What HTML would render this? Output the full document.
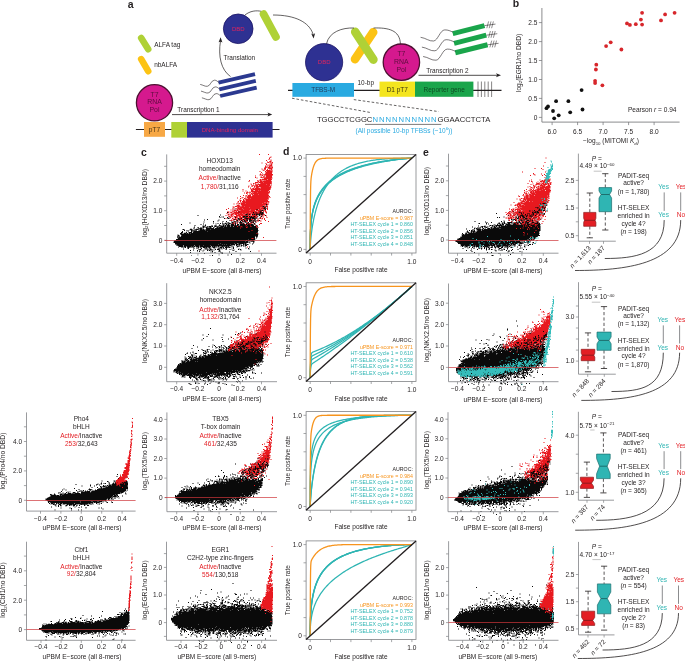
<!DOCTYPE html><html><head><meta charset="utf-8"><style>html,body{margin:0;padding:0;background:#fff;overflow:hidden}svg{display:block}</style></head><body>
<svg width="685" height="662" viewBox="0 0 685 662" font-family="'Liberation Sans', Arial, sans-serif" fill="#231f20">
<text x="127.8" y="7.7" font-size="10.5" font-weight="bold">a</text>
<line x1="141.2" y1="38" x2="148.2" y2="49.3" stroke="#afd136" stroke-width="6.6" stroke-linecap="round"/>
<line x1="141.2" y1="59.2" x2="148.2" y2="71.2" stroke="#fcc314" stroke-width="6.6" stroke-linecap="round"/>
<text x="154.2" y="47.3" font-size="6.45">ALFA tag</text>
<text x="154.2" y="67.0" font-size="6.45">nbALFA</text>
<line x1="135.9" y1="129.5" x2="279.5" y2="129.5" stroke="#231f20" stroke-width="1.1"/>
<rect x="144" y="122" width="21" height="14.8" fill="#f7a845"/>
<text x="154.5" y="132.2" font-size="6.6" text-anchor="middle" fill="#4a3515">pT7</text>
<rect x="171.3" y="122" width="16" height="15.6" fill="#afd136"/>
<rect x="187" y="122" width="85.6" height="15.6" fill="#2e3192"/>
<text x="229.8" y="132.3" font-size="6.1" text-anchor="middle" fill="#e0245e">DNA-binding domain</text>
<line x1="172" y1="114.6" x2="269" y2="114.6" stroke="#231f20" stroke-width="0.8"/>
<path d="M272.2 114.6 L267.5 112.6 L268.6 114.6 L267.5 116.6 Z" fill="#231f20"/>
<text x="177.3" y="112.2" font-size="6.45">Transcription 1</text>
<circle cx="154.5" cy="102.8" r="18.1" fill="#d5198e" stroke="#4d0f31" stroke-width="1.3"/>
<text x="154.5" y="96.9" font-size="6.9" text-anchor="middle" fill="#5e0e3e">T7</text>
<text x="154.5" y="104.4" font-size="6.9" text-anchor="middle" fill="#5e0e3e">RNA</text>
<text x="154.5" y="111.6" font-size="6.9" text-anchor="middle" fill="#5e0e3e">Pol</text>
<line x1="218.5" y1="82.6" x2="255" y2="74.2" stroke="#2b3990" stroke-width="3.8"/>
<path d="M200.2 84.4 C203.0 85.0 205.0 86.6 207.3 86.3 C210.5 86.0 211.0 80.3 214.4 80.2 C216.5 80.1 217.5 81.5 218.8 82.6" fill="none" stroke="#231f20" stroke-width="0.6"/>
<line x1="219.3" y1="89.3" x2="255.8" y2="80.9" stroke="#2b3990" stroke-width="3.8"/>
<path d="M201.0 91.1 C203.8 91.7 205.8 93.3 208.1 93.0 C211.3 92.7 211.8 87.0 215.2 86.9 C217.3 86.8 218.3 88.2 219.6 89.3" fill="none" stroke="#231f20" stroke-width="0.6"/>
<line x1="220.2" y1="96" x2="256.7" y2="87.6" stroke="#2b3990" stroke-width="3.8"/>
<path d="M201.9 97.8 C204.7 98.4 206.7 100.0 209.0 99.7 C212.2 99.4 212.7 93.7 216.1 93.6 C218.2 93.5 219.2 94.9 220.5 96.0" fill="none" stroke="#231f20" stroke-width="0.6"/>
<path d="M230.5 76.5 C221 70 218 56 220.5 41" fill="none" stroke="#231f20" stroke-width="0.7"/>
<path d="M220.6 37.2 L218.6 42.3 L220.6 41.4 L222.4 42.6 Z" fill="#231f20"/>
<text x="223.5" y="60.0" font-size="6.45">Translation</text>
<circle cx="238.2" cy="28.8" r="14.8" fill="#2e3192" stroke="#1b1464" stroke-width="0.8"/>
<text x="238.3" y="30.8" font-size="6.0" text-anchor="middle" fill="#e0245e">DBD</text>
<path d="M245 15 C250 11 256 10 262 11.5" fill="none" stroke="#231f20" stroke-width="0.7"/>
<line x1="263.6" y1="14.2" x2="275.9" y2="36.9" stroke="#afd136" stroke-width="7.8" stroke-linecap="round"/>
<path d="M273 15 C295 15 309 22 313 34" fill="none" stroke="#231f20" stroke-width="0.7"/>
<path d="M313.6 38.6 L311.2 33.6 L313.2 34.6 L315.1 33.2 Z" fill="#231f20"/>
<line x1="288" y1="90.4" x2="501.5" y2="90.4" stroke="#231f20" stroke-width="1.1"/>
<rect x="292.4" y="83" width="61.6" height="13.8" fill="#29aae1"/>
<text x="323.2" y="92.3" font-size="6.45" text-anchor="middle" fill="#1f3a5a">TFBS-M</text>
<text x="357.5" y="84.5" font-size="6.45">10-bp</text>
<rect x="379.5" y="81.6" width="35.6" height="15.2" fill="#f4e51e"/>
<text x="397.3" y="91.8" font-size="6.5" text-anchor="middle" fill="#3a3510">D1 pT7</text>
<rect x="415" y="81.6" width="58.4" height="15.2" fill="#1aa54b"/>
<text x="444.2" y="91.8" font-size="6.45" text-anchor="middle" fill="#0d4a22">Reporter gene</text>
<line x1="478.0" y1="81.5" x2="478.0" y2="97" stroke="#231f20" stroke-width="0.55"/>
<line x1="481.4" y1="81.5" x2="481.4" y2="97" stroke="#231f20" stroke-width="0.55"/>
<line x1="484.8" y1="81.5" x2="484.8" y2="97" stroke="#231f20" stroke-width="0.55"/>
<line x1="488.2" y1="81.5" x2="488.2" y2="97" stroke="#231f20" stroke-width="0.55"/>
<line x1="491.6" y1="81.5" x2="491.6" y2="97" stroke="#231f20" stroke-width="0.55"/>
<circle cx="324.1" cy="62.2" r="18.6" fill="#2e3192" stroke="#1b1464" stroke-width="0.8"/>
<text x="324.2" y="64.3" font-size="6.0" text-anchor="middle" fill="#e0245e">DBD</text>
<line x1="373.2" y1="32.2" x2="355" y2="59.2" stroke="#fcc314" stroke-width="8.6" stroke-linecap="round"/>
<line x1="355.2" y1="31.8" x2="373.4" y2="59.6" stroke="#afd136" stroke-width="8.6" stroke-linecap="round"/>
<path d="M326.5 43.8 C329 32 342 27.5 354 28" fill="none" stroke="#231f20" stroke-width="0.7"/>
<path d="M373.5 28 C388 27.5 400 30 400.4 44" fill="none" stroke="#231f20" stroke-width="0.7"/>
<circle cx="401.4" cy="62.2" r="18.2" fill="#d5198e" stroke="#4d0f31" stroke-width="1.3"/>
<text x="401.4" y="56.3" font-size="6.9" text-anchor="middle" fill="#5e0e3e">T7</text>
<text x="401.4" y="64.2" font-size="6.9" text-anchor="middle" fill="#5e0e3e">RNA</text>
<text x="401.4" y="71.9" font-size="6.9" text-anchor="middle" fill="#5e0e3e">Pol</text>
<line x1="418.5" y1="75.3" x2="497.5" y2="75.3" stroke="#231f20" stroke-width="0.8"/>
<path d="M501 75.3 L496 73.3 L497.2 75.3 L496 77.3 Z" fill="#231f20"/>
<text x="426.2" y="72.6" font-size="6.45">Transcription 2</text>
<line x1="452.8" y1="33.6" x2="484.5" y2="25.6" stroke="#1aa54b" stroke-width="5.0"/>
<path d="M420.6 37.3 C426.0 38.0 429.0 41.5 433.6 41.0 C438.0 40.5 440.0 30.0 444.8 29.9 C448.0 29.8 450.5 31.0 453.0 32.2" fill="none" stroke="#231f20" stroke-width="0.6"/>
<line x1="484.5" y1="25.6" x2="495.5" y2="24.1" stroke="#231f20" stroke-width="0.55"/>
<line x1="488.6" y1="21.4" x2="486.8" y2="28.2" stroke="#231f20" stroke-width="0.5"/>
<line x1="491.0" y1="21.4" x2="489.2" y2="28.2" stroke="#231f20" stroke-width="0.5"/>
<line x1="493.4" y1="21.4" x2="491.6" y2="28.2" stroke="#231f20" stroke-width="0.5"/>
<line x1="454.1" y1="43.4" x2="486.3" y2="35.2" stroke="#1aa54b" stroke-width="5.0"/>
<path d="M421.9 47.1 C427.3 47.8 430.3 51.3 434.9 50.8 C439.3 50.3 441.3 39.8 446.1 39.7 C449.3 39.6 451.8 40.8 454.3 42.0" fill="none" stroke="#231f20" stroke-width="0.6"/>
<line x1="486.3" y1="35.2" x2="497.3" y2="33.7" stroke="#231f20" stroke-width="0.55"/>
<line x1="490.4" y1="31.0" x2="488.6" y2="37.8" stroke="#231f20" stroke-width="0.5"/>
<line x1="492.8" y1="31.0" x2="491.0" y2="37.8" stroke="#231f20" stroke-width="0.5"/>
<line x1="495.2" y1="31.0" x2="493.4" y2="37.8" stroke="#231f20" stroke-width="0.5"/>
<line x1="455.3" y1="52.8" x2="487.6" y2="44.8" stroke="#1aa54b" stroke-width="5.0"/>
<path d="M423.1 56.5 C428.5 57.2 431.5 60.7 436.1 60.2 C440.5 59.7 442.5 49.2 447.3 49.1 C450.5 49.0 453.0 50.2 455.5 51.4" fill="none" stroke="#231f20" stroke-width="0.6"/>
<line x1="487.6" y1="44.8" x2="498.6" y2="43.3" stroke="#231f20" stroke-width="0.55"/>
<line x1="491.7" y1="40.6" x2="489.9" y2="47.4" stroke="#231f20" stroke-width="0.5"/>
<line x1="494.1" y1="40.6" x2="492.3" y2="47.4" stroke="#231f20" stroke-width="0.5"/>
<line x1="496.5" y1="40.6" x2="494.7" y2="47.4" stroke="#231f20" stroke-width="0.5"/>
<line x1="292" y1="98.2" x2="371.5" y2="112.7" stroke="#231f20" stroke-width="0.7" stroke-dasharray="2.6 1.9"/>
<line x1="353.8" y1="99.6" x2="438.7" y2="111.6" stroke="#231f20" stroke-width="0.7" stroke-dasharray="2.6 1.9"/>
<text x="316.9" y="121.6" font-size="7.7" fill="#231f20">TGGCCTCGGC<tspan fill="#29aae1" letter-spacing="0.95">NNNNNNNNNN</tspan>GGAACCTCTA</text>
<line x1="365" y1="124.4" x2="441.3" y2="124.4" stroke="#231f20" stroke-width="0.6"/>
<text x="355.6" y="132.8" font-size="6.5" fill="#29aae1">(All possible 10-bp TFBSs (~10<tspan font-size="4.4" dy="-2.4">6</tspan><tspan dy="2.4">))</tspan></text>
<text x="512.8" y="7.1" font-size="10.5" font-weight="bold">b</text>
<line x1="541.9" y1="8" x2="541.9" y2="122.1" stroke="#6d6e71" stroke-width="0.8"/>
<line x1="541.9" y1="122.1" x2="679.6" y2="122.1" stroke="#6d6e71" stroke-width="0.8"/>
<line x1="538.9" y1="117.4" x2="541.9" y2="117.4" stroke="#6d6e71" stroke-width="0.7"/>
<text x="537.4" y="119.7" font-size="6.55" text-anchor="end">0</text>
<line x1="538.9" y1="98.4" x2="541.9" y2="98.4" stroke="#6d6e71" stroke-width="0.7"/>
<text x="537.4" y="100.7" font-size="6.55" text-anchor="end">0.5</text>
<line x1="538.9" y1="79.5" x2="541.9" y2="79.5" stroke="#6d6e71" stroke-width="0.7"/>
<text x="537.4" y="81.8" font-size="6.55" text-anchor="end">1.0</text>
<line x1="538.9" y1="60.5" x2="541.9" y2="60.5" stroke="#6d6e71" stroke-width="0.7"/>
<text x="537.4" y="62.8" font-size="6.55" text-anchor="end">1.5</text>
<line x1="538.9" y1="41.6" x2="541.9" y2="41.6" stroke="#6d6e71" stroke-width="0.7"/>
<text x="537.4" y="43.9" font-size="6.55" text-anchor="end">2.0</text>
<line x1="538.9" y1="22.6" x2="541.9" y2="22.6" stroke="#6d6e71" stroke-width="0.7"/>
<text x="537.4" y="24.9" font-size="6.55" text-anchor="end">2.5</text>
<line x1="552.1" y1="122.1" x2="552.1" y2="125.1" stroke="#6d6e71" stroke-width="0.7"/>
<text x="552.1" y="133.7" font-size="6.55" text-anchor="middle">6.0</text>
<line x1="577.6" y1="122.1" x2="577.6" y2="125.1" stroke="#6d6e71" stroke-width="0.7"/>
<text x="577.6" y="133.7" font-size="6.55" text-anchor="middle">6.5</text>
<line x1="603.1" y1="122.1" x2="603.1" y2="125.1" stroke="#6d6e71" stroke-width="0.7"/>
<text x="603.1" y="133.7" font-size="6.55" text-anchor="middle">7.0</text>
<line x1="628.6" y1="122.1" x2="628.6" y2="125.1" stroke="#6d6e71" stroke-width="0.7"/>
<text x="628.6" y="133.7" font-size="6.55" text-anchor="middle">7.5</text>
<line x1="654.1" y1="122.1" x2="654.1" y2="125.1" stroke="#6d6e71" stroke-width="0.7"/>
<text x="654.1" y="133.7" font-size="6.55" text-anchor="middle">8.0</text>
<text x="611" y="143.4" font-size="6.55" fill="#231f20" text-anchor="middle">−log<tspan font-size="4.4" dy="1.8">10</tspan><tspan dy="-1.8"> (MITOMI </tspan><tspan font-style="italic">K</tspan><tspan font-size="4.4" dy="1.8" font-style="italic">d</tspan><tspan dy="-1.8">)</tspan></text>
<text transform="translate(520.5 63) rotate(-90)" font-size="6.55" fill="#231f20" text-anchor="middle">log<tspan font-size="4.4" dy="1.8">2</tspan><tspan dy="-1.8">(EGR1/no DBD)</tspan></text>
<text x="676.5" y="111.9" font-size="6.55" text-anchor="end">Pearson <tspan font-style="italic">r</tspan> = 0.94</text>
<circle cx="546.5" cy="108.2" r="1.9" fill="#111"/>
<circle cx="548" cy="106.4" r="1.9" fill="#111"/>
<circle cx="553" cy="111" r="1.9" fill="#111"/>
<circle cx="554.2" cy="118.3" r="1.9" fill="#111"/>
<circle cx="556.1" cy="101.2" r="1.9" fill="#111"/>
<circle cx="558.7" cy="115.3" r="1.9" fill="#111"/>
<circle cx="568.4" cy="101.2" r="1.9" fill="#111"/>
<circle cx="570.2" cy="112.3" r="1.9" fill="#111"/>
<circle cx="581.6" cy="90.1" r="1.9" fill="#111"/>
<circle cx="582.5" cy="109.5" r="1.9" fill="#111"/>
<circle cx="642.1" cy="12.8" r="1.9" fill="#d7262b"/>
<circle cx="665.1" cy="14.4" r="1.9" fill="#d7262b"/>
<circle cx="674.6" cy="12.8" r="1.9" fill="#d7262b"/>
<circle cx="640.9" cy="19.6" r="1.9" fill="#d7262b"/>
<circle cx="661" cy="20.4" r="1.9" fill="#d7262b"/>
<circle cx="627" cy="23.4" r="1.9" fill="#d7262b"/>
<circle cx="629.9" cy="24.9" r="1.9" fill="#d7262b"/>
<circle cx="635.8" cy="24.2" r="1.9" fill="#d7262b"/>
<circle cx="642.1" cy="24.6" r="1.9" fill="#d7262b"/>
<circle cx="610.7" cy="42.3" r="1.9" fill="#d7262b"/>
<circle cx="606.1" cy="46.1" r="1.9" fill="#d7262b"/>
<circle cx="621.4" cy="49.5" r="1.9" fill="#d7262b"/>
<circle cx="596.3" cy="64.7" r="1.9" fill="#d7262b"/>
<circle cx="595.9" cy="69.5" r="1.9" fill="#d7262b"/>
<circle cx="595.1" cy="80.8" r="1.9" fill="#d7262b"/>
<circle cx="595.1" cy="83.1" r="1.9" fill="#d7262b"/>
<circle cx="602.4" cy="85.3" r="1.9" fill="#d7262b"/>
<path transform="translate(166 150) scale(0.5)" fill="#0a0a0a" d="M153 111h2v1h-2zM153 112h2v1h-2zM137 117h2v1h-2zM137 118h2v1h-2zM159 123h2v1h-2zM122 124h2v1h-2zM159 124h2v1h-2zM122 125h2v1h-2zM163 128h2v1h-2zM108 129h2v1h-2zM163 129h2v1h-2zM63 130h2v1h-2zM108 130h2v1h-2zM63 131h2v1h-2zM158 131h2v1h-2zM106 132h2v1h-2zM158 132h2v1h-2zM106 133h2v1h-2zM111 133h2v1h-2zM114 133h2v1h-2zM125 133h2v1h-2zM107 134h2v1h-2zM111 134h2v1h-2zM114 134h2v1h-2zM122 134h2v1h-2zM125 134h2v1h-2zM140 134h2v1h-2zM107 135h2v1h-2zM122 135h2v1h-2zM140 135h2v1h-2zM174 135h2v1h-2zM116 136h2v1h-2zM123 136h4v1h-4zM160 136h3v1h-3zM174 136h2v1h-2zM116 137h2v1h-2zM123 137h4v1h-4zM158 137h5v1h-5zM82 138h2v1h-2zM136 138h2v1h-2zM158 138h2v1h-2zM76 139h2v1h-2zM82 139h2v1h-2zM105 139h2v1h-2zM136 139h2v1h-2zM146 139h2v1h-2zM151 139h3v1h-3zM158 139h2v1h-2zM76 140h2v1h-2zM105 140h2v1h-2zM127 140h2v1h-2zM146 140h2v1h-2zM151 140h3v1h-3zM158 140h3v1h-3zM103 141h2v1h-2zM127 141h2v1h-2zM135 141h2v1h-2zM153 141h2v1h-2zM157 141h4v1h-4zM94 142h2v1h-2zM103 142h2v1h-2zM113 142h2v1h-2zM120 142h2v1h-2zM135 142h4v1h-4zM148 142h2v1h-2zM153 142h6v1h-6zM166 142h2v1h-2zM75 143h2v1h-2zM94 143h2v1h-2zM113 143h2v1h-2zM120 143h2v1h-2zM130 143h2v1h-2zM133 143h2v1h-2zM136 143h4v1h-4zM143 143h2v1h-2zM148 143h2v1h-2zM151 143h2v1h-2zM155 143h2v1h-2zM158 143h2v1h-2zM166 143h2v1h-2zM75 144h2v1h-2zM123 144h2v1h-2zM130 144h5v1h-5zM138 144h2v1h-2zM143 144h2v1h-2zM147 144h6v1h-6zM158 144h2v1h-2zM164 144h2v1h-2zM169 144h5v1h-5zM47 145h2v1h-2zM94 145h2v1h-2zM112 145h2v1h-2zM119 145h2v1h-2zM123 145h4v1h-4zM132 145h5v1h-5zM146 145h7v1h-7zM155 145h2v1h-2zM160 145h3v1h-3zM164 145h2v1h-2zM169 145h6v1h-6zM47 146h2v1h-2zM94 146h2v1h-2zM103 146h2v1h-2zM108 146h2v1h-2zM112 146h2v1h-2zM118 146h5v1h-5zM124 146h5v1h-5zM132 146h5v1h-5zM138 146h2v1h-2zM146 146h7v1h-7zM154 146h3v1h-3zM160 146h5v1h-5zM169 146h2v1h-2zM173 146h2v1h-2zM74 147h2v1h-2zM99 147h2v1h-2zM103 147h2v1h-2zM108 147h2v1h-2zM113 147h7v1h-7zM121 147h2v1h-2zM125 147h12v1h-12zM138 147h2v1h-2zM142 147h2v1h-2zM148 147h8v1h-8zM161 147h10v1h-10zM177 147h2v1h-2zM30 148h2v1h-2zM69 148h2v1h-2zM74 148h2v1h-2zM99 148h2v1h-2zM113 148h6v1h-6zM120 148h3v1h-3zM124 148h4v1h-4zM129 148h7v1h-7zM138 148h2v1h-2zM142 148h4v1h-4zM148 148h14v1h-14zM163 148h6v1h-6zM170 148h4v1h-4zM177 148h2v1h-2zM30 149h2v1h-2zM69 149h2v1h-2zM78 149h2v1h-2zM106 149h2v1h-2zM113 149h2v1h-2zM120 149h3v1h-3zM124 149h2v1h-2zM130 149h6v1h-6zM138 149h2v1h-2zM142 149h4v1h-4zM147 149h29v1h-29zM57 150h2v1h-2zM78 150h2v1h-2zM91 150h2v1h-2zM99 150h2v1h-2zM106 150h3v1h-3zM114 150h2v1h-2zM117 150h11v1h-11zM130 150h10v1h-10zM141 150h5v1h-5zM147 150h29v1h-29zM179 150h3v1h-3zM57 151h2v1h-2zM73 151h4v1h-4zM78 151h2v1h-2zM91 151h2v1h-2zM96 151h5v1h-5zM105 151h11v1h-11zM117 151h3v1h-3zM122 151h23v1h-23zM147 151h14v1h-14zM162 151h14v1h-14zM179 151h5v1h-5zM73 152h4v1h-4zM78 152h2v1h-2zM83 152h2v1h-2zM86 152h5v1h-5zM92 152h2v1h-2zM96 152h7v1h-7zM105 152h2v1h-2zM109 152h8v1h-8zM118 152h2v1h-2zM121 152h13v1h-13zM136 152h48v1h-48zM56 153h2v1h-2zM73 153h5v1h-5zM81 153h4v1h-4zM86 153h8v1h-8zM97 153h3v1h-3zM101 153h6v1h-6zM108 153h12v1h-12zM121 153h7v1h-7zM130 153h53v1h-53zM56 154h2v1h-2zM63 154h2v1h-2zM73 154h5v1h-5zM79 154h4v1h-4zM85 154h2v1h-2zM88 154h4v1h-4zM95 154h2v1h-2zM101 154h82v1h-82zM55 155h2v1h-2zM63 155h3v1h-3zM68 155h5v1h-5zM74 155h2v1h-2zM79 155h5v1h-5zM85 155h5v1h-5zM94 155h3v1h-3zM101 155h3v1h-3zM105 155h10v1h-10zM116 155h67v1h-67zM55 156h2v1h-2zM64 156h2v1h-2zM67 156h6v1h-6zM74 156h2v1h-2zM80 156h16v1h-16zM98 156h86v1h-86zM49 157h2v1h-2zM55 157h2v1h-2zM61 157h2v1h-2zM65 157h8v1h-8zM80 157h17v1h-17zM98 157h86v1h-86zM33 158h4v1h-4zM48 158h4v1h-4zM55 158h2v1h-2zM59 158h14v1h-14zM74 158h2v1h-2zM79 158h10v1h-10zM90 158h94v1h-94zM33 159h4v1h-4zM47 159h7v1h-7zM57 159h8v1h-8zM68 159h10v1h-10zM79 159h105v1h-105zM36 160h2v1h-2zM41 160h2v1h-2zM47 160h2v1h-2zM50 160h4v1h-4zM55 160h6v1h-6zM67 160h11v1h-11zM79 160h106v1h-106zM36 161h2v1h-2zM41 161h2v1h-2zM44 161h2v1h-2zM50 161h2v1h-2zM53 161h4v1h-4zM59 161h3v1h-3zM64 161h121v1h-121zM32 162h2v1h-2zM41 162h2v1h-2zM44 162h2v1h-2zM50 162h2v1h-2zM53 162h29v1h-29zM83 162h101v1h-101zM32 163h2v1h-2zM50 163h3v1h-3zM55 163h129v1h-129zM30 164h4v1h-4zM40 164h2v1h-2zM46 164h7v1h-7zM54 164h129v1h-129zM30 165h4v1h-4zM37 165h2v1h-2zM40 165h2v1h-2zM44 165h8v1h-8zM54 165h130v1h-130zM28 166h4v1h-4zM35 166h6v1h-6zM42 166h6v1h-6zM49 166h135v1h-135zM28 167h6v1h-6zM35 167h9v1h-9zM46 167h139v1h-139zM29 168h156v1h-156zM23 169h2v1h-2zM29 169h155v1h-155zM23 170h4v1h-4zM31 170h153v1h-153zM23 171h4v1h-4zM30 171h154v1h-154zM23 172h4v1h-4zM30 172h154v1h-154zM22 173h2v1h-2zM25 173h3v1h-3zM29 173h149v1h-149zM180 173h3v1h-3zM22 174h2v1h-2zM25 174h153v1h-153zM181 174h2v1h-2zM23 175h155v1h-155zM180 175h2v1h-2zM23 176h155v1h-155zM180 176h2v1h-2zM24 177h155v1h-155zM20 178h145v1h-145zM166 178h13v1h-13zM20 179h158v1h-158zM19 180h142v1h-142zM162 180h13v1h-13zM16 181h145v1h-145zM162 181h7v1h-7zM171 181h6v1h-6zM16 182h142v1h-142zM159 182h5v1h-5zM169 182h8v1h-8zM15 183h153v1h-153zM169 183h2v1h-2zM173 183h4v1h-4zM15 184h153v1h-153zM175 184h2v1h-2zM15 185h149v1h-149zM167 185h2v1h-2zM174 185h2v1h-2zM18 186h91v1h-91zM110 186h33v1h-33zM145 186h15v1h-15zM167 186h2v1h-2zM174 186h2v1h-2zM18 187h118v1h-118zM137 187h6v1h-6zM144 187h13v1h-13zM158 187h4v1h-4zM172 187h2v1h-2zM19 188h98v1h-98zM118 188h11v1h-11zM130 188h9v1h-9zM140 188h9v1h-9zM154 188h3v1h-3zM158 188h7v1h-7zM172 188h2v1h-2zM19 189h2v1h-2zM22 189h82v1h-82zM105 189h8v1h-8zM114 189h6v1h-6zM121 189h17v1h-17zM140 189h4v1h-4zM145 189h4v1h-4zM150 189h2v1h-2zM154 189h3v1h-3zM158 189h3v1h-3zM162 189h3v1h-3zM21 190h14v1h-14zM36 190h99v1h-99zM136 190h2v1h-2zM140 190h2v1h-2zM145 190h2v1h-2zM150 190h2v1h-2zM153 190h2v1h-2zM158 190h4v1h-4zM21 191h2v1h-2zM24 191h11v1h-11zM36 191h20v1h-20zM58 191h8v1h-8zM67 191h8v1h-8zM76 191h12v1h-12zM89 191h42v1h-42zM140 191h4v1h-4zM145 191h4v1h-4zM150 191h2v1h-2zM153 191h4v1h-4zM158 191h4v1h-4zM26 192h9v1h-9zM36 192h18v1h-18zM55 192h3v1h-3zM59 192h7v1h-7zM67 192h23v1h-23zM91 192h10v1h-10zM103 192h4v1h-4zM111 192h12v1h-12zM124 192h5v1h-5zM131 192h2v1h-2zM142 192h7v1h-7zM150 192h2v1h-2zM154 192h3v1h-3zM158 192h2v1h-2zM24 193h11v1h-11zM36 193h4v1h-4zM42 193h8v1h-8zM51 193h7v1h-7zM59 193h8v1h-8zM68 193h22v1h-22zM92 193h3v1h-3zM96 193h2v1h-2zM99 193h4v1h-4zM104 193h3v1h-3zM108 193h6v1h-6zM115 193h2v1h-2zM119 193h7v1h-7zM131 193h2v1h-2zM134 193h2v1h-2zM141 193h4v1h-4zM166 193h2v1h-2zM24 194h2v1h-2zM30 194h2v1h-2zM33 194h2v1h-2zM36 194h4v1h-4zM43 194h5v1h-5zM49 194h2v1h-2zM52 194h4v1h-4zM60 194h7v1h-7zM68 194h3v1h-3zM73 194h9v1h-9zM83 194h6v1h-6zM93 194h5v1h-5zM99 194h4v1h-4zM104 194h2v1h-2zM107 194h6v1h-6zM114 194h2v1h-2zM118 194h11v1h-11zM131 194h2v1h-2zM134 194h2v1h-2zM141 194h2v1h-2zM166 194h2v1h-2zM33 195h2v1h-2zM38 195h2v1h-2zM42 195h5v1h-5zM49 195h2v1h-2zM55 195h2v1h-2zM64 195h2v1h-2zM69 195h2v1h-2zM74 195h5v1h-5zM80 195h2v1h-2zM83 195h2v1h-2zM86 195h2v1h-2zM89 195h2v1h-2zM93 195h6v1h-6zM107 195h6v1h-6zM114 195h2v1h-2zM118 195h5v1h-5zM125 195h4v1h-4zM134 195h2v1h-2zM159 195h2v1h-2zM42 196h4v1h-4zM55 196h2v1h-2zM61 196h2v1h-2zM64 196h2v1h-2zM69 196h3v1h-3zM76 196h3v1h-3zM81 196h2v1h-2zM86 196h2v1h-2zM89 196h2v1h-2zM95 196h4v1h-4zM105 196h7v1h-7zM114 196h3v1h-3zM120 196h2v1h-2zM134 196h2v1h-2zM159 196h2v1h-2zM164 196h2v1h-2zM34 197h2v1h-2zM44 197h2v1h-2zM55 197h2v1h-2zM61 197h2v1h-2zM70 197h2v1h-2zM78 197h5v1h-5zM85 197h2v1h-2zM88 197h2v1h-2zM103 197h4v1h-4zM111 197h2v1h-2zM115 197h2v1h-2zM119 197h3v1h-3zM131 197h2v1h-2zM134 197h2v1h-2zM145 197h2v1h-2zM164 197h3v1h-3zM34 198h2v1h-2zM65 198h2v1h-2zM68 198h2v1h-2zM78 198h5v1h-5zM85 198h2v1h-2zM88 198h2v1h-2zM91 198h2v1h-2zM98 198h2v1h-2zM102 198h5v1h-5zM111 198h2v1h-2zM119 198h3v1h-3zM127 198h2v1h-2zM131 198h2v1h-2zM144 198h3v1h-3zM148 198h2v1h-2zM165 198h2v1h-2zM54 199h2v1h-2zM65 199h6v1h-6zM75 199h2v1h-2zM82 199h2v1h-2zM85 199h2v1h-2zM88 199h5v1h-5zM95 199h2v1h-2zM98 199h2v1h-2zM102 199h7v1h-7zM119 199h2v1h-2zM127 199h2v1h-2zM135 199h2v1h-2zM144 199h2v1h-2zM148 199h3v1h-3zM48 200h2v1h-2zM54 200h2v1h-2zM62 200h2v1h-2zM66 200h2v1h-2zM69 200h2v1h-2zM75 200h2v1h-2zM82 200h2v1h-2zM85 200h7v1h-7zM95 200h2v1h-2zM105 200h4v1h-4zM133 200h4v1h-4zM149 200h2v1h-2zM48 201h2v1h-2zM62 201h2v1h-2zM73 201h2v1h-2zM82 201h2v1h-2zM86 201h2v1h-2zM92 201h2v1h-2zM106 201h2v1h-2zM133 201h2v1h-2zM62 202h2v1h-2zM66 202h2v1h-2zM73 202h2v1h-2zM92 202h2v1h-2zM105 202h3v1h-3zM139 202h2v1h-2zM168 202h2v1h-2zM66 203h2v1h-2zM89 203h2v1h-2zM92 203h2v1h-2zM105 203h2v1h-2zM108 203h2v1h-2zM126 203h2v1h-2zM139 203h2v1h-2zM168 203h2v1h-2zM48 204h2v1h-2zM89 204h2v1h-2zM92 204h2v1h-2zM97 204h2v1h-2zM108 204h2v1h-2zM111 204h2v1h-2zM126 204h2v1h-2zM48 205h2v1h-2zM97 205h2v1h-2zM111 205h2v1h-2zM76 206h2v1h-2zM111 206h3v1h-3zM76 207h2v1h-2zM111 207h3v1h-3zM130 208h2v1h-2zM123 209h2v1h-2zM130 209h2v1h-2zM92 210h2v1h-2zM123 210h2v1h-2zM50 211h2v1h-2zM87 211h2v1h-2zM92 211h2v1h-2z"/>
<path transform="translate(166 150) scale(0.5)" fill="#e8191f" d="M186 8h2v1h-2zM204 8h2v1h-2zM186 9h2v1h-2zM204 9h2v1h-2zM209 13h2v1h-2zM207 14h4v1h-4zM207 15h2v1h-2zM206 16h2v1h-2zM206 17h2v1h-2zM205 18h2v1h-2zM205 19h2v1h-2zM209 19h2v1h-2zM200 20h2v1h-2zM209 20h2v1h-2zM200 21h2v1h-2zM209 21h2v1h-2zM207 22h4v1h-4zM202 23h2v1h-2zM206 23h5v1h-5zM202 24h8v1h-8zM212 24h2v1h-2zM191 25h2v1h-2zM203 25h3v1h-3zM209 25h5v1h-5zM191 26h2v1h-2zM199 26h2v1h-2zM209 26h4v1h-4zM199 27h2v1h-2zM207 27h2v1h-2zM211 27h2v1h-2zM200 28h2v1h-2zM207 28h2v1h-2zM210 28h3v1h-3zM200 29h2v1h-2zM203 29h2v1h-2zM207 29h2v1h-2zM210 29h2v1h-2zM203 30h2v1h-2zM207 30h5v1h-5zM198 31h2v1h-2zM201 31h2v1h-2zM205 31h8v1h-8zM198 32h2v1h-2zM201 32h2v1h-2zM205 32h3v1h-3zM209 32h4v1h-4zM198 33h2v1h-2zM201 33h2v1h-2zM206 33h4v1h-4zM211 33h2v1h-2zM198 34h5v1h-5zM204 34h6v1h-6zM211 34h3v1h-3zM196 35h5v1h-5zM203 35h5v1h-5zM209 35h5v1h-5zM196 36h4v1h-4zM203 36h10v1h-10zM191 37h2v1h-2zM196 37h4v1h-4zM205 37h8v1h-8zM191 38h2v1h-2zM196 38h4v1h-4zM202 38h2v1h-2zM207 38h2v1h-2zM210 38h2v1h-2zM193 39h2v1h-2zM197 39h2v1h-2zM202 39h2v1h-2zM207 39h2v1h-2zM210 39h3v1h-3zM193 40h4v1h-4zM200 40h9v1h-9zM211 40h2v1h-2zM195 41h2v1h-2zM200 41h13v1h-13zM187 42h2v1h-2zM198 42h2v1h-2zM202 42h11v1h-11zM187 43h2v1h-2zM198 43h15v1h-15zM190 44h2v1h-2zM199 44h14v1h-14zM190 45h2v1h-2zM199 45h13v1h-13zM199 46h13v1h-13zM188 47h2v1h-2zM192 47h2v1h-2zM198 47h14v1h-14zM188 48h3v1h-3zM192 48h2v1h-2zM195 48h2v1h-2zM198 48h16v1h-16zM187 49h4v1h-4zM195 49h19v1h-19zM187 50h2v1h-2zM192 50h2v1h-2zM197 50h2v1h-2zM200 50h13v1h-13zM178 51h2v1h-2zM189 51h5v1h-5zM195 51h4v1h-4zM200 51h13v1h-13zM178 52h2v1h-2zM189 52h3v1h-3zM195 52h4v1h-4zM200 52h12v1h-12zM194 53h3v1h-3zM200 53h12v1h-12zM178 54h2v1h-2zM189 54h4v1h-4zM194 54h3v1h-3zM199 54h13v1h-13zM178 55h2v1h-2zM181 55h2v1h-2zM189 55h6v1h-6zM196 55h17v1h-17zM181 56h2v1h-2zM193 56h2v1h-2zM196 56h17v1h-17zM196 57h15v1h-15zM188 58h3v1h-3zM192 58h10v1h-10zM204 58h8v1h-8zM187 59h4v1h-4zM192 59h20v1h-20zM166 60h2v1h-2zM183 60h2v1h-2zM187 60h4v1h-4zM192 60h2v1h-2zM196 60h3v1h-3zM200 60h11v1h-11zM166 61h2v1h-2zM182 61h3v1h-3zM187 61h5v1h-5zM194 61h2v1h-2zM197 61h13v1h-13zM165 62h2v1h-2zM182 62h4v1h-4zM187 62h5v1h-5zM193 62h18v1h-18zM165 63h2v1h-2zM184 63h2v1h-2zM188 63h24v1h-24zM178 64h6v1h-6zM186 64h8v1h-8zM195 64h17v1h-17zM178 65h33v1h-33zM174 66h2v1h-2zM177 66h2v1h-2zM183 66h3v1h-3zM188 66h23v1h-23zM169 67h2v1h-2zM174 67h2v1h-2zM177 67h4v1h-4zM189 67h23v1h-23zM169 68h2v1h-2zM179 68h2v1h-2zM183 68h18v1h-18zM202 68h6v1h-6zM209 68h3v1h-3zM170 69h2v1h-2zM174 69h2v1h-2zM178 69h30v1h-30zM170 70h2v1h-2zM173 70h3v1h-3zM178 70h6v1h-6zM186 70h22v1h-22zM209 70h2v1h-2zM165 71h2v1h-2zM172 71h3v1h-3zM176 71h2v1h-2zM179 71h5v1h-5zM185 71h23v1h-23zM209 71h2v1h-2zM165 72h2v1h-2zM171 72h3v1h-3zM176 72h2v1h-2zM179 72h28v1h-28zM208 72h2v1h-2zM164 73h2v1h-2zM171 73h2v1h-2zM176 73h3v1h-3zM180 73h31v1h-31zM164 74h2v1h-2zM176 74h3v1h-3zM180 74h7v1h-7zM189 74h22v1h-22zM168 75h2v1h-2zM175 75h2v1h-2zM180 75h5v1h-5zM189 75h21v1h-21zM168 76h2v1h-2zM173 76h4v1h-4zM178 76h11v1h-11zM190 76h20v1h-20zM169 77h2v1h-2zM172 77h5v1h-5zM178 77h31v1h-31zM153 78h2v1h-2zM169 78h40v1h-40zM153 79h2v1h-2zM170 79h2v1h-2zM173 79h36v1h-36zM170 80h4v1h-4zM178 80h10v1h-10zM189 80h17v1h-17zM153 81h2v1h-2zM159 81h2v1h-2zM170 81h7v1h-7zM178 81h7v1h-7zM186 81h21v1h-21zM153 82h2v1h-2zM159 82h2v1h-2zM170 82h34v1h-34zM205 82h3v1h-3zM162 83h2v1h-2zM167 83h2v1h-2zM170 83h35v1h-35zM206 83h2v1h-2zM161 84h4v1h-4zM167 84h2v1h-2zM173 84h10v1h-10zM184 84h24v1h-24zM156 85h2v1h-2zM160 85h5v1h-5zM166 85h5v1h-5zM172 85h3v1h-3zM176 85h31v1h-31zM156 86h2v1h-2zM160 86h2v1h-2zM166 86h2v1h-2zM169 86h38v1h-38zM160 87h4v1h-4zM170 87h2v1h-2zM173 87h32v1h-32zM162 88h2v1h-2zM167 88h2v1h-2zM170 88h5v1h-5zM176 88h9v1h-9zM186 88h18v1h-18zM167 89h3v1h-3zM172 89h3v1h-3zM176 89h30v1h-30zM154 90h2v1h-2zM159 90h2v1h-2zM164 90h6v1h-6zM172 90h34v1h-34zM154 91h2v1h-2zM159 91h4v1h-4zM164 91h6v1h-6zM173 91h33v1h-33zM148 92h2v1h-2zM161 92h2v1h-2zM164 92h6v1h-6zM171 92h34v1h-34zM206 92h2v1h-2zM148 93h2v1h-2zM158 93h2v1h-2zM161 93h47v1h-47zM153 94h2v1h-2zM158 94h2v1h-2zM161 94h45v1h-45zM207 94h2v1h-2zM142 95h2v1h-2zM151 95h4v1h-4zM162 95h43v1h-43zM207 95h2v1h-2zM142 96h2v1h-2zM148 96h2v1h-2zM151 96h2v1h-2zM156 96h3v1h-3zM164 96h41v1h-41zM148 97h2v1h-2zM156 97h13v1h-13zM170 97h36v1h-36zM154 98h2v1h-2zM157 98h49v1h-49zM147 99h2v1h-2zM154 99h2v1h-2zM159 99h44v1h-44zM147 100h4v1h-4zM154 100h2v1h-2zM157 100h2v1h-2zM160 100h44v1h-44zM147 101h4v1h-4zM154 101h5v1h-5zM160 101h44v1h-44zM144 102h2v1h-2zM148 102h2v1h-2zM152 102h6v1h-6zM159 102h47v1h-47zM143 103h3v1h-3zM148 103h2v1h-2zM152 103h55v1h-55zM143 104h2v1h-2zM148 104h2v1h-2zM151 104h2v1h-2zM154 104h43v1h-43zM199 104h3v1h-3zM205 104h2v1h-2zM143 105h2v1h-2zM151 105h55v1h-55zM141 106h2v1h-2zM145 106h4v1h-4zM150 106h43v1h-43zM194 106h12v1h-12zM135 107h2v1h-2zM141 107h2v1h-2zM145 107h4v1h-4zM150 107h8v1h-8zM159 107h43v1h-43zM135 108h2v1h-2zM141 108h2v1h-2zM147 108h2v1h-2zM150 108h55v1h-55zM144 109h2v1h-2zM150 109h55v1h-55zM142 110h5v1h-5zM151 110h53v1h-53zM141 111h8v1h-8zM151 111h43v1h-43zM195 111h2v1h-2zM138 112h5v1h-5zM144 112h5v1h-5zM151 112h42v1h-42zM194 112h3v1h-3zM198 112h3v1h-3zM202 112h2v1h-2zM133 113h4v1h-4zM138 113h18v1h-18zM157 113h40v1h-40zM198 113h6v1h-6zM133 114h4v1h-4zM142 114h58v1h-58zM201 114h2v1h-2zM135 115h2v1h-2zM143 115h3v1h-3zM147 115h20v1h-20zM168 115h21v1h-21zM191 115h9v1h-9zM202 115h2v1h-2zM124 116h2v1h-2zM133 116h2v1h-2zM139 116h2v1h-2zM143 116h46v1h-46zM190 116h9v1h-9zM202 116h2v1h-2zM124 117h2v1h-2zM133 117h2v1h-2zM139 117h14v1h-14zM154 117h44v1h-44zM202 117h2v1h-2zM120 118h2v1h-2zM133 118h2v1h-2zM140 118h45v1h-45zM186 118h5v1h-5zM193 118h4v1h-4zM198 118h2v1h-2zM202 118h2v1h-2zM120 119h2v1h-2zM129 119h2v1h-2zM133 119h2v1h-2zM137 119h2v1h-2zM142 119h2v1h-2zM145 119h10v1h-10zM156 119h13v1h-13zM170 119h15v1h-15zM186 119h9v1h-9zM196 119h4v1h-4zM202 119h2v1h-2zM129 120h2v1h-2zM133 120h2v1h-2zM136 120h5v1h-5zM142 120h3v1h-3zM148 120h21v1h-21zM170 120h8v1h-8zM180 120h8v1h-8zM189 120h4v1h-4zM195 120h5v1h-5zM133 121h2v1h-2zM136 121h12v1h-12zM149 121h17v1h-17zM167 121h11v1h-11zM179 121h13v1h-13zM195 121h2v1h-2zM198 121h2v1h-2zM123 122h2v1h-2zM133 122h2v1h-2zM137 122h2v1h-2zM140 122h3v1h-3zM144 122h39v1h-39zM184 122h3v1h-3zM188 122h4v1h-4zM194 122h3v1h-3zM198 122h2v1h-2zM123 123h2v1h-2zM127 123h2v1h-2zM131 123h8v1h-8zM140 123h2v1h-2zM144 123h36v1h-36zM181 123h2v1h-2zM184 123h9v1h-9zM194 123h2v1h-2zM198 123h4v1h-4zM124 124h2v1h-2zM127 124h6v1h-6zM135 124h43v1h-43zM179 124h16v1h-16zM198 124h4v1h-4zM124 125h2v1h-2zM129 125h4v1h-4zM135 125h32v1h-32zM169 125h26v1h-26zM200 125h2v1h-2zM121 126h2v1h-2zM133 126h13v1h-13zM147 126h11v1h-11zM159 126h3v1h-3zM163 126h8v1h-8zM172 126h3v1h-3zM176 126h19v1h-19zM200 126h2v1h-2zM121 127h2v1h-2zM125 127h2v1h-2zM129 127h8v1h-8zM138 127h14v1h-14zM153 127h43v1h-43zM124 128h3v1h-3zM129 128h5v1h-5zM137 128h6v1h-6zM144 128h10v1h-10zM155 128h36v1h-36zM192 128h5v1h-5zM123 129h4v1h-4zM129 129h7v1h-7zM137 129h6v1h-6zM144 129h13v1h-13zM159 129h11v1h-11zM172 129h2v1h-2zM175 129h2v1h-2zM178 129h6v1h-6zM188 129h3v1h-3zM193 129h5v1h-5zM119 130h2v1h-2zM123 130h3v1h-3zM130 130h2v1h-2zM134 130h2v1h-2zM140 130h26v1h-26zM167 130h3v1h-3zM172 130h10v1h-10zM189 130h2v1h-2zM193 130h2v1h-2zM196 130h2v1h-2zM119 131h2v1h-2zM127 131h7v1h-7zM140 131h9v1h-9zM150 131h12v1h-12zM164 131h5v1h-5zM170 131h13v1h-13zM191 131h4v1h-4zM200 131h2v1h-2zM125 132h9v1h-9zM136 132h14v1h-14zM152 132h12v1h-12zM165 132h11v1h-11zM177 132h7v1h-7zM191 132h2v1h-2zM200 132h2v1h-2zM125 133h3v1h-3zM131 133h2v1h-2zM135 133h8v1h-8zM146 133h4v1h-4zM151 133h8v1h-8zM160 133h21v1h-21zM182 133h2v1h-2zM188 133h2v1h-2zM191 133h2v1h-2zM194 133h2v1h-2zM128 134h2v1h-2zM131 134h2v1h-2zM135 134h2v1h-2zM139 134h4v1h-4zM146 134h10v1h-10zM157 134h16v1h-16zM175 134h6v1h-6zM188 134h2v1h-2zM191 134h2v1h-2zM194 134h2v1h-2zM201 134h2v1h-2zM127 135h3v1h-3zM137 135h8v1h-8zM147 135h8v1h-8zM159 135h14v1h-14zM176 135h7v1h-7zM188 135h2v1h-2zM201 135h2v1h-2zM119 136h2v1h-2zM127 136h2v1h-2zM132 136h3v1h-3zM137 136h8v1h-8zM146 136h9v1h-9zM156 136h2v1h-2zM159 136h10v1h-10zM171 136h2v1h-2zM176 136h2v1h-2zM179 136h4v1h-4zM185 136h2v1h-2zM188 136h2v1h-2zM191 136h3v1h-3zM196 136h2v1h-2zM119 137h2v1h-2zM132 137h3v1h-3zM138 137h2v1h-2zM146 137h6v1h-6zM156 137h6v1h-6zM164 137h3v1h-3zM168 137h2v1h-2zM172 137h2v1h-2zM176 137h2v1h-2zM185 137h2v1h-2zM188 137h2v1h-2zM191 137h3v1h-3zM196 137h2v1h-2zM133 138h3v1h-3zM137 138h6v1h-6zM146 138h8v1h-8zM155 138h5v1h-5zM163 138h3v1h-3zM167 138h7v1h-7zM176 138h2v1h-2zM183 138h2v1h-2zM191 138h2v1h-2zM196 138h2v1h-2zM130 139h2v1h-2zM134 139h2v1h-2zM137 139h2v1h-2zM140 139h3v1h-3zM148 139h6v1h-6zM155 139h10v1h-10zM166 139h9v1h-9zM183 139h2v1h-2zM196 139h2v1h-2zM129 140h3v1h-3zM133 140h2v1h-2zM140 140h4v1h-4zM145 140h2v1h-2zM148 140h2v1h-2zM152 140h2v1h-2zM156 140h8v1h-8zM166 140h5v1h-5zM173 140h2v1h-2zM183 140h4v1h-4zM198 140h2v1h-2zM129 141h3v1h-3zM133 141h2v1h-2zM140 141h4v1h-4zM145 141h2v1h-2zM152 141h2v1h-2zM156 141h3v1h-3zM160 141h4v1h-4zM166 141h6v1h-6zM173 141h2v1h-2zM176 141h4v1h-4zM183 141h4v1h-4zM188 141h3v1h-3zM198 141h2v1h-2zM145 142h2v1h-2zM152 142h3v1h-3zM160 142h3v1h-3zM166 142h6v1h-6zM173 142h2v1h-2zM176 142h4v1h-4zM183 142h2v1h-2zM188 142h3v1h-3zM204 142h2v1h-2zM136 143h2v1h-2zM141 143h2v1h-2zM152 143h3v1h-3zM160 143h4v1h-4zM173 143h2v1h-2zM180 143h2v1h-2zM183 143h2v1h-2zM204 143h2v1h-2zM136 144h2v1h-2zM141 144h2v1h-2zM162 144h2v1h-2zM172 144h3v1h-3zM180 144h2v1h-2zM135 145h2v1h-2zM142 145h2v1h-2zM155 145h2v1h-2zM170 145h4v1h-4zM133 146h4v1h-4zM141 146h3v1h-3zM149 146h2v1h-2zM155 146h2v1h-2zM165 146h7v1h-7zM175 146h2v1h-2zM188 146h4v1h-4zM133 147h2v1h-2zM141 147h2v1h-2zM149 147h2v1h-2zM162 147h2v1h-2zM165 147h5v1h-5zM175 147h2v1h-2zM188 147h4v1h-4zM158 148h2v1h-2zM162 148h2v1h-2zM167 148h2v1h-2zM177 148h2v1h-2zM186 148h2v1h-2zM136 149h2v1h-2zM158 149h2v1h-2zM167 149h2v1h-2zM177 149h2v1h-2zM186 149h2v1h-2zM136 150h2v1h-2zM159 151h2v1h-2zM168 151h2v1h-2zM180 151h2v1h-2zM142 152h2v1h-2zM149 152h2v1h-2zM159 152h2v1h-2zM168 152h3v1h-3zM180 152h2v1h-2zM142 153h2v1h-2zM149 153h4v1h-4zM162 153h2v1h-2zM169 153h2v1h-2zM180 153h2v1h-2zM151 154h2v1h-2zM160 154h4v1h-4zM180 154h2v1h-2zM183 154h2v1h-2zM148 155h2v1h-2zM160 155h2v1h-2zM183 155h2v1h-2zM148 156h2v1h-2zM171 160h2v1h-2zM171 161h2v1h-2zM165 162h2v1h-2zM165 163h2v1h-2zM181 166h2v1h-2zM181 167h2v1h-2zM194 174h2v1h-2zM194 175h2v1h-2zM171 176h4v1h-4zM171 177h4v1h-4zM162 193h2v1h-2zM162 194h2v1h-2zM185 201h2v1h-2zM185 202h2v1h-2z"/>
<path transform="translate(166 150) scale(0.5)" fill="#0a0a0a" d="M200 108h2v1h-2zM200 109h2v1h-2zM200 111h2v1h-2zM193 112h4v1h-4zM200 112h2v1h-2zM193 113h4v1h-4zM197 114h2v1h-2zM196 115h3v1h-3zM195 116h3v1h-3zM199 116h2v1h-2zM195 117h6v1h-6zM181 118h2v1h-2zM197 118h3v1h-3zM181 119h2v1h-2zM198 119h2v1h-2zM189 120h2v1h-2zM192 120h3v1h-3zM189 121h2v1h-2zM192 121h3v1h-3zM187 122h2v1h-2zM145 123h2v1h-2zM187 123h4v1h-4zM145 124h2v1h-2zM174 124h2v1h-2zM179 124h2v1h-2zM188 124h3v1h-3zM192 124h3v1h-3zM174 125h2v1h-2zM179 125h2v1h-2zM187 125h8v1h-8zM187 126h8v1h-8zM162 127h2v1h-2zM174 127h2v1h-2zM177 127h2v1h-2zM180 127h5v1h-5zM186 127h2v1h-2zM189 127h2v1h-2zM192 127h3v1h-3zM159 128h5v1h-5zM166 128h2v1h-2zM172 128h7v1h-7zM180 128h8v1h-8zM190 128h4v1h-4zM159 129h3v1h-3zM166 129h2v1h-2zM172 129h2v1h-2zM176 129h2v1h-2zM180 129h3v1h-3zM185 129h4v1h-4zM190 129h3v1h-3zM180 130h2v1h-2zM186 130h3v1h-3zM191 130h2v1h-2zM198 130h2v1h-2zM159 131h2v1h-2zM162 131h2v1h-2zM183 131h2v1h-2zM186 131h2v1h-2zM198 131h2v1h-2zM154 132h4v1h-4zM159 132h5v1h-5zM166 132h2v1h-2zM170 132h2v1h-2zM176 132h2v1h-2zM183 132h2v1h-2zM190 132h2v1h-2zM154 133h4v1h-4zM159 133h5v1h-5zM166 133h3v1h-3zM170 133h2v1h-2zM174 133h5v1h-5zM190 133h2v1h-2zM138 134h2v1h-2zM154 134h3v1h-3zM159 134h2v1h-2zM167 134h9v1h-9zM177 134h2v1h-2zM138 135h2v1h-2zM155 135h6v1h-6zM168 135h9v1h-9zM180 135h3v1h-3zM187 135h2v1h-2zM144 136h2v1h-2zM150 136h2v1h-2zM157 136h7v1h-7zM165 136h2v1h-2zM168 136h3v1h-3zM172 136h7v1h-7zM180 136h3v1h-3zM187 136h2v1h-2zM143 137h3v1h-3zM147 137h2v1h-2zM150 137h2v1h-2zM159 137h5v1h-5zM165 137h6v1h-6zM172 137h8v1h-8zM137 138h2v1h-2zM143 138h6v1h-6zM154 138h2v1h-2zM161 138h2v1h-2zM166 138h4v1h-4zM177 138h3v1h-3zM137 139h2v1h-2zM145 139h2v1h-2zM154 139h3v1h-3zM160 139h4v1h-4zM166 139h4v1h-4zM175 139h4v1h-4zM142 140h2v1h-2zM150 140h2v1h-2zM155 140h3v1h-3zM160 140h4v1h-4zM166 140h7v1h-7zM175 140h4v1h-4zM181 140h2v1h-2zM186 140h2v1h-2zM141 141h3v1h-3zM150 141h4v1h-4zM156 141h2v1h-2zM162 141h2v1h-2zM166 141h7v1h-7zM174 141h2v1h-2zM177 141h2v1h-2zM181 141h2v1h-2zM186 141h2v1h-2zM141 142h2v1h-2zM152 142h2v1h-2zM157 142h2v1h-2zM166 142h4v1h-4zM171 142h2v1h-2zM174 142h2v1h-2zM177 142h2v1h-2zM141 143h2v1h-2zM157 143h3v1h-3zM169 143h2v1h-2zM173 143h2v1h-2zM178 143h2v1h-2zM141 144h2v1h-2zM158 144h2v1h-2zM164 144h2v1h-2zM169 144h2v1h-2zM173 144h3v1h-3zM178 144h2v1h-2zM138 145h2v1h-2zM161 145h2v1h-2zM164 145h2v1h-2zM173 145h3v1h-3zM138 146h2v1h-2zM161 146h2v1h-2zM176 146h2v1h-2zM149 147h2v1h-2zM165 147h2v1h-2zM176 147h2v1h-2zM149 148h2v1h-2zM165 148h2v1h-2zM169 148h2v1h-2zM176 148h2v1h-2zM169 149h2v1h-2z"/>
<path transform="translate(166 280) scale(0.5)" fill="#0a0a0a" d="M88 96h2v1h-2zM88 97h2v1h-2zM148 105h2v1h-2zM144 106h2v1h-2zM148 106h2v1h-2zM144 107h2v1h-2zM170 107h2v1h-2zM84 108h2v1h-2zM138 108h2v1h-2zM170 108h2v1h-2zM179 108h2v1h-2zM73 109h2v1h-2zM84 109h2v1h-2zM113 109h2v1h-2zM138 109h2v1h-2zM179 109h2v1h-2zM73 110h2v1h-2zM113 110h2v1h-2zM81 112h2v1h-2zM160 112h2v1h-2zM81 113h2v1h-2zM160 113h4v1h-4zM167 113h2v1h-2zM111 114h2v1h-2zM130 114h2v1h-2zM162 114h2v1h-2zM167 114h2v1h-2zM111 115h2v1h-2zM130 115h2v1h-2zM74 116h2v1h-2zM74 117h2v1h-2zM124 117h2v1h-2zM166 117h2v1h-2zM112 118h2v1h-2zM124 118h2v1h-2zM162 118h2v1h-2zM166 118h2v1h-2zM183 118h2v1h-2zM71 119h2v1h-2zM93 119h2v1h-2zM112 119h2v1h-2zM162 119h2v1h-2zM183 119h2v1h-2zM71 120h2v1h-2zM93 120h2v1h-2zM140 121h2v1h-2zM164 121h2v1h-2zM172 121h2v1h-2zM113 122h2v1h-2zM140 122h2v1h-2zM164 122h2v1h-2zM170 122h4v1h-4zM113 123h2v1h-2zM155 123h2v1h-2zM170 123h6v1h-6zM140 124h2v1h-2zM152 124h2v1h-2zM155 124h2v1h-2zM162 124h2v1h-2zM170 124h2v1h-2zM174 124h2v1h-2zM140 125h4v1h-4zM152 125h2v1h-2zM162 125h2v1h-2zM170 125h2v1h-2zM174 125h2v1h-2zM134 126h2v1h-2zM142 126h2v1h-2zM148 126h2v1h-2zM160 126h2v1h-2zM170 126h2v1h-2zM174 126h2v1h-2zM134 127h2v1h-2zM138 127h2v1h-2zM148 127h2v1h-2zM160 127h2v1h-2zM167 127h2v1h-2zM170 127h4v1h-4zM138 128h2v1h-2zM151 128h2v1h-2zM166 128h3v1h-3zM170 128h5v1h-5zM183 128h2v1h-2zM189 128h2v1h-2zM93 129h2v1h-2zM128 129h2v1h-2zM140 129h4v1h-4zM148 129h2v1h-2zM151 129h4v1h-4zM158 129h2v1h-2zM161 129h2v1h-2zM166 129h3v1h-3zM173 129h2v1h-2zM181 129h4v1h-4zM189 129h2v1h-2zM54 130h2v1h-2zM93 130h2v1h-2zM96 130h2v1h-2zM110 130h2v1h-2zM115 130h2v1h-2zM128 130h2v1h-2zM131 130h3v1h-3zM138 130h6v1h-6zM148 130h2v1h-2zM153 130h2v1h-2zM158 130h2v1h-2zM161 130h8v1h-8zM178 130h2v1h-2zM181 130h2v1h-2zM188 130h2v1h-2zM54 131h2v1h-2zM96 131h2v1h-2zM110 131h2v1h-2zM115 131h2v1h-2zM126 131h2v1h-2zM131 131h3v1h-3zM138 131h4v1h-4zM146 131h2v1h-2zM154 131h2v1h-2zM160 131h7v1h-7zM168 131h4v1h-4zM175 131h2v1h-2zM178 131h5v1h-5zM185 131h5v1h-5zM85 132h2v1h-2zM98 132h2v1h-2zM105 132h2v1h-2zM117 132h2v1h-2zM124 132h4v1h-4zM132 132h2v1h-2zM136 132h2v1h-2zM140 132h2v1h-2zM144 132h4v1h-4zM153 132h3v1h-3zM160 132h2v1h-2zM163 132h9v1h-9zM173 132h4v1h-4zM178 132h5v1h-5zM185 132h5v1h-5zM62 133h2v1h-2zM85 133h2v1h-2zM92 133h2v1h-2zM98 133h2v1h-2zM105 133h4v1h-4zM110 133h2v1h-2zM117 133h3v1h-3zM124 133h6v1h-6zM132 133h6v1h-6zM140 133h2v1h-2zM144 133h4v1h-4zM153 133h6v1h-6zM161 133h15v1h-15zM177 133h3v1h-3zM181 133h2v1h-2zM184 133h3v1h-3zM188 133h2v1h-2zM193 133h2v1h-2zM62 134h2v1h-2zM92 134h2v1h-2zM101 134h2v1h-2zM106 134h3v1h-3zM110 134h2v1h-2zM113 134h2v1h-2zM118 134h4v1h-4zM125 134h5v1h-5zM132 134h5v1h-5zM138 134h4v1h-4zM144 134h4v1h-4zM150 134h2v1h-2zM154 134h5v1h-5zM161 134h2v1h-2zM166 134h4v1h-4zM172 134h8v1h-8zM181 134h2v1h-2zM184 134h2v1h-2zM188 134h2v1h-2zM193 134h2v1h-2zM99 135h4v1h-4zM106 135h2v1h-2zM113 135h3v1h-3zM120 135h2v1h-2zM123 135h2v1h-2zM126 135h4v1h-4zM132 135h5v1h-5zM138 135h5v1h-5zM150 135h4v1h-4zM156 135h2v1h-2zM161 135h4v1h-4zM166 135h4v1h-4zM172 135h2v1h-2zM175 135h9v1h-9zM188 135h2v1h-2zM51 136h2v1h-2zM99 136h2v1h-2zM114 136h3v1h-3zM120 136h2v1h-2zM123 136h3v1h-3zM128 136h7v1h-7zM141 136h2v1h-2zM144 136h4v1h-4zM149 136h11v1h-11zM161 136h4v1h-4zM166 136h21v1h-21zM190 136h2v1h-2zM51 137h2v1h-2zM105 137h2v1h-2zM110 137h2v1h-2zM115 137h2v1h-2zM120 137h2v1h-2zM123 137h5v1h-5zM129 137h6v1h-6zM136 137h2v1h-2zM140 137h3v1h-3zM144 137h44v1h-44zM190 137h2v1h-2zM71 138h2v1h-2zM82 138h2v1h-2zM85 138h2v1h-2zM105 138h3v1h-3zM109 138h3v1h-3zM119 138h3v1h-3zM123 138h8v1h-8zM136 138h7v1h-7zM144 138h10v1h-10zM155 138h33v1h-33zM189 138h4v1h-4zM71 139h2v1h-2zM81 139h3v1h-3zM85 139h2v1h-2zM93 139h2v1h-2zM106 139h5v1h-5zM112 139h4v1h-4zM119 139h2v1h-2zM125 139h4v1h-4zM133 139h3v1h-3zM137 139h7v1h-7zM146 139h16v1h-16zM163 139h24v1h-24zM188 139h5v1h-5zM64 140h2v1h-2zM73 140h4v1h-4zM81 140h2v1h-2zM93 140h2v1h-2zM99 140h6v1h-6zM106 140h10v1h-10zM119 140h4v1h-4zM124 140h2v1h-2zM129 140h2v1h-2zM132 140h13v1h-13zM146 140h17v1h-17zM164 140h20v1h-20zM185 140h10v1h-10zM64 141h2v1h-2zM73 141h4v1h-4zM78 141h2v1h-2zM82 141h2v1h-2zM89 141h2v1h-2zM97 141h8v1h-8zM106 141h6v1h-6zM115 141h3v1h-3zM119 141h4v1h-4zM124 141h71v1h-71zM78 142h2v1h-2zM82 142h2v1h-2zM89 142h2v1h-2zM96 142h6v1h-6zM103 142h2v1h-2zM106 142h7v1h-7zM114 142h4v1h-4zM119 142h13v1h-13zM134 142h47v1h-47zM182 142h12v1h-12zM53 143h2v1h-2zM77 143h3v1h-3zM81 143h2v1h-2zM84 143h2v1h-2zM96 143h2v1h-2zM100 143h2v1h-2zM103 143h2v1h-2zM106 143h2v1h-2zM111 143h2v1h-2zM114 143h18v1h-18zM133 143h61v1h-61zM53 144h2v1h-2zM74 144h2v1h-2zM77 144h3v1h-3zM81 144h2v1h-2zM84 144h2v1h-2zM88 144h2v1h-2zM91 144h2v1h-2zM96 144h4v1h-4zM113 144h2v1h-2zM116 144h72v1h-72zM189 144h6v1h-6zM42 145h2v1h-2zM48 145h2v1h-2zM53 145h2v1h-2zM74 145h2v1h-2zM80 145h2v1h-2zM88 145h2v1h-2zM91 145h3v1h-3zM96 145h7v1h-7zM106 145h89v1h-89zM41 146h3v1h-3zM48 146h2v1h-2zM58 146h4v1h-4zM75 146h7v1h-7zM91 146h12v1h-12zM104 146h86v1h-86zM191 146h4v1h-4zM41 147h2v1h-2zM55 147h2v1h-2zM58 147h4v1h-4zM75 147h5v1h-5zM90 147h105v1h-105zM38 148h2v1h-2zM51 148h2v1h-2zM55 148h2v1h-2zM78 148h2v1h-2zM84 148h2v1h-2zM88 148h107v1h-107zM38 149h2v1h-2zM50 149h3v1h-3zM69 149h2v1h-2zM74 149h2v1h-2zM83 149h112v1h-112zM50 150h4v1h-4zM69 150h2v1h-2zM74 150h7v1h-7zM83 150h17v1h-17zM101 150h94v1h-94zM51 151h3v1h-3zM55 151h2v1h-2zM59 151h2v1h-2zM67 151h3v1h-3zM75 151h6v1h-6zM83 151h5v1h-5zM89 151h106v1h-106zM44 152h2v1h-2zM47 152h2v1h-2zM52 152h2v1h-2zM55 152h2v1h-2zM59 152h3v1h-3zM66 152h4v1h-4zM71 152h3v1h-3zM75 152h120v1h-120zM37 153h2v1h-2zM44 153h2v1h-2zM47 153h4v1h-4zM52 153h2v1h-2zM60 153h2v1h-2zM66 153h3v1h-3zM71 153h6v1h-6zM78 153h116v1h-116zM37 154h2v1h-2zM46 154h5v1h-5zM53 154h2v1h-2zM56 154h5v1h-5zM66 154h4v1h-4zM71 154h6v1h-6zM78 154h116v1h-116zM39 155h2v1h-2zM46 155h9v1h-9zM56 155h7v1h-7zM64 155h130v1h-130zM39 156h2v1h-2zM44 156h11v1h-11zM56 156h139v1h-139zM37 157h5v1h-5zM44 157h3v1h-3zM50 157h2v1h-2zM54 157h2v1h-2zM59 157h136v1h-136zM37 158h7v1h-7zM48 158h5v1h-5zM54 158h8v1h-8zM63 158h131v1h-131zM38 159h2v1h-2zM41 159h3v1h-3zM47 159h145v1h-145zM31 160h2v1h-2zM38 160h8v1h-8zM47 160h146v1h-146zM31 161h2v1h-2zM35 161h4v1h-4zM40 161h2v1h-2zM43 161h3v1h-3zM49 161h144v1h-144zM31 162h3v1h-3zM35 162h4v1h-4zM41 162h5v1h-5zM47 162h15v1h-15zM63 162h119v1h-119zM183 162h9v1h-9zM193 162h2v1h-2zM31 163h9v1h-9zM41 163h18v1h-18zM60 163h126v1h-126zM187 163h4v1h-4zM192 163h3v1h-3zM31 164h153v1h-153zM185 164h6v1h-6zM192 164h2v1h-2zM31 165h7v1h-7zM39 165h145v1h-145zM185 165h2v1h-2zM28 166h3v1h-3zM32 166h151v1h-151zM185 166h2v1h-2zM26 167h154v1h-154zM24 168h150v1h-150zM177 168h5v1h-5zM184 168h2v1h-2zM189 168h2v1h-2zM24 169h3v1h-3zM28 169h155v1h-155zM184 169h2v1h-2zM189 169h2v1h-2zM23 170h155v1h-155zM181 170h2v1h-2zM185 170h2v1h-2zM23 171h152v1h-152zM176 171h2v1h-2zM181 171h6v1h-6zM22 172h152v1h-152zM181 172h6v1h-6zM22 173h143v1h-143zM167 173h7v1h-7zM22 174h139v1h-139zM162 174h4v1h-4zM169 174h5v1h-5zM20 175h139v1h-139zM160 175h6v1h-6zM168 175h3v1h-3zM19 176h143v1h-143zM163 176h2v1h-2zM167 176h3v1h-3zM174 176h2v1h-2zM19 177h2v1h-2zM22 177h140v1h-140zM163 177h2v1h-2zM167 177h3v1h-3zM172 177h4v1h-4zM16 178h139v1h-139zM156 178h5v1h-5zM168 178h2v1h-2zM171 178h3v1h-3zM16 179h86v1h-86zM103 179h53v1h-53zM159 179h5v1h-5zM171 179h2v1h-2zM175 179h2v1h-2zM15 180h142v1h-142zM159 180h10v1h-10zM171 180h2v1h-2zM175 180h2v1h-2zM15 181h117v1h-117zM133 181h6v1h-6zM140 181h2v1h-2zM143 181h8v1h-8zM154 181h9v1h-9zM164 181h5v1h-5zM15 182h135v1h-135zM151 182h12v1h-12zM165 182h2v1h-2zM15 183h2v1h-2zM20 183h4v1h-4zM25 183h120v1h-120zM147 183h11v1h-11zM161 183h2v1h-2zM172 183h2v1h-2zM15 184h2v1h-2zM19 184h4v1h-4zM25 184h3v1h-3zM29 184h88v1h-88zM120 184h9v1h-9zM130 184h8v1h-8zM141 184h3v1h-3zM146 184h6v1h-6zM153 184h7v1h-7zM172 184h2v1h-2zM19 185h62v1h-62zM82 185h25v1h-25zM108 185h9v1h-9zM120 185h5v1h-5zM126 185h12v1h-12zM139 185h9v1h-9zM150 185h2v1h-2zM153 185h2v1h-2zM157 185h3v1h-3zM172 185h2v1h-2zM175 185h2v1h-2zM190 185h2v1h-2zM21 186h97v1h-97zM119 186h14v1h-14zM139 186h2v1h-2zM142 186h4v1h-4zM150 186h4v1h-4zM157 186h2v1h-2zM172 186h2v1h-2zM175 186h2v1h-2zM178 186h2v1h-2zM190 186h2v1h-2zM22 187h2v1h-2zM26 187h7v1h-7zM34 187h11v1h-11zM46 187h14v1h-14zM61 187h31v1h-31zM93 187h4v1h-4zM98 187h3v1h-3zM102 187h27v1h-27zM130 187h2v1h-2zM142 187h2v1h-2zM150 187h4v1h-4zM178 187h2v1h-2zM26 188h2v1h-2zM29 188h4v1h-4zM34 188h33v1h-33zM68 188h24v1h-24zM93 188h8v1h-8zM102 188h19v1h-19zM122 188h7v1h-7zM132 188h2v1h-2zM135 188h4v1h-4zM142 188h6v1h-6zM26 189h2v1h-2zM29 189h14v1h-14zM44 189h8v1h-8zM53 189h17v1h-17zM71 189h17v1h-17zM91 189h3v1h-3zM95 189h29v1h-29zM125 189h6v1h-6zM132 189h8v1h-8zM144 189h5v1h-5zM162 189h2v1h-2zM29 190h2v1h-2zM32 190h7v1h-7zM40 190h14v1h-14zM55 190h29v1h-29zM86 190h8v1h-8zM99 190h14v1h-14zM114 190h3v1h-3zM118 190h6v1h-6zM127 190h4v1h-4zM133 190h2v1h-2zM138 190h2v1h-2zM147 190h2v1h-2zM152 190h2v1h-2zM162 190h2v1h-2zM32 191h7v1h-7zM42 191h13v1h-13zM56 191h2v1h-2zM59 191h5v1h-5zM65 191h2v1h-2zM68 191h15v1h-15zM87 191h4v1h-4zM92 191h2v1h-2zM96 191h12v1h-12zM110 191h3v1h-3zM115 191h3v1h-3zM119 191h5v1h-5zM126 191h4v1h-4zM152 191h2v1h-2zM32 192h3v1h-3zM46 192h12v1h-12zM59 192h2v1h-2zM66 192h10v1h-10zM77 192h5v1h-5zM84 192h2v1h-2zM87 192h7v1h-7zM96 192h11v1h-11zM111 192h2v1h-2zM116 192h3v1h-3zM121 192h4v1h-4zM126 192h4v1h-4zM134 192h5v1h-5zM166 192h2v1h-2zM31 193h8v1h-8zM46 193h2v1h-2zM49 193h2v1h-2zM52 193h6v1h-6zM59 193h3v1h-3zM63 193h2v1h-2zM66 193h3v1h-3zM70 193h16v1h-16zM88 193h5v1h-5zM94 193h2v1h-2zM97 193h6v1h-6zM106 193h2v1h-2zM117 193h2v1h-2zM121 193h4v1h-4zM126 193h2v1h-2zM134 193h5v1h-5zM140 193h2v1h-2zM147 193h2v1h-2zM158 193h4v1h-4zM166 193h2v1h-2zM31 194h2v1h-2zM35 194h4v1h-4zM46 194h5v1h-5zM54 194h5v1h-5zM60 194h2v1h-2zM63 194h5v1h-5zM69 194h2v1h-2zM72 194h2v1h-2zM75 194h12v1h-12zM94 194h7v1h-7zM102 194h2v1h-2zM106 194h3v1h-3zM114 194h2v1h-2zM118 194h2v1h-2zM124 194h3v1h-3zM140 194h2v1h-2zM147 194h3v1h-3zM154 194h2v1h-2zM158 194h4v1h-4zM166 194h2v1h-2zM46 195h5v1h-5zM55 195h5v1h-5zM64 195h4v1h-4zM69 195h2v1h-2zM76 195h4v1h-4zM81 195h6v1h-6zM96 195h2v1h-2zM102 195h4v1h-4zM107 195h4v1h-4zM114 195h2v1h-2zM118 195h2v1h-2zM124 195h3v1h-3zM135 195h2v1h-2zM148 195h2v1h-2zM154 195h2v1h-2zM166 195h2v1h-2zM174 195h2v1h-2zM48 196h2v1h-2zM58 196h4v1h-4zM67 196h2v1h-2zM74 196h2v1h-2zM77 196h2v1h-2zM81 196h2v1h-2zM84 196h2v1h-2zM94 196h2v1h-2zM104 196h2v1h-2zM109 196h2v1h-2zM112 196h2v1h-2zM118 196h2v1h-2zM133 196h5v1h-5zM143 196h2v1h-2zM169 196h2v1h-2zM174 196h2v1h-2zM48 197h2v1h-2zM59 197h5v1h-5zM67 197h2v1h-2zM74 197h2v1h-2zM77 197h2v1h-2zM81 197h5v1h-5zM91 197h2v1h-2zM94 197h2v1h-2zM105 197h3v1h-3zM109 197h2v1h-2zM112 197h4v1h-4zM117 197h3v1h-3zM121 197h2v1h-2zM133 197h5v1h-5zM142 197h3v1h-3zM159 197h2v1h-2zM169 197h2v1h-2zM60 198h4v1h-4zM68 198h2v1h-2zM83 198h2v1h-2zM86 198h3v1h-3zM91 198h2v1h-2zM95 198h2v1h-2zM105 198h3v1h-3zM109 198h2v1h-2zM114 198h2v1h-2zM117 198h3v1h-3zM121 198h2v1h-2zM142 198h2v1h-2zM159 198h2v1h-2zM52 199h2v1h-2zM60 199h2v1h-2zM63 199h2v1h-2zM68 199h2v1h-2zM71 199h2v1h-2zM83 199h8v1h-8zM95 199h2v1h-2zM113 199h2v1h-2zM120 199h2v1h-2zM52 200h2v1h-2zM63 200h2v1h-2zM71 200h2v1h-2zM74 200h2v1h-2zM77 200h2v1h-2zM83 200h8v1h-8zM95 200h2v1h-2zM113 200h2v1h-2zM120 200h2v1h-2zM56 201h2v1h-2zM61 201h2v1h-2zM74 201h2v1h-2zM77 201h2v1h-2zM85 201h2v1h-2zM91 201h2v1h-2zM144 201h2v1h-2zM152 201h2v1h-2zM56 202h2v1h-2zM61 202h2v1h-2zM77 202h2v1h-2zM84 202h2v1h-2zM91 202h2v1h-2zM94 202h2v1h-2zM117 202h2v1h-2zM140 202h2v1h-2zM144 202h4v1h-4zM152 202h2v1h-2zM58 203h2v1h-2zM77 203h2v1h-2zM84 203h2v1h-2zM89 203h2v1h-2zM94 203h2v1h-2zM99 203h2v1h-2zM117 203h2v1h-2zM140 203h4v1h-4zM146 203h2v1h-2zM58 204h2v1h-2zM89 204h2v1h-2zM99 204h2v1h-2zM105 204h3v1h-3zM142 204h2v1h-2zM59 205h2v1h-2zM78 205h2v1h-2zM103 205h5v1h-5zM45 206h2v1h-2zM58 206h3v1h-3zM65 206h2v1h-2zM78 206h2v1h-2zM87 206h2v1h-2zM103 206h4v1h-4zM113 206h2v1h-2zM45 207h4v1h-4zM58 207h2v1h-2zM65 207h2v1h-2zM76 207h2v1h-2zM87 207h2v1h-2zM105 207h2v1h-2zM113 207h2v1h-2zM117 207h2v1h-2zM47 208h4v1h-4zM76 208h2v1h-2zM82 208h2v1h-2zM117 208h2v1h-2zM120 208h2v1h-2zM49 209h2v1h-2zM82 209h2v1h-2zM120 209h2v1h-2zM131 209h2v1h-2zM131 210h2v1h-2zM135 210h2v1h-2zM135 211h2v1h-2z"/>
<path transform="translate(166 280) scale(0.5)" fill="#e8191f" d="M206 13h2v1h-2zM206 14h2v1h-2zM211 35h2v1h-2zM211 36h2v1h-2zM210 39h2v1h-2zM207 40h2v1h-2zM210 40h2v1h-2zM207 41h2v1h-2zM210 41h2v1h-2zM210 42h2v1h-2zM211 43h2v1h-2zM205 44h2v1h-2zM211 44h2v1h-2zM201 45h2v1h-2zM205 45h2v1h-2zM210 45h3v1h-3zM201 46h2v1h-2zM210 46h4v1h-4zM210 47h4v1h-4zM210 48h3v1h-3zM207 49h2v1h-2zM210 49h3v1h-3zM207 50h2v1h-2zM211 50h2v1h-2zM200 51h2v1h-2zM211 51h2v1h-2zM200 52h2v1h-2zM210 52h3v1h-3zM209 53h4v1h-4zM209 54h4v1h-4zM203 55h2v1h-2zM210 55h3v1h-3zM203 56h2v1h-2zM210 56h3v1h-3zM208 57h4v1h-4zM205 58h7v1h-7zM205 59h8v1h-8zM206 60h3v1h-3zM210 60h4v1h-4zM206 61h8v1h-8zM201 62h2v1h-2zM207 62h5v1h-5zM201 63h2v1h-2zM205 63h7v1h-7zM205 64h8v1h-8zM195 65h2v1h-2zM207 65h6v1h-6zM195 66h2v1h-2zM204 66h2v1h-2zM208 66h4v1h-4zM197 67h2v1h-2zM204 67h3v1h-3zM208 67h4v1h-4zM197 68h2v1h-2zM200 68h2v1h-2zM205 68h7v1h-7zM195 69h2v1h-2zM200 69h2v1h-2zM207 69h5v1h-5zM194 70h3v1h-3zM207 70h5v1h-5zM194 71h2v1h-2zM203 71h3v1h-3zM207 71h5v1h-5zM202 72h11v1h-11zM188 73h2v1h-2zM202 73h3v1h-3zM206 73h7v1h-7zM188 74h2v1h-2zM203 74h9v1h-9zM199 75h2v1h-2zM203 75h10v1h-10zM165 76h2v1h-2zM199 76h2v1h-2zM202 76h11v1h-11zM165 77h2v1h-2zM186 77h2v1h-2zM199 77h2v1h-2zM202 77h10v1h-10zM186 78h2v1h-2zM197 78h4v1h-4zM204 78h8v1h-8zM188 79h2v1h-2zM192 79h2v1h-2zM197 79h2v1h-2zM201 79h10v1h-10zM188 80h2v1h-2zM192 80h2v1h-2zM195 80h4v1h-4zM201 80h10v1h-10zM195 81h4v1h-4zM200 81h12v1h-12zM197 82h2v1h-2zM200 82h12v1h-12zM189 83h2v1h-2zM192 83h4v1h-4zM198 83h13v1h-13zM189 84h7v1h-7zM197 84h15v1h-15zM191 85h3v1h-3zM197 85h15v1h-15zM179 86h2v1h-2zM190 86h2v1h-2zM196 86h16v1h-16zM179 87h2v1h-2zM183 87h2v1h-2zM190 87h21v1h-21zM178 88h2v1h-2zM183 88h2v1h-2zM186 88h4v1h-4zM191 88h19v1h-19zM178 89h2v1h-2zM186 89h4v1h-4zM192 89h3v1h-3zM197 89h13v1h-13zM175 90h2v1h-2zM191 90h3v1h-3zM195 90h3v1h-3zM200 90h10v1h-10zM168 91h2v1h-2zM175 91h2v1h-2zM181 91h2v1h-2zM188 91h2v1h-2zM191 91h19v1h-19zM166 92h4v1h-4zM179 92h4v1h-4zM188 92h2v1h-2zM191 92h20v1h-20zM166 93h2v1h-2zM174 93h2v1h-2zM179 93h2v1h-2zM182 93h2v1h-2zM187 93h24v1h-24zM174 94h3v1h-3zM182 94h2v1h-2zM185 94h6v1h-6zM192 94h18v1h-18zM175 95h2v1h-2zM185 95h2v1h-2zM189 95h21v1h-21zM161 96h2v1h-2zM185 96h2v1h-2zM189 96h21v1h-21zM161 97h2v1h-2zM175 97h2v1h-2zM180 97h2v1h-2zM185 97h2v1h-2zM189 97h21v1h-21zM160 98h2v1h-2zM163 98h2v1h-2zM175 98h2v1h-2zM180 98h2v1h-2zM184 98h2v1h-2zM187 98h22v1h-22zM160 99h2v1h-2zM163 99h2v1h-2zM169 99h2v1h-2zM184 99h2v1h-2zM187 99h2v1h-2zM190 99h19v1h-19zM164 100h2v1h-2zM169 100h2v1h-2zM177 100h2v1h-2zM180 100h29v1h-29zM164 101h2v1h-2zM177 101h2v1h-2zM180 101h8v1h-8zM189 101h21v1h-21zM152 102h2v1h-2zM171 102h2v1h-2zM179 102h2v1h-2zM185 102h2v1h-2zM188 102h22v1h-22zM139 103h2v1h-2zM152 103h2v1h-2zM162 103h2v1h-2zM169 103h4v1h-4zM176 103h2v1h-2zM179 103h2v1h-2zM182 103h5v1h-5zM188 103h23v1h-23zM139 104h2v1h-2zM151 104h2v1h-2zM156 104h2v1h-2zM162 104h2v1h-2zM165 104h2v1h-2zM169 104h2v1h-2zM176 104h2v1h-2zM179 104h2v1h-2zM182 104h25v1h-25zM209 104h2v1h-2zM151 105h2v1h-2zM156 105h2v1h-2zM165 105h2v1h-2zM168 105h2v1h-2zM172 105h2v1h-2zM182 105h27v1h-27zM167 106h3v1h-3zM172 106h2v1h-2zM180 106h29v1h-29zM146 107h2v1h-2zM167 107h2v1h-2zM176 107h33v1h-33zM142 108h2v1h-2zM146 108h2v1h-2zM151 108h2v1h-2zM167 108h6v1h-6zM174 108h35v1h-35zM142 109h4v1h-4zM151 109h2v1h-2zM166 109h43v1h-43zM143 110h3v1h-3zM149 110h2v1h-2zM166 110h5v1h-5zM172 110h37v1h-37zM143 111h2v1h-2zM149 111h2v1h-2zM155 111h2v1h-2zM162 111h2v1h-2zM167 111h3v1h-3zM171 111h36v1h-36zM147 112h4v1h-4zM155 112h2v1h-2zM162 112h3v1h-3zM167 112h3v1h-3zM171 112h37v1h-37zM129 113h2v1h-2zM147 113h4v1h-4zM158 113h2v1h-2zM161 113h19v1h-19zM181 113h24v1h-24zM206 113h2v1h-2zM129 114h2v1h-2zM143 114h2v1h-2zM147 114h4v1h-4zM156 114h4v1h-4zM161 114h41v1h-41zM206 114h2v1h-2zM141 115h4v1h-4zM149 115h3v1h-3zM156 115h4v1h-4zM162 115h42v1h-42zM206 115h2v1h-2zM134 116h2v1h-2zM141 116h2v1h-2zM148 116h4v1h-4zM158 116h2v1h-2zM162 116h44v1h-44zM134 117h2v1h-2zM148 117h4v1h-4zM153 117h2v1h-2zM158 117h2v1h-2zM161 117h45v1h-45zM147 118h10v1h-10zM158 118h49v1h-49zM137 119h2v1h-2zM146 119h3v1h-3zM150 119h57v1h-57zM130 120h2v1h-2zM137 120h2v1h-2zM143 120h5v1h-5zM150 120h56v1h-56zM130 121h3v1h-3zM142 121h4v1h-4zM150 121h49v1h-49zM201 121h2v1h-2zM131 122h2v1h-2zM136 122h2v1h-2zM139 122h2v1h-2zM142 122h2v1h-2zM147 122h2v1h-2zM150 122h54v1h-54zM136 123h2v1h-2zM139 123h18v1h-18zM158 123h39v1h-39zM198 123h6v1h-6zM130 124h2v1h-2zM136 124h7v1h-7zM144 124h3v1h-3zM148 124h43v1h-43zM192 124h5v1h-5zM199 124h2v1h-2zM202 124h2v1h-2zM130 125h2v1h-2zM136 125h65v1h-65zM141 126h55v1h-55zM197 126h4v1h-4zM209 126h2v1h-2zM133 127h11v1h-11zM146 127h45v1h-45zM194 127h2v1h-2zM209 127h2v1h-2zM129 128h66v1h-66zM199 128h2v1h-2zM204 128h2v1h-2zM129 129h7v1h-7zM139 129h58v1h-58zM199 129h2v1h-2zM204 129h2v1h-2zM128 130h7v1h-7zM138 130h52v1h-52zM191 130h3v1h-3zM195 130h2v1h-2zM202 130h2v1h-2zM128 131h6v1h-6zM135 131h10v1h-10zM146 131h44v1h-44zM191 131h2v1h-2zM195 131h2v1h-2zM202 131h2v1h-2zM127 132h2v1h-2zM130 132h9v1h-9zM140 132h6v1h-6zM147 132h33v1h-33zM181 132h10v1h-10zM192 132h2v1h-2zM196 132h2v1h-2zM200 132h2v1h-2zM127 133h53v1h-53zM181 133h10v1h-10zM192 133h2v1h-2zM196 133h3v1h-3zM200 133h2v1h-2zM203 133h2v1h-2zM128 134h9v1h-9zM139 134h21v1h-21zM162 134h21v1h-21zM196 134h3v1h-3zM203 134h2v1h-2zM128 135h4v1h-4zM133 135h4v1h-4zM138 135h6v1h-6zM147 135h4v1h-4zM153 135h3v1h-3zM162 135h12v1h-12zM175 135h6v1h-6zM183 135h3v1h-3zM196 135h3v1h-3zM127 136h4v1h-4zM133 136h7v1h-7zM142 136h2v1h-2zM152 136h3v1h-3zM158 136h2v1h-2zM162 136h8v1h-8zM171 136h2v1h-2zM175 136h2v1h-2zM179 136h2v1h-2zM182 136h4v1h-4zM192 136h2v1h-2zM126 137h6v1h-6zM133 137h6v1h-6zM143 137h2v1h-2zM152 137h3v1h-3zM158 137h2v1h-2zM165 137h5v1h-5zM179 137h2v1h-2zM182 137h2v1h-2zM192 137h2v1h-2zM124 138h4v1h-4zM129 138h3v1h-3zM133 138h2v1h-2zM136 138h5v1h-5zM143 138h2v1h-2zM152 138h2v1h-2zM156 138h3v1h-3zM179 138h2v1h-2zM194 138h2v1h-2zM124 139h4v1h-4zM129 139h3v1h-3zM136 139h5v1h-5zM146 139h3v1h-3zM152 139h2v1h-2zM156 139h3v1h-3zM167 139h2v1h-2zM176 139h2v1h-2zM194 139h2v1h-2zM198 139h2v1h-2zM126 140h2v1h-2zM138 140h3v1h-3zM146 140h3v1h-3zM167 140h2v1h-2zM176 140h2v1h-2zM194 140h2v1h-2zM198 140h2v1h-2zM124 141h4v1h-4zM138 141h2v1h-2zM146 141h2v1h-2zM159 141h4v1h-4zM169 141h2v1h-2zM194 141h2v1h-2zM124 142h2v1h-2zM138 142h2v1h-2zM146 142h2v1h-2zM159 142h4v1h-4zM169 142h2v1h-2zM174 142h2v1h-2zM186 142h2v1h-2zM146 143h2v1h-2zM158 143h2v1h-2zM174 143h2v1h-2zM186 143h2v1h-2zM190 143h2v1h-2zM158 144h2v1h-2zM190 144h2v1h-2zM150 145h2v1h-2zM179 145h2v1h-2zM195 145h2v1h-2zM150 146h2v1h-2zM179 146h2v1h-2zM195 146h2v1h-2zM197 147h2v1h-2zM197 148h2v1h-2zM202 149h2v1h-2zM131 150h2v1h-2zM202 150h2v1h-2zM131 151h2v1h-2zM179 158h2v1h-2zM179 159h2v1h-2zM177 167h2v1h-2zM177 168h2v1h-2z"/>
<path transform="translate(166 280) scale(0.5)" fill="#0a0a0a" d="M197 103h2v1h-2zM197 104h2v1h-2zM179 107h2v1h-2zM179 108h2v1h-2zM198 109h2v1h-2zM198 110h2v1h-2zM200 111h2v1h-2zM194 112h2v1h-2zM199 112h3v1h-3zM194 113h2v1h-2zM199 113h2v1h-2zM175 114h2v1h-2zM181 114h2v1h-2zM184 114h2v1h-2zM202 114h2v1h-2zM175 115h2v1h-2zM181 115h5v1h-5zM189 115h2v1h-2zM195 115h9v1h-9zM176 116h2v1h-2zM179 116h2v1h-2zM182 116h2v1h-2zM189 116h2v1h-2zM193 116h9v1h-9zM175 117h3v1h-3zM179 117h2v1h-2zM191 117h4v1h-4zM175 118h2v1h-2zM182 118h2v1h-2zM186 118h2v1h-2zM191 118h2v1h-2zM198 118h2v1h-2zM201 118h2v1h-2zM172 119h2v1h-2zM177 119h2v1h-2zM182 119h2v1h-2zM186 119h2v1h-2zM189 119h3v1h-3zM193 119h2v1h-2zM198 119h2v1h-2zM201 119h2v1h-2zM172 120h2v1h-2zM177 120h2v1h-2zM189 120h6v1h-6zM196 120h3v1h-3zM201 120h2v1h-2zM153 121h2v1h-2zM174 121h3v1h-3zM181 121h2v1h-2zM190 121h9v1h-9zM153 122h4v1h-4zM164 122h2v1h-2zM171 122h2v1h-2zM174 122h3v1h-3zM180 122h9v1h-9zM190 122h6v1h-6zM155 123h2v1h-2zM164 123h3v1h-3zM168 123h2v1h-2zM171 123h2v1h-2zM175 123h2v1h-2zM180 123h2v1h-2zM183 123h11v1h-11zM151 124h3v1h-3zM164 124h3v1h-3zM168 124h5v1h-5zM175 124h2v1h-2zM183 124h2v1h-2zM189 124h4v1h-4zM144 125h2v1h-2zM151 125h3v1h-3zM162 125h2v1h-2zM165 125h2v1h-2zM169 125h4v1h-4zM183 125h2v1h-2zM186 125h3v1h-3zM190 125h2v1h-2zM144 126h2v1h-2zM152 126h2v1h-2zM160 126h4v1h-4zM165 126h2v1h-2zM175 126h4v1h-4zM184 126h7v1h-7zM139 127h2v1h-2zM144 127h2v1h-2zM149 127h2v1h-2zM152 127h2v1h-2zM158 127h5v1h-5zM164 127h3v1h-3zM168 127h2v1h-2zM174 127h5v1h-5zM184 127h3v1h-3zM189 127h2v1h-2zM192 127h2v1h-2zM139 128h2v1h-2zM144 128h3v1h-3zM149 128h3v1h-3zM158 128h9v1h-9zM168 128h2v1h-2zM174 128h2v1h-2zM177 128h4v1h-4zM185 128h2v1h-2zM192 128h2v1h-2zM199 128h2v1h-2zM142 129h2v1h-2zM145 129h2v1h-2zM148 129h4v1h-4zM153 129h2v1h-2zM160 129h4v1h-4zM171 129h2v1h-2zM177 129h4v1h-4zM192 129h2v1h-2zM199 129h2v1h-2zM142 130h2v1h-2zM148 130h2v1h-2zM153 130h4v1h-4zM158 130h2v1h-2zM169 130h4v1h-4zM177 130h4v1h-4zM192 130h2v1h-2zM147 131h2v1h-2zM153 131h4v1h-4zM158 131h2v1h-2zM169 131h2v1h-2zM179 131h2v1h-2zM136 132h2v1h-2zM141 132h2v1h-2zM144 132h5v1h-5zM151 132h7v1h-7zM169 132h5v1h-5zM179 132h2v1h-2zM187 132h2v1h-2zM136 133h2v1h-2zM141 133h2v1h-2zM144 133h4v1h-4zM149 133h11v1h-11zM170 133h4v1h-4zM175 133h2v1h-2zM187 133h2v1h-2zM127 134h2v1h-2zM132 134h2v1h-2zM136 134h2v1h-2zM148 134h3v1h-3zM153 134h4v1h-4zM158 134h4v1h-4zM163 134h2v1h-2zM169 134h2v1h-2zM174 134h3v1h-3zM127 135h2v1h-2zM132 135h4v1h-4zM145 135h2v1h-2zM148 135h2v1h-2zM153 135h4v1h-4zM160 135h2v1h-2zM163 135h2v1h-2zM169 135h2v1h-2zM174 135h2v1h-2zM185 135h2v1h-2zM133 136h3v1h-3zM145 136h2v1h-2zM148 136h2v1h-2zM185 136h2v1h-2zM133 137h2v1h-2zM137 137h2v1h-2zM148 137h2v1h-2zM129 138h2v1h-2zM137 138h3v1h-3zM151 138h2v1h-2zM168 138h2v1h-2zM129 139h2v1h-2zM136 139h4v1h-4zM149 139h4v1h-4zM168 139h2v1h-2zM181 139h2v1h-2zM136 140h2v1h-2zM149 140h4v1h-4zM179 140h4v1h-4zM151 141h2v1h-2zM179 141h2v1h-2zM133 143h2v1h-2zM131 144h4v1h-4zM131 145h2v1h-2z"/>
<path transform="translate(26 410) scale(0.5)" fill="#0a0a0a" d="M182 128h2v1h-2zM182 129h2v1h-2zM188 131h2v1h-2zM181 132h2v1h-2zM188 132h2v1h-2zM181 133h2v1h-2zM201 134h2v1h-2zM196 135h3v1h-3zM201 135h2v1h-2zM184 136h2v1h-2zM196 136h3v1h-3zM184 137h4v1h-4zM193 137h2v1h-2zM185 138h3v1h-3zM193 138h2v1h-2zM188 139h3v1h-3zM181 140h2v1h-2zM188 140h3v1h-3zM193 140h3v1h-3zM151 141h2v1h-2zM175 141h4v1h-4zM181 141h2v1h-2zM192 141h4v1h-4zM197 141h5v1h-5zM151 142h2v1h-2zM162 142h2v1h-2zM175 142h4v1h-4zM190 142h13v1h-13zM162 143h4v1h-4zM177 143h2v1h-2zM183 143h5v1h-5zM189 143h5v1h-5zM195 143h8v1h-8zM164 144h2v1h-2zM177 144h26v1h-26zM150 145h2v1h-2zM166 145h2v1h-2zM174 145h2v1h-2zM178 145h12v1h-12zM191 145h13v1h-13zM150 146h2v1h-2zM155 146h2v1h-2zM158 146h2v1h-2zM166 146h2v1h-2zM174 146h2v1h-2zM178 146h26v1h-26zM143 147h2v1h-2zM149 147h3v1h-3zM155 147h2v1h-2zM158 147h2v1h-2zM165 147h2v1h-2zM172 147h32v1h-32zM99 148h2v1h-2zM141 148h4v1h-4zM149 148h3v1h-3zM165 148h4v1h-4zM171 148h33v1h-33zM99 149h2v1h-2zM128 149h2v1h-2zM140 149h3v1h-3zM146 149h2v1h-2zM167 149h2v1h-2zM171 149h33v1h-33zM128 150h2v1h-2zM140 150h2v1h-2zM146 150h2v1h-2zM154 150h2v1h-2zM162 150h2v1h-2zM166 150h5v1h-5zM172 150h31v1h-31zM111 151h2v1h-2zM128 151h2v1h-2zM136 151h2v1h-2zM154 151h2v1h-2zM157 151h4v1h-4zM162 151h42v1h-42zM111 152h2v1h-2zM128 152h2v1h-2zM136 152h2v1h-2zM148 152h2v1h-2zM151 152h2v1h-2zM154 152h7v1h-7zM164 152h40v1h-40zM148 153h2v1h-2zM151 153h2v1h-2zM154 153h4v1h-4zM159 153h44v1h-44zM131 154h2v1h-2zM142 154h2v1h-2zM149 154h3v1h-3zM159 154h45v1h-45zM131 155h2v1h-2zM142 155h2v1h-2zM149 155h4v1h-4zM154 155h50v1h-50zM96 156h2v1h-2zM145 156h2v1h-2zM149 156h4v1h-4zM154 156h50v1h-50zM75 157h2v1h-2zM96 157h2v1h-2zM126 157h2v1h-2zM145 157h59v1h-59zM75 158h2v1h-2zM105 158h2v1h-2zM125 158h6v1h-6zM142 158h59v1h-59zM72 159h2v1h-2zM79 159h2v1h-2zM105 159h2v1h-2zM125 159h8v1h-8zM138 159h2v1h-2zM142 159h58v1h-58zM202 159h2v1h-2zM72 160h2v1h-2zM79 160h2v1h-2zM100 160h2v1h-2zM114 160h2v1h-2zM127 160h3v1h-3zM131 160h2v1h-2zM138 160h62v1h-62zM202 160h2v1h-2zM100 161h2v1h-2zM107 161h6v1h-6zM114 161h2v1h-2zM118 161h2v1h-2zM122 161h2v1h-2zM127 161h2v1h-2zM133 161h68v1h-68zM70 162h2v1h-2zM105 162h8v1h-8zM117 162h4v1h-4zM122 162h6v1h-6zM131 162h67v1h-67zM199 162h2v1h-2zM70 163h2v1h-2zM83 163h2v1h-2zM87 163h2v1h-2zM102 163h2v1h-2zM105 163h2v1h-2zM111 163h5v1h-5zM117 163h11v1h-11zM129 163h68v1h-68zM67 164h2v1h-2zM80 164h2v1h-2zM83 164h2v1h-2zM87 164h2v1h-2zM94 164h4v1h-4zM102 164h2v1h-2zM110 164h18v1h-18zM129 164h66v1h-66zM64 165h2v1h-2zM67 165h2v1h-2zM73 165h2v1h-2zM80 165h2v1h-2zM84 165h2v1h-2zM93 165h7v1h-7zM103 165h3v1h-3zM110 165h79v1h-79zM190 165h5v1h-5zM198 165h2v1h-2zM64 166h2v1h-2zM73 166h2v1h-2zM78 166h2v1h-2zM84 166h6v1h-6zM93 166h3v1h-3zM97 166h11v1h-11zM110 166h79v1h-79zM190 166h2v1h-2zM198 166h2v1h-2zM56 167h2v1h-2zM67 167h5v1h-5zM73 167h2v1h-2zM76 167h4v1h-4zM81 167h14v1h-14zM96 167h93v1h-93zM199 167h2v1h-2zM48 168h3v1h-3zM56 168h2v1h-2zM67 168h6v1h-6zM75 168h103v1h-103zM179 168h5v1h-5zM199 168h2v1h-2zM48 169h5v1h-5zM55 169h5v1h-5zM68 169h115v1h-115zM49 170h12v1h-12zM62 170h4v1h-4zM68 170h2v1h-2zM71 170h104v1h-104zM176 170h4v1h-4zM181 170h3v1h-3zM49 171h126v1h-126zM176 171h8v1h-8zM192 171h2v1h-2zM49 172h133v1h-133zM184 172h2v1h-2zM192 172h2v1h-2zM47 173h126v1h-126zM174 173h6v1h-6zM181 173h5v1h-5zM45 174h128v1h-128zM176 174h4v1h-4zM181 174h3v1h-3zM43 175h127v1h-127zM171 175h4v1h-4zM185 175h2v1h-2zM42 176h126v1h-126zM170 176h5v1h-5zM177 176h2v1h-2zM185 176h2v1h-2zM39 177h123v1h-123zM163 177h6v1h-6zM170 177h2v1h-2zM177 177h2v1h-2zM39 178h123v1h-123zM163 178h3v1h-3zM167 178h2v1h-2zM170 178h2v1h-2zM173 178h2v1h-2zM39 179h122v1h-122zM164 179h3v1h-3zM173 179h2v1h-2zM39 180h116v1h-116zM156 180h5v1h-5zM165 180h2v1h-2zM42 181h107v1h-107zM150 181h7v1h-7zM158 181h2v1h-2zM43 182h100v1h-100zM145 182h8v1h-8zM155 182h2v1h-2zM158 182h2v1h-2zM44 183h65v1h-65zM110 183h21v1h-21zM133 183h19v1h-19zM153 183h2v1h-2zM160 183h2v1h-2zM170 183h2v1h-2zM44 184h2v1h-2zM47 184h62v1h-62zM110 184h38v1h-38zM153 184h2v1h-2zM160 184h4v1h-4zM170 184h4v1h-4zM44 185h2v1h-2zM49 185h85v1h-85zM136 185h2v1h-2zM139 185h8v1h-8zM149 185h2v1h-2zM162 185h2v1h-2zM172 185h2v1h-2zM46 186h2v1h-2zM50 186h7v1h-7zM60 186h13v1h-13zM74 186h60v1h-60zM140 186h2v1h-2zM149 186h3v1h-3zM46 187h2v1h-2zM49 187h6v1h-6zM56 187h2v1h-2zM60 187h2v1h-2zM64 187h2v1h-2zM68 187h4v1h-4zM73 187h23v1h-23zM98 187h26v1h-26zM125 187h4v1h-4zM133 187h2v1h-2zM140 187h2v1h-2zM143 187h2v1h-2zM146 187h2v1h-2zM150 187h2v1h-2zM49 188h2v1h-2zM53 188h5v1h-5zM59 188h2v1h-2zM66 188h4v1h-4zM73 188h6v1h-6zM80 188h20v1h-20zM101 188h2v1h-2zM105 188h18v1h-18zM125 188h2v1h-2zM129 188h2v1h-2zM133 188h2v1h-2zM143 188h2v1h-2zM146 188h2v1h-2zM54 189h2v1h-2zM57 189h4v1h-4zM64 189h7v1h-7zM82 189h3v1h-3zM86 189h6v1h-6zM93 189h7v1h-7zM101 189h2v1h-2zM109 189h4v1h-4zM115 189h4v1h-4zM121 189h2v1h-2zM129 189h2v1h-2zM57 190h3v1h-3zM64 190h2v1h-2zM68 190h3v1h-3zM79 190h4v1h-4zM86 190h6v1h-6zM93 190h5v1h-5zM101 190h2v1h-2zM106 190h2v1h-2zM116 190h3v1h-3zM122 190h4v1h-4zM59 191h2v1h-2zM64 191h2v1h-2zM68 191h3v1h-3zM79 191h4v1h-4zM86 191h2v1h-2zM94 191h4v1h-4zM100 191h3v1h-3zM106 191h2v1h-2zM116 191h2v1h-2zM122 191h4v1h-4zM59 192h2v1h-2zM64 192h2v1h-2zM69 192h2v1h-2zM79 192h2v1h-2zM94 192h2v1h-2zM100 192h2v1h-2zM50 193h2v1h-2zM64 193h2v1h-2zM97 193h2v1h-2zM110 193h2v1h-2zM50 194h2v1h-2zM97 194h2v1h-2zM105 194h2v1h-2zM110 194h2v1h-2zM119 194h2v1h-2zM69 195h2v1h-2zM87 195h2v1h-2zM105 195h2v1h-2zM119 195h2v1h-2zM145 195h2v1h-2zM150 195h2v1h-2zM69 196h2v1h-2zM87 196h2v1h-2zM90 196h2v1h-2zM119 196h2v1h-2zM145 196h2v1h-2zM150 196h2v1h-2zM90 197h2v1h-2zM153 197h2v1h-2zM153 198h2v1h-2zM57 199h2v1h-2zM90 199h2v1h-2zM104 199h2v1h-2zM110 199h2v1h-2zM57 200h2v1h-2zM90 200h2v1h-2zM104 200h2v1h-2zM110 200h2v1h-2z"/>
<path transform="translate(26 410) scale(0.5)" fill="#e8191f" d="M212 16h2v1h-2zM212 17h2v1h-2zM211 23h2v1h-2zM211 24h3v1h-3zM212 25h2v1h-2zM212 26h2v1h-2zM212 29h2v1h-2zM212 30h2v1h-2zM212 31h2v1h-2zM212 32h2v1h-2zM212 33h2v1h-2zM211 34h3v1h-3zM211 35h2v1h-2zM210 40h2v1h-2zM210 41h3v1h-3zM211 42h2v1h-2zM210 43h2v1h-2zM210 44h2v1h-2zM210 46h2v1h-2zM210 47h2v1h-2zM211 48h2v1h-2zM211 49h2v1h-2zM211 51h2v1h-2zM210 52h3v1h-3zM210 53h2v1h-2zM211 57h2v1h-2zM209 58h4v1h-4zM209 59h4v1h-4zM210 60h2v1h-2zM209 61h2v1h-2zM209 62h2v1h-2zM209 63h2v1h-2zM209 64h2v1h-2zM209 65h3v1h-3zM210 66h2v1h-2zM209 67h3v1h-3zM209 68h2v1h-2zM208 69h4v1h-4zM208 70h4v1h-4zM209 71h2v1h-2zM208 72h2v1h-2zM208 73h3v1h-3zM208 74h3v1h-3zM208 75h3v1h-3zM209 76h2v1h-2zM208 78h2v1h-2zM208 79h3v1h-3zM207 80h4v1h-4zM207 81h2v1h-2zM207 82h3v1h-3zM206 83h4v1h-4zM206 84h2v1h-2zM206 85h4v1h-4zM207 86h3v1h-3zM206 87h4v1h-4zM206 88h3v1h-3zM206 89h2v1h-2zM206 90h4v1h-4zM205 91h5v1h-5zM205 92h4v1h-4zM205 93h4v1h-4zM205 94h3v1h-3zM203 95h5v1h-5zM203 96h6v1h-6zM204 97h5v1h-5zM205 98h4v1h-4zM206 99h3v1h-3zM203 100h6v1h-6zM203 101h5v1h-5zM203 102h5v1h-5zM203 103h5v1h-5zM203 104h4v1h-4zM203 105h5v1h-5zM199 106h2v1h-2zM203 106h5v1h-5zM199 107h9v1h-9zM199 108h9v1h-9zM199 109h8v1h-8zM200 110h8v1h-8zM201 111h7v1h-7zM200 112h7v1h-7zM200 113h7v1h-7zM197 114h10v1h-10zM197 115h10v1h-10zM197 116h10v1h-10zM197 117h9v1h-9zM200 118h7v1h-7zM199 119h8v1h-8zM196 120h11v1h-11zM195 121h12v1h-12zM195 122h11v1h-11zM195 123h11v1h-11zM194 124h11v1h-11zM194 125h11v1h-11zM195 126h10v1h-10zM194 127h12v1h-12zM192 128h14v1h-14zM188 129h2v1h-2zM192 129h13v1h-13zM188 130h2v1h-2zM192 130h11v1h-11zM192 131h11v1h-11zM188 132h2v1h-2zM192 132h11v1h-11zM188 133h4v1h-4zM193 133h11v1h-11zM186 134h18v1h-18zM186 135h15v1h-15zM186 136h12v1h-12zM199 136h2v1h-2zM204 136h2v1h-2zM185 137h13v1h-13zM204 137h2v1h-2zM183 138h14v1h-14zM182 139h17v1h-17zM180 140h19v1h-19zM200 140h2v1h-2zM180 141h17v1h-17zM198 141h4v1h-4zM180 142h20v1h-20zM180 143h16v1h-16zM197 143h2v1h-2zM179 144h3v1h-3zM183 144h10v1h-10zM194 144h2v1h-2zM179 145h11v1h-11zM180 146h9v1h-9zM191 146h2v1h-2zM181 147h8v1h-8zM191 147h2v1h-2zM196 147h2v1h-2zM182 148h5v1h-5zM196 148h2v1h-2zM180 149h4v1h-4zM185 149h3v1h-3zM180 150h4v1h-4zM186 150h2v1h-2zM187 151h2v1h-2zM187 152h2v1h-2zM192 154h2v1h-2zM192 155h2v1h-2z"/>
<path transform="translate(166 410) scale(0.5)" fill="#0a0a0a" d="M138 107h2v1h-2zM168 107h2v1h-2zM138 108h2v1h-2zM168 108h2v1h-2zM170 111h2v1h-2zM170 112h2v1h-2zM110 120h2v1h-2zM110 121h2v1h-2zM159 123h2v1h-2zM114 124h2v1h-2zM153 124h2v1h-2zM159 124h5v1h-5zM114 125h2v1h-2zM143 125h2v1h-2zM153 125h2v1h-2zM160 125h4v1h-4zM143 126h2v1h-2zM132 127h2v1h-2zM152 127h2v1h-2zM159 127h2v1h-2zM164 127h2v1h-2zM178 127h2v1h-2zM132 128h2v1h-2zM135 128h2v1h-2zM152 128h2v1h-2zM159 128h2v1h-2zM164 128h2v1h-2zM178 128h2v1h-2zM128 129h2v1h-2zM135 129h2v1h-2zM138 129h2v1h-2zM116 130h2v1h-2zM128 130h2v1h-2zM138 130h2v1h-2zM149 130h2v1h-2zM104 131h2v1h-2zM116 131h2v1h-2zM142 131h2v1h-2zM149 131h2v1h-2zM161 131h2v1h-2zM167 131h4v1h-4zM98 132h2v1h-2zM104 132h3v1h-3zM116 132h2v1h-2zM120 132h2v1h-2zM133 132h2v1h-2zM142 132h2v1h-2zM148 132h2v1h-2zM151 132h2v1h-2zM161 132h2v1h-2zM167 132h4v1h-4zM98 133h2v1h-2zM104 133h3v1h-3zM115 133h3v1h-3zM120 133h3v1h-3zM133 133h2v1h-2zM148 133h2v1h-2zM151 133h6v1h-6zM186 133h2v1h-2zM114 134h3v1h-3zM121 134h2v1h-2zM133 134h2v1h-2zM137 134h2v1h-2zM141 134h2v1h-2zM147 134h2v1h-2zM152 134h5v1h-5zM158 134h2v1h-2zM162 134h2v1h-2zM170 134h2v1h-2zM186 134h3v1h-3zM114 135h2v1h-2zM129 135h2v1h-2zM133 135h2v1h-2zM137 135h2v1h-2zM141 135h2v1h-2zM144 135h2v1h-2zM147 135h2v1h-2zM153 135h2v1h-2zM158 135h6v1h-6zM170 135h2v1h-2zM183 135h2v1h-2zM187 135h2v1h-2zM114 136h2v1h-2zM129 136h2v1h-2zM135 136h3v1h-3zM141 136h2v1h-2zM144 136h6v1h-6zM152 136h3v1h-3zM158 136h4v1h-4zM169 136h3v1h-3zM176 136h4v1h-4zM183 136h3v1h-3zM192 136h2v1h-2zM83 137h2v1h-2zM106 137h2v1h-2zM109 137h2v1h-2zM114 137h2v1h-2zM119 137h4v1h-4zM125 137h3v1h-3zM130 137h3v1h-3zM135 137h4v1h-4zM141 137h10v1h-10zM152 137h3v1h-3zM157 137h5v1h-5zM164 137h2v1h-2zM169 137h2v1h-2zM172 137h3v1h-3zM176 137h6v1h-6zM184 137h2v1h-2zM190 137h4v1h-4zM83 138h2v1h-2zM106 138h2v1h-2zM109 138h2v1h-2zM113 138h2v1h-2zM117 138h6v1h-6zM125 138h3v1h-3zM130 138h3v1h-3zM135 138h12v1h-12zM148 138h7v1h-7zM157 138h2v1h-2zM160 138h8v1h-8zM172 138h4v1h-4zM177 138h5v1h-5zM183 138h3v1h-3zM190 138h4v1h-4zM80 139h2v1h-2zM88 139h2v1h-2zM101 139h2v1h-2zM106 139h3v1h-3zM110 139h5v1h-5zM116 139h7v1h-7zM125 139h6v1h-6zM132 139h2v1h-2zM135 139h30v1h-30zM166 139h2v1h-2zM171 139h6v1h-6zM178 139h4v1h-4zM183 139h3v1h-3zM188 139h6v1h-6zM80 140h2v1h-2zM88 140h2v1h-2zM91 140h2v1h-2zM101 140h2v1h-2zM106 140h3v1h-3zM110 140h3v1h-3zM116 140h2v1h-2zM119 140h4v1h-4zM125 140h15v1h-15zM141 140h23v1h-23zM165 140h16v1h-16zM184 140h10v1h-10zM91 141h3v1h-3zM97 141h2v1h-2zM105 141h2v1h-2zM112 141h2v1h-2zM120 141h4v1h-4zM125 141h31v1h-31zM157 141h37v1h-37zM83 142h4v1h-4zM91 142h3v1h-3zM97 142h6v1h-6zM105 142h2v1h-2zM109 142h2v1h-2zM112 142h2v1h-2zM121 142h3v1h-3zM125 142h28v1h-28zM154 142h24v1h-24zM179 142h12v1h-12zM83 143h4v1h-4zM96 143h9v1h-9zM106 143h2v1h-2zM109 143h10v1h-10zM120 143h73v1h-73zM96 144h2v1h-2zM100 144h5v1h-5zM106 144h2v1h-2zM109 144h84v1h-84zM63 145h2v1h-2zM76 145h2v1h-2zM86 145h2v1h-2zM95 145h2v1h-2zM101 145h6v1h-6zM108 145h37v1h-37zM146 145h39v1h-39zM186 145h7v1h-7zM53 146h2v1h-2zM63 146h2v1h-2zM76 146h2v1h-2zM86 146h2v1h-2zM95 146h2v1h-2zM101 146h6v1h-6zM108 146h10v1h-10zM119 146h74v1h-74zM53 147h2v1h-2zM86 147h2v1h-2zM94 147h3v1h-3zM99 147h16v1h-16zM116 147h77v1h-77zM66 148h2v1h-2zM80 148h2v1h-2zM86 148h2v1h-2zM92 148h101v1h-101zM66 149h2v1h-2zM74 149h2v1h-2zM77 149h2v1h-2zM80 149h2v1h-2zM84 149h2v1h-2zM87 149h104v1h-104zM74 150h5v1h-5zM80 150h3v1h-3zM84 150h109v1h-109zM41 151h2v1h-2zM73 151h5v1h-5zM79 151h4v1h-4zM84 151h109v1h-109zM37 152h2v1h-2zM41 152h2v1h-2zM48 152h2v1h-2zM71 152h7v1h-7zM79 152h108v1h-108zM188 152h2v1h-2zM37 153h2v1h-2zM43 153h2v1h-2zM48 153h2v1h-2zM58 153h2v1h-2zM71 153h2v1h-2zM76 153h111v1h-111zM188 153h4v1h-4zM31 154h2v1h-2zM43 154h2v1h-2zM50 154h2v1h-2zM58 154h3v1h-3zM67 154h2v1h-2zM70 154h122v1h-122zM31 155h2v1h-2zM39 155h2v1h-2zM46 155h3v1h-3zM50 155h2v1h-2zM55 155h8v1h-8zM64 155h2v1h-2zM67 155h2v1h-2zM70 155h120v1h-120zM39 156h2v1h-2zM46 156h3v1h-3zM50 156h2v1h-2zM55 156h8v1h-8zM64 156h122v1h-122zM34 157h4v1h-4zM41 157h2v1h-2zM50 157h2v1h-2zM54 157h7v1h-7zM63 157h122v1h-122zM186 157h2v1h-2zM34 158h4v1h-4zM41 158h3v1h-3zM45 158h3v1h-3zM50 158h10v1h-10zM61 158h127v1h-127zM33 159h2v1h-2zM36 159h2v1h-2zM40 159h4v1h-4zM45 159h142v1h-142zM30 160h2v1h-2zM33 160h2v1h-2zM40 160h2v1h-2zM43 160h4v1h-4zM48 160h132v1h-132zM181 160h2v1h-2zM185 160h2v1h-2zM29 161h3v1h-3zM33 161h4v1h-4zM40 161h11v1h-11zM52 161h130v1h-130zM185 161h2v1h-2zM27 162h155v1h-155zM27 163h2v1h-2zM30 163h153v1h-153zM30 164h153v1h-153zM185 164h2v1h-2zM26 165h2v1h-2zM29 165h141v1h-141zM172 165h7v1h-7zM185 165h2v1h-2zM26 166h145v1h-145zM172 166h5v1h-5zM179 166h4v1h-4zM25 167h128v1h-128zM154 167h21v1h-21zM176 167h2v1h-2zM179 167h4v1h-4zM25 168h149v1h-149zM176 168h2v1h-2zM181 168h2v1h-2zM23 169h148v1h-148zM174 169h2v1h-2zM18 170h2v1h-2zM22 170h135v1h-135zM158 170h9v1h-9zM168 170h4v1h-4zM174 170h2v1h-2zM18 171h2v1h-2zM21 171h135v1h-135zM157 171h9v1h-9zM168 171h4v1h-4zM18 172h132v1h-132zM151 172h15v1h-15zM167 172h3v1h-3zM174 172h2v1h-2zM18 173h131v1h-131zM150 173h8v1h-8zM159 173h2v1h-2zM162 173h2v1h-2zM166 173h3v1h-3zM174 173h2v1h-2zM18 174h136v1h-136zM159 174h2v1h-2zM164 174h4v1h-4zM18 175h120v1h-120zM139 175h16v1h-16zM157 175h3v1h-3zM164 175h2v1h-2zM19 176h119v1h-119zM139 176h21v1h-21zM19 177h113v1h-113zM133 177h2v1h-2zM136 177h12v1h-12zM150 177h2v1h-2zM154 177h4v1h-4zM161 177h2v1h-2zM23 178h100v1h-100zM124 178h7v1h-7zM132 178h3v1h-3zM137 178h9v1h-9zM151 178h2v1h-2zM159 178h4v1h-4zM21 179h65v1h-65zM87 179h38v1h-38zM126 179h5v1h-5zM132 179h5v1h-5zM138 179h2v1h-2zM141 179h5v1h-5zM150 179h3v1h-3zM154 179h2v1h-2zM159 179h2v1h-2zM21 180h2v1h-2zM24 180h72v1h-72zM97 180h6v1h-6zM104 180h13v1h-13zM118 180h2v1h-2zM121 180h10v1h-10zM133 180h4v1h-4zM141 180h5v1h-5zM150 180h2v1h-2zM154 180h2v1h-2zM158 180h2v1h-2zM26 181h69v1h-69zM99 181h4v1h-4zM107 181h5v1h-5zM113 181h4v1h-4zM118 181h2v1h-2zM122 181h4v1h-4zM128 181h8v1h-8zM137 181h2v1h-2zM141 181h2v1h-2zM144 181h4v1h-4zM158 181h4v1h-4zM26 182h2v1h-2zM30 182h20v1h-20zM51 182h7v1h-7zM59 182h29v1h-29zM89 182h6v1h-6zM98 182h3v1h-3zM102 182h18v1h-18zM125 182h2v1h-2zM129 182h7v1h-7zM137 182h2v1h-2zM146 182h2v1h-2zM158 182h4v1h-4zM26 183h2v1h-2zM30 183h12v1h-12zM43 183h6v1h-6zM52 183h34v1h-34zM87 183h8v1h-8zM98 183h2v1h-2zM102 183h11v1h-11zM114 183h9v1h-9zM125 183h2v1h-2zM129 183h2v1h-2zM139 183h2v1h-2zM29 184h2v1h-2zM35 184h3v1h-3zM39 184h2v1h-2zM43 184h6v1h-6zM50 184h18v1h-18zM69 184h3v1h-3zM73 184h11v1h-11zM86 184h7v1h-7zM96 184h4v1h-4zM101 184h3v1h-3zM105 184h12v1h-12zM119 184h4v1h-4zM129 184h2v1h-2zM133 184h2v1h-2zM139 184h2v1h-2zM29 185h4v1h-4zM35 185h4v1h-4zM42 185h2v1h-2zM50 185h3v1h-3zM56 185h12v1h-12zM70 185h2v1h-2zM73 185h5v1h-5zM79 185h19v1h-19zM101 185h7v1h-7zM109 185h10v1h-10zM121 185h6v1h-6zM129 185h2v1h-2zM133 185h2v1h-2zM137 185h3v1h-3zM154 185h2v1h-2zM31 186h2v1h-2zM35 186h6v1h-6zM42 186h2v1h-2zM51 186h2v1h-2zM56 186h4v1h-4zM62 186h10v1h-10zM73 186h6v1h-6zM80 186h2v1h-2zM84 186h2v1h-2zM90 186h6v1h-6zM99 186h8v1h-8zM112 186h2v1h-2zM115 186h4v1h-4zM121 186h6v1h-6zM137 186h3v1h-3zM154 186h2v1h-2zM159 186h2v1h-2zM26 187h2v1h-2zM39 187h3v1h-3zM48 187h2v1h-2zM56 187h3v1h-3zM63 187h13v1h-13zM77 187h5v1h-5zM97 187h4v1h-4zM109 187h7v1h-7zM123 187h3v1h-3zM149 187h3v1h-3zM159 187h2v1h-2zM26 188h2v1h-2zM40 188h2v1h-2zM44 188h2v1h-2zM48 188h2v1h-2zM53 188h2v1h-2zM63 188h2v1h-2zM70 188h3v1h-3zM78 188h2v1h-2zM85 188h2v1h-2zM97 188h3v1h-3zM109 188h4v1h-4zM114 188h2v1h-2zM124 188h2v1h-2zM149 188h3v1h-3zM44 189h2v1h-2zM53 189h2v1h-2zM59 189h2v1h-2zM71 189h2v1h-2zM83 189h4v1h-4zM98 189h3v1h-3zM109 189h2v1h-2zM113 189h2v1h-2zM118 189h2v1h-2zM130 189h2v1h-2zM151 189h2v1h-2zM50 190h2v1h-2zM53 190h2v1h-2zM59 190h2v1h-2zM63 190h4v1h-4zM71 190h2v1h-2zM74 190h2v1h-2zM83 190h2v1h-2zM93 190h2v1h-2zM99 190h2v1h-2zM109 190h2v1h-2zM113 190h2v1h-2zM118 190h2v1h-2zM130 190h2v1h-2zM151 190h2v1h-2zM31 191h2v1h-2zM44 191h3v1h-3zM50 191h2v1h-2zM53 191h2v1h-2zM61 191h6v1h-6zM74 191h2v1h-2zM92 191h4v1h-4zM117 191h2v1h-2zM128 191h2v1h-2zM31 192h2v1h-2zM44 192h3v1h-3zM59 192h4v1h-4zM73 192h2v1h-2zM92 192h4v1h-4zM100 192h2v1h-2zM114 192h5v1h-5zM120 192h2v1h-2zM128 192h2v1h-2zM59 193h2v1h-2zM70 193h2v1h-2zM73 193h2v1h-2zM83 193h2v1h-2zM100 193h2v1h-2zM114 193h3v1h-3zM120 193h2v1h-2zM54 194h2v1h-2zM69 194h3v1h-3zM83 194h2v1h-2zM101 194h2v1h-2zM40 195h2v1h-2zM54 195h2v1h-2zM69 195h2v1h-2zM85 195h2v1h-2zM101 195h2v1h-2zM134 195h2v1h-2zM40 196h2v1h-2zM85 196h2v1h-2zM134 196h2v1h-2zM75 197h2v1h-2zM107 197h2v1h-2zM75 198h2v1h-2zM92 198h2v1h-2zM100 198h2v1h-2zM107 198h2v1h-2zM121 198h2v1h-2zM147 198h2v1h-2zM85 199h2v1h-2zM92 199h2v1h-2zM100 199h2v1h-2zM119 199h4v1h-4zM147 199h2v1h-2zM174 199h2v1h-2zM55 200h2v1h-2zM85 200h2v1h-2zM119 200h2v1h-2zM174 200h2v1h-2zM55 201h2v1h-2zM88 201h2v1h-2zM88 202h2v1h-2zM91 202h2v1h-2zM91 203h2v1h-2zM63 208h2v1h-2zM129 208h2v1h-2zM63 209h2v1h-2zM129 209h2v1h-2z"/>
<path transform="translate(166 410) scale(0.5)" fill="#e8191f" d="M212 13h2v1h-2zM212 14h2v1h-2zM212 15h2v1h-2zM212 16h2v1h-2zM212 17h2v1h-2zM212 18h2v1h-2zM212 20h2v1h-2zM212 21h2v1h-2zM212 22h2v1h-2zM212 23h2v1h-2zM212 24h2v1h-2zM212 25h2v1h-2zM212 26h2v1h-2zM210 28h2v1h-2zM210 29h2v1h-2zM212 30h2v1h-2zM212 31h2v1h-2zM212 35h2v1h-2zM212 36h2v1h-2zM210 37h4v1h-4zM210 38h4v1h-4zM210 43h2v1h-2zM210 44h2v1h-2zM212 45h2v1h-2zM212 46h2v1h-2zM210 47h2v1h-2zM209 48h3v1h-3zM209 49h3v1h-3zM210 51h2v1h-2zM210 52h2v1h-2zM207 53h4v1h-4zM207 54h5v1h-5zM210 55h2v1h-2zM206 56h4v1h-4zM206 57h4v1h-4zM208 58h2v1h-2zM203 59h2v1h-2zM208 59h4v1h-4zM203 60h2v1h-2zM210 60h2v1h-2zM206 61h2v1h-2zM210 61h2v1h-2zM206 62h2v1h-2zM201 63h2v1h-2zM206 63h2v1h-2zM209 63h2v1h-2zM201 64h7v1h-7zM209 64h2v1h-2zM203 65h9v1h-9zM206 66h6v1h-6zM196 67h2v1h-2zM206 67h3v1h-3zM192 68h2v1h-2zM196 68h2v1h-2zM207 68h3v1h-3zM192 69h2v1h-2zM204 69h6v1h-6zM204 70h5v1h-5zM206 71h5v1h-5zM197 72h6v1h-6zM207 72h4v1h-4zM197 73h9v1h-9zM207 73h4v1h-4zM200 74h2v1h-2zM203 74h3v1h-3zM207 74h3v1h-3zM200 75h3v1h-3zM207 75h3v1h-3zM201 76h3v1h-3zM205 76h4v1h-4zM201 77h3v1h-3zM205 77h5v1h-5zM194 78h2v1h-2zM201 78h3v1h-3zM207 78h3v1h-3zM194 79h4v1h-4zM200 79h4v1h-4zM205 79h5v1h-5zM196 80h13v1h-13zM196 81h13v1h-13zM195 82h2v1h-2zM199 82h8v1h-8zM191 83h2v1h-2zM195 83h15v1h-15zM191 84h2v1h-2zM196 84h14v1h-14zM194 85h2v1h-2zM198 85h11v1h-11zM183 86h2v1h-2zM194 86h14v1h-14zM183 87h2v1h-2zM191 87h16v1h-16zM188 88h2v1h-2zM191 88h6v1h-6zM199 88h8v1h-8zM188 89h2v1h-2zM194 89h13v1h-13zM185 90h3v1h-3zM191 90h18v1h-18zM185 91h3v1h-3zM189 91h20v1h-20zM189 92h4v1h-4zM194 92h13v1h-13zM188 93h2v1h-2zM194 93h12v1h-12zM207 93h2v1h-2zM185 94h5v1h-5zM191 94h18v1h-18zM183 95h6v1h-6zM190 95h18v1h-18zM183 96h4v1h-4zM189 96h19v1h-19zM186 97h21v1h-21zM186 98h13v1h-13zM200 98h7v1h-7zM209 98h2v1h-2zM183 99h2v1h-2zM188 99h19v1h-19zM209 99h2v1h-2zM183 100h5v1h-5zM190 100h16v1h-16zM181 101h2v1h-2zM184 101h22v1h-22zM181 102h2v1h-2zM184 102h21v1h-21zM183 103h24v1h-24zM182 104h10v1h-10zM193 104h14v1h-14zM178 105h2v1h-2zM181 105h16v1h-16zM199 105h2v1h-2zM202 105h3v1h-3zM173 106h2v1h-2zM176 106h4v1h-4zM181 106h5v1h-5zM187 106h10v1h-10zM199 106h2v1h-2zM203 106h2v1h-2zM169 107h2v1h-2zM172 107h3v1h-3zM176 107h4v1h-4zM181 107h6v1h-6zM188 107h6v1h-6zM195 107h6v1h-6zM202 107h3v1h-3zM157 108h2v1h-2zM169 108h36v1h-36zM157 109h2v1h-2zM169 109h24v1h-24zM194 109h10v1h-10zM157 110h4v1h-4zM171 110h3v1h-3zM179 110h25v1h-25zM157 111h4v1h-4zM170 111h3v1h-3zM174 111h10v1h-10zM185 111h17v1h-17zM165 112h2v1h-2zM170 112h32v1h-32zM165 113h4v1h-4zM171 113h29v1h-29zM166 114h33v1h-33zM156 115h2v1h-2zM165 115h8v1h-8zM176 115h23v1h-23zM156 116h2v1h-2zM161 116h2v1h-2zM165 116h14v1h-14zM180 116h17v1h-17zM151 117h2v1h-2zM157 117h2v1h-2zM160 117h36v1h-36zM199 117h4v1h-4zM151 118h4v1h-4zM157 118h2v1h-2zM160 118h2v1h-2zM163 118h4v1h-4zM168 118h27v1h-27zM199 118h4v1h-4zM151 119h8v1h-8zM164 119h3v1h-3zM168 119h19v1h-19zM192 119h3v1h-3zM149 120h10v1h-10zM161 120h2v1h-2zM164 120h17v1h-17zM182 120h5v1h-5zM192 120h2v1h-2zM197 120h2v1h-2zM148 121h3v1h-3zM156 121h3v1h-3zM160 121h27v1h-27zM192 121h4v1h-4zM197 121h2v1h-2zM146 122h5v1h-5zM152 122h3v1h-3zM156 122h9v1h-9zM167 122h4v1h-4zM173 122h14v1h-14zM190 122h6v1h-6zM146 123h2v1h-2zM152 123h3v1h-3zM157 123h14v1h-14zM172 123h4v1h-4zM179 123h7v1h-7zM190 123h2v1h-2zM194 123h2v1h-2zM150 124h28v1h-28zM179 124h8v1h-8zM192 124h4v1h-4zM145 125h2v1h-2zM150 125h2v1h-2zM155 125h9v1h-9zM165 125h23v1h-23zM189 125h2v1h-2zM192 125h3v1h-3zM198 125h2v1h-2zM145 126h2v1h-2zM150 126h3v1h-3zM155 126h2v1h-2zM159 126h11v1h-11zM172 126h11v1h-11zM184 126h7v1h-7zM198 126h2v1h-2zM145 127h2v1h-2zM151 127h2v1h-2zM155 127h2v1h-2zM161 127h7v1h-7zM172 127h11v1h-11zM184 127h5v1h-5zM151 128h2v1h-2zM159 128h24v1h-24zM184 128h5v1h-5zM191 128h2v1h-2zM159 129h16v1h-16zM177 129h2v1h-2zM181 129h2v1h-2zM184 129h2v1h-2zM191 129h2v1h-2zM165 130h6v1h-6zM172 130h7v1h-7zM180 130h4v1h-4zM191 130h2v1h-2zM194 130h2v1h-2zM156 131h3v1h-3zM165 131h2v1h-2zM169 131h3v1h-3zM175 131h2v1h-2zM178 131h6v1h-6zM188 131h2v1h-2zM191 131h2v1h-2zM194 131h2v1h-2zM153 132h2v1h-2zM156 132h3v1h-3zM163 132h5v1h-5zM169 132h3v1h-3zM173 132h2v1h-2zM178 132h2v1h-2zM188 132h2v1h-2zM153 133h2v1h-2zM162 133h3v1h-3zM166 133h2v1h-2zM171 133h5v1h-5zM190 133h2v1h-2zM162 134h3v1h-3zM171 134h5v1h-5zM182 134h2v1h-2zM190 134h2v1h-2zM163 135h2v1h-2zM176 135h2v1h-2zM182 135h2v1h-2zM162 136h2v1h-2zM174 136h8v1h-8zM162 137h2v1h-2zM168 137h2v1h-2zM174 137h2v1h-2zM178 137h4v1h-4zM168 138h2v1h-2zM205 138h2v1h-2zM205 139h2v1h-2zM150 141h2v1h-2zM150 142h2v1h-2zM176 150h2v1h-2zM176 151h2v1h-2z"/>
<path transform="translate(166 410) scale(0.5)" fill="#0a0a0a" d="M203 91h2v1h-2zM203 92h2v1h-2zM183 96h2v1h-2zM183 97h2v1h-2zM198 97h2v1h-2zM202 97h3v1h-3zM198 98h2v1h-2zM202 98h3v1h-3zM196 102h2v1h-2zM181 103h2v1h-2zM188 103h2v1h-2zM196 103h2v1h-2zM181 104h2v1h-2zM188 104h2v1h-2zM194 104h2v1h-2zM200 104h2v1h-2zM179 105h2v1h-2zM194 105h2v1h-2zM200 105h3v1h-3zM179 106h2v1h-2zM184 106h2v1h-2zM192 106h2v1h-2zM201 106h3v1h-3zM184 107h2v1h-2zM192 107h5v1h-5zM202 107h2v1h-2zM184 108h2v1h-2zM191 108h6v1h-6zM199 108h4v1h-4zM175 109h2v1h-2zM184 109h5v1h-5zM191 109h2v1h-2zM198 109h5v1h-5zM204 109h2v1h-2zM175 110h2v1h-2zM185 110h4v1h-4zM198 110h3v1h-3zM202 110h4v1h-4zM186 111h3v1h-3zM192 111h4v1h-4zM199 111h2v1h-2zM202 111h3v1h-3zM159 112h2v1h-2zM178 112h2v1h-2zM186 112h10v1h-10zM197 112h2v1h-2zM202 112h2v1h-2zM159 113h2v1h-2zM170 113h2v1h-2zM178 113h2v1h-2zM186 113h6v1h-6zM197 113h2v1h-2zM202 113h2v1h-2zM170 114h2v1h-2zM178 114h2v1h-2zM187 114h4v1h-4zM198 114h2v1h-2zM202 114h2v1h-2zM169 115h2v1h-2zM174 115h2v1h-2zM178 115h2v1h-2zM181 115h2v1h-2zM187 115h4v1h-4zM194 115h2v1h-2zM198 115h2v1h-2zM166 116h2v1h-2zM169 116h2v1h-2zM174 116h2v1h-2zM178 116h9v1h-9zM188 116h3v1h-3zM194 116h2v1h-2zM197 116h2v1h-2zM163 117h2v1h-2zM166 117h2v1h-2zM176 117h5v1h-5zM182 117h5v1h-5zM188 117h4v1h-4zM194 117h2v1h-2zM197 117h2v1h-2zM159 118h2v1h-2zM163 118h2v1h-2zM167 118h3v1h-3zM175 118h5v1h-5zM182 118h2v1h-2zM190 118h3v1h-3zM194 118h2v1h-2zM158 119h3v1h-3zM165 119h6v1h-6zM173 119h4v1h-4zM178 119h2v1h-2zM182 119h3v1h-3zM191 119h6v1h-6zM156 120h4v1h-4zM164 120h3v1h-3zM169 120h2v1h-2zM173 120h2v1h-2zM182 120h3v1h-3zM192 120h5v1h-5zM153 121h5v1h-5zM164 121h2v1h-2zM173 121h2v1h-2zM184 121h4v1h-4zM191 121h3v1h-3zM195 121h4v1h-4zM153 122h3v1h-3zM166 122h2v1h-2zM173 122h5v1h-5zM184 122h4v1h-4zM191 122h2v1h-2zM194 122h5v1h-5zM152 123h2v1h-2zM166 123h2v1h-2zM170 123h2v1h-2zM174 123h4v1h-4zM182 123h2v1h-2zM188 123h2v1h-2zM192 123h4v1h-4zM152 124h3v1h-3zM158 124h2v1h-2zM167 124h2v1h-2zM170 124h2v1h-2zM176 124h2v1h-2zM182 124h4v1h-4zM188 124h6v1h-6zM150 125h2v1h-2zM153 125h4v1h-4zM158 125h2v1h-2zM166 125h3v1h-3zM176 125h2v1h-2zM179 125h7v1h-7zM190 125h2v1h-2zM150 126h2v1h-2zM155 126h2v1h-2zM161 126h3v1h-3zM166 126h2v1h-2zM169 126h2v1h-2zM179 126h4v1h-4zM154 127h2v1h-2zM161 127h3v1h-3zM166 127h2v1h-2zM169 127h5v1h-5zM191 127h2v1h-2zM153 128h3v1h-3zM169 128h5v1h-5zM179 128h5v1h-5zM191 128h2v1h-2zM152 129h3v1h-3zM169 129h2v1h-2zM172 129h3v1h-3zM179 129h5v1h-5zM191 129h2v1h-2zM152 130h3v1h-3zM161 130h2v1h-2zM166 130h5v1h-5zM172 130h3v1h-3zM187 130h2v1h-2zM190 130h3v1h-3zM161 131h2v1h-2zM166 131h5v1h-5zM173 131h4v1h-4zM187 131h2v1h-2zM190 131h2v1h-2zM200 131h2v1h-2zM150 132h2v1h-2zM155 132h4v1h-4zM164 132h2v1h-2zM171 132h11v1h-11zM189 132h2v1h-2zM193 132h2v1h-2zM200 132h2v1h-2zM150 133h2v1h-2zM155 133h4v1h-4zM164 133h2v1h-2zM169 133h4v1h-4zM177 133h5v1h-5zM189 133h2v1h-2zM193 133h2v1h-2zM158 134h3v1h-3zM168 134h3v1h-3zM173 134h2v1h-2zM196 134h2v1h-2zM148 135h2v1h-2zM158 135h3v1h-3zM168 135h2v1h-2zM173 135h2v1h-2zM196 135h2v1h-2zM148 136h2v1h-2zM155 136h2v1h-2zM155 137h2v1h-2zM165 137h2v1h-2zM189 137h2v1h-2zM165 138h2v1h-2zM189 138h2v1h-2z"/>
<path transform="translate(26 540) scale(0.5)" fill="#0a0a0a" d="M204 135h2v1h-2zM204 136h2v1h-2zM198 137h2v1h-2zM198 138h2v1h-2zM205 139h2v1h-2zM196 140h2v1h-2zM200 140h2v1h-2zM205 140h2v1h-2zM196 141h2v1h-2zM200 141h2v1h-2zM204 141h2v1h-2zM152 142h2v1h-2zM200 142h2v1h-2zM204 142h2v1h-2zM152 143h2v1h-2zM197 143h2v1h-2zM200 143h2v1h-2zM203 143h2v1h-2zM187 144h2v1h-2zM197 144h2v1h-2zM200 144h7v1h-7zM187 145h2v1h-2zM191 145h2v1h-2zM195 145h2v1h-2zM198 145h9v1h-9zM190 146h3v1h-3zM195 146h6v1h-6zM202 146h5v1h-5zM190 147h4v1h-4zM196 147h11v1h-11zM182 148h4v1h-4zM187 148h2v1h-2zM190 148h4v1h-4zM195 148h12v1h-12zM182 149h4v1h-4zM187 149h2v1h-2zM190 149h16v1h-16zM113 150h2v1h-2zM189 150h3v1h-3zM193 150h14v1h-14zM113 151h2v1h-2zM130 151h2v1h-2zM150 151h2v1h-2zM188 151h4v1h-4zM194 151h13v1h-13zM130 152h2v1h-2zM150 152h2v1h-2zM177 152h2v1h-2zM181 152h2v1h-2zM184 152h23v1h-23zM177 153h2v1h-2zM181 153h2v1h-2zM184 153h23v1h-23zM98 154h2v1h-2zM146 154h2v1h-2zM166 154h4v1h-4zM179 154h2v1h-2zM183 154h24v1h-24zM98 155h2v1h-2zM109 155h2v1h-2zM146 155h2v1h-2zM166 155h6v1h-6zM174 155h2v1h-2zM179 155h28v1h-28zM89 156h2v1h-2zM108 156h3v1h-3zM134 156h2v1h-2zM157 156h2v1h-2zM164 156h2v1h-2zM167 156h2v1h-2zM170 156h37v1h-37zM89 157h4v1h-4zM108 157h2v1h-2zM121 157h2v1h-2zM130 157h2v1h-2zM134 157h2v1h-2zM157 157h3v1h-3zM164 157h2v1h-2zM167 157h40v1h-40zM78 158h2v1h-2zM90 158h3v1h-3zM121 158h2v1h-2zM128 158h4v1h-4zM151 158h2v1h-2zM157 158h3v1h-3zM166 158h41v1h-41zM66 159h2v1h-2zM78 159h2v1h-2zM90 159h2v1h-2zM117 159h2v1h-2zM128 159h3v1h-3zM148 159h2v1h-2zM151 159h2v1h-2zM157 159h50v1h-50zM66 160h2v1h-2zM76 160h2v1h-2zM86 160h2v1h-2zM99 160h3v1h-3zM112 160h2v1h-2zM116 160h3v1h-3zM132 160h2v1h-2zM144 160h2v1h-2zM148 160h2v1h-2zM151 160h2v1h-2zM155 160h2v1h-2zM159 160h48v1h-48zM76 161h2v1h-2zM86 161h2v1h-2zM99 161h3v1h-3zM103 161h2v1h-2zM112 161h2v1h-2zM116 161h2v1h-2zM120 161h2v1h-2zM129 161h2v1h-2zM132 161h2v1h-2zM142 161h4v1h-4zM147 161h2v1h-2zM151 161h56v1h-56zM49 162h3v1h-3zM65 162h2v1h-2zM75 162h2v1h-2zM87 162h6v1h-6zM99 162h3v1h-3zM103 162h3v1h-3zM107 162h2v1h-2zM120 162h8v1h-8zM129 162h2v1h-2zM138 162h3v1h-3zM142 162h8v1h-8zM153 162h53v1h-53zM49 163h3v1h-3zM64 163h3v1h-3zM75 163h2v1h-2zM79 163h2v1h-2zM87 163h6v1h-6zM97 163h9v1h-9zM107 163h2v1h-2zM119 163h2v1h-2zM122 163h6v1h-6zM129 163h5v1h-5zM137 163h15v1h-15zM153 163h53v1h-53zM61 164h2v1h-2zM64 164h2v1h-2zM71 164h5v1h-5zM78 164h3v1h-3zM84 164h2v1h-2zM89 164h10v1h-10zM101 164h5v1h-5zM107 164h8v1h-8zM117 164h4v1h-4zM126 164h8v1h-8zM137 164h70v1h-70zM60 165h9v1h-9zM71 165h11v1h-11zM83 165h3v1h-3zM87 165h44v1h-44zM132 165h3v1h-3zM136 165h71v1h-71zM50 166h2v1h-2zM58 166h14v1h-14zM73 166h9v1h-9zM83 166h34v1h-34zM118 166h13v1h-13zM132 166h74v1h-74zM35 167h2v1h-2zM39 167h2v1h-2zM45 167h2v1h-2zM50 167h2v1h-2zM56 167h5v1h-5zM62 167h10v1h-10zM73 167h132v1h-132zM35 168h2v1h-2zM39 168h2v1h-2zM43 168h11v1h-11zM55 168h149v1h-149zM32 169h2v1h-2zM40 169h164v1h-164zM32 170h4v1h-4zM37 170h165v1h-165zM33 171h168v1h-168zM205 171h2v1h-2zM32 172h171v1h-171zM205 172h2v1h-2zM32 173h171v1h-171zM31 174h168v1h-168zM31 175h169v1h-169zM201 175h3v1h-3zM26 176h170v1h-170zM198 176h2v1h-2zM201 176h3v1h-3zM26 177h165v1h-165zM192 177h4v1h-4zM199 177h2v1h-2zM26 178h160v1h-160zM187 178h4v1h-4zM192 178h2v1h-2zM195 178h3v1h-3zM199 178h2v1h-2zM26 179h160v1h-160zM187 179h2v1h-2zM192 179h2v1h-2zM195 179h3v1h-3zM31 180h142v1h-142zM174 180h11v1h-11zM187 180h2v1h-2zM193 180h2v1h-2zM31 181h147v1h-147zM179 181h4v1h-4zM193 181h4v1h-4zM33 182h118v1h-118zM152 182h2v1h-2zM157 182h14v1h-14zM172 182h4v1h-4zM195 182h2v1h-2zM33 183h2v1h-2zM36 183h16v1h-16zM53 183h80v1h-80zM134 183h23v1h-23zM158 183h2v1h-2zM162 183h2v1h-2zM168 183h5v1h-5zM177 183h2v1h-2zM191 183h2v1h-2zM35 184h2v1h-2zM38 184h6v1h-6zM45 184h2v1h-2zM50 184h58v1h-58zM109 184h9v1h-9zM123 184h11v1h-11zM135 184h7v1h-7zM145 184h4v1h-4zM150 184h7v1h-7zM158 184h4v1h-4zM170 184h3v1h-3zM176 184h3v1h-3zM191 184h2v1h-2zM35 185h2v1h-2zM38 185h8v1h-8zM47 185h2v1h-2zM50 185h4v1h-4zM55 185h7v1h-7zM63 185h20v1h-20zM84 185h2v1h-2zM88 185h14v1h-14zM103 185h5v1h-5zM109 185h22v1h-22zM132 185h2v1h-2zM137 185h4v1h-4zM145 185h2v1h-2zM150 185h4v1h-4zM156 185h2v1h-2zM160 185h2v1h-2zM170 185h3v1h-3zM176 185h2v1h-2zM179 185h4v1h-4zM44 186h2v1h-2zM47 186h2v1h-2zM51 186h7v1h-7zM60 186h2v1h-2zM63 186h3v1h-3zM68 186h4v1h-4zM73 186h3v1h-3zM77 186h6v1h-6zM84 186h2v1h-2zM88 186h2v1h-2zM92 186h10v1h-10zM103 186h4v1h-4zM109 186h6v1h-6zM118 186h12v1h-12zM132 186h2v1h-2zM137 186h4v1h-4zM145 186h2v1h-2zM152 186h2v1h-2zM156 186h2v1h-2zM162 186h2v1h-2zM179 186h4v1h-4zM41 187h2v1h-2zM52 187h6v1h-6zM63 187h2v1h-2zM67 187h2v1h-2zM74 187h3v1h-3zM81 187h2v1h-2zM84 187h3v1h-3zM88 187h2v1h-2zM95 187h2v1h-2zM98 187h4v1h-4zM104 187h3v1h-3zM109 187h5v1h-5zM119 187h2v1h-2zM124 187h2v1h-2zM134 187h2v1h-2zM137 187h2v1h-2zM145 187h2v1h-2zM162 187h2v1h-2zM166 187h2v1h-2zM174 187h2v1h-2zM180 187h2v1h-2zM184 187h2v1h-2zM195 187h2v1h-2zM198 187h2v1h-2zM41 188h2v1h-2zM49 188h2v1h-2zM63 188h2v1h-2zM67 188h2v1h-2zM75 188h2v1h-2zM80 188h4v1h-4zM85 188h2v1h-2zM93 188h2v1h-2zM104 188h2v1h-2zM110 188h2v1h-2zM115 188h2v1h-2zM119 188h2v1h-2zM131 188h2v1h-2zM134 188h2v1h-2zM145 188h2v1h-2zM154 188h2v1h-2zM166 188h2v1h-2zM174 188h2v1h-2zM180 188h2v1h-2zM184 188h2v1h-2zM195 188h2v1h-2zM198 188h2v1h-2zM49 189h4v1h-4zM63 189h2v1h-2zM73 189h3v1h-3zM80 189h4v1h-4zM93 189h2v1h-2zM100 189h2v1h-2zM115 189h2v1h-2zM131 189h2v1h-2zM154 189h2v1h-2zM159 189h2v1h-2zM169 189h2v1h-2zM44 190h2v1h-2zM51 190h2v1h-2zM73 190h3v1h-3zM97 190h2v1h-2zM100 190h2v1h-2zM159 190h2v1h-2zM169 190h2v1h-2zM173 190h2v1h-2zM179 190h2v1h-2zM44 191h2v1h-2zM95 191h4v1h-4zM142 191h2v1h-2zM146 191h2v1h-2zM157 191h2v1h-2zM173 191h2v1h-2zM179 191h2v1h-2zM39 192h2v1h-2zM66 192h2v1h-2zM89 192h2v1h-2zM93 192h4v1h-4zM99 192h2v1h-2zM142 192h2v1h-2zM146 192h2v1h-2zM157 192h2v1h-2zM39 193h3v1h-3zM57 193h2v1h-2zM66 193h2v1h-2zM69 193h2v1h-2zM89 193h2v1h-2zM93 193h2v1h-2zM99 193h2v1h-2zM153 193h2v1h-2zM40 194h2v1h-2zM57 194h2v1h-2zM69 194h2v1h-2zM73 194h2v1h-2zM100 194h2v1h-2zM132 194h2v1h-2zM153 194h2v1h-2zM73 195h2v1h-2zM100 195h2v1h-2zM132 195h2v1h-2zM71 197h2v1h-2zM175 197h2v1h-2zM71 198h2v1h-2zM173 198h4v1h-4zM39 199h2v1h-2zM173 199h2v1h-2zM191 199h2v1h-2zM39 200h2v1h-2zM191 200h2v1h-2z"/>
<path transform="translate(26 540) scale(0.5)" fill="#e8191f" d="M211 27h2v1h-2zM211 28h2v1h-2zM211 33h2v1h-2zM211 34h2v1h-2zM211 35h2v1h-2zM211 36h2v1h-2zM211 37h2v1h-2zM211 38h2v1h-2zM211 39h2v1h-2zM211 43h2v1h-2zM210 44h3v1h-3zM210 45h2v1h-2zM210 46h2v1h-2zM210 53h2v1h-2zM210 54h3v1h-3zM211 55h2v1h-2zM209 56h2v1h-2zM209 57h2v1h-2zM211 60h2v1h-2zM211 61h2v1h-2zM209 71h2v1h-2zM209 72h2v1h-2zM209 73h2v1h-2zM209 74h2v1h-2zM209 75h2v1h-2zM209 76h2v1h-2zM209 77h2v1h-2zM209 78h2v1h-2zM209 79h2v1h-2zM209 80h2v1h-2zM209 82h2v1h-2zM209 83h2v1h-2zM209 84h2v1h-2zM209 85h2v1h-2zM208 86h2v1h-2zM208 87h3v1h-3zM208 88h3v1h-3zM208 89h3v1h-3zM208 91h2v1h-2zM208 92h2v1h-2zM208 93h2v1h-2zM208 94h3v1h-3zM207 95h4v1h-4zM207 96h3v1h-3zM208 97h2v1h-2zM207 100h2v1h-2zM207 101h2v1h-2zM207 102h3v1h-3zM207 103h3v1h-3zM207 104h3v1h-3zM207 105h3v1h-3zM207 106h3v1h-3zM206 107h4v1h-4zM206 108h3v1h-3zM206 109h3v1h-3zM206 110h4v1h-4zM206 111h4v1h-4zM206 112h3v1h-3zM206 113h3v1h-3zM206 114h3v1h-3zM206 115h3v1h-3zM205 116h3v1h-3zM205 117h3v1h-3zM206 118h2v1h-2zM206 119h3v1h-3zM206 120h3v1h-3zM205 121h4v1h-4zM205 122h3v1h-3zM205 123h3v1h-3zM205 124h3v1h-3zM206 125h2v1h-2zM205 126h3v1h-3zM205 127h3v1h-3zM205 128h3v1h-3zM205 129h3v1h-3zM205 130h3v1h-3zM205 131h3v1h-3zM205 132h3v1h-3zM205 133h3v1h-3zM205 134h3v1h-3zM206 135h2v1h-2zM205 136h2v1h-2zM205 137h2v1h-2zM205 138h2v1h-2zM205 139h2v1h-2zM204 140h3v1h-3zM204 141h2v1h-2z"/>
<path transform="translate(166 540) scale(0.5)" fill="#0a0a0a" d="M133 86h2v1h-2zM133 87h2v1h-2zM90 98h2v1h-2zM90 99h2v1h-2zM69 100h2v1h-2zM169 100h2v1h-2zM69 101h2v1h-2zM169 101h2v1h-2zM109 103h2v1h-2zM109 104h2v1h-2zM68 105h2v1h-2zM102 105h2v1h-2zM68 106h2v1h-2zM102 106h2v1h-2zM137 106h2v1h-2zM137 107h2v1h-2zM156 107h2v1h-2zM161 107h2v1h-2zM79 108h2v1h-2zM138 108h4v1h-4zM156 108h2v1h-2zM161 108h2v1h-2zM79 109h2v1h-2zM138 109h4v1h-4zM148 109h2v1h-2zM148 110h2v1h-2zM58 111h2v1h-2zM124 111h2v1h-2zM58 112h2v1h-2zM103 112h2v1h-2zM124 112h2v1h-2zM62 113h2v1h-2zM103 113h2v1h-2zM121 113h2v1h-2zM144 113h2v1h-2zM62 114h2v1h-2zM105 114h2v1h-2zM112 114h2v1h-2zM121 114h2v1h-2zM143 114h3v1h-3zM48 115h2v1h-2zM105 115h2v1h-2zM112 115h2v1h-2zM119 115h2v1h-2zM143 115h2v1h-2zM154 115h2v1h-2zM168 115h2v1h-2zM174 115h2v1h-2zM48 116h2v1h-2zM119 116h2v1h-2zM154 116h2v1h-2zM168 116h2v1h-2zM174 116h2v1h-2zM100 117h2v1h-2zM111 117h2v1h-2zM141 117h2v1h-2zM185 117h2v1h-2zM100 118h2v1h-2zM106 118h2v1h-2zM111 118h2v1h-2zM125 118h2v1h-2zM141 118h4v1h-4zM151 118h2v1h-2zM171 118h2v1h-2zM185 118h2v1h-2zM106 119h2v1h-2zM114 119h2v1h-2zM125 119h2v1h-2zM143 119h2v1h-2zM149 119h4v1h-4zM171 119h2v1h-2zM177 119h2v1h-2zM65 120h2v1h-2zM96 120h2v1h-2zM112 120h4v1h-4zM136 120h2v1h-2zM149 120h2v1h-2zM154 120h2v1h-2zM165 120h2v1h-2zM171 120h2v1h-2zM177 120h2v1h-2zM183 120h2v1h-2zM194 120h2v1h-2zM24 121h2v1h-2zM65 121h2v1h-2zM89 121h2v1h-2zM95 121h3v1h-3zM111 121h3v1h-3zM136 121h5v1h-5zM148 121h2v1h-2zM151 121h2v1h-2zM154 121h2v1h-2zM165 121h2v1h-2zM181 121h4v1h-4zM186 121h2v1h-2zM194 121h2v1h-2zM24 122h2v1h-2zM53 122h2v1h-2zM81 122h2v1h-2zM89 122h2v1h-2zM95 122h2v1h-2zM99 122h2v1h-2zM111 122h2v1h-2zM118 122h2v1h-2zM134 122h2v1h-2zM137 122h4v1h-4zM146 122h4v1h-4zM151 122h2v1h-2zM181 122h2v1h-2zM186 122h4v1h-4zM53 123h2v1h-2zM81 123h2v1h-2zM99 123h2v1h-2zM112 123h2v1h-2zM118 123h2v1h-2zM123 123h2v1h-2zM134 123h2v1h-2zM138 123h2v1h-2zM141 123h3v1h-3zM146 123h2v1h-2zM155 123h2v1h-2zM188 123h2v1h-2zM44 124h2v1h-2zM62 124h2v1h-2zM75 124h2v1h-2zM79 124h6v1h-6zM109 124h2v1h-2zM112 124h2v1h-2zM117 124h2v1h-2zM123 124h4v1h-4zM141 124h4v1h-4zM146 124h2v1h-2zM155 124h3v1h-3zM162 124h2v1h-2zM178 124h2v1h-2zM44 125h2v1h-2zM62 125h2v1h-2zM75 125h6v1h-6zM83 125h2v1h-2zM92 125h2v1h-2zM109 125h5v1h-5zM117 125h2v1h-2zM123 125h4v1h-4zM143 125h2v1h-2zM146 125h2v1h-2zM156 125h2v1h-2zM162 125h2v1h-2zM166 125h2v1h-2zM178 125h2v1h-2zM198 125h2v1h-2zM77 126h2v1h-2zM87 126h2v1h-2zM92 126h4v1h-4zM97 126h2v1h-2zM110 126h4v1h-4zM123 126h2v1h-2zM129 126h2v1h-2zM132 126h2v1h-2zM146 126h2v1h-2zM159 126h2v1h-2zM166 126h2v1h-2zM171 126h2v1h-2zM192 126h2v1h-2zM198 126h2v1h-2zM50 127h2v1h-2zM74 127h2v1h-2zM82 127h2v1h-2zM87 127h4v1h-4zM94 127h5v1h-5zM108 127h6v1h-6zM129 127h2v1h-2zM132 127h2v1h-2zM142 127h2v1h-2zM146 127h2v1h-2zM159 127h2v1h-2zM166 127h2v1h-2zM171 127h2v1h-2zM174 127h2v1h-2zM184 127h2v1h-2zM192 127h2v1h-2zM206 127h2v1h-2zM50 128h2v1h-2zM65 128h2v1h-2zM68 128h2v1h-2zM71 128h2v1h-2zM74 128h2v1h-2zM81 128h3v1h-3zM89 128h3v1h-3zM96 128h2v1h-2zM108 128h4v1h-4zM132 128h2v1h-2zM136 128h8v1h-8zM151 128h2v1h-2zM166 128h2v1h-2zM170 128h2v1h-2zM174 128h2v1h-2zM178 128h2v1h-2zM184 128h2v1h-2zM196 128h2v1h-2zM206 128h2v1h-2zM210 128h2v1h-2zM20 129h2v1h-2zM55 129h2v1h-2zM58 129h2v1h-2zM63 129h4v1h-4zM68 129h2v1h-2zM71 129h2v1h-2zM74 129h2v1h-2zM80 129h3v1h-3zM89 129h3v1h-3zM95 129h2v1h-2zM112 129h6v1h-6zM130 129h2v1h-2zM133 129h2v1h-2zM136 129h8v1h-8zM146 129h4v1h-4zM151 129h2v1h-2zM159 129h2v1h-2zM163 129h2v1h-2zM167 129h2v1h-2zM170 129h3v1h-3zM176 129h4v1h-4zM196 129h2v1h-2zM201 129h2v1h-2zM210 129h2v1h-2zM20 130h2v1h-2zM54 130h3v1h-3zM58 130h2v1h-2zM63 130h2v1h-2zM80 130h3v1h-3zM87 130h5v1h-5zM95 130h6v1h-6zM106 130h2v1h-2zM112 130h9v1h-9zM130 130h2v1h-2zM133 130h2v1h-2zM136 130h2v1h-2zM140 130h16v1h-16zM158 130h3v1h-3zM163 130h6v1h-6zM171 130h2v1h-2zM174 130h4v1h-4zM189 130h2v1h-2zM201 130h2v1h-2zM54 131h2v1h-2zM59 131h2v1h-2zM62 131h2v1h-2zM74 131h4v1h-4zM80 131h3v1h-3zM87 131h3v1h-3zM95 131h6v1h-6zM106 131h5v1h-5zM113 131h8v1h-8zM135 131h4v1h-4zM140 131h2v1h-2zM143 131h8v1h-8zM152 131h9v1h-9zM162 131h2v1h-2zM165 131h2v1h-2zM168 131h5v1h-5zM174 131h3v1h-3zM178 131h2v1h-2zM181 131h2v1h-2zM189 131h2v1h-2zM195 131h2v1h-2zM199 131h2v1h-2zM33 132h2v1h-2zM43 132h2v1h-2zM53 132h4v1h-4zM58 132h3v1h-3zM62 132h2v1h-2zM71 132h7v1h-7zM82 132h2v1h-2zM88 132h3v1h-3zM95 132h12v1h-12zM108 132h13v1h-13zM123 132h6v1h-6zM130 132h4v1h-4zM135 132h4v1h-4zM142 132h19v1h-19zM162 132h9v1h-9zM178 132h5v1h-5zM187 132h2v1h-2zM195 132h3v1h-3zM199 132h2v1h-2zM33 133h2v1h-2zM43 133h2v1h-2zM47 133h3v1h-3zM53 133h8v1h-8zM71 133h6v1h-6zM79 133h5v1h-5zM88 133h7v1h-7zM99 133h9v1h-9zM111 133h4v1h-4zM117 133h4v1h-4zM122 133h16v1h-16zM142 133h6v1h-6zM150 133h7v1h-7zM158 133h4v1h-4zM163 133h2v1h-2zM167 133h2v1h-2zM171 133h2v1h-2zM174 133h2v1h-2zM178 133h6v1h-6zM187 133h3v1h-3zM195 133h3v1h-3zM21 134h2v1h-2zM25 134h2v1h-2zM45 134h5v1h-5zM56 134h5v1h-5zM63 134h2v1h-2zM67 134h2v1h-2zM75 134h9v1h-9zM89 134h8v1h-8zM99 134h2v1h-2zM102 134h3v1h-3zM106 134h2v1h-2zM110 134h10v1h-10zM122 134h5v1h-5zM128 134h10v1h-10zM139 134h5v1h-5zM145 134h2v1h-2zM149 134h5v1h-5zM155 134h2v1h-2zM158 134h4v1h-4zM163 134h2v1h-2zM167 134h6v1h-6zM174 134h2v1h-2zM179 134h6v1h-6zM187 134h6v1h-6zM203 134h2v1h-2zM21 135h2v1h-2zM25 135h2v1h-2zM32 135h2v1h-2zM45 135h2v1h-2zM50 135h2v1h-2zM56 135h3v1h-3zM63 135h7v1h-7zM75 135h9v1h-9zM86 135h11v1h-11zM98 135h7v1h-7zM106 135h3v1h-3zM110 135h2v1h-2zM114 135h5v1h-5zM120 135h3v1h-3zM124 135h30v1h-30zM157 135h4v1h-4zM163 135h2v1h-2zM167 135h4v1h-4zM173 135h5v1h-5zM179 135h17v1h-17zM200 135h7v1h-7zM32 136h2v1h-2zM43 136h2v1h-2zM50 136h5v1h-5zM56 136h3v1h-3zM60 136h4v1h-4zM65 136h2v1h-2zM68 136h4v1h-4zM73 136h2v1h-2zM79 136h6v1h-6zM86 136h30v1h-30zM117 136h2v1h-2zM120 136h41v1h-41zM163 136h4v1h-4zM168 136h10v1h-10zM179 136h11v1h-11zM191 136h5v1h-5zM197 136h2v1h-2zM200 136h9v1h-9zM33 137h2v1h-2zM39 137h2v1h-2zM43 137h13v1h-13zM57 137h7v1h-7zM65 137h17v1h-17zM83 137h31v1h-31zM118 137h40v1h-40zM159 137h17v1h-17zM177 137h16v1h-16zM194 137h5v1h-5zM205 137h4v1h-4zM210 137h2v1h-2zM22 138h2v1h-2zM29 138h2v1h-2zM33 138h4v1h-4zM39 138h4v1h-4zM45 138h12v1h-12zM58 138h45v1h-45zM106 138h27v1h-27zM134 138h8v1h-8zM143 138h13v1h-13zM158 138h21v1h-21zM180 138h7v1h-7zM188 138h12v1h-12zM205 138h7v1h-7zM22 139h2v1h-2zM29 139h3v1h-3zM33 139h12v1h-12zM49 139h8v1h-8zM61 139h22v1h-22zM88 139h15v1h-15zM105 139h43v1h-43zM149 139h7v1h-7zM157 139h47v1h-47zM206 139h5v1h-5zM28 140h5v1h-5zM34 140h5v1h-5zM40 140h2v1h-2zM43 140h2v1h-2zM46 140h2v1h-2zM49 140h7v1h-7zM58 140h2v1h-2zM61 140h20v1h-20zM83 140h2v1h-2zM86 140h6v1h-6zM93 140h51v1h-51zM145 140h23v1h-23zM169 140h27v1h-27zM200 140h7v1h-7zM208 140h3v1h-3zM28 141h5v1h-5zM34 141h3v1h-3zM40 141h2v1h-2zM43 141h2v1h-2zM46 141h64v1h-64zM111 141h18v1h-18zM130 141h14v1h-14zM145 141h43v1h-43zM189 141h9v1h-9zM202 141h5v1h-5zM208 141h3v1h-3zM26 142h6v1h-6zM35 142h6v1h-6zM45 142h56v1h-56zM102 142h110v1h-110zM14 143h2v1h-2zM21 143h4v1h-4zM26 143h5v1h-5zM32 143h180v1h-180zM14 144h2v1h-2zM21 144h4v1h-4zM26 144h186v1h-186zM20 145h2v1h-2zM24 145h32v1h-32zM57 145h156v1h-156zM20 146h3v1h-3zM24 146h6v1h-6zM31 146h25v1h-25zM57 146h156v1h-156zM19 147h5v1h-5zM26 147h187v1h-187zM17 148h7v1h-7zM26 148h187v1h-187zM17 149h2v1h-2zM20 149h191v1h-191zM21 150h191v1h-191zM12 151h2v1h-2zM17 151h2v1h-2zM20 151h192v1h-192zM12 152h2v1h-2zM16 152h197v1h-197zM14 153h199v1h-199zM14 154h198v1h-198zM11 155h2v1h-2zM14 155h198v1h-198zM10 156h202v1h-202zM10 157h203v1h-203zM10 158h203v1h-203zM10 159h203v1h-203zM10 160h203v1h-203zM12 161h201v1h-201zM12 162h201v1h-201zM12 163h201v1h-201zM12 164h201v1h-201zM15 165h198v1h-198zM15 166h198v1h-198zM16 167h197v1h-197zM18 168h195v1h-195zM17 169h2v1h-2zM20 169h45v1h-45zM66 169h145v1h-145zM17 170h195v1h-195zM19 171h3v1h-3zM23 171h189v1h-189zM23 172h78v1h-78zM102 172h101v1h-101zM204 172h3v1h-3zM209 172h2v1h-2zM23 173h170v1h-170zM194 173h8v1h-8zM205 173h3v1h-3zM24 174h26v1h-26zM52 174h46v1h-46zM99 174h60v1h-60zM160 174h20v1h-20zM181 174h5v1h-5zM187 174h14v1h-14zM205 174h3v1h-3zM23 175h7v1h-7zM31 175h3v1h-3zM35 175h8v1h-8zM44 175h84v1h-84zM130 175h29v1h-29zM160 175h5v1h-5zM166 175h7v1h-7zM174 175h8v1h-8zM183 175h17v1h-17zM206 175h4v1h-4zM23 176h2v1h-2zM26 176h2v1h-2zM30 176h4v1h-4zM39 176h17v1h-17zM57 176h35v1h-35zM93 176h14v1h-14zM108 176h48v1h-48zM157 176h3v1h-3zM162 176h3v1h-3zM166 176h34v1h-34zM201 176h2v1h-2zM206 176h4v1h-4zM26 177h2v1h-2zM30 177h8v1h-8zM39 177h36v1h-36zM77 177h10v1h-10zM88 177h4v1h-4zM93 177h60v1h-60zM154 177h10v1h-10zM166 177h14v1h-14zM181 177h9v1h-9zM191 177h7v1h-7zM200 177h3v1h-3zM206 177h4v1h-4zM30 178h8v1h-8zM39 178h2v1h-2zM42 178h12v1h-12zM56 178h2v1h-2zM59 178h21v1h-21zM81 178h33v1h-33zM115 178h48v1h-48zM164 178h6v1h-6zM171 178h5v1h-5zM177 178h4v1h-4zM182 178h16v1h-16zM200 178h4v1h-4zM208 178h2v1h-2zM31 179h7v1h-7zM42 179h6v1h-6zM49 179h7v1h-7zM57 179h9v1h-9zM69 179h8v1h-8zM78 179h2v1h-2zM82 179h15v1h-15zM98 179h7v1h-7zM106 179h2v1h-2zM110 179h33v1h-33zM144 179h7v1h-7zM152 179h5v1h-5zM159 179h14v1h-14zM174 179h7v1h-7zM182 179h2v1h-2zM187 179h9v1h-9zM202 179h2v1h-2zM31 180h2v1h-2zM35 180h5v1h-5zM47 180h25v1h-25zM73 180h4v1h-4zM78 180h2v1h-2zM81 180h20v1h-20zM102 180h2v1h-2zM105 180h16v1h-16zM125 180h15v1h-15zM141 180h13v1h-13zM155 180h14v1h-14zM170 180h2v1h-2zM174 180h10v1h-10zM189 180h2v1h-2zM28 181h3v1h-3zM36 181h4v1h-4zM47 181h2v1h-2zM51 181h3v1h-3zM56 181h2v1h-2zM63 181h8v1h-8zM73 181h23v1h-23zM97 181h4v1h-4zM105 181h17v1h-17zM124 181h9v1h-9zM136 181h4v1h-4zM141 181h12v1h-12zM154 181h9v1h-9zM164 181h8v1h-8zM173 181h9v1h-9zM183 181h5v1h-5zM191 181h2v1h-2zM203 181h2v1h-2zM207 181h2v1h-2zM28 182h3v1h-3zM36 182h2v1h-2zM40 182h2v1h-2zM51 182h2v1h-2zM57 182h11v1h-11zM69 182h3v1h-3zM73 182h8v1h-8zM82 182h7v1h-7zM90 182h9v1h-9zM105 182h12v1h-12zM120 182h2v1h-2zM124 182h9v1h-9zM134 182h2v1h-2zM137 182h4v1h-4zM142 182h4v1h-4zM147 182h5v1h-5zM154 182h6v1h-6zM161 182h2v1h-2zM164 182h17v1h-17zM183 182h5v1h-5zM190 182h5v1h-5zM203 182h2v1h-2zM207 182h2v1h-2zM30 183h2v1h-2zM36 183h2v1h-2zM40 183h2v1h-2zM57 183h10v1h-10zM68 183h4v1h-4zM73 183h2v1h-2zM78 183h3v1h-3zM84 183h5v1h-5zM94 183h3v1h-3zM104 183h2v1h-2zM111 183h2v1h-2zM114 183h5v1h-5zM120 183h2v1h-2zM125 183h5v1h-5zM131 183h2v1h-2zM134 183h2v1h-2zM139 183h2v1h-2zM142 183h2v1h-2zM145 183h4v1h-4zM152 183h2v1h-2zM155 183h8v1h-8zM164 183h4v1h-4zM171 183h2v1h-2zM177 183h4v1h-4zM183 183h2v1h-2zM186 183h6v1h-6zM193 183h2v1h-2zM30 184h2v1h-2zM36 184h2v1h-2zM48 184h2v1h-2zM53 184h2v1h-2zM57 184h3v1h-3zM62 184h5v1h-5zM68 184h2v1h-2zM73 184h2v1h-2zM77 184h3v1h-3zM86 184h3v1h-3zM93 184h3v1h-3zM101 184h2v1h-2zM104 184h6v1h-6zM116 184h3v1h-3zM120 184h2v1h-2zM126 184h3v1h-3zM131 184h4v1h-4zM137 184h4v1h-4zM145 184h4v1h-4zM151 184h3v1h-3zM155 184h2v1h-2zM159 184h2v1h-2zM165 184h2v1h-2zM170 184h2v1h-2zM183 184h2v1h-2zM188 184h4v1h-4zM48 185h2v1h-2zM53 185h2v1h-2zM58 185h6v1h-6zM72 185h2v1h-2zM77 185h2v1h-2zM81 185h2v1h-2zM84 185h6v1h-6zM93 185h4v1h-4zM101 185h2v1h-2zM105 185h5v1h-5zM122 185h2v1h-2zM127 185h2v1h-2zM131 185h22v1h-22zM155 185h5v1h-5zM164 185h5v1h-5zM170 185h3v1h-3zM189 185h3v1h-3zM28 186h2v1h-2zM52 186h2v1h-2zM60 186h2v1h-2zM63 186h2v1h-2zM66 186h2v1h-2zM72 186h2v1h-2zM81 186h2v1h-2zM84 186h6v1h-6zM93 186h4v1h-4zM103 186h6v1h-6zM113 186h3v1h-3zM118 186h2v1h-2zM121 186h3v1h-3zM128 186h3v1h-3zM134 186h6v1h-6zM141 186h5v1h-5zM148 186h3v1h-3zM154 186h6v1h-6zM161 186h2v1h-2zM164 186h2v1h-2zM167 186h6v1h-6zM183 186h2v1h-2zM193 186h3v1h-3zM28 187h2v1h-2zM52 187h3v1h-3zM63 187h2v1h-2zM66 187h2v1h-2zM77 187h2v1h-2zM84 187h4v1h-4zM93 187h3v1h-3zM99 187h11v1h-11zM113 187h3v1h-3zM117 187h6v1h-6zM128 187h5v1h-5zM135 187h5v1h-5zM144 187h2v1h-2zM149 187h2v1h-2zM154 187h2v1h-2zM161 187h4v1h-4zM168 187h4v1h-4zM183 187h2v1h-2zM189 187h2v1h-2zM192 187h4v1h-4zM44 188h2v1h-2zM50 188h2v1h-2zM53 188h2v1h-2zM70 188h2v1h-2zM77 188h3v1h-3zM84 188h3v1h-3zM99 188h4v1h-4zM108 188h2v1h-2zM113 188h2v1h-2zM117 188h5v1h-5zM131 188h3v1h-3zM135 188h2v1h-2zM142 188h2v1h-2zM147 188h4v1h-4zM163 188h2v1h-2zM172 188h2v1h-2zM180 188h2v1h-2zM184 188h4v1h-4zM189 188h2v1h-2zM192 188h2v1h-2zM29 189h4v1h-4zM44 189h2v1h-2zM50 189h2v1h-2zM57 189h2v1h-2zM68 189h4v1h-4zM78 189h2v1h-2zM81 189h2v1h-2zM85 189h4v1h-4zM100 189h2v1h-2zM103 189h2v1h-2zM108 189h2v1h-2zM117 189h2v1h-2zM127 189h2v1h-2zM132 189h2v1h-2zM140 189h4v1h-4zM147 189h4v1h-4zM167 189h2v1h-2zM172 189h2v1h-2zM180 189h2v1h-2zM184 189h4v1h-4zM29 190h4v1h-4zM57 190h2v1h-2zM68 190h2v1h-2zM81 190h2v1h-2zM85 190h4v1h-4zM103 190h2v1h-2zM108 190h2v1h-2zM127 190h2v1h-2zM140 190h2v1h-2zM147 190h2v1h-2zM167 190h2v1h-2zM176 190h2v1h-2zM180 190h2v1h-2zM184 190h2v1h-2zM192 190h2v1h-2zM49 191h2v1h-2zM60 191h2v1h-2zM81 191h2v1h-2zM102 191h2v1h-2zM110 191h2v1h-2zM118 191h2v1h-2zM129 191h2v1h-2zM132 191h4v1h-4zM140 191h2v1h-2zM147 191h2v1h-2zM154 191h2v1h-2zM169 191h2v1h-2zM176 191h6v1h-6zM184 191h2v1h-2zM192 191h2v1h-2zM208 191h2v1h-2zM49 192h2v1h-2zM60 192h2v1h-2zM69 192h2v1h-2zM81 192h3v1h-3zM102 192h2v1h-2zM110 192h2v1h-2zM118 192h2v1h-2zM129 192h2v1h-2zM132 192h6v1h-6zM154 192h2v1h-2zM160 192h2v1h-2zM169 192h2v1h-2zM178 192h2v1h-2zM208 192h2v1h-2zM61 193h2v1h-2zM69 193h2v1h-2zM82 193h2v1h-2zM107 193h2v1h-2zM122 193h2v1h-2zM129 193h2v1h-2zM135 193h3v1h-3zM160 193h2v1h-2zM39 194h2v1h-2zM61 194h2v1h-2zM78 194h2v1h-2zM102 194h2v1h-2zM107 194h2v1h-2zM122 194h2v1h-2zM129 194h2v1h-2zM39 195h2v1h-2zM78 195h2v1h-2zM89 195h2v1h-2zM102 195h2v1h-2zM138 195h2v1h-2zM146 195h2v1h-2zM89 196h2v1h-2zM138 196h2v1h-2zM146 196h2v1h-2zM105 197h2v1h-2zM128 197h2v1h-2zM153 197h2v1h-2zM198 197h2v1h-2zM105 198h2v1h-2zM128 198h2v1h-2zM153 198h2v1h-2zM198 198h2v1h-2zM75 199h2v1h-2zM65 200h2v1h-2zM75 200h2v1h-2zM125 200h2v1h-2zM157 200h2v1h-2zM65 201h3v1h-3zM101 201h2v1h-2zM116 201h2v1h-2zM119 201h2v1h-2zM125 201h2v1h-2zM128 201h2v1h-2zM157 201h2v1h-2zM162 201h2v1h-2zM66 202h2v1h-2zM73 202h2v1h-2zM101 202h2v1h-2zM116 202h2v1h-2zM119 202h2v1h-2zM128 202h2v1h-2zM162 202h2v1h-2zM73 203h2v1h-2zM162 203h2v1h-2zM130 204h2v1h-2zM162 204h2v1h-2zM108 205h2v1h-2zM130 205h2v1h-2zM66 206h2v1h-2zM108 206h2v1h-2zM66 207h2v1h-2zM170 210h2v1h-2zM170 211h2v1h-2z"/>
<path transform="translate(166 540) scale(0.5)" fill="#e8191f" d="M211 12h2v1h-2zM211 13h2v1h-2zM212 30h2v1h-2zM212 31h2v1h-2zM212 35h2v1h-2zM212 36h2v1h-2zM211 37h3v1h-3zM211 38h3v1h-3zM212 39h2v1h-2zM210 42h2v1h-2zM210 43h2v1h-2zM209 44h2v1h-2zM209 45h2v1h-2zM210 46h3v1h-3zM209 47h4v1h-4zM209 48h4v1h-4zM210 49h3v1h-3zM210 50h3v1h-3zM209 51h3v1h-3zM209 52h2v1h-2zM208 53h3v1h-3zM208 54h4v1h-4zM209 55h3v1h-3zM209 56h2v1h-2zM206 58h4v1h-4zM206 59h4v1h-4zM211 60h2v1h-2zM211 61h2v1h-2zM208 62h4v1h-4zM206 63h7v1h-7zM206 64h7v1h-7zM208 65h5v1h-5zM208 66h2v1h-2zM211 66h2v1h-2zM208 67h5v1h-5zM208 68h4v1h-4zM208 69h2v1h-2zM206 70h4v1h-4zM206 71h3v1h-3zM210 71h2v1h-2zM206 72h6v1h-6zM206 73h4v1h-4zM205 74h5v1h-5zM204 75h3v1h-3zM208 75h2v1h-2zM204 76h3v1h-3zM204 77h8v1h-8zM206 78h6v1h-6zM206 79h2v1h-2zM209 79h2v1h-2zM206 80h2v1h-2zM209 80h4v1h-4zM205 81h8v1h-8zM203 82h9v1h-9zM203 83h5v1h-5zM210 83h2v1h-2zM204 84h2v1h-2zM203 85h2v1h-2zM203 86h4v1h-4zM208 86h2v1h-2zM204 87h7v1h-7zM212 87h2v1h-2zM204 88h7v1h-7zM212 88h2v1h-2zM200 89h4v1h-4zM207 89h6v1h-6zM200 90h13v1h-13zM202 91h11v1h-11zM201 92h4v1h-4zM206 92h7v1h-7zM201 93h9v1h-9zM201 94h7v1h-7zM209 94h5v1h-5zM201 95h7v1h-7zM209 95h5v1h-5zM201 96h13v1h-13zM201 97h13v1h-13zM202 98h2v1h-2zM205 98h9v1h-9zM200 99h2v1h-2zM203 99h11v1h-11zM200 100h2v1h-2zM203 100h2v1h-2zM207 100h7v1h-7zM201 101h13v1h-13zM201 102h3v1h-3zM205 102h9v1h-9zM202 103h11v1h-11zM200 104h14v1h-14zM199 105h15v1h-15zM199 106h15v1h-15zM201 107h13v1h-13zM199 108h15v1h-15zM199 109h15v1h-15zM199 110h15v1h-15zM200 111h14v1h-14zM198 112h16v1h-16zM198 113h16v1h-16zM196 114h18v1h-18zM194 115h20v1h-20zM194 116h20v1h-20zM195 117h18v1h-18zM193 118h20v1h-20zM193 119h3v1h-3zM197 119h17v1h-17zM193 120h2v1h-2zM196 120h18v1h-18zM193 121h21v1h-21zM192 122h21v1h-21zM192 123h21v1h-21zM192 124h21v1h-21zM191 125h22v1h-22zM191 126h22v1h-22zM192 127h21v1h-21zM189 128h25v1h-25zM189 129h25v1h-25zM190 130h22v1h-22zM189 131h24v1h-24zM189 132h24v1h-24zM190 133h2v1h-2zM193 133h20v1h-20zM190 134h2v1h-2zM193 134h20v1h-20zM190 135h23v1h-23zM190 136h23v1h-23zM192 137h4v1h-4zM198 137h11v1h-11zM210 137h4v1h-4zM190 138h2v1h-2zM201 138h13v1h-13zM190 139h2v1h-2zM197 139h2v1h-2zM201 139h4v1h-4zM206 139h6v1h-6zM196 140h3v1h-3zM206 140h6v1h-6zM196 141h2v1h-2zM201 141h2v1h-2zM206 141h2v1h-2zM209 141h3v1h-3zM201 142h2v1h-2zM204 142h2v1h-2zM208 142h6v1h-6zM204 143h2v1h-2zM208 143h6v1h-6zM207 144h2v1h-2zM207 145h2v1h-2zM211 145h2v1h-2zM198 146h2v1h-2zM211 146h2v1h-2zM198 147h2v1h-2zM211 155h2v1h-2zM211 156h2v1h-2zM209 162h2v1h-2zM209 163h2v1h-2z"/>
<path transform="translate(448 150) scale(0.5)" fill="#0a0a0a" d="M170 118h2v1h-2zM170 119h2v1h-2zM153 120h2v1h-2zM153 121h2v1h-2zM123 122h2v1h-2zM130 122h2v1h-2zM123 123h2v1h-2zM130 123h2v1h-2zM143 123h2v1h-2zM150 123h2v1h-2zM141 124h4v1h-4zM150 124h2v1h-2zM160 124h2v1h-2zM141 125h2v1h-2zM160 125h2v1h-2zM96 126h2v1h-2zM96 127h2v1h-2zM130 127h3v1h-3zM158 127h2v1h-2zM171 127h2v1h-2zM130 128h3v1h-3zM158 128h2v1h-2zM167 128h3v1h-3zM171 128h2v1h-2zM139 129h2v1h-2zM144 129h2v1h-2zM158 129h4v1h-4zM167 129h3v1h-3zM120 130h2v1h-2zM139 130h2v1h-2zM144 130h2v1h-2zM158 130h4v1h-4zM120 131h2v1h-2zM146 131h2v1h-2zM161 131h2v1h-2zM135 132h2v1h-2zM142 132h2v1h-2zM146 132h2v1h-2zM161 132h2v1h-2zM172 132h2v1h-2zM111 133h2v1h-2zM135 133h2v1h-2zM142 133h2v1h-2zM172 133h2v1h-2zM98 134h2v1h-2zM102 134h2v1h-2zM111 134h2v1h-2zM125 134h2v1h-2zM136 134h2v1h-2zM98 135h2v1h-2zM102 135h2v1h-2zM125 135h2v1h-2zM136 135h2v1h-2zM158 135h2v1h-2zM172 135h2v1h-2zM138 136h2v1h-2zM158 136h3v1h-3zM172 136h2v1h-2zM121 137h2v1h-2zM137 137h5v1h-5zM145 137h2v1h-2zM159 137h2v1h-2zM175 137h2v1h-2zM121 138h2v1h-2zM126 138h2v1h-2zM131 138h5v1h-5zM137 138h2v1h-2zM140 138h2v1h-2zM145 138h2v1h-2zM153 138h2v1h-2zM166 138h4v1h-4zM172 138h2v1h-2zM175 138h2v1h-2zM126 139h12v1h-12zM142 139h2v1h-2zM145 139h2v1h-2zM153 139h4v1h-4zM160 139h2v1h-2zM166 139h4v1h-4zM172 139h2v1h-2zM181 139h2v1h-2zM121 140h3v1h-3zM127 140h5v1h-5zM136 140h2v1h-2zM140 140h4v1h-4zM145 140h2v1h-2zM155 140h7v1h-7zM166 140h2v1h-2zM171 140h2v1h-2zM181 140h2v1h-2zM111 141h2v1h-2zM121 141h3v1h-3zM136 141h2v1h-2zM140 141h2v1h-2zM148 141h3v1h-3zM157 141h7v1h-7zM165 141h3v1h-3zM171 141h2v1h-2zM174 141h5v1h-5zM53 142h2v1h-2zM106 142h2v1h-2zM111 142h2v1h-2zM127 142h2v1h-2zM136 142h2v1h-2zM142 142h2v1h-2zM146 142h6v1h-6zM153 142h2v1h-2zM157 142h2v1h-2zM160 142h7v1h-7zM168 142h2v1h-2zM171 142h2v1h-2zM174 142h7v1h-7zM53 143h2v1h-2zM74 143h2v1h-2zM106 143h2v1h-2zM112 143h2v1h-2zM126 143h3v1h-3zM140 143h4v1h-4zM146 143h2v1h-2zM149 143h6v1h-6zM157 143h14v1h-14zM176 143h5v1h-5zM74 144h2v1h-2zM77 144h2v1h-2zM86 144h2v1h-2zM112 144h2v1h-2zM119 144h9v1h-9zM135 144h4v1h-4zM140 144h5v1h-5zM148 144h15v1h-15zM165 144h8v1h-8zM176 144h5v1h-5zM77 145h2v1h-2zM86 145h2v1h-2zM101 145h3v1h-3zM107 145h7v1h-7zM118 145h22v1h-22zM141 145h6v1h-6zM148 145h15v1h-15zM167 145h10v1h-10zM178 145h5v1h-5zM61 146h3v1h-3zM76 146h2v1h-2zM101 146h3v1h-3zM107 146h7v1h-7zM115 146h2v1h-2zM118 146h6v1h-6zM126 146h11v1h-11zM138 146h2v1h-2zM141 146h2v1h-2zM144 146h9v1h-9zM154 146h2v1h-2zM157 146h5v1h-5zM165 146h19v1h-19zM61 147h3v1h-3zM76 147h2v1h-2zM80 147h2v1h-2zM99 147h6v1h-6zM108 147h2v1h-2zM112 147h2v1h-2zM115 147h2v1h-2zM120 147h5v1h-5zM131 147h11v1h-11zM144 147h5v1h-5zM150 147h34v1h-34zM76 148h2v1h-2zM80 148h2v1h-2zM98 148h3v1h-3zM103 148h3v1h-3zM107 148h5v1h-5zM116 148h9v1h-9zM129 148h13v1h-13zM146 148h39v1h-39zM91 149h4v1h-4zM98 149h2v1h-2zM103 149h3v1h-3zM107 149h5v1h-5zM114 149h14v1h-14zM129 149h56v1h-56zM84 150h3v1h-3zM88 150h2v1h-2zM91 150h17v1h-17zM109 150h2v1h-2zM114 150h2v1h-2zM117 150h67v1h-67zM60 151h2v1h-2zM73 151h2v1h-2zM82 151h5v1h-5zM88 151h3v1h-3zM95 151h18v1h-18zM114 151h71v1h-71zM60 152h2v1h-2zM67 152h3v1h-3zM71 152h4v1h-4zM82 152h2v1h-2zM89 152h2v1h-2zM92 152h2v1h-2zM96 152h2v1h-2zM102 152h83v1h-83zM48 153h2v1h-2zM65 153h5v1h-5zM71 153h5v1h-5zM77 153h4v1h-4zM87 153h4v1h-4zM92 153h6v1h-6zM99 153h5v1h-5zM106 153h79v1h-79zM48 154h2v1h-2zM59 154h2v1h-2zM63 154h4v1h-4zM68 154h2v1h-2zM72 154h9v1h-9zM85 154h4v1h-4zM91 154h5v1h-5zM99 154h86v1h-86zM53 155h2v1h-2zM59 155h2v1h-2zM63 155h2v1h-2zM68 155h2v1h-2zM75 155h3v1h-3zM85 155h4v1h-4zM91 155h10v1h-10zM102 155h83v1h-83zM52 156h3v1h-3zM56 156h2v1h-2zM59 156h4v1h-4zM70 156h2v1h-2zM79 156h5v1h-5zM85 156h4v1h-4zM90 156h13v1h-13zM105 156h80v1h-80zM36 157h2v1h-2zM52 157h2v1h-2zM56 157h4v1h-4zM61 157h5v1h-5zM68 157h5v1h-5zM74 157h2v1h-2zM78 157h6v1h-6zM85 157h100v1h-100zM36 158h2v1h-2zM49 158h2v1h-2zM57 158h9v1h-9zM67 158h118v1h-118zM49 159h2v1h-2zM52 159h2v1h-2zM57 159h9v1h-9zM67 159h3v1h-3zM72 159h113v1h-113zM42 160h2v1h-2zM46 160h2v1h-2zM49 160h2v1h-2zM52 160h2v1h-2zM57 160h9v1h-9zM67 160h118v1h-118zM38 161h2v1h-2zM42 161h2v1h-2zM46 161h5v1h-5zM52 161h2v1h-2zM59 161h7v1h-7zM67 161h118v1h-118zM38 162h2v1h-2zM46 162h9v1h-9zM58 162h125v1h-125zM37 163h4v1h-4zM45 163h3v1h-3zM49 163h6v1h-6zM56 163h127v1h-127zM37 164h6v1h-6zM45 164h3v1h-3zM50 164h2v1h-2zM53 164h2v1h-2zM56 164h127v1h-127zM35 165h2v1h-2zM39 165h4v1h-4zM45 165h137v1h-137zM28 166h2v1h-2zM35 166h3v1h-3zM39 166h144v1h-144zM28 167h2v1h-2zM34 167h4v1h-4zM41 167h142v1h-142zM28 168h4v1h-4zM34 168h148v1h-148zM27 169h2v1h-2zM30 169h152v1h-152zM27 170h157v1h-157zM28 171h156v1h-156zM28 172h152v1h-152zM25 173h154v1h-154zM25 174h152v1h-152zM24 175h144v1h-144zM170 175h5v1h-5zM22 176h146v1h-146zM169 176h2v1h-2zM172 176h4v1h-4zM19 177h143v1h-143zM164 177h4v1h-4zM169 177h7v1h-7zM19 178h145v1h-145zM166 178h3v1h-3zM170 178h4v1h-4zM18 179h141v1h-141zM161 179h8v1h-8zM170 179h2v1h-2zM15 180h140v1h-140zM156 180h4v1h-4zM162 180h7v1h-7zM170 180h2v1h-2zM177 180h2v1h-2zM15 181h135v1h-135zM151 181h3v1h-3zM156 181h9v1h-9zM177 181h2v1h-2zM15 182h130v1h-130zM147 182h2v1h-2zM151 182h3v1h-3zM157 182h8v1h-8zM15 183h130v1h-130zM147 183h2v1h-2zM151 183h2v1h-2zM159 183h6v1h-6zM18 184h131v1h-131zM152 184h4v1h-4zM157 184h8v1h-8zM169 184h3v1h-3zM19 185h128v1h-128zM148 185h8v1h-8zM157 185h2v1h-2zM160 185h2v1h-2zM169 185h3v1h-3zM20 186h113v1h-113zM134 186h7v1h-7zM143 186h9v1h-9zM159 186h2v1h-2zM169 186h2v1h-2zM173 186h2v1h-2zM20 187h72v1h-72zM94 187h30v1h-30zM125 187h14v1h-14zM142 187h7v1h-7zM159 187h2v1h-2zM173 187h2v1h-2zM24 188h40v1h-40zM65 188h33v1h-33zM99 188h6v1h-6zM107 188h17v1h-17zM126 188h10v1h-10zM142 188h2v1h-2zM145 188h2v1h-2zM162 188h4v1h-4zM168 188h2v1h-2zM26 189h56v1h-56zM83 189h6v1h-6zM90 189h5v1h-5zM96 189h20v1h-20zM117 189h11v1h-11zM130 189h5v1h-5zM141 189h2v1h-2zM152 189h3v1h-3zM157 189h2v1h-2zM162 189h4v1h-4zM168 189h2v1h-2zM26 190h7v1h-7zM34 190h17v1h-17zM52 190h18v1h-18zM72 190h23v1h-23zM96 190h26v1h-26zM123 190h4v1h-4zM129 190h2v1h-2zM133 190h2v1h-2zM141 190h3v1h-3zM145 190h2v1h-2zM152 190h3v1h-3zM157 190h2v1h-2zM160 190h2v1h-2zM25 191h29v1h-29zM55 191h10v1h-10zM67 191h3v1h-3zM72 191h12v1h-12zM85 191h9v1h-9zM97 191h24v1h-24zM123 191h4v1h-4zM129 191h2v1h-2zM132 191h3v1h-3zM141 191h3v1h-3zM145 191h2v1h-2zM160 191h2v1h-2zM25 192h2v1h-2zM28 192h3v1h-3zM33 192h2v1h-2zM36 192h5v1h-5zM42 192h4v1h-4zM48 192h6v1h-6zM55 192h7v1h-7zM63 192h2v1h-2zM66 192h3v1h-3zM70 192h10v1h-10zM81 192h3v1h-3zM87 192h2v1h-2zM92 192h2v1h-2zM97 192h15v1h-15zM115 192h2v1h-2zM118 192h3v1h-3zM122 192h2v1h-2zM125 192h2v1h-2zM132 192h3v1h-3zM152 192h2v1h-2zM28 193h2v1h-2zM33 193h6v1h-6zM51 193h3v1h-3zM55 193h7v1h-7zM63 193h2v1h-2zM66 193h2v1h-2zM70 193h2v1h-2zM73 193h9v1h-9zM87 193h3v1h-3zM92 193h13v1h-13zM108 193h2v1h-2zM112 193h9v1h-9zM122 193h2v1h-2zM138 193h2v1h-2zM144 193h2v1h-2zM152 193h3v1h-3zM33 194h3v1h-3zM37 194h2v1h-2zM42 194h2v1h-2zM48 194h2v1h-2zM51 194h3v1h-3zM56 194h2v1h-2zM60 194h2v1h-2zM72 194h2v1h-2zM75 194h2v1h-2zM79 194h3v1h-3zM85 194h5v1h-5zM92 194h5v1h-5zM99 194h4v1h-4zM106 194h4v1h-4zM112 194h6v1h-6zM119 194h2v1h-2zM125 194h4v1h-4zM138 194h2v1h-2zM144 194h2v1h-2zM153 194h2v1h-2zM39 195h2v1h-2zM42 195h2v1h-2zM48 195h2v1h-2zM61 195h3v1h-3zM65 195h4v1h-4zM72 195h2v1h-2zM76 195h2v1h-2zM79 195h5v1h-5zM85 195h4v1h-4zM94 195h2v1h-2zM99 195h3v1h-3zM106 195h4v1h-4zM118 195h3v1h-3zM125 195h4v1h-4zM147 195h2v1h-2zM29 196h2v1h-2zM39 196h2v1h-2zM51 196h2v1h-2zM61 196h3v1h-3zM65 196h4v1h-4zM72 196h2v1h-2zM76 196h2v1h-2zM81 196h3v1h-3zM94 196h2v1h-2zM102 196h4v1h-4zM118 196h2v1h-2zM143 196h2v1h-2zM147 196h2v1h-2zM29 197h2v1h-2zM46 197h2v1h-2zM51 197h2v1h-2zM61 197h2v1h-2zM66 197h2v1h-2zM72 197h2v1h-2zM76 197h2v1h-2zM82 197h2v1h-2zM101 197h7v1h-7zM111 197h2v1h-2zM118 197h2v1h-2zM143 197h2v1h-2zM46 198h2v1h-2zM58 198h2v1h-2zM66 198h2v1h-2zM76 198h2v1h-2zM81 198h3v1h-3zM86 198h3v1h-3zM101 198h2v1h-2zM106 198h2v1h-2zM111 198h3v1h-3zM118 198h2v1h-2zM128 198h2v1h-2zM139 198h2v1h-2zM150 198h2v1h-2zM156 198h2v1h-2zM58 199h2v1h-2zM76 199h2v1h-2zM81 199h2v1h-2zM86 199h3v1h-3zM93 199h2v1h-2zM101 199h2v1h-2zM108 199h2v1h-2zM111 199h3v1h-3zM128 199h2v1h-2zM139 199h2v1h-2zM150 199h2v1h-2zM156 199h2v1h-2zM36 200h2v1h-2zM45 200h2v1h-2zM76 200h2v1h-2zM93 200h4v1h-4zM101 200h2v1h-2zM105 200h2v1h-2zM108 200h2v1h-2zM116 200h2v1h-2zM126 200h2v1h-2zM36 201h2v1h-2zM45 201h2v1h-2zM95 201h2v1h-2zM105 201h2v1h-2zM116 201h2v1h-2zM120 201h4v1h-4zM126 201h2v1h-2zM47 202h2v1h-2zM95 202h2v1h-2zM120 202h4v1h-4zM143 202h2v1h-2zM47 203h2v1h-2zM119 203h2v1h-2zM143 203h2v1h-2zM147 203h2v1h-2zM52 204h2v1h-2zM78 204h2v1h-2zM86 204h2v1h-2zM119 204h2v1h-2zM129 204h2v1h-2zM147 204h2v1h-2zM52 205h2v1h-2zM78 205h2v1h-2zM86 205h2v1h-2zM129 205h2v1h-2zM101 206h2v1h-2zM101 207h2v1h-2zM124 208h2v1h-2zM124 209h2v1h-2zM87 210h4v1h-4zM87 211h4v1h-4zM120 211h2v1h-2z"/>
<path transform="translate(448 150) scale(0.5)" fill="#e8191f" d="M195 15h2v1h-2zM195 16h2v1h-2zM193 24h2v1h-2zM193 25h2v1h-2zM190 31h2v1h-2zM190 32h2v1h-2zM173 36h2v1h-2zM186 36h2v1h-2zM173 37h2v1h-2zM186 37h2v1h-2zM189 38h2v1h-2zM189 39h2v1h-2zM148 43h2v1h-2zM194 43h2v1h-2zM148 44h2v1h-2zM194 44h2v1h-2zM170 46h2v1h-2zM170 47h2v1h-2zM186 47h2v1h-2zM171 48h2v1h-2zM186 48h2v1h-2zM192 48h2v1h-2zM171 49h4v1h-4zM192 49h2v1h-2zM164 50h2v1h-2zM173 50h2v1h-2zM188 50h2v1h-2zM194 50h2v1h-2zM197 50h2v1h-2zM164 51h2v1h-2zM188 51h2v1h-2zM194 51h2v1h-2zM197 51h2v1h-2zM196 52h2v1h-2zM200 52h2v1h-2zM196 53h2v1h-2zM200 53h2v1h-2zM193 54h2v1h-2zM193 55h2v1h-2zM197 56h2v1h-2zM197 57h4v1h-4zM203 57h2v1h-2zM194 58h2v1h-2zM197 58h5v1h-5zM203 58h2v1h-2zM166 59h2v1h-2zM183 59h2v1h-2zM192 59h6v1h-6zM199 59h6v1h-6zM166 60h2v1h-2zM183 60h2v1h-2zM188 60h2v1h-2zM192 60h13v1h-13zM162 61h2v1h-2zM186 61h18v1h-18zM162 62h2v1h-2zM166 62h2v1h-2zM184 62h10v1h-10zM196 62h8v1h-8zM166 63h4v1h-4zM179 63h2v1h-2zM184 63h4v1h-4zM189 63h5v1h-5zM196 63h7v1h-7zM168 64h2v1h-2zM179 64h2v1h-2zM186 64h2v1h-2zM189 64h5v1h-5zM195 64h5v1h-5zM205 64h2v1h-2zM176 65h2v1h-2zM182 65h3v1h-3zM190 65h3v1h-3zM194 65h6v1h-6zM202 65h5v1h-5zM159 66h2v1h-2zM176 66h9v1h-9zM188 66h4v1h-4zM194 66h3v1h-3zM198 66h8v1h-8zM159 67h2v1h-2zM169 67h2v1h-2zM177 67h5v1h-5zM183 67h2v1h-2zM186 67h16v1h-16zM204 67h3v1h-3zM165 68h2v1h-2zM169 68h2v1h-2zM175 68h6v1h-6zM183 68h2v1h-2zM186 68h3v1h-3zM190 68h9v1h-9zM200 68h3v1h-3zM204 68h3v1h-3zM165 69h2v1h-2zM175 69h3v1h-3zM179 69h6v1h-6zM186 69h3v1h-3zM190 69h8v1h-8zM199 69h4v1h-4zM204 69h2v1h-2zM170 70h2v1h-2zM181 70h2v1h-2zM184 70h12v1h-12zM199 70h5v1h-5zM170 71h7v1h-7zM184 71h6v1h-6zM191 71h3v1h-3zM199 71h5v1h-5zM163 72h2v1h-2zM172 72h5v1h-5zM179 72h3v1h-3zM183 72h2v1h-2zM186 72h8v1h-8zM196 72h9v1h-9zM159 73h2v1h-2zM163 73h2v1h-2zM170 73h4v1h-4zM179 73h3v1h-3zM183 73h3v1h-3zM187 73h18v1h-18zM159 74h2v1h-2zM165 74h4v1h-4zM170 74h4v1h-4zM176 74h2v1h-2zM179 74h2v1h-2zM184 74h21v1h-21zM165 75h4v1h-4zM172 75h2v1h-2zM176 75h2v1h-2zM179 75h26v1h-26zM165 76h2v1h-2zM169 76h2v1h-2zM172 76h2v1h-2zM179 76h13v1h-13zM194 76h9v1h-9zM163 77h2v1h-2zM169 77h2v1h-2zM177 77h5v1h-5zM183 77h22v1h-22zM156 78h2v1h-2zM163 78h2v1h-2zM166 78h2v1h-2zM170 78h2v1h-2zM175 78h13v1h-13zM189 78h16v1h-16zM156 79h2v1h-2zM164 79h4v1h-4zM170 79h2v1h-2zM175 79h2v1h-2zM178 79h26v1h-26zM152 80h2v1h-2zM161 80h2v1h-2zM164 80h2v1h-2zM167 80h3v1h-3zM171 80h6v1h-6zM178 80h16v1h-16zM195 80h11v1h-11zM152 81h2v1h-2zM161 81h4v1h-4zM167 81h15v1h-15zM183 81h2v1h-2zM186 81h8v1h-8zM196 81h10v1h-10zM157 82h2v1h-2zM163 82h2v1h-2zM166 82h2v1h-2zM169 82h36v1h-36zM153 83h2v1h-2zM157 83h2v1h-2zM164 83h8v1h-8zM174 83h31v1h-31zM152 84h3v1h-3zM164 84h9v1h-9zM174 84h31v1h-31zM152 85h2v1h-2zM156 85h2v1h-2zM160 85h2v1h-2zM164 85h4v1h-4zM169 85h34v1h-34zM153 86h2v1h-2zM156 86h2v1h-2zM160 86h2v1h-2zM166 86h9v1h-9zM176 86h27v1h-27zM153 87h6v1h-6zM163 87h40v1h-40zM150 88h2v1h-2zM154 88h5v1h-5zM162 88h41v1h-41zM150 89h2v1h-2zM157 89h3v1h-3zM161 89h6v1h-6zM168 89h35v1h-35zM149 90h2v1h-2zM155 90h5v1h-5zM161 90h2v1h-2zM164 90h8v1h-8zM174 90h28v1h-28zM140 91h2v1h-2zM149 91h4v1h-4zM155 91h43v1h-43zM199 91h4v1h-4zM140 92h4v1h-4zM151 92h2v1h-2zM155 92h44v1h-44zM200 92h3v1h-3zM142 93h2v1h-2zM152 93h9v1h-9zM163 93h40v1h-40zM152 94h9v1h-9zM163 94h40v1h-40zM152 95h2v1h-2zM155 95h46v1h-46zM146 96h2v1h-2zM149 96h2v1h-2zM152 96h2v1h-2zM155 96h43v1h-43zM201 96h2v1h-2zM137 97h2v1h-2zM143 97h2v1h-2zM146 97h2v1h-2zM149 97h54v1h-54zM137 98h2v1h-2zM143 98h2v1h-2zM151 98h50v1h-50zM143 99h3v1h-3zM150 99h7v1h-7zM158 99h41v1h-41zM143 100h4v1h-4zM150 100h6v1h-6zM158 100h40v1h-40zM200 100h3v1h-3zM145 101h2v1h-2zM148 101h4v1h-4zM154 101h49v1h-49zM147 102h7v1h-7zM156 102h6v1h-6zM163 102h37v1h-37zM145 103h17v1h-17zM163 103h5v1h-5zM169 103h33v1h-33zM131 104h2v1h-2zM145 104h3v1h-3zM149 104h48v1h-48zM198 104h4v1h-4zM131 105h2v1h-2zM140 105h10v1h-10zM153 105h43v1h-43zM197 105h3v1h-3zM139 106h60v1h-60zM139 107h5v1h-5zM145 107h53v1h-53zM137 108h11v1h-11zM149 108h2v1h-2zM152 108h44v1h-44zM125 109h2v1h-2zM134 109h2v1h-2zM137 109h9v1h-9zM149 109h45v1h-45zM196 109h2v1h-2zM125 110h2v1h-2zM133 110h4v1h-4zM138 110h2v1h-2zM142 110h4v1h-4zM147 110h5v1h-5zM153 110h45v1h-45zM133 111h4v1h-4zM138 111h60v1h-60zM138 112h5v1h-5zM144 112h52v1h-52zM139 113h53v1h-53zM194 113h2v1h-2zM135 114h2v1h-2zM140 114h5v1h-5zM147 114h49v1h-49zM135 115h2v1h-2zM139 115h3v1h-3zM143 115h53v1h-53zM139 116h3v1h-3zM143 116h50v1h-50zM194 116h2v1h-2zM122 117h2v1h-2zM129 117h4v1h-4zM135 117h2v1h-2zM138 117h3v1h-3zM142 117h52v1h-52zM122 118h2v1h-2zM126 118h2v1h-2zM129 118h4v1h-4zM134 118h57v1h-57zM192 118h3v1h-3zM126 119h2v1h-2zM129 119h3v1h-3zM134 119h10v1h-10zM145 119h46v1h-46zM193 119h2v1h-2zM127 120h4v1h-4zM133 120h3v1h-3zM138 120h2v1h-2zM141 120h11v1h-11zM153 120h25v1h-25zM179 120h12v1h-12zM193 120h2v1h-2zM127 121h4v1h-4zM133 121h2v1h-2zM138 121h8v1h-8zM149 121h21v1h-21zM171 121h21v1h-21zM193 121h2v1h-2zM197 121h3v1h-3zM123 122h2v1h-2zM128 122h3v1h-3zM137 122h10v1h-10zM148 122h40v1h-40zM190 122h2v1h-2zM194 122h2v1h-2zM197 122h3v1h-3zM122 123h3v1h-3zM126 123h4v1h-4zM131 123h2v1h-2zM134 123h2v1h-2zM137 123h4v1h-4zM142 123h49v1h-49zM194 123h2v1h-2zM115 124h2v1h-2zM120 124h4v1h-4zM125 124h3v1h-3zM131 124h10v1h-10zM142 124h49v1h-49zM194 124h2v1h-2zM115 125h2v1h-2zM120 125h3v1h-3zM125 125h2v1h-2zM128 125h4v1h-4zM133 125h56v1h-56zM118 126h2v1h-2zM121 126h4v1h-4zM128 126h4v1h-4zM133 126h46v1h-46zM180 126h6v1h-6zM187 126h3v1h-3zM118 127h9v1h-9zM132 127h2v1h-2zM135 127h46v1h-46zM182 127h8v1h-8zM116 128h2v1h-2zM119 128h8v1h-8zM131 128h24v1h-24zM156 128h25v1h-25zM182 128h8v1h-8zM192 128h2v1h-2zM116 129h2v1h-2zM124 129h3v1h-3zM131 129h2v1h-2zM134 129h2v1h-2zM139 129h47v1h-47zM187 129h2v1h-2zM190 129h4v1h-4zM123 130h4v1h-4zM129 130h6v1h-6zM141 130h45v1h-45zM187 130h5v1h-5zM119 131h2v1h-2zM123 131h5v1h-5zM129 131h6v1h-6zM136 131h2v1h-2zM140 131h38v1h-38zM180 131h5v1h-5zM187 131h5v1h-5zM119 132h2v1h-2zM123 132h8v1h-8zM136 132h2v1h-2zM140 132h11v1h-11zM153 132h4v1h-4zM158 132h27v1h-27zM189 132h3v1h-3zM194 132h2v1h-2zM123 133h2v1h-2zM128 133h2v1h-2zM131 133h2v1h-2zM140 133h11v1h-11zM152 133h18v1h-18zM171 133h11v1h-11zM185 133h2v1h-2zM189 133h2v1h-2zM194 133h2v1h-2zM121 134h2v1h-2zM124 134h2v1h-2zM127 134h2v1h-2zM130 134h3v1h-3zM135 134h2v1h-2zM140 134h2v1h-2zM143 134h2v1h-2zM147 134h2v1h-2zM150 134h18v1h-18zM170 134h14v1h-14zM185 134h2v1h-2zM115 135h4v1h-4zM120 135h3v1h-3zM124 135h5v1h-5zM130 135h3v1h-3zM134 135h3v1h-3zM142 135h15v1h-15zM159 135h8v1h-8zM168 135h10v1h-10zM180 135h4v1h-4zM187 135h2v1h-2zM115 136h4v1h-4zM120 136h9v1h-9zM130 136h3v1h-3zM134 136h2v1h-2zM142 136h12v1h-12zM159 136h8v1h-8zM168 136h5v1h-5zM174 136h2v1h-2zM179 136h5v1h-5zM187 136h2v1h-2zM120 137h4v1h-4zM125 137h4v1h-4zM134 137h3v1h-3zM142 137h8v1h-8zM153 137h3v1h-3zM157 137h2v1h-2zM160 137h13v1h-13zM178 137h7v1h-7zM121 138h2v1h-2zM135 138h3v1h-3zM142 138h3v1h-3zM146 138h4v1h-4zM152 138h8v1h-8zM163 138h7v1h-7zM171 138h3v1h-3zM177 138h9v1h-9zM193 138h2v1h-2zM134 139h4v1h-4zM142 139h2v1h-2zM146 139h4v1h-4zM152 139h3v1h-3zM156 139h13v1h-13zM171 139h5v1h-5zM177 139h6v1h-6zM184 139h2v1h-2zM193 139h2v1h-2zM122 140h2v1h-2zM134 140h4v1h-4zM140 140h4v1h-4zM146 140h3v1h-3zM153 140h2v1h-2zM160 140h7v1h-7zM171 140h5v1h-5zM178 140h2v1h-2zM181 140h2v1h-2zM122 141h2v1h-2zM136 141h2v1h-2zM140 141h9v1h-9zM150 141h4v1h-4zM155 141h2v1h-2zM163 141h5v1h-5zM171 141h5v1h-5zM181 141h2v1h-2zM126 142h2v1h-2zM136 142h2v1h-2zM144 142h4v1h-4zM150 142h12v1h-12zM163 142h6v1h-6zM171 142h2v1h-2zM174 142h2v1h-2zM177 142h2v1h-2zM189 142h2v1h-2zM126 143h2v1h-2zM146 143h2v1h-2zM151 143h11v1h-11zM165 143h4v1h-4zM171 143h2v1h-2zM175 143h4v1h-4zM189 143h2v1h-2zM132 144h2v1h-2zM146 144h2v1h-2zM151 144h6v1h-6zM165 144h2v1h-2zM173 144h5v1h-5zM132 145h2v1h-2zM135 145h2v1h-2zM152 145h2v1h-2zM165 145h2v1h-2zM173 145h2v1h-2zM180 145h2v1h-2zM135 146h2v1h-2zM149 146h4v1h-4zM161 146h2v1h-2zM165 146h2v1h-2zM169 146h4v1h-4zM180 146h2v1h-2zM187 146h2v1h-2zM136 147h2v1h-2zM140 147h2v1h-2zM147 147h8v1h-8zM161 147h2v1h-2zM165 147h2v1h-2zM168 147h5v1h-5zM187 147h2v1h-2zM136 148h2v1h-2zM139 148h3v1h-3zM147 148h4v1h-4zM153 148h2v1h-2zM156 148h2v1h-2zM165 148h2v1h-2zM168 148h3v1h-3zM174 148h2v1h-2zM177 148h2v1h-2zM139 149h2v1h-2zM149 149h2v1h-2zM156 149h2v1h-2zM165 149h2v1h-2zM169 149h2v1h-2zM173 149h6v1h-6zM162 150h2v1h-2zM173 150h2v1h-2zM176 150h2v1h-2zM150 151h2v1h-2zM154 151h2v1h-2zM157 151h2v1h-2zM162 151h4v1h-4zM174 151h2v1h-2zM150 152h2v1h-2zM154 152h2v1h-2zM157 152h2v1h-2zM164 152h4v1h-4zM174 152h2v1h-2zM166 153h2v1h-2zM178 153h2v1h-2zM160 154h2v1h-2zM178 154h2v1h-2zM149 155h2v1h-2zM160 155h2v1h-2zM171 155h2v1h-2zM136 156h2v1h-2zM144 156h2v1h-2zM149 156h2v1h-2zM171 156h2v1h-2zM180 156h2v1h-2zM136 157h2v1h-2zM144 157h2v1h-2zM158 157h2v1h-2zM162 157h2v1h-2zM180 157h2v1h-2zM158 158h2v1h-2zM162 158h2v1h-2zM158 159h2v1h-2zM175 160h2v1h-2zM175 161h2v1h-2zM150 164h2v1h-2zM172 164h2v1h-2zM150 165h4v1h-4zM172 165h2v1h-2zM152 166h2v1h-2zM158 167h2v1h-2zM158 168h2v1h-2zM151 169h2v1h-2zM151 170h2v1h-2zM165 172h2v1h-2zM165 173h2v1h-2zM169 178h2v1h-2zM169 179h2v1h-2zM151 180h2v1h-2zM151 181h2v1h-2z"/>
<path transform="translate(448 150) scale(0.5)" fill="#0a0a0a" d="M189 106h6v1h-6zM184 107h2v1h-2zM189 107h6v1h-6zM184 108h2v1h-2zM184 109h2v1h-2zM195 109h4v1h-4zM195 110h4v1h-4zM183 111h2v1h-2zM188 111h2v1h-2zM183 112h2v1h-2zM188 112h3v1h-3zM189 113h2v1h-2zM193 113h2v1h-2zM175 114h2v1h-2zM179 114h2v1h-2zM189 114h2v1h-2zM193 114h2v1h-2zM175 115h2v1h-2zM178 115h3v1h-3zM188 115h3v1h-3zM193 115h2v1h-2zM178 116h2v1h-2zM188 116h2v1h-2zM192 116h2v1h-2zM181 117h3v1h-3zM192 117h2v1h-2zM181 118h3v1h-3zM186 118h2v1h-2zM192 118h2v1h-2zM182 119h2v1h-2zM185 119h5v1h-5zM172 120h2v1h-2zM181 120h3v1h-3zM185 120h2v1h-2zM188 120h6v1h-6zM162 121h3v1h-3zM169 121h2v1h-2zM172 121h2v1h-2zM179 121h4v1h-4zM185 121h2v1h-2zM188 121h6v1h-6zM162 122h3v1h-3zM169 122h2v1h-2zM175 122h2v1h-2zM178 122h3v1h-3zM141 123h2v1h-2zM173 123h4v1h-4zM178 123h2v1h-2zM141 124h4v1h-4zM168 124h2v1h-2zM171 124h5v1h-5zM177 124h5v1h-5zM143 125h2v1h-2zM146 125h2v1h-2zM150 125h2v1h-2zM168 125h2v1h-2zM171 125h2v1h-2zM174 125h2v1h-2zM177 125h5v1h-5zM187 125h2v1h-2zM146 126h2v1h-2zM150 126h2v1h-2zM159 126h2v1h-2zM169 126h3v1h-3zM179 126h2v1h-2zM187 126h2v1h-2zM192 126h2v1h-2zM146 127h2v1h-2zM159 127h2v1h-2zM162 127h2v1h-2zM169 127h3v1h-3zM176 127h2v1h-2zM179 127h2v1h-2zM190 127h4v1h-4zM146 128h2v1h-2zM154 128h2v1h-2zM162 128h2v1h-2zM169 128h3v1h-3zM176 128h2v1h-2zM190 128h4v1h-4zM138 129h2v1h-2zM148 129h2v1h-2zM154 129h2v1h-2zM158 129h2v1h-2zM166 129h2v1h-2zM169 129h3v1h-3zM182 129h2v1h-2zM138 130h2v1h-2zM145 130h5v1h-5zM154 130h2v1h-2zM158 130h2v1h-2zM163 130h2v1h-2zM166 130h2v1h-2zM169 130h2v1h-2zM174 130h2v1h-2zM182 130h2v1h-2zM144 131h9v1h-9zM156 131h3v1h-3zM163 131h3v1h-3zM169 131h2v1h-2zM174 131h2v1h-2zM143 132h3v1h-3zM148 132h5v1h-5zM156 132h3v1h-3zM163 132h3v1h-3zM167 132h2v1h-2zM139 133h3v1h-3zM143 133h2v1h-2zM148 133h5v1h-5zM156 133h2v1h-2zM163 133h2v1h-2zM166 133h3v1h-3zM139 134h3v1h-3zM144 134h2v1h-2zM149 134h5v1h-5zM166 134h2v1h-2zM135 135h2v1h-2zM140 135h2v1h-2zM144 135h2v1h-2zM149 135h5v1h-5zM156 135h2v1h-2zM171 135h2v1h-2zM175 135h2v1h-2zM135 136h2v1h-2zM139 136h3v1h-3zM149 136h2v1h-2zM154 136h4v1h-4zM163 136h2v1h-2zM171 136h2v1h-2zM175 136h2v1h-2zM139 137h2v1h-2zM150 137h3v1h-3zM154 137h5v1h-5zM163 137h2v1h-2zM185 137h2v1h-2zM150 138h3v1h-3zM155 138h4v1h-4zM185 138h2v1h-2zM144 139h4v1h-4zM151 139h2v1h-2zM161 139h2v1h-2zM164 139h2v1h-2zM134 140h2v1h-2zM144 140h5v1h-5zM151 140h2v1h-2zM160 140h3v1h-3zM164 140h2v1h-2zM168 140h2v1h-2zM134 141h2v1h-2zM139 141h2v1h-2zM146 141h3v1h-3zM151 141h2v1h-2zM160 141h2v1h-2zM168 141h2v1h-2zM139 142h2v1h-2zM156 142h2v1h-2zM154 143h4v1h-4zM154 144h2v1h-2zM134 150h2v1h-2zM134 151h2v1h-2z"/>
<path transform="translate(448 150) scale(0.5)" fill="#35bdbb" d="M205 21h2v1h-2zM205 22h2v1h-2zM206 23h2v1h-2zM206 24h2v1h-2zM208 27h2v1h-2zM208 28h2v1h-2zM204 29h2v1h-2zM207 29h2v1h-2zM204 30h2v1h-2zM207 30h3v1h-3zM207 31h3v1h-3zM206 32h4v1h-4zM205 33h5v1h-5zM199 34h2v1h-2zM205 34h5v1h-5zM199 35h2v1h-2zM206 35h2v1h-2zM206 36h4v1h-4zM204 37h6v1h-6zM201 38h9v1h-9zM201 39h6v1h-6zM208 39h2v1h-2zM200 40h8v1h-8zM197 41h2v1h-2zM200 41h8v1h-8zM197 42h2v1h-2zM200 42h7v1h-7zM200 43h6v1h-6zM200 44h6v1h-6zM198 45h7v1h-7zM196 46h10v1h-10zM196 47h10v1h-10zM197 48h7v1h-7zM197 49h7v1h-7zM195 50h8v1h-8zM195 51h7v1h-7zM196 52h9v1h-9zM197 53h8v1h-8zM196 54h8v1h-8zM196 55h7v1h-7zM195 56h8v1h-8zM194 57h8v1h-8zM194 58h3v1h-3zM199 58h2v1h-2zM195 59h2v1h-2zM198 59h3v1h-3zM195 60h6v1h-6zM195 61h3v1h-3zM195 62h4v1h-4zM194 63h2v1h-2zM197 63h2v1h-2zM194 64h3v1h-3zM194 65h5v1h-5zM196 66h3v1h-3zM187 96h2v1h-2zM192 96h2v1h-2zM187 97h2v1h-2zM192 97h2v1h-2zM192 98h2v1h-2zM192 99h2v1h-2zM188 100h2v1h-2zM188 101h2v1h-2zM197 101h2v1h-2zM193 102h2v1h-2zM197 102h2v1h-2zM193 103h2v1h-2zM196 104h2v1h-2zM196 105h2v1h-2zM183 108h2v1h-2zM193 108h4v1h-4zM183 109h2v1h-2zM188 109h2v1h-2zM193 109h4v1h-4zM185 110h5v1h-5zM193 110h2v1h-2zM184 111h5v1h-5zM193 111h2v1h-2zM184 112h2v1h-2zM193 112h2v1h-2zM186 116h2v1h-2zM186 117h2v1h-2zM189 117h2v1h-2zM198 117h2v1h-2zM187 118h4v1h-4zM198 118h2v1h-2zM187 119h2v1h-2zM188 120h2v1h-2zM197 120h2v1h-2zM188 121h2v1h-2zM196 121h3v1h-3zM196 122h2v1h-2zM184 126h2v1h-2zM184 127h2v1h-2zM188 127h2v1h-2zM188 128h2v1h-2zM124 171h2v1h-2zM78 172h2v1h-2zM124 172h2v1h-2zM78 173h2v1h-2zM168 173h2v1h-2zM164 174h2v1h-2zM168 174h2v1h-2zM164 175h2v1h-2zM170 175h2v1h-2zM179 175h2v1h-2zM49 176h2v1h-2zM165 176h2v1h-2zM170 176h2v1h-2zM174 176h3v1h-3zM179 176h2v1h-2zM49 177h2v1h-2zM165 177h2v1h-2zM174 177h3v1h-3zM56 178h2v1h-2zM105 178h2v1h-2zM140 178h2v1h-2zM56 179h2v1h-2zM105 179h2v1h-2zM132 179h2v1h-2zM140 179h2v1h-2zM71 180h2v1h-2zM107 180h2v1h-2zM132 180h2v1h-2zM139 180h2v1h-2zM154 180h2v1h-2zM168 180h2v1h-2zM71 181h2v1h-2zM78 181h2v1h-2zM86 181h2v1h-2zM107 181h2v1h-2zM110 181h2v1h-2zM122 181h2v1h-2zM134 181h2v1h-2zM139 181h2v1h-2zM154 181h2v1h-2zM162 181h2v1h-2zM168 181h2v1h-2zM67 182h2v1h-2zM78 182h2v1h-2zM82 182h2v1h-2zM86 182h2v1h-2zM110 182h2v1h-2zM118 182h2v1h-2zM122 182h2v1h-2zM134 182h2v1h-2zM156 182h2v1h-2zM162 182h2v1h-2zM61 183h2v1h-2zM67 183h2v1h-2zM82 183h2v1h-2zM103 183h2v1h-2zM112 183h2v1h-2zM118 183h2v1h-2zM156 183h2v1h-2zM162 183h2v1h-2zM175 183h2v1h-2zM61 184h2v1h-2zM89 184h4v1h-4zM102 184h3v1h-3zM112 184h2v1h-2zM126 184h2v1h-2zM153 184h2v1h-2zM161 184h3v1h-3zM175 184h2v1h-2zM61 185h2v1h-2zM71 185h2v1h-2zM81 185h2v1h-2zM89 185h4v1h-4zM102 185h2v1h-2zM126 185h2v1h-2zM153 185h2v1h-2zM161 185h2v1h-2zM47 186h3v1h-3zM61 186h2v1h-2zM71 186h2v1h-2zM81 186h2v1h-2zM122 186h2v1h-2zM172 186h2v1h-2zM47 187h3v1h-3zM100 187h2v1h-2zM122 187h2v1h-2zM138 187h2v1h-2zM172 187h2v1h-2zM63 188h2v1h-2zM100 188h2v1h-2zM138 188h2v1h-2zM43 189h3v1h-3zM63 189h2v1h-2zM106 189h3v1h-3zM43 190h3v1h-3zM63 190h2v1h-2zM69 190h2v1h-2zM106 190h3v1h-3zM44 191h2v1h-2zM63 191h2v1h-2zM69 191h2v1h-2zM44 192h2v1h-2zM63 192h2v1h-2zM63 193h2v1h-2zM129 193h2v1h-2zM62 194h2v1h-2zM129 194h2v1h-2zM62 195h2v1h-2z"/>
<path transform="translate(448 280) scale(0.5)" fill="#0a0a0a" d="M136 81h2v1h-2zM136 82h2v1h-2zM138 91h2v1h-2zM138 92h2v1h-2zM182 94h2v1h-2zM182 95h2v1h-2zM118 97h2v1h-2zM118 98h2v1h-2zM118 99h2v1h-2zM166 99h2v1h-2zM118 100h2v1h-2zM166 100h2v1h-2zM166 103h2v1h-2zM166 104h2v1h-2zM152 106h2v1h-2zM164 106h2v1h-2zM91 107h2v1h-2zM123 107h2v1h-2zM152 107h2v1h-2zM156 107h2v1h-2zM164 107h2v1h-2zM91 108h2v1h-2zM123 108h2v1h-2zM156 108h2v1h-2zM183 108h2v1h-2zM181 109h4v1h-4zM89 110h2v1h-2zM181 110h2v1h-2zM89 111h2v1h-2zM117 111h2v1h-2zM103 112h2v1h-2zM117 112h2v1h-2zM127 112h2v1h-2zM138 112h2v1h-2zM150 112h2v1h-2zM187 112h4v1h-4zM103 113h2v1h-2zM127 113h2v1h-2zM138 113h2v1h-2zM150 113h2v1h-2zM154 113h2v1h-2zM187 113h4v1h-4zM104 114h2v1h-2zM131 114h2v1h-2zM154 114h2v1h-2zM157 114h2v1h-2zM104 115h2v1h-2zM131 115h2v1h-2zM157 115h2v1h-2zM163 115h2v1h-2zM112 116h2v1h-2zM134 116h2v1h-2zM151 116h2v1h-2zM160 116h2v1h-2zM163 116h2v1h-2zM168 116h2v1h-2zM112 117h2v1h-2zM134 117h2v1h-2zM149 117h4v1h-4zM158 117h4v1h-4zM164 117h2v1h-2zM168 117h2v1h-2zM186 117h2v1h-2zM77 118h2v1h-2zM121 118h2v1h-2zM139 118h2v1h-2zM149 118h2v1h-2zM152 118h2v1h-2zM158 118h2v1h-2zM163 118h5v1h-5zM186 118h2v1h-2zM55 119h2v1h-2zM77 119h2v1h-2zM81 119h2v1h-2zM121 119h2v1h-2zM130 119h2v1h-2zM139 119h2v1h-2zM152 119h2v1h-2zM156 119h4v1h-4zM163 119h2v1h-2zM166 119h2v1h-2zM190 119h2v1h-2zM55 120h2v1h-2zM66 120h2v1h-2zM81 120h2v1h-2zM109 120h2v1h-2zM128 120h4v1h-4zM136 120h2v1h-2zM156 120h5v1h-5zM166 120h2v1h-2zM172 120h2v1h-2zM190 120h2v1h-2zM66 121h2v1h-2zM109 121h2v1h-2zM128 121h2v1h-2zM135 121h3v1h-3zM157 121h4v1h-4zM166 121h2v1h-2zM172 121h2v1h-2zM134 122h3v1h-3zM150 122h3v1h-3zM157 122h3v1h-3zM172 122h2v1h-2zM177 122h2v1h-2zM185 122h2v1h-2zM97 123h2v1h-2zM125 123h2v1h-2zM128 123h2v1h-2zM134 123h2v1h-2zM150 123h3v1h-3zM159 123h2v1h-2zM164 123h2v1h-2zM168 123h2v1h-2zM172 123h3v1h-3zM177 123h2v1h-2zM184 123h3v1h-3zM191 123h2v1h-2zM97 124h2v1h-2zM125 124h2v1h-2zM128 124h5v1h-5zM134 124h2v1h-2zM144 124h2v1h-2zM151 124h2v1h-2zM154 124h4v1h-4zM159 124h2v1h-2zM164 124h8v1h-8zM173 124h2v1h-2zM177 124h2v1h-2zM184 124h2v1h-2zM187 124h2v1h-2zM191 124h2v1h-2zM124 125h2v1h-2zM129 125h4v1h-4zM144 125h4v1h-4zM154 125h6v1h-6zM162 125h2v1h-2zM166 125h6v1h-6zM187 125h2v1h-2zM63 126h2v1h-2zM75 126h3v1h-3zM124 126h2v1h-2zM130 126h2v1h-2zM134 126h2v1h-2zM144 126h6v1h-6zM158 126h2v1h-2zM162 126h4v1h-4zM170 126h4v1h-4zM179 126h4v1h-4zM184 126h2v1h-2zM187 126h4v1h-4zM63 127h2v1h-2zM71 127h2v1h-2zM75 127h3v1h-3zM109 127h2v1h-2zM116 127h2v1h-2zM124 127h2v1h-2zM133 127h3v1h-3zM137 127h2v1h-2zM144 127h2v1h-2zM147 127h5v1h-5zM157 127h3v1h-3zM164 127h4v1h-4zM169 127h5v1h-5zM176 127h2v1h-2zM179 127h7v1h-7zM189 127h2v1h-2zM71 128h2v1h-2zM104 128h2v1h-2zM107 128h4v1h-4zM115 128h3v1h-3zM133 128h3v1h-3zM137 128h4v1h-4zM142 128h2v1h-2zM147 128h2v1h-2zM150 128h4v1h-4zM157 128h3v1h-3zM161 128h3v1h-3zM165 128h8v1h-8zM176 128h18v1h-18zM79 129h2v1h-2zM103 129h3v1h-3zM107 129h2v1h-2zM115 129h2v1h-2zM118 129h2v1h-2zM122 129h2v1h-2zM132 129h6v1h-6zM139 129h5v1h-5zM152 129h2v1h-2zM156 129h4v1h-4zM161 129h3v1h-3zM165 129h5v1h-5zM177 129h5v1h-5zM184 129h10v1h-10zM79 130h2v1h-2zM98 130h2v1h-2zM103 130h2v1h-2zM118 130h2v1h-2zM122 130h2v1h-2zM125 130h2v1h-2zM130 130h8v1h-8zM139 130h6v1h-6zM149 130h5v1h-5zM155 130h4v1h-4zM161 130h2v1h-2zM166 130h6v1h-6zM174 130h2v1h-2zM177 130h5v1h-5zM184 130h7v1h-7zM79 131h2v1h-2zM95 131h2v1h-2zM98 131h2v1h-2zM102 131h3v1h-3zM107 131h2v1h-2zM111 131h2v1h-2zM115 131h2v1h-2zM120 131h4v1h-4zM125 131h2v1h-2zM130 131h7v1h-7zM139 131h3v1h-3zM143 131h2v1h-2zM148 131h6v1h-6zM155 131h5v1h-5zM162 131h2v1h-2zM166 131h6v1h-6zM174 131h5v1h-5zM180 131h2v1h-2zM183 131h4v1h-4zM188 131h3v1h-3zM92 132h2v1h-2zM95 132h3v1h-3zM102 132h2v1h-2zM107 132h2v1h-2zM111 132h2v1h-2zM115 132h2v1h-2zM120 132h2v1h-2zM125 132h2v1h-2zM128 132h6v1h-6zM138 132h3v1h-3zM144 132h20v1h-20zM165 132h5v1h-5zM174 132h5v1h-5zM180 132h2v1h-2zM183 132h3v1h-3zM187 132h7v1h-7zM92 133h2v1h-2zM96 133h2v1h-2zM101 133h2v1h-2zM106 133h2v1h-2zM111 133h6v1h-6zM125 133h2v1h-2zM128 133h12v1h-12zM141 133h11v1h-11zM153 133h10v1h-10zM164 133h30v1h-30zM73 134h2v1h-2zM80 134h2v1h-2zM95 134h2v1h-2zM100 134h3v1h-3zM104 134h14v1h-14zM125 134h3v1h-3zM133 134h5v1h-5zM141 134h12v1h-12zM155 134h20v1h-20zM177 134h4v1h-4zM182 134h3v1h-3zM186 134h7v1h-7zM46 135h2v1h-2zM73 135h2v1h-2zM80 135h4v1h-4zM89 135h2v1h-2zM95 135h2v1h-2zM100 135h2v1h-2zM104 135h2v1h-2zM107 135h5v1h-5zM115 135h3v1h-3zM119 135h2v1h-2zM125 135h19v1h-19zM145 135h8v1h-8zM155 135h10v1h-10zM166 135h21v1h-21zM188 135h4v1h-4zM46 136h2v1h-2zM54 136h2v1h-2zM63 136h2v1h-2zM71 136h3v1h-3zM82 136h3v1h-3zM87 136h5v1h-5zM99 136h3v1h-3zM103 136h2v1h-2zM109 136h3v1h-3zM114 136h3v1h-3zM118 136h5v1h-5zM124 136h19v1h-19zM145 136h7v1h-7zM153 136h9v1h-9zM163 136h7v1h-7zM171 136h16v1h-16zM188 136h6v1h-6zM54 137h2v1h-2zM63 137h2v1h-2zM69 137h5v1h-5zM83 137h2v1h-2zM87 137h2v1h-2zM90 137h2v1h-2zM99 137h2v1h-2zM103 137h2v1h-2zM107 137h5v1h-5zM113 137h4v1h-4zM118 137h5v1h-5zM124 137h7v1h-7zM133 137h10v1h-10zM145 137h49v1h-49zM47 138h2v1h-2zM69 138h2v1h-2zM84 138h2v1h-2zM88 138h7v1h-7zM98 138h3v1h-3zM103 138h3v1h-3zM107 138h4v1h-4zM113 138h3v1h-3zM120 138h74v1h-74zM47 139h2v1h-2zM79 139h2v1h-2zM82 139h4v1h-4zM88 139h7v1h-7zM98 139h2v1h-2zM103 139h4v1h-4zM108 139h3v1h-3zM112 139h22v1h-22zM135 139h4v1h-4zM140 139h54v1h-54zM44 140h2v1h-2zM74 140h3v1h-3zM79 140h2v1h-2zM82 140h2v1h-2zM85 140h2v1h-2zM89 140h4v1h-4zM96 140h8v1h-8zM105 140h34v1h-34zM140 140h54v1h-54zM44 141h2v1h-2zM54 141h2v1h-2zM64 141h4v1h-4zM73 141h6v1h-6zM85 141h4v1h-4zM90 141h25v1h-25zM116 141h3v1h-3zM120 141h6v1h-6zM127 141h35v1h-35zM163 141h31v1h-31zM49 142h2v1h-2zM54 142h2v1h-2zM59 142h2v1h-2zM63 142h5v1h-5zM70 142h2v1h-2zM73 142h6v1h-6zM83 142h6v1h-6zM91 142h6v1h-6zM98 142h26v1h-26zM126 142h68v1h-68zM47 143h4v1h-4zM59 143h3v1h-3zM63 143h9v1h-9zM74 143h15v1h-15zM90 143h35v1h-35zM126 143h13v1h-13zM140 143h51v1h-51zM192 143h2v1h-2zM32 144h2v1h-2zM47 144h2v1h-2zM57 144h5v1h-5zM66 144h7v1h-7zM74 144h15v1h-15zM90 144h16v1h-16zM108 144h83v1h-83zM192 144h2v1h-2zM32 145h2v1h-2zM49 145h2v1h-2zM57 145h2v1h-2zM63 145h2v1h-2zM68 145h8v1h-8zM79 145h2v1h-2zM83 145h23v1h-23zM107 145h87v1h-87zM48 146h3v1h-3zM58 146h2v1h-2zM63 146h11v1h-11zM75 146h2v1h-2zM82 146h104v1h-104zM187 146h6v1h-6zM39 147h3v1h-3zM48 147h4v1h-4zM54 147h6v1h-6zM61 147h11v1h-11zM74 147h22v1h-22zM99 147h93v1h-93zM39 148h4v1h-4zM50 148h2v1h-2zM54 148h5v1h-5zM61 148h2v1h-2zM64 148h33v1h-33zM98 148h96v1h-96zM41 149h2v1h-2zM48 149h2v1h-2zM52 149h2v1h-2zM55 149h5v1h-5zM61 149h133v1h-133zM37 150h2v1h-2zM40 150h2v1h-2zM48 150h2v1h-2zM52 150h2v1h-2zM55 150h5v1h-5zM61 150h11v1h-11zM75 150h118v1h-118zM37 151h5v1h-5zM45 151h2v1h-2zM52 151h20v1h-20zM73 151h121v1h-121zM32 152h2v1h-2zM38 152h4v1h-4zM45 152h3v1h-3zM52 152h3v1h-3zM58 152h14v1h-14zM73 152h116v1h-116zM190 152h4v1h-4zM24 153h2v1h-2zM32 153h2v1h-2zM45 153h4v1h-4zM50 153h2v1h-2zM53 153h19v1h-19zM73 153h116v1h-116zM190 153h2v1h-2zM24 154h2v1h-2zM30 154h2v1h-2zM43 154h6v1h-6zM50 154h141v1h-141zM30 155h2v1h-2zM40 155h2v1h-2zM43 155h6v1h-6zM50 155h142v1h-142zM35 156h2v1h-2zM40 156h6v1h-6zM47 156h142v1h-142zM190 156h2v1h-2zM35 157h152v1h-152zM189 157h3v1h-3zM22 158h2v1h-2zM33 158h19v1h-19zM53 158h9v1h-9zM63 158h124v1h-124zM189 158h2v1h-2zM22 159h2v1h-2zM29 159h53v1h-53zM83 159h106v1h-106zM25 160h2v1h-2zM29 160h157v1h-157zM187 160h2v1h-2zM25 161h2v1h-2zM28 161h158v1h-158zM187 161h2v1h-2zM25 162h161v1h-161zM189 162h2v1h-2zM26 163h157v1h-157zM185 163h6v1h-6zM29 164h160v1h-160zM27 165h160v1h-160zM189 165h2v1h-2zM26 166h6v1h-6zM33 166h136v1h-136zM170 166h17v1h-17zM188 166h3v1h-3zM25 167h144v1h-144zM170 167h20v1h-20zM23 168h141v1h-141zM165 168h12v1h-12zM178 168h3v1h-3zM186 168h2v1h-2zM21 169h5v1h-5zM27 169h147v1h-147zM177 169h6v1h-6zM186 169h2v1h-2zM21 170h159v1h-159zM181 170h2v1h-2zM186 170h2v1h-2zM21 171h138v1h-138zM160 171h17v1h-17zM178 171h5v1h-5zM21 172h143v1h-143zM165 172h5v1h-5zM171 172h4v1h-4zM176 172h2v1h-2zM180 172h3v1h-3zM188 172h2v1h-2zM19 173h159v1h-159zM188 173h2v1h-2zM19 174h143v1h-143zM163 174h14v1h-14zM179 174h2v1h-2zM20 175h128v1h-128zM149 175h16v1h-16zM166 175h7v1h-7zM175 175h3v1h-3zM179 175h2v1h-2zM16 176h153v1h-153zM171 176h2v1h-2zM176 176h2v1h-2zM179 176h2v1h-2zM16 177h150v1h-150zM174 177h2v1h-2zM179 177h2v1h-2zM16 178h145v1h-145zM162 178h2v1h-2zM166 178h2v1h-2zM174 178h2v1h-2zM16 179h111v1h-111zM128 179h18v1h-18zM147 179h16v1h-16zM166 179h2v1h-2zM16 180h111v1h-111zM128 180h4v1h-4zM133 180h10v1h-10zM144 180h19v1h-19zM164 180h2v1h-2zM16 181h112v1h-112zM129 181h15v1h-15zM145 181h3v1h-3zM150 181h2v1h-2zM153 181h6v1h-6zM160 181h2v1h-2zM164 181h3v1h-3zM169 181h2v1h-2zM178 181h2v1h-2zM17 182h2v1h-2zM20 182h108v1h-108zM130 182h4v1h-4zM137 182h2v1h-2zM140 182h7v1h-7zM149 182h3v1h-3zM156 182h2v1h-2zM165 182h2v1h-2zM169 182h2v1h-2zM178 182h2v1h-2zM17 183h75v1h-75zM93 183h30v1h-30zM124 183h10v1h-10zM137 183h10v1h-10zM149 183h4v1h-4zM156 183h4v1h-4zM168 183h2v1h-2zM17 184h115v1h-115zM133 184h3v1h-3zM137 184h6v1h-6zM145 184h2v1h-2zM149 184h11v1h-11zM163 184h2v1h-2zM166 184h4v1h-4zM178 184h2v1h-2zM17 185h5v1h-5zM24 185h98v1h-98zM123 185h13v1h-13zM137 185h6v1h-6zM147 185h9v1h-9zM157 185h4v1h-4zM163 185h2v1h-2zM166 185h2v1h-2zM178 185h2v1h-2zM19 186h3v1h-3zM23 186h92v1h-92zM117 186h5v1h-5zM123 186h11v1h-11zM137 186h7v1h-7zM147 186h6v1h-6zM154 186h2v1h-2zM157 186h4v1h-4zM20 187h41v1h-41zM63 187h3v1h-3zM67 187h20v1h-20zM88 187h26v1h-26zM117 187h12v1h-12zM130 187h11v1h-11zM142 187h2v1h-2zM145 187h7v1h-7zM157 187h3v1h-3zM21 188h13v1h-13zM35 188h26v1h-26zM63 188h3v1h-3zM68 188h3v1h-3zM72 188h11v1h-11zM85 188h16v1h-16zM102 188h11v1h-11zM117 188h13v1h-13zM131 188h7v1h-7zM139 188h2v1h-2zM143 188h8v1h-8zM158 188h2v1h-2zM162 188h2v1h-2zM188 188h2v1h-2zM24 189h13v1h-13zM38 189h6v1h-6zM46 189h12v1h-12zM59 189h2v1h-2zM63 189h12v1h-12zM77 189h17v1h-17zM95 189h18v1h-18zM114 189h2v1h-2zM117 189h2v1h-2zM121 189h6v1h-6zM128 189h2v1h-2zM131 189h2v1h-2zM136 189h2v1h-2zM139 189h6v1h-6zM150 189h3v1h-3zM154 189h2v1h-2zM158 189h2v1h-2zM162 189h3v1h-3zM188 189h2v1h-2zM24 190h21v1h-21zM46 190h5v1h-5zM52 190h2v1h-2zM55 190h6v1h-6zM64 190h5v1h-5zM70 190h5v1h-5zM77 190h11v1h-11zM89 190h2v1h-2zM92 190h12v1h-12zM105 190h11v1h-11zM117 190h2v1h-2zM120 190h3v1h-3zM124 190h3v1h-3zM137 190h2v1h-2zM141 190h2v1h-2zM148 190h8v1h-8zM163 190h2v1h-2zM24 191h2v1h-2zM28 191h7v1h-7zM36 191h12v1h-12zM49 191h8v1h-8zM58 191h4v1h-4zM63 191h4v1h-4zM68 191h38v1h-38zM107 191h2v1h-2zM110 191h5v1h-5zM116 191h2v1h-2zM120 191h2v1h-2zM124 191h3v1h-3zM132 191h2v1h-2zM136 191h4v1h-4zM148 191h3v1h-3zM153 191h2v1h-2zM165 191h2v1h-2zM25 192h2v1h-2zM28 192h12v1h-12zM41 192h7v1h-7zM49 192h13v1h-13zM63 192h4v1h-4zM68 192h5v1h-5zM74 192h9v1h-9zM88 192h4v1h-4zM93 192h19v1h-19zM113 192h5v1h-5zM124 192h2v1h-2zM132 192h8v1h-8zM149 192h3v1h-3zM156 192h2v1h-2zM165 192h2v1h-2zM25 193h2v1h-2zM32 193h8v1h-8zM41 193h9v1h-9zM52 193h2v1h-2zM55 193h4v1h-4zM65 193h2v1h-2zM71 193h2v1h-2zM77 193h3v1h-3zM85 193h3v1h-3zM89 193h3v1h-3zM94 193h4v1h-4zM105 193h7v1h-7zM113 193h3v1h-3zM119 193h2v1h-2zM125 193h2v1h-2zM130 193h2v1h-2zM134 193h2v1h-2zM138 193h4v1h-4zM150 193h3v1h-3zM156 193h2v1h-2zM28 194h6v1h-6zM35 194h2v1h-2zM47 194h3v1h-3zM52 194h7v1h-7zM63 194h4v1h-4zM71 194h4v1h-4zM77 194h4v1h-4zM85 194h13v1h-13zM103 194h7v1h-7zM112 194h2v1h-2zM118 194h3v1h-3zM125 194h2v1h-2zM130 194h6v1h-6zM138 194h5v1h-5zM146 194h2v1h-2zM149 194h5v1h-5zM171 194h2v1h-2zM25 195h2v1h-2zM28 195h4v1h-4zM36 195h2v1h-2zM46 195h3v1h-3zM52 195h8v1h-8zM63 195h2v1h-2zM71 195h4v1h-4zM76 195h2v1h-2zM79 195h4v1h-4zM87 195h4v1h-4zM92 195h2v1h-2zM95 195h2v1h-2zM100 195h7v1h-7zM108 195h3v1h-3zM112 195h5v1h-5zM118 195h2v1h-2zM121 195h2v1h-2zM132 195h4v1h-4zM141 195h2v1h-2zM145 195h3v1h-3zM149 195h5v1h-5zM171 195h2v1h-2zM25 196h2v1h-2zM30 196h2v1h-2zM33 196h7v1h-7zM46 196h3v1h-3zM50 196h4v1h-4zM55 196h2v1h-2zM58 196h4v1h-4zM74 196h4v1h-4zM81 196h2v1h-2zM90 196h2v1h-2zM98 196h5v1h-5zM104 196h2v1h-2zM107 196h4v1h-4zM114 196h3v1h-3zM119 196h4v1h-4zM145 196h2v1h-2zM152 196h2v1h-2zM30 197h2v1h-2zM33 197h4v1h-4zM38 197h2v1h-2zM43 197h2v1h-2zM49 197h5v1h-5zM57 197h5v1h-5zM63 197h2v1h-2zM67 197h2v1h-2zM72 197h6v1h-6zM90 197h3v1h-3zM95 197h2v1h-2zM98 197h2v1h-2zM104 197h2v1h-2zM107 197h2v1h-2zM119 197h2v1h-2zM122 197h2v1h-2zM126 197h2v1h-2zM152 197h2v1h-2zM31 198h2v1h-2zM35 198h2v1h-2zM43 198h3v1h-3zM47 198h4v1h-4zM52 198h4v1h-4zM57 198h4v1h-4zM63 198h2v1h-2zM67 198h4v1h-4zM72 198h2v1h-2zM75 198h2v1h-2zM80 198h2v1h-2zM85 198h2v1h-2zM91 198h2v1h-2zM95 198h2v1h-2zM116 198h2v1h-2zM120 198h4v1h-4zM126 198h2v1h-2zM31 199h2v1h-2zM44 199h2v1h-2zM47 199h2v1h-2zM54 199h2v1h-2zM58 199h3v1h-3zM69 199h2v1h-2zM75 199h2v1h-2zM80 199h2v1h-2zM85 199h2v1h-2zM110 199h2v1h-2zM115 199h3v1h-3zM120 199h2v1h-2zM139 199h2v1h-2zM24 200h2v1h-2zM29 200h2v1h-2zM37 200h2v1h-2zM45 200h2v1h-2zM50 200h3v1h-3zM59 200h6v1h-6zM73 200h2v1h-2zM87 200h2v1h-2zM92 200h4v1h-4zM105 200h3v1h-3zM110 200h2v1h-2zM113 200h4v1h-4zM131 200h2v1h-2zM136 200h2v1h-2zM139 200h2v1h-2zM24 201h2v1h-2zM29 201h2v1h-2zM37 201h2v1h-2zM45 201h2v1h-2zM50 201h3v1h-3zM57 201h3v1h-3zM61 201h4v1h-4zM73 201h2v1h-2zM87 201h2v1h-2zM92 201h4v1h-4zM105 201h3v1h-3zM113 201h2v1h-2zM131 201h2v1h-2zM136 201h2v1h-2zM41 202h2v1h-2zM57 202h3v1h-3zM62 202h2v1h-2zM97 202h2v1h-2zM111 202h2v1h-2zM189 202h2v1h-2zM38 203h2v1h-2zM41 203h2v1h-2zM52 203h2v1h-2zM56 203h2v1h-2zM62 203h2v1h-2zM69 203h2v1h-2zM84 203h2v1h-2zM97 203h2v1h-2zM110 203h3v1h-3zM189 203h2v1h-2zM33 204h3v1h-3zM38 204h2v1h-2zM52 204h2v1h-2zM56 204h2v1h-2zM60 204h4v1h-4zM69 204h2v1h-2zM84 204h2v1h-2zM105 204h2v1h-2zM110 204h3v1h-3zM118 204h2v1h-2zM27 205h2v1h-2zM33 205h3v1h-3zM60 205h2v1h-2zM105 205h2v1h-2zM118 205h2v1h-2zM136 205h2v1h-2zM145 205h2v1h-2zM27 206h2v1h-2zM47 206h2v1h-2zM104 206h4v1h-4zM113 206h2v1h-2zM133 206h2v1h-2zM136 206h2v1h-2zM145 206h2v1h-2zM156 206h2v1h-2zM162 206h2v1h-2zM47 207h2v1h-2zM60 207h2v1h-2zM104 207h5v1h-5zM113 207h3v1h-3zM133 207h2v1h-2zM138 207h2v1h-2zM156 207h2v1h-2zM162 207h2v1h-2zM40 208h2v1h-2zM51 208h2v1h-2zM60 208h2v1h-2zM107 208h2v1h-2zM114 208h2v1h-2zM118 208h2v1h-2zM126 208h2v1h-2zM133 208h2v1h-2zM138 208h2v1h-2zM146 208h2v1h-2zM40 209h2v1h-2zM51 209h2v1h-2zM70 209h2v1h-2zM81 209h2v1h-2zM118 209h2v1h-2zM126 209h2v1h-2zM133 209h2v1h-2zM146 209h2v1h-2zM70 210h2v1h-2zM81 210h2v1h-2zM139 210h2v1h-2zM127 211h2v1h-2zM139 211h3v1h-3z"/>
<path transform="translate(448 280) scale(0.5)" fill="#e8191f" d="M184 58h2v1h-2zM184 59h2v1h-2zM190 62h2v1h-2zM187 63h2v1h-2zM190 63h2v1h-2zM187 64h2v1h-2zM191 64h2v1h-2zM191 65h2v1h-2zM202 65h2v1h-2zM200 66h4v1h-4zM198 67h4v1h-4zM191 68h2v1h-2zM198 68h2v1h-2zM181 69h2v1h-2zM191 69h2v1h-2zM201 69h3v1h-3zM181 70h2v1h-2zM201 70h3v1h-3zM198 71h2v1h-2zM201 71h2v1h-2zM195 72h2v1h-2zM198 72h7v1h-7zM191 73h2v1h-2zM195 73h2v1h-2zM198 73h7v1h-7zM191 74h2v1h-2zM196 74h9v1h-9zM187 75h2v1h-2zM196 75h9v1h-9zM187 76h4v1h-4zM196 76h9v1h-9zM189 77h2v1h-2zM197 77h2v1h-2zM202 77h3v1h-3zM190 78h2v1h-2zM193 78h2v1h-2zM197 78h4v1h-4zM202 78h3v1h-3zM187 79h2v1h-2zM190 79h2v1h-2zM193 79h12v1h-12zM187 80h2v1h-2zM190 80h2v1h-2zM193 80h12v1h-12zM187 81h2v1h-2zM192 81h2v1h-2zM195 81h10v1h-10zM180 82h2v1h-2zM186 82h5v1h-5zM192 82h2v1h-2zM195 82h10v1h-10zM168 83h2v1h-2zM180 83h2v1h-2zM186 83h2v1h-2zM189 83h2v1h-2zM192 83h13v1h-13zM168 84h3v1h-3zM189 84h2v1h-2zM192 84h13v1h-13zM169 85h2v1h-2zM189 85h16v1h-16zM182 86h2v1h-2zM191 86h14v1h-14zM182 87h2v1h-2zM190 87h14v1h-14zM172 88h2v1h-2zM178 88h4v1h-4zM188 88h16v1h-16zM172 89h4v1h-4zM178 89h4v1h-4zM184 89h17v1h-17zM202 89h2v1h-2zM174 90h3v1h-3zM184 90h21v1h-21zM159 91h2v1h-2zM175 91h4v1h-4zM182 91h2v1h-2zM186 91h19v1h-19zM159 92h2v1h-2zM172 92h2v1h-2zM175 92h4v1h-4zM182 92h2v1h-2zM186 92h18v1h-18zM172 93h5v1h-5zM182 93h2v1h-2zM185 93h18v1h-18zM159 94h2v1h-2zM174 94h5v1h-5zM181 94h22v1h-22zM159 95h2v1h-2zM169 95h2v1h-2zM173 95h6v1h-6zM180 95h20v1h-20zM201 95h2v1h-2zM165 96h2v1h-2zM169 96h2v1h-2zM173 96h29v1h-29zM157 97h2v1h-2zM165 97h2v1h-2zM170 97h2v1h-2zM174 97h28v1h-28zM154 98h2v1h-2zM157 98h2v1h-2zM170 98h9v1h-9zM180 98h21v1h-21zM154 99h2v1h-2zM170 99h31v1h-31zM170 100h2v1h-2zM173 100h28v1h-28zM163 101h4v1h-4zM169 101h2v1h-2zM173 101h27v1h-27zM161 102h6v1h-6zM168 102h3v1h-3zM173 102h27v1h-27zM138 103h2v1h-2zM151 103h2v1h-2zM154 103h2v1h-2zM158 103h2v1h-2zM161 103h2v1h-2zM168 103h3v1h-3zM172 103h28v1h-28zM138 104h2v1h-2zM150 104h3v1h-3zM154 104h2v1h-2zM158 104h2v1h-2zM169 104h29v1h-29zM199 104h2v1h-2zM150 105h3v1h-3zM161 105h2v1h-2zM166 105h35v1h-35zM155 106h4v1h-4zM160 106h4v1h-4zM166 106h34v1h-34zM155 107h4v1h-4zM160 107h39v1h-39zM120 108h2v1h-2zM126 108h2v1h-2zM152 108h2v1h-2zM155 108h2v1h-2zM158 108h2v1h-2zM161 108h38v1h-38zM120 109h2v1h-2zM126 109h2v1h-2zM145 109h2v1h-2zM149 109h2v1h-2zM152 109h2v1h-2zM156 109h43v1h-43zM136 110h2v1h-2zM145 110h2v1h-2zM149 110h2v1h-2zM156 110h42v1h-42zM132 111h2v1h-2zM136 111h2v1h-2zM145 111h2v1h-2zM148 111h4v1h-4zM155 111h43v1h-43zM120 112h2v1h-2zM123 112h2v1h-2zM129 112h2v1h-2zM132 112h2v1h-2zM137 112h2v1h-2zM148 112h4v1h-4zM155 112h44v1h-44zM120 113h2v1h-2zM123 113h2v1h-2zM129 113h2v1h-2zM132 113h4v1h-4zM137 113h2v1h-2zM147 113h3v1h-3zM151 113h2v1h-2zM154 113h46v1h-46zM134 114h2v1h-2zM147 114h50v1h-50zM198 114h4v1h-4zM119 115h2v1h-2zM134 115h2v1h-2zM137 115h2v1h-2zM141 115h2v1h-2zM149 115h48v1h-48zM200 115h2v1h-2zM119 116h2v1h-2zM129 116h2v1h-2zM137 116h2v1h-2zM141 116h2v1h-2zM144 116h2v1h-2zM151 116h5v1h-5zM158 116h39v1h-39zM121 117h2v1h-2zM129 117h4v1h-4zM137 117h2v1h-2zM140 117h3v1h-3zM144 117h6v1h-6zM151 117h5v1h-5zM157 117h34v1h-34zM192 117h2v1h-2zM121 118h3v1h-3zM131 118h2v1h-2zM140 118h4v1h-4zM146 118h48v1h-48zM196 118h2v1h-2zM119 119h2v1h-2zM122 119h2v1h-2zM139 119h55v1h-55zM195 119h3v1h-3zM119 120h2v1h-2zM129 120h2v1h-2zM138 120h48v1h-48zM188 120h6v1h-6zM195 120h2v1h-2zM122 121h2v1h-2zM129 121h2v1h-2zM135 121h56v1h-56zM117 122h2v1h-2zM122 122h2v1h-2zM126 122h3v1h-3zM132 122h15v1h-15zM149 122h42v1h-42zM117 123h2v1h-2zM126 123h3v1h-3zM131 123h57v1h-57zM189 123h2v1h-2zM120 124h2v1h-2zM127 124h2v1h-2zM131 124h9v1h-9zM141 124h47v1h-47zM191 124h2v1h-2zM116 125h2v1h-2zM120 125h5v1h-5zM126 125h3v1h-3zM130 125h5v1h-5zM136 125h45v1h-45zM182 125h4v1h-4zM191 125h2v1h-2zM194 125h2v1h-2zM116 126h2v1h-2zM120 126h5v1h-5zM126 126h3v1h-3zM130 126h41v1h-41zM172 126h14v1h-14zM194 126h2v1h-2zM120 127h2v1h-2zM123 127h6v1h-6zM131 127h40v1h-40zM173 127h2v1h-2zM176 127h8v1h-8zM185 127h3v1h-3zM189 127h2v1h-2zM110 128h2v1h-2zM118 128h2v1h-2zM122 128h20v1h-20zM144 128h14v1h-14zM159 128h14v1h-14zM176 128h6v1h-6zM184 128h4v1h-4zM189 128h2v1h-2zM110 129h2v1h-2zM113 129h2v1h-2zM118 129h2v1h-2zM122 129h2v1h-2zM125 129h33v1h-33zM159 129h6v1h-6zM169 129h4v1h-4zM174 129h3v1h-3zM178 129h5v1h-5zM184 129h2v1h-2zM113 130h4v1h-4zM121 130h2v1h-2zM124 130h6v1h-6zM131 130h27v1h-27zM159 130h14v1h-14zM174 130h9v1h-9zM110 131h2v1h-2zM115 131h3v1h-3zM121 131h7v1h-7zM131 131h4v1h-4zM137 131h2v1h-2zM140 131h18v1h-18zM159 131h2v1h-2zM162 131h8v1h-8zM174 131h5v1h-5zM181 131h2v1h-2zM110 132h2v1h-2zM116 132h5v1h-5zM122 132h2v1h-2zM125 132h3v1h-3zM129 132h3v1h-3zM133 132h4v1h-4zM139 132h3v1h-3zM143 132h11v1h-11zM155 132h3v1h-3zM159 132h13v1h-13zM174 132h4v1h-4zM182 132h2v1h-2zM196 132h2v1h-2zM109 133h2v1h-2zM112 133h2v1h-2zM116 133h5v1h-5zM125 133h3v1h-3zM129 133h3v1h-3zM134 133h9v1h-9zM145 133h3v1h-3zM149 133h7v1h-7zM159 133h7v1h-7zM170 133h5v1h-5zM176 133h2v1h-2zM182 133h2v1h-2zM196 133h2v1h-2zM109 134h2v1h-2zM112 134h2v1h-2zM115 134h7v1h-7zM126 134h2v1h-2zM136 134h7v1h-7zM145 134h2v1h-2zM150 134h2v1h-2zM153 134h3v1h-3zM161 134h5v1h-5zM171 134h4v1h-4zM176 134h2v1h-2zM180 134h2v1h-2zM112 135h2v1h-2zM115 135h7v1h-7zM126 135h4v1h-4zM138 135h2v1h-2zM143 135h7v1h-7zM151 135h2v1h-2zM160 135h5v1h-5zM168 135h2v1h-2zM180 135h2v1h-2zM112 136h2v1h-2zM117 136h2v1h-2zM128 136h2v1h-2zM138 136h2v1h-2zM143 136h2v1h-2zM146 136h4v1h-4zM151 136h2v1h-2zM156 136h2v1h-2zM160 136h2v1h-2zM163 136h2v1h-2zM167 136h3v1h-3zM180 136h2v1h-2zM116 137h3v1h-3zM138 137h2v1h-2zM143 137h2v1h-2zM151 137h2v1h-2zM156 137h4v1h-4zM167 137h2v1h-2zM179 137h2v1h-2zM182 137h5v1h-5zM116 138h2v1h-2zM152 138h2v1h-2zM158 138h2v1h-2zM162 138h2v1h-2zM179 138h2v1h-2zM182 138h5v1h-5zM152 139h2v1h-2zM162 139h2v1h-2zM184 140h2v1h-2zM178 141h2v1h-2zM184 141h2v1h-2zM123 142h2v1h-2zM178 142h2v1h-2zM123 143h2v1h-2zM137 143h2v1h-2zM137 144h2v1h-2zM153 151h2v1h-2zM153 152h2v1h-2zM175 171h2v1h-2zM175 172h2v1h-2z"/>
<path transform="translate(448 280) scale(0.5)" fill="#0a0a0a" d="M190 102h2v1h-2zM190 103h2v1h-2zM163 105h2v1h-2zM196 105h2v1h-2zM163 106h2v1h-2zM196 106h2v1h-2zM194 108h4v1h-4zM194 109h4v1h-4zM180 110h2v1h-2zM191 110h6v1h-6zM180 111h2v1h-2zM191 111h7v1h-7zM174 112h2v1h-2zM192 112h2v1h-2zM195 112h3v1h-3zM174 113h2v1h-2zM180 113h2v1h-2zM190 113h4v1h-4zM195 113h2v1h-2zM174 114h2v1h-2zM180 114h3v1h-3zM190 114h4v1h-4zM170 115h2v1h-2zM174 115h2v1h-2zM181 115h2v1h-2zM186 115h2v1h-2zM189 115h2v1h-2zM192 115h2v1h-2zM170 116h4v1h-4zM175 116h2v1h-2zM181 116h2v1h-2zM186 116h2v1h-2zM189 116h3v1h-3zM153 117h2v1h-2zM172 117h6v1h-6zM187 117h2v1h-2zM190 117h2v1h-2zM194 117h2v1h-2zM153 118h2v1h-2zM159 118h2v1h-2zM163 118h2v1h-2zM173 118h5v1h-5zM180 118h2v1h-2zM187 118h2v1h-2zM192 118h4v1h-4zM159 119h2v1h-2zM163 119h2v1h-2zM171 119h2v1h-2zM180 119h2v1h-2zM184 119h2v1h-2zM187 119h2v1h-2zM190 119h4v1h-4zM152 120h2v1h-2zM159 120h2v1h-2zM163 120h2v1h-2zM170 120h3v1h-3zM177 120h5v1h-5zM184 120h2v1h-2zM190 120h2v1h-2zM152 121h2v1h-2zM159 121h2v1h-2zM163 121h2v1h-2zM170 121h2v1h-2zM177 121h3v1h-3zM184 121h2v1h-2zM159 122h2v1h-2zM184 122h2v1h-2zM159 123h2v1h-2zM166 123h2v1h-2zM175 123h2v1h-2zM184 123h4v1h-4zM189 123h4v1h-4zM137 124h2v1h-2zM140 124h2v1h-2zM153 124h2v1h-2zM156 124h3v1h-3zM165 124h3v1h-3zM172 124h6v1h-6zM184 124h4v1h-4zM189 124h4v1h-4zM137 125h5v1h-5zM146 125h2v1h-2zM151 125h4v1h-4zM156 125h3v1h-3zM162 125h2v1h-2zM165 125h3v1h-3zM172 125h6v1h-6zM138 126h3v1h-3zM146 126h2v1h-2zM151 126h8v1h-8zM162 126h2v1h-2zM166 126h2v1h-2zM173 126h3v1h-3zM139 127h2v1h-2zM146 127h2v1h-2zM154 127h2v1h-2zM157 127h4v1h-4zM180 127h2v1h-2zM134 128h2v1h-2zM146 128h2v1h-2zM158 128h5v1h-5zM165 128h2v1h-2zM177 128h5v1h-5zM134 129h2v1h-2zM158 129h5v1h-5zM165 129h2v1h-2zM170 129h2v1h-2zM177 129h4v1h-4zM144 130h2v1h-2zM151 130h4v1h-4zM157 130h2v1h-2zM170 130h3v1h-3zM135 131h4v1h-4zM143 131h3v1h-3zM150 131h5v1h-5zM157 131h2v1h-2zM163 131h2v1h-2zM171 131h4v1h-4zM176 131h2v1h-2zM135 132h7v1h-7zM143 132h2v1h-2zM150 132h2v1h-2zM163 132h3v1h-3zM172 132h6v1h-6zM139 133h4v1h-4zM164 133h2v1h-2zM174 133h2v1h-2zM178 133h3v1h-3zM134 134h5v1h-5zM141 134h2v1h-2zM152 134h2v1h-2zM178 134h3v1h-3zM134 135h5v1h-5zM152 135h3v1h-3zM141 136h2v1h-2zM152 136h5v1h-5zM141 137h2v1h-2zM155 137h2v1h-2zM143 140h2v1h-2zM139 141h2v1h-2zM143 141h2v1h-2zM139 142h2v1h-2z"/>
<path transform="translate(448 280) scale(0.5)" fill="#35bdbb" d="M210 33h2v1h-2zM210 34h2v1h-2zM209 38h3v1h-3zM209 39h3v1h-3zM210 40h2v1h-2zM210 41h2v1h-2zM209 42h3v1h-3zM209 43h3v1h-3zM210 44h2v1h-2zM210 45h2v1h-2zM209 46h3v1h-3zM209 47h3v1h-3zM209 48h2v1h-2zM209 49h2v1h-2zM208 50h3v1h-3zM208 51h2v1h-2zM209 52h2v1h-2zM209 53h2v1h-2zM207 54h2v1h-2zM207 55h2v1h-2zM205 56h2v1h-2zM208 56h2v1h-2zM205 57h2v1h-2zM208 57h2v1h-2zM208 59h2v1h-2zM208 60h3v1h-3zM206 61h5v1h-5zM206 62h4v1h-4zM207 63h3v1h-3zM206 64h4v1h-4zM206 65h4v1h-4zM206 66h4v1h-4zM206 67h2v1h-2zM204 68h2v1h-2zM204 69h3v1h-3zM208 69h2v1h-2zM205 70h5v1h-5zM205 71h4v1h-4zM206 72h4v1h-4zM205 73h5v1h-5zM205 74h4v1h-4zM204 75h5v1h-5zM204 76h4v1h-4zM205 77h5v1h-5zM205 78h5v1h-5zM205 79h4v1h-4zM207 80h2v1h-2zM204 81h2v1h-2zM204 82h2v1h-2zM204 83h4v1h-4zM206 84h2v1h-2zM204 87h2v1h-2zM204 88h2v1h-2zM204 89h2v1h-2zM203 90h3v1h-3zM203 91h4v1h-4zM202 92h6v1h-6zM202 93h6v1h-6zM203 94h5v1h-5zM203 95h4v1h-4zM203 96h4v1h-4zM200 97h2v1h-2zM204 97h3v1h-3zM200 98h7v1h-7zM202 99h4v1h-4zM203 100h3v1h-3zM203 101h3v1h-3zM201 102h5v1h-5zM201 103h5v1h-5zM201 104h5v1h-5zM199 105h7v1h-7zM199 106h7v1h-7zM199 107h2v1h-2zM202 107h4v1h-4zM199 108h7v1h-7zM201 109h2v1h-2zM201 110h2v1h-2zM199 111h4v1h-4zM204 111h2v1h-2zM199 112h7v1h-7zM200 113h5v1h-5zM200 114h2v1h-2zM200 115h5v1h-5zM194 116h2v1h-2zM197 116h8v1h-8zM194 117h2v1h-2zM197 117h7v1h-7zM199 118h3v1h-3zM204 118h2v1h-2zM199 119h7v1h-7zM198 120h6v1h-6zM197 121h7v1h-7zM197 122h7v1h-7zM195 123h2v1h-2zM199 123h4v1h-4zM195 124h2v1h-2zM199 124h4v1h-4zM194 125h2v1h-2zM198 125h5v1h-5zM194 126h2v1h-2zM198 126h5v1h-5zM196 127h8v1h-8zM196 128h8v1h-8zM194 129h2v1h-2zM198 129h4v1h-4zM194 130h2v1h-2zM197 130h5v1h-5zM197 131h5v1h-5zM197 132h6v1h-6zM195 133h8v1h-8zM195 134h5v1h-5zM201 134h2v1h-2zM195 135h5v1h-5zM201 135h2v1h-2zM194 136h6v1h-6zM194 137h6v1h-6zM195 138h5v1h-5zM202 138h2v1h-2zM194 139h5v1h-5zM202 139h2v1h-2zM182 140h2v1h-2zM194 140h5v1h-5zM182 141h2v1h-2zM192 141h7v1h-7zM192 142h7v1h-7zM192 143h7v1h-7zM171 144h4v1h-4zM194 144h6v1h-6zM171 145h4v1h-4zM179 145h2v1h-2zM194 145h6v1h-6zM130 146h2v1h-2zM171 146h2v1h-2zM179 146h2v1h-2zM193 146h6v1h-6zM130 147h2v1h-2zM174 147h2v1h-2zM183 147h2v1h-2zM190 147h2v1h-2zM193 147h2v1h-2zM196 147h3v1h-3zM140 148h2v1h-2zM145 148h2v1h-2zM169 148h2v1h-2zM174 148h2v1h-2zM177 148h2v1h-2zM183 148h2v1h-2zM190 148h11v1h-11zM140 149h2v1h-2zM145 149h2v1h-2zM169 149h2v1h-2zM177 149h2v1h-2zM192 149h6v1h-6zM199 149h2v1h-2zM170 150h2v1h-2zM175 150h2v1h-2zM181 150h2v1h-2zM193 150h3v1h-3zM154 151h2v1h-2zM170 151h2v1h-2zM173 151h7v1h-7zM181 151h2v1h-2zM191 151h6v1h-6zM154 152h2v1h-2zM157 152h2v1h-2zM173 152h2v1h-2zM177 152h5v1h-5zM191 152h6v1h-6zM121 153h2v1h-2zM157 153h2v1h-2zM163 153h2v1h-2zM177 153h2v1h-2zM180 153h2v1h-2zM192 153h4v1h-4zM121 154h2v1h-2zM163 154h3v1h-3zM168 154h2v1h-2zM174 154h2v1h-2zM180 154h2v1h-2zM191 154h5v1h-5zM117 155h2v1h-2zM147 155h4v1h-4zM152 155h2v1h-2zM158 155h2v1h-2zM164 155h2v1h-2zM168 155h8v1h-8zM178 155h4v1h-4zM190 155h7v1h-7zM117 156h2v1h-2zM147 156h7v1h-7zM158 156h2v1h-2zM169 156h6v1h-6zM178 156h2v1h-2zM190 156h4v1h-4zM195 156h2v1h-2zM137 157h3v1h-3zM150 157h2v1h-2zM159 157h2v1h-2zM169 157h2v1h-2zM178 157h2v1h-2zM191 157h3v1h-3zM195 157h2v1h-2zM129 158h4v1h-4zM137 158h3v1h-3zM159 158h2v1h-2zM169 158h2v1h-2zM177 158h2v1h-2zM180 158h2v1h-2zM190 158h7v1h-7zM129 159h4v1h-4zM137 159h2v1h-2zM165 159h4v1h-4zM176 159h3v1h-3zM180 159h2v1h-2zM190 159h8v1h-8zM107 160h2v1h-2zM134 160h2v1h-2zM137 160h2v1h-2zM145 160h3v1h-3zM154 160h2v1h-2zM162 160h2v1h-2zM165 160h4v1h-4zM174 160h5v1h-5zM183 160h2v1h-2zM190 160h5v1h-5zM196 160h2v1h-2zM107 161h2v1h-2zM115 161h2v1h-2zM134 161h2v1h-2zM145 161h3v1h-3zM150 161h2v1h-2zM154 161h4v1h-4zM162 161h2v1h-2zM165 161h2v1h-2zM171 161h2v1h-2zM174 161h5v1h-5zM180 161h2v1h-2zM183 161h2v1h-2zM190 161h5v1h-5zM115 162h2v1h-2zM121 162h2v1h-2zM129 162h2v1h-2zM136 162h2v1h-2zM150 162h8v1h-8zM161 162h6v1h-6zM168 162h2v1h-2zM171 162h2v1h-2zM174 162h3v1h-3zM180 162h3v1h-3zM191 162h6v1h-6zM103 163h2v1h-2zM121 163h2v1h-2zM129 163h2v1h-2zM136 163h2v1h-2zM140 163h4v1h-4zM152 163h5v1h-5zM161 163h9v1h-9zM171 163h4v1h-4zM181 163h2v1h-2zM191 163h6v1h-6zM103 164h2v1h-2zM134 164h2v1h-2zM140 164h6v1h-6zM148 164h2v1h-2zM152 164h4v1h-4zM161 164h3v1h-3zM165 164h4v1h-4zM171 164h4v1h-4zM179 164h2v1h-2zM191 164h3v1h-3zM195 164h2v1h-2zM124 165h2v1h-2zM134 165h2v1h-2zM137 165h2v1h-2zM140 165h10v1h-10zM152 165h5v1h-5zM159 165h10v1h-10zM171 165h2v1h-2zM179 165h2v1h-2zM191 165h3v1h-3zM124 166h2v1h-2zM129 166h3v1h-3zM136 166h3v1h-3zM140 166h8v1h-8zM153 166h4v1h-4zM159 166h3v1h-3zM163 166h3v1h-3zM167 166h9v1h-9zM191 166h3v1h-3zM119 167h3v1h-3zM123 167h2v1h-2zM129 167h3v1h-3zM135 167h4v1h-4zM140 167h7v1h-7zM153 167h4v1h-4zM158 167h4v1h-4zM163 167h3v1h-3zM167 167h12v1h-12zM114 168h2v1h-2zM118 168h4v1h-4zM123 168h3v1h-3zM129 168h5v1h-5zM135 168h2v1h-2zM140 168h10v1h-10zM153 168h8v1h-8zM162 168h3v1h-3zM167 168h5v1h-5zM175 168h4v1h-4zM183 168h2v1h-2zM110 169h3v1h-3zM114 169h2v1h-2zM118 169h4v1h-4zM124 169h2v1h-2zM129 169h5v1h-5zM135 169h2v1h-2zM139 169h6v1h-6zM147 169h5v1h-5zM156 169h8v1h-8zM168 169h4v1h-4zM173 169h3v1h-3zM183 169h2v1h-2zM190 169h6v1h-6zM104 170h3v1h-3zM110 170h3v1h-3zM116 170h2v1h-2zM120 170h3v1h-3zM125 170h2v1h-2zM129 170h3v1h-3zM135 170h2v1h-2zM138 170h5v1h-5zM150 170h2v1h-2zM154 170h2v1h-2zM157 170h5v1h-5zM173 170h3v1h-3zM190 170h6v1h-6zM56 171h2v1h-2zM72 171h2v1h-2zM104 171h3v1h-3zM110 171h2v1h-2zM116 171h7v1h-7zM125 171h8v1h-8zM138 171h8v1h-8zM147 171h2v1h-2zM150 171h2v1h-2zM154 171h2v1h-2zM157 171h4v1h-4zM164 171h2v1h-2zM171 171h2v1h-2zM191 171h2v1h-2zM32 172h2v1h-2zM56 172h2v1h-2zM61 172h2v1h-2zM67 172h2v1h-2zM72 172h3v1h-3zM84 172h4v1h-4zM92 172h2v1h-2zM99 172h4v1h-4zM105 172h3v1h-3zM109 172h3v1h-3zM113 172h12v1h-12zM127 172h6v1h-6zM134 172h2v1h-2zM138 172h4v1h-4zM143 172h3v1h-3zM147 172h2v1h-2zM157 172h4v1h-4zM164 172h2v1h-2zM171 172h4v1h-4zM191 172h2v1h-2zM32 173h2v1h-2zM49 173h2v1h-2zM61 173h2v1h-2zM66 173h3v1h-3zM71 173h4v1h-4zM84 173h4v1h-4zM92 173h2v1h-2zM95 173h2v1h-2zM99 173h4v1h-4zM104 173h4v1h-4zM109 173h3v1h-3zM113 173h12v1h-12zM127 173h3v1h-3zM132 173h4v1h-4zM139 173h7v1h-7zM147 173h2v1h-2zM151 173h2v1h-2zM156 173h2v1h-2zM160 173h2v1h-2zM167 173h3v1h-3zM171 173h4v1h-4zM48 174h3v1h-3zM54 174h2v1h-2zM66 174h3v1h-3zM71 174h4v1h-4zM80 174h2v1h-2zM86 174h2v1h-2zM91 174h2v1h-2zM95 174h2v1h-2zM98 174h2v1h-2zM101 174h12v1h-12zM114 174h10v1h-10zM126 174h5v1h-5zM132 174h3v1h-3zM139 174h10v1h-10zM151 174h2v1h-2zM156 174h2v1h-2zM160 174h3v1h-3zM164 174h2v1h-2zM167 174h3v1h-3zM190 174h2v1h-2zM36 175h2v1h-2zM48 175h2v1h-2zM54 175h2v1h-2zM62 175h2v1h-2zM67 175h2v1h-2zM70 175h6v1h-6zM80 175h8v1h-8zM91 175h10v1h-10zM102 175h8v1h-8zM111 175h2v1h-2zM114 175h20v1h-20zM137 175h2v1h-2zM140 175h4v1h-4zM145 175h4v1h-4zM151 175h2v1h-2zM156 175h2v1h-2zM160 175h3v1h-3zM164 175h2v1h-2zM190 175h2v1h-2zM26 176h3v1h-3zM35 176h3v1h-3zM42 176h3v1h-3zM46 176h4v1h-4zM53 176h2v1h-2zM61 176h3v1h-3zM66 176h3v1h-3zM70 176h26v1h-26zM97 176h4v1h-4zM102 176h33v1h-33zM137 176h4v1h-4zM145 176h2v1h-2zM150 176h2v1h-2zM156 176h2v1h-2zM26 177h3v1h-3zM30 177h2v1h-2zM35 177h5v1h-5zM41 177h10v1h-10zM53 177h2v1h-2zM57 177h2v1h-2zM61 177h3v1h-3zM66 177h2v1h-2zM70 177h27v1h-27zM98 177h19v1h-19zM118 177h17v1h-17zM136 177h2v1h-2zM139 177h2v1h-2zM146 177h2v1h-2zM150 177h2v1h-2zM26 178h3v1h-3zM30 178h4v1h-4zM37 178h3v1h-3zM41 178h3v1h-3zM45 178h6v1h-6zM57 178h2v1h-2zM60 178h4v1h-4zM66 178h8v1h-8zM75 178h51v1h-51zM129 178h6v1h-6zM136 178h4v1h-4zM146 178h2v1h-2zM19 179h2v1h-2zM27 179h4v1h-4zM32 179h4v1h-4zM38 179h2v1h-2zM42 179h7v1h-7zM50 179h5v1h-5zM56 179h2v1h-2zM60 179h13v1h-13zM75 179h2v1h-2zM78 179h44v1h-44zM124 179h2v1h-2zM127 179h8v1h-8zM136 179h4v1h-4zM142 179h2v1h-2zM145 179h3v1h-3zM19 180h2v1h-2zM26 180h10v1h-10zM38 180h4v1h-4zM43 180h2v1h-2zM48 180h7v1h-7zM56 180h19v1h-19zM76 180h42v1h-42zM119 180h4v1h-4zM124 180h2v1h-2zM127 180h10v1h-10zM142 180h2v1h-2zM145 180h2v1h-2zM19 181h5v1h-5zM25 181h8v1h-8zM34 181h17v1h-17zM52 181h5v1h-5zM58 181h56v1h-56zM116 181h7v1h-7zM125 181h15v1h-15zM19 182h94v1h-94zM116 182h3v1h-3zM120 182h4v1h-4zM125 182h7v1h-7zM136 182h4v1h-4zM19 183h2v1h-2zM23 183h3v1h-3zM27 183h68v1h-68zM96 183h17v1h-17zM120 183h4v1h-4zM126 183h2v1h-2zM130 183h2v1h-2zM136 183h2v1h-2zM19 184h15v1h-15zM35 184h36v1h-36zM72 184h9v1h-9zM82 184h22v1h-22zM105 184h8v1h-8zM120 184h2v1h-2zM129 184h2v1h-2zM20 185h61v1h-61zM82 185h22v1h-22zM105 185h7v1h-7zM116 185h2v1h-2zM129 185h2v1h-2zM19 186h7v1h-7zM27 186h19v1h-19zM48 186h54v1h-54zM103 186h5v1h-5zM116 186h2v1h-2zM19 187h27v1h-27zM48 187h25v1h-25zM75 187h3v1h-3zM79 187h6v1h-6zM86 187h2v1h-2zM89 187h10v1h-10zM100 187h2v1h-2zM103 187h7v1h-7zM112 187h2v1h-2zM20 188h34v1h-34zM55 188h17v1h-17zM73 188h2v1h-2zM76 188h3v1h-3zM80 188h5v1h-5zM86 188h11v1h-11zM98 188h2v1h-2zM108 188h2v1h-2zM112 188h2v1h-2zM24 189h3v1h-3zM28 189h44v1h-44zM73 189h6v1h-6zM80 189h4v1h-4zM85 189h5v1h-5zM91 189h2v1h-2zM94 189h2v1h-2zM98 189h2v1h-2zM24 190h14v1h-14zM39 190h5v1h-5zM46 190h6v1h-6zM53 190h21v1h-21zM75 190h3v1h-3zM82 190h8v1h-8zM94 190h2v1h-2zM24 191h9v1h-9zM34 191h4v1h-4zM40 191h5v1h-5zM46 191h5v1h-5zM52 191h9v1h-9zM63 191h3v1h-3zM68 191h2v1h-2zM72 191h2v1h-2zM83 191h2v1h-2zM86 191h4v1h-4zM25 192h2v1h-2zM29 192h2v1h-2zM32 192h2v1h-2zM35 192h3v1h-3zM39 192h2v1h-2zM42 192h3v1h-3zM46 192h2v1h-2zM49 192h2v1h-2zM52 192h2v1h-2zM55 192h4v1h-4zM63 192h2v1h-2zM66 192h4v1h-4zM71 192h2v1h-2zM75 192h2v1h-2zM25 193h2v1h-2zM29 193h2v1h-2zM32 193h2v1h-2zM35 193h3v1h-3zM39 193h2v1h-2zM62 193h6v1h-6zM71 193h2v1h-2zM75 193h2v1h-2zM36 194h3v1h-3zM43 194h2v1h-2zM62 194h4v1h-4zM77 194h2v1h-2zM36 195h3v1h-3zM43 195h2v1h-2zM46 195h2v1h-2zM77 195h2v1h-2zM46 196h2v1h-2zM42 200h2v1h-2zM42 201h2v1h-2zM147 208h2v1h-2zM147 209h2v1h-2z"/>
<path transform="translate(448 410) scale(0.5)" fill="#0a0a0a" d="M127 112h2v1h-2zM127 113h2v1h-2zM194 114h2v1h-2zM194 115h2v1h-2zM106 119h2v1h-2zM186 119h2v1h-2zM106 120h2v1h-2zM186 120h2v1h-2zM174 122h2v1h-2zM174 123h2v1h-2zM158 124h2v1h-2zM162 124h2v1h-2zM185 124h2v1h-2zM133 125h2v1h-2zM156 125h4v1h-4zM162 125h2v1h-2zM185 125h2v1h-2zM133 126h2v1h-2zM142 126h2v1h-2zM149 126h2v1h-2zM156 126h2v1h-2zM178 126h2v1h-2zM113 127h2v1h-2zM142 127h2v1h-2zM145 127h2v1h-2zM149 127h2v1h-2zM153 127h2v1h-2zM157 127h2v1h-2zM178 127h2v1h-2zM113 128h2v1h-2zM145 128h2v1h-2zM153 128h2v1h-2zM157 128h2v1h-2zM178 128h2v1h-2zM133 129h3v1h-3zM178 129h2v1h-2zM196 129h2v1h-2zM133 130h3v1h-3zM172 130h2v1h-2zM194 130h4v1h-4zM103 131h2v1h-2zM132 131h2v1h-2zM140 131h2v1h-2zM159 131h2v1h-2zM172 131h2v1h-2zM188 131h2v1h-2zM194 131h4v1h-4zM103 132h2v1h-2zM106 132h2v1h-2zM123 132h3v1h-3zM132 132h2v1h-2zM140 132h2v1h-2zM157 132h5v1h-5zM188 132h2v1h-2zM196 132h2v1h-2zM79 133h2v1h-2zM102 133h2v1h-2zM106 133h2v1h-2zM123 133h3v1h-3zM128 133h2v1h-2zM142 133h2v1h-2zM149 133h2v1h-2zM157 133h2v1h-2zM160 133h2v1h-2zM167 133h2v1h-2zM174 133h2v1h-2zM183 133h2v1h-2zM190 133h2v1h-2zM193 133h2v1h-2zM197 133h2v1h-2zM79 134h2v1h-2zM102 134h2v1h-2zM128 134h2v1h-2zM138 134h9v1h-9zM149 134h2v1h-2zM153 134h3v1h-3zM157 134h3v1h-3zM163 134h2v1h-2zM166 134h3v1h-3zM174 134h3v1h-3zM183 134h2v1h-2zM189 134h6v1h-6zM196 134h4v1h-4zM99 135h2v1h-2zM128 135h2v1h-2zM138 135h4v1h-4zM143 135h4v1h-4zM148 135h2v1h-2zM153 135h7v1h-7zM163 135h7v1h-7zM175 135h2v1h-2zM182 135h3v1h-3zM188 135h12v1h-12zM99 136h2v1h-2zM107 136h2v1h-2zM111 136h4v1h-4zM116 136h2v1h-2zM128 136h2v1h-2zM147 136h3v1h-3zM154 136h5v1h-5zM160 136h3v1h-3zM165 136h2v1h-2zM168 136h6v1h-6zM182 136h2v1h-2zM188 136h2v1h-2zM191 136h5v1h-5zM197 136h3v1h-3zM81 137h2v1h-2zM98 137h2v1h-2zM107 137h2v1h-2zM111 137h4v1h-4zM116 137h2v1h-2zM124 137h2v1h-2zM127 137h2v1h-2zM135 137h2v1h-2zM142 137h3v1h-3zM147 137h2v1h-2zM151 137h3v1h-3zM157 137h6v1h-6zM165 137h2v1h-2zM168 137h6v1h-6zM176 137h2v1h-2zM184 137h16v1h-16zM81 138h2v1h-2zM98 138h2v1h-2zM106 138h2v1h-2zM123 138h3v1h-3zM127 138h5v1h-5zM134 138h5v1h-5zM141 138h15v1h-15zM158 138h5v1h-5zM167 138h8v1h-8zM176 138h2v1h-2zM180 138h2v1h-2zM184 138h16v1h-16zM104 139h4v1h-4zM110 139h4v1h-4zM115 139h2v1h-2zM119 139h2v1h-2zM123 139h4v1h-4zM129 139h4v1h-4zM134 139h5v1h-5zM141 139h24v1h-24zM167 139h5v1h-5zM173 139h2v1h-2zM180 139h5v1h-5zM186 139h14v1h-14zM64 140h2v1h-2zM104 140h2v1h-2zM110 140h4v1h-4zM115 140h2v1h-2zM119 140h4v1h-4zM124 140h3v1h-3zM131 140h2v1h-2zM135 140h2v1h-2zM141 140h26v1h-26zM168 140h3v1h-3zM173 140h4v1h-4zM180 140h5v1h-5zM186 140h13v1h-13zM64 141h2v1h-2zM86 141h2v1h-2zM109 141h4v1h-4zM114 141h12v1h-12zM127 141h5v1h-5zM134 141h3v1h-3zM141 141h17v1h-17zM159 141h9v1h-9zM169 141h8v1h-8zM180 141h14v1h-14zM195 141h4v1h-4zM75 142h2v1h-2zM86 142h2v1h-2zM97 142h2v1h-2zM104 142h4v1h-4zM109 142h4v1h-4zM114 142h23v1h-23zM138 142h2v1h-2zM142 142h37v1h-37zM180 142h19v1h-19zM75 143h2v1h-2zM87 143h2v1h-2zM91 143h2v1h-2zM97 143h2v1h-2zM104 143h4v1h-4zM110 143h5v1h-5zM116 143h63v1h-63zM182 143h16v1h-16zM86 144h3v1h-3zM91 144h3v1h-3zM98 144h3v1h-3zM102 144h6v1h-6zM109 144h6v1h-6zM117 144h15v1h-15zM133 144h65v1h-65zM86 145h2v1h-2zM92 145h9v1h-9zM102 145h6v1h-6zM109 145h87v1h-87zM198 145h2v1h-2zM92 146h15v1h-15zM109 146h2v1h-2zM113 146h83v1h-83zM198 146h2v1h-2zM74 147h2v1h-2zM78 147h2v1h-2zM83 147h4v1h-4zM92 147h5v1h-5zM98 147h8v1h-8zM107 147h90v1h-90zM74 148h2v1h-2zM78 148h2v1h-2zM83 148h4v1h-4zM91 148h35v1h-35zM127 148h70v1h-70zM198 148h2v1h-2zM47 149h2v1h-2zM77 149h5v1h-5zM88 149h5v1h-5zM94 149h6v1h-6zM102 149h93v1h-93zM198 149h2v1h-2zM47 150h2v1h-2zM60 150h2v1h-2zM69 150h3v1h-3zM76 150h11v1h-11zM88 150h4v1h-4zM93 150h2v1h-2zM97 150h96v1h-96zM55 151h2v1h-2zM60 151h2v1h-2zM63 151h2v1h-2zM67 151h5v1h-5zM73 151h7v1h-7zM81 151h11v1h-11zM93 151h3v1h-3zM97 151h96v1h-96zM55 152h2v1h-2zM59 152h3v1h-3zM63 152h3v1h-3zM67 152h3v1h-3zM73 152h12v1h-12zM87 152h106v1h-106zM59 153h2v1h-2zM64 153h2v1h-2zM67 153h2v1h-2zM70 153h115v1h-115zM188 153h3v1h-3zM50 154h2v1h-2zM53 154h3v1h-3zM57 154h2v1h-2zM60 154h2v1h-2zM63 154h3v1h-3zM67 154h2v1h-2zM70 154h121v1h-121zM43 155h2v1h-2zM50 155h6v1h-6zM57 155h2v1h-2zM60 155h2v1h-2zM63 155h4v1h-4zM68 155h2v1h-2zM72 155h119v1h-119zM43 156h2v1h-2zM51 156h3v1h-3zM58 156h5v1h-5zM64 156h3v1h-3zM68 156h2v1h-2zM71 156h114v1h-114zM186 156h3v1h-3zM40 157h2v1h-2zM50 157h7v1h-7zM58 157h126v1h-126zM186 157h2v1h-2zM40 158h5v1h-5zM46 158h2v1h-2zM50 158h9v1h-9zM60 158h124v1h-124zM186 158h2v1h-2zM39 159h6v1h-6zM46 159h7v1h-7zM55 159h129v1h-129zM186 159h2v1h-2zM33 160h3v1h-3zM37 160h4v1h-4zM43 160h2v1h-2zM47 160h137v1h-137zM186 160h2v1h-2zM31 161h5v1h-5zM37 161h4v1h-4zM43 161h143v1h-143zM27 162h2v1h-2zM30 162h11v1h-11zM42 162h141v1h-141zM184 162h2v1h-2zM27 163h2v1h-2zM30 163h3v1h-3zM34 163h140v1h-140zM175 163h8v1h-8zM28 164h150v1h-150zM179 164h5v1h-5zM21 165h2v1h-2zM26 165h152v1h-152zM179 165h5v1h-5zM21 166h160v1h-160zM23 167h150v1h-150zM174 167h5v1h-5zM22 168h146v1h-146zM169 168h4v1h-4zM176 168h2v1h-2zM21 169h137v1h-137zM159 169h9v1h-9zM176 169h2v1h-2zM21 170h137v1h-137zM159 170h10v1h-10zM177 170h2v1h-2zM182 170h2v1h-2zM21 171h151v1h-151zM177 171h2v1h-2zM182 171h2v1h-2zM20 172h142v1h-142zM165 172h2v1h-2zM169 172h3v1h-3zM19 173h138v1h-138zM158 173h8v1h-8zM18 174h150v1h-150zM17 175h136v1h-136zM154 175h4v1h-4zM159 175h3v1h-3zM166 175h2v1h-2zM15 176h131v1h-131zM147 176h8v1h-8zM158 176h4v1h-4zM166 176h2v1h-2zM171 176h2v1h-2zM14 177h119v1h-119zM134 177h12v1h-12zM147 177h3v1h-3zM151 177h6v1h-6zM158 177h4v1h-4zM171 177h2v1h-2zM13 178h106v1h-106zM120 178h11v1h-11zM133 178h3v1h-3zM137 178h3v1h-3zM141 178h4v1h-4zM147 178h2v1h-2zM153 178h9v1h-9zM163 178h2v1h-2zM13 179h84v1h-84zM98 179h38v1h-38zM137 179h6v1h-6zM155 179h7v1h-7zM163 179h2v1h-2zM180 179h2v1h-2zM13 180h122v1h-122zM137 180h6v1h-6zM180 180h2v1h-2zM13 181h2v1h-2zM16 181h93v1h-93zM110 181h12v1h-12zM123 181h5v1h-5zM129 181h6v1h-6zM136 181h3v1h-3zM140 181h9v1h-9zM150 181h2v1h-2zM155 181h2v1h-2zM18 182h44v1h-44zM63 182h25v1h-25zM89 182h10v1h-10zM100 182h9v1h-9zM110 182h7v1h-7zM120 182h8v1h-8zM129 182h2v1h-2zM132 182h3v1h-3zM136 182h6v1h-6zM143 182h6v1h-6zM150 182h3v1h-3zM155 182h2v1h-2zM20 183h8v1h-8zM29 183h27v1h-27zM57 183h17v1h-17zM75 183h13v1h-13zM90 183h9v1h-9zM101 183h14v1h-14zM116 183h3v1h-3zM121 183h7v1h-7zM136 183h4v1h-4zM151 183h2v1h-2zM20 184h7v1h-7zM31 184h9v1h-9zM42 184h14v1h-14zM57 184h2v1h-2zM60 184h7v1h-7zM68 184h7v1h-7zM76 184h7v1h-7zM84 184h4v1h-4zM90 184h17v1h-17zM108 184h6v1h-6zM115 184h4v1h-4zM123 184h4v1h-4zM129 184h2v1h-2zM136 184h2v1h-2zM22 185h6v1h-6zM30 185h6v1h-6zM38 185h2v1h-2zM42 185h3v1h-3zM47 185h3v1h-3zM51 185h7v1h-7zM61 185h14v1h-14zM76 185h7v1h-7zM84 185h4v1h-4zM90 185h14v1h-14zM106 185h2v1h-2zM110 185h4v1h-4zM115 185h2v1h-2zM123 185h2v1h-2zM129 185h2v1h-2zM26 186h6v1h-6zM36 186h2v1h-2zM39 186h2v1h-2zM42 186h2v1h-2zM47 186h2v1h-2zM51 186h7v1h-7zM60 186h16v1h-16zM77 186h11v1h-11zM89 186h3v1h-3zM95 186h3v1h-3zM102 186h3v1h-3zM106 186h5v1h-5zM112 186h2v1h-2zM116 186h4v1h-4zM124 186h2v1h-2zM140 186h2v1h-2zM28 187h4v1h-4zM34 187h4v1h-4zM39 187h17v1h-17zM59 187h5v1h-5zM66 187h6v1h-6zM74 187h2v1h-2zM77 187h10v1h-10zM88 187h4v1h-4zM95 187h5v1h-5zM102 187h12v1h-12zM116 187h4v1h-4zM124 187h2v1h-2zM130 187h2v1h-2zM140 187h2v1h-2zM143 187h2v1h-2zM151 187h2v1h-2zM30 188h2v1h-2zM34 188h5v1h-5zM41 188h14v1h-14zM58 188h4v1h-4zM66 188h2v1h-2zM69 188h2v1h-2zM82 188h2v1h-2zM85 188h2v1h-2zM88 188h4v1h-4zM93 188h2v1h-2zM97 188h3v1h-3zM102 188h6v1h-6zM110 188h4v1h-4zM116 188h2v1h-2zM124 188h2v1h-2zM130 188h3v1h-3zM137 188h2v1h-2zM143 188h2v1h-2zM151 188h2v1h-2zM29 189h2v1h-2zM35 189h4v1h-4zM42 189h2v1h-2zM46 189h2v1h-2zM50 189h5v1h-5zM58 189h2v1h-2zM63 189h2v1h-2zM66 189h2v1h-2zM69 189h2v1h-2zM81 189h4v1h-4zM90 189h2v1h-2zM93 189h2v1h-2zM97 189h2v1h-2zM101 189h3v1h-3zM105 189h3v1h-3zM112 189h6v1h-6zM123 189h3v1h-3zM131 189h2v1h-2zM137 189h2v1h-2zM29 190h2v1h-2zM40 190h2v1h-2zM52 190h2v1h-2zM60 190h2v1h-2zM63 190h2v1h-2zM75 190h2v1h-2zM78 190h2v1h-2zM81 190h4v1h-4zM88 190h2v1h-2zM101 190h2v1h-2zM112 190h4v1h-4zM123 190h2v1h-2zM149 190h2v1h-2zM163 190h2v1h-2zM38 191h4v1h-4zM60 191h2v1h-2zM68 191h2v1h-2zM75 191h2v1h-2zM78 191h2v1h-2zM88 191h2v1h-2zM115 191h2v1h-2zM149 191h2v1h-2zM163 191h2v1h-2zM38 192h2v1h-2zM43 192h2v1h-2zM68 192h3v1h-3zM73 192h3v1h-3zM83 192h2v1h-2zM115 192h2v1h-2zM150 192h2v1h-2zM43 193h2v1h-2zM69 193h2v1h-2zM73 193h3v1h-3zM83 193h2v1h-2zM96 193h2v1h-2zM107 193h2v1h-2zM115 193h2v1h-2zM127 193h2v1h-2zM150 193h2v1h-2zM90 194h2v1h-2zM96 194h2v1h-2zM105 194h4v1h-4zM116 194h2v1h-2zM127 194h2v1h-2zM67 195h2v1h-2zM90 195h2v1h-2zM105 195h2v1h-2zM110 195h4v1h-4zM116 195h2v1h-2zM67 196h2v1h-2zM79 196h2v1h-2zM110 196h4v1h-4zM122 196h2v1h-2zM79 197h2v1h-2zM105 197h2v1h-2zM111 197h2v1h-2zM122 197h2v1h-2zM81 198h2v1h-2zM105 198h2v1h-2zM81 199h2v1h-2zM86 199h2v1h-2zM93 199h2v1h-2zM133 199h2v1h-2zM86 200h2v1h-2zM93 200h2v1h-2zM113 200h2v1h-2zM122 200h2v1h-2zM133 200h2v1h-2zM25 201h2v1h-2zM45 201h2v1h-2zM113 201h2v1h-2zM116 201h2v1h-2zM122 201h2v1h-2zM25 202h2v1h-2zM45 202h2v1h-2zM65 202h2v1h-2zM84 202h2v1h-2zM116 202h2v1h-2zM152 202h2v1h-2zM65 203h2v1h-2zM84 203h2v1h-2zM152 203h2v1h-2zM90 205h2v1h-2zM103 205h2v1h-2zM90 206h2v1h-2zM103 206h2v1h-2zM96 208h2v1h-2zM96 209h2v1h-2zM64 210h2v1h-2zM64 211h2v1h-2z"/>
<path transform="translate(448 410) scale(0.5)" fill="#e8191f" d="M193 56h2v1h-2zM193 57h2v1h-2zM204 59h2v1h-2zM204 60h2v1h-2zM191 64h2v1h-2zM191 65h2v1h-2zM204 69h2v1h-2zM198 70h2v1h-2zM202 70h4v1h-4zM198 71h2v1h-2zM202 71h2v1h-2zM200 72h3v1h-3zM204 72h3v1h-3zM200 73h7v1h-7zM193 74h2v1h-2zM200 74h6v1h-6zM193 75h2v1h-2zM200 75h4v1h-4zM193 76h2v1h-2zM202 76h3v1h-3zM193 77h2v1h-2zM196 77h2v1h-2zM200 77h6v1h-6zM188 78h2v1h-2zM196 78h10v1h-10zM182 79h2v1h-2zM188 79h2v1h-2zM198 79h8v1h-8zM182 80h2v1h-2zM187 80h2v1h-2zM192 80h2v1h-2zM199 80h7v1h-7zM187 81h2v1h-2zM192 81h2v1h-2zM197 81h2v1h-2zM200 81h6v1h-6zM196 82h9v1h-9zM188 83h5v1h-5zM196 83h2v1h-2zM199 83h7v1h-7zM185 84h2v1h-2zM188 84h8v1h-8zM197 84h9v1h-9zM185 85h2v1h-2zM188 85h8v1h-8zM197 85h8v1h-8zM184 86h2v1h-2zM188 86h2v1h-2zM191 86h13v1h-13zM205 86h2v1h-2zM184 87h2v1h-2zM191 87h16v1h-16zM194 88h3v1h-3zM198 88h8v1h-8zM171 89h2v1h-2zM189 89h2v1h-2zM194 89h2v1h-2zM198 89h8v1h-8zM171 90h2v1h-2zM188 90h3v1h-3zM194 90h2v1h-2zM198 90h8v1h-8zM177 91h2v1h-2zM188 91h3v1h-3zM192 91h11v1h-11zM204 91h2v1h-2zM170 92h2v1h-2zM177 92h2v1h-2zM185 92h2v1h-2zM189 92h2v1h-2zM192 92h15v1h-15zM170 93h2v1h-2zM185 93h6v1h-6zM194 93h10v1h-10zM205 93h2v1h-2zM170 94h2v1h-2zM177 94h2v1h-2zM184 94h2v1h-2zM187 94h7v1h-7zM195 94h4v1h-4zM200 94h4v1h-4zM170 95h2v1h-2zM177 95h2v1h-2zM184 95h2v1h-2zM188 95h14v1h-14zM203 95h2v1h-2zM189 96h16v1h-16zM190 97h15v1h-15zM183 98h2v1h-2zM190 98h17v1h-17zM165 99h2v1h-2zM183 99h12v1h-12zM196 99h7v1h-7zM204 99h3v1h-3zM165 100h2v1h-2zM180 100h26v1h-26zM177 101h2v1h-2zM180 101h3v1h-3zM184 101h3v1h-3zM188 101h16v1h-16zM169 102h2v1h-2zM177 102h2v1h-2zM180 102h2v1h-2zM185 102h19v1h-19zM169 103h2v1h-2zM177 103h2v1h-2zM180 103h2v1h-2zM184 103h20v1h-20zM180 104h8v1h-8zM189 104h15v1h-15zM154 105h2v1h-2zM180 105h5v1h-5zM186 105h15v1h-15zM154 106h2v1h-2zM157 106h2v1h-2zM181 106h21v1h-21zM143 107h2v1h-2zM148 107h2v1h-2zM157 107h2v1h-2zM161 107h2v1h-2zM176 107h4v1h-4zM181 107h21v1h-21zM143 108h2v1h-2zM148 108h2v1h-2zM161 108h2v1h-2zM172 108h13v1h-13zM186 108h16v1h-16zM172 109h12v1h-12zM185 109h17v1h-17zM143 110h2v1h-2zM159 110h2v1h-2zM173 110h28v1h-28zM143 111h2v1h-2zM159 111h4v1h-4zM171 111h2v1h-2zM175 111h27v1h-27zM145 112h4v1h-4zM161 112h2v1h-2zM171 112h2v1h-2zM174 112h28v1h-28zM145 113h4v1h-4zM168 113h2v1h-2zM173 113h6v1h-6zM180 113h20v1h-20zM168 114h2v1h-2zM173 114h27v1h-27zM173 115h27v1h-27zM157 116h2v1h-2zM168 116h2v1h-2zM173 116h3v1h-3zM177 116h23v1h-23zM143 117h2v1h-2zM157 117h2v1h-2zM162 117h2v1h-2zM165 117h35v1h-35zM201 117h2v1h-2zM143 118h2v1h-2zM162 118h2v1h-2zM165 118h38v1h-38zM157 119h2v1h-2zM166 119h36v1h-36zM157 120h2v1h-2zM161 120h2v1h-2zM164 120h38v1h-38zM160 121h3v1h-3zM164 121h29v1h-29zM195 121h5v1h-5zM153 122h2v1h-2zM158 122h4v1h-4zM164 122h31v1h-31zM196 122h4v1h-4zM153 123h2v1h-2zM158 123h40v1h-40zM154 124h2v1h-2zM159 124h33v1h-33zM193 124h3v1h-3zM154 125h2v1h-2zM159 125h15v1h-15zM176 125h9v1h-9zM186 125h8v1h-8zM196 125h2v1h-2zM154 126h2v1h-2zM159 126h2v1h-2zM164 126h6v1h-6zM173 126h2v1h-2zM176 126h22v1h-22zM154 127h2v1h-2zM164 127h3v1h-3zM170 127h12v1h-12zM183 127h8v1h-8zM194 127h6v1h-6zM153 128h2v1h-2zM156 128h2v1h-2zM161 128h2v1h-2zM164 128h27v1h-27zM193 128h2v1h-2zM196 128h4v1h-4zM152 129h3v1h-3zM156 129h3v1h-3zM160 129h3v1h-3zM164 129h10v1h-10zM175 129h16v1h-16zM192 129h3v1h-3zM196 129h3v1h-3zM152 130h2v1h-2zM157 130h14v1h-14zM174 130h12v1h-12zM187 130h3v1h-3zM191 130h4v1h-4zM196 130h3v1h-3zM155 131h2v1h-2zM158 131h13v1h-13zM173 131h7v1h-7zM182 131h13v1h-13zM197 131h2v1h-2zM154 132h8v1h-8zM164 132h8v1h-8zM173 132h4v1h-4zM178 132h2v1h-2zM183 132h5v1h-5zM189 132h2v1h-2zM192 132h2v1h-2zM154 133h2v1h-2zM157 133h2v1h-2zM160 133h2v1h-2zM163 133h9v1h-9zM176 133h7v1h-7zM192 133h2v1h-2zM154 134h2v1h-2zM157 134h2v1h-2zM160 134h2v1h-2zM163 134h4v1h-4zM168 134h5v1h-5zM176 134h7v1h-7zM184 134h2v1h-2zM194 134h2v1h-2zM157 135h2v1h-2zM165 135h2v1h-2zM171 135h8v1h-8zM181 135h8v1h-8zM192 135h4v1h-4zM197 135h2v1h-2zM154 136h3v1h-3zM171 136h5v1h-5zM177 136h2v1h-2zM182 136h7v1h-7zM192 136h2v1h-2zM197 136h2v1h-2zM154 137h3v1h-3zM171 137h2v1h-2zM174 137h2v1h-2zM182 137h3v1h-3zM186 137h2v1h-2zM196 137h2v1h-2zM171 138h2v1h-2zM183 138h2v1h-2zM186 138h2v1h-2zM192 138h2v1h-2zM196 138h2v1h-2zM163 139h2v1h-2zM172 139h2v1h-2zM176 139h2v1h-2zM187 139h2v1h-2zM192 139h2v1h-2zM163 140h2v1h-2zM172 140h2v1h-2zM176 140h2v1h-2zM187 140h2v1h-2zM182 141h2v1h-2zM176 142h3v1h-3zM182 142h2v1h-2zM164 143h2v1h-2zM176 143h3v1h-3zM164 144h2v1h-2zM188 144h2v1h-2zM172 145h3v1h-3zM188 145h2v1h-2zM172 146h3v1h-3z"/>
<path transform="translate(448 410) scale(0.5)" fill="#0a0a0a" d="M199 95h2v1h-2zM199 96h2v1h-2zM201 99h2v1h-2zM182 100h2v1h-2zM201 100h2v1h-2zM182 101h2v1h-2zM199 102h2v1h-2zM198 103h7v1h-7zM198 104h7v1h-7zM194 107h2v1h-2zM203 107h2v1h-2zM194 108h3v1h-3zM203 108h2v1h-2zM195 109h2v1h-2zM191 110h2v1h-2zM195 110h2v1h-2zM185 111h2v1h-2zM191 111h2v1h-2zM194 111h2v1h-2zM197 111h4v1h-4zM185 112h2v1h-2zM190 112h2v1h-2zM194 112h2v1h-2zM197 112h4v1h-4zM190 113h2v1h-2zM196 113h2v1h-2zM184 114h2v1h-2zM191 114h2v1h-2zM194 114h4v1h-4zM199 114h2v1h-2zM184 115h2v1h-2zM191 115h2v1h-2zM194 115h7v1h-7zM183 116h2v1h-2zM187 116h2v1h-2zM190 116h2v1h-2zM197 116h2v1h-2zM182 117h3v1h-3zM187 117h2v1h-2zM190 117h3v1h-3zM197 117h3v1h-3zM171 118h2v1h-2zM182 118h2v1h-2zM187 118h2v1h-2zM191 118h3v1h-3zM198 118h2v1h-2zM171 119h2v1h-2zM179 119h2v1h-2zM184 119h2v1h-2zM187 119h2v1h-2zM192 119h3v1h-3zM196 119h6v1h-6zM179 120h2v1h-2zM184 120h2v1h-2zM193 120h9v1h-9zM172 121h2v1h-2zM186 121h2v1h-2zM190 121h7v1h-7zM170 122h4v1h-4zM178 122h2v1h-2zM186 122h2v1h-2zM190 122h3v1h-3zM163 123h2v1h-2zM169 123h5v1h-5zM178 123h4v1h-4zM183 123h2v1h-2zM188 123h2v1h-2zM196 123h3v1h-3zM163 124h2v1h-2zM166 124h2v1h-2zM169 124h3v1h-3zM180 124h5v1h-5zM188 124h2v1h-2zM191 124h2v1h-2zM196 124h3v1h-3zM165 125h7v1h-7zM181 125h2v1h-2zM186 125h2v1h-2zM191 125h2v1h-2zM165 126h8v1h-8zM175 126h3v1h-3zM180 126h2v1h-2zM184 126h6v1h-6zM194 126h4v1h-4zM167 127h11v1h-11zM179 127h3v1h-3zM184 127h2v1h-2zM188 127h3v1h-3zM193 127h5v1h-5zM167 128h4v1h-4zM172 128h6v1h-6zM179 128h7v1h-7zM189 128h2v1h-2zM193 128h3v1h-3zM163 129h2v1h-2zM166 129h2v1h-2zM173 129h2v1h-2zM176 129h2v1h-2zM179 129h7v1h-7zM194 129h2v1h-2zM163 130h2v1h-2zM166 130h2v1h-2zM170 130h5v1h-5zM176 130h2v1h-2zM166 131h2v1h-2zM170 131h3v1h-3zM177 131h4v1h-4zM185 131h2v1h-2zM166 132h2v1h-2zM171 132h4v1h-4zM177 132h6v1h-6zM185 132h3v1h-3zM198 132h2v1h-2zM172 133h3v1h-3zM177 133h6v1h-6zM186 133h2v1h-2zM198 133h2v1h-2zM166 134h2v1h-2zM172 134h2v1h-2zM178 134h3v1h-3zM186 134h2v1h-2zM190 134h3v1h-3zM166 135h2v1h-2zM170 135h2v1h-2zM175 135h2v1h-2zM178 135h2v1h-2zM182 135h4v1h-4zM190 135h3v1h-3zM170 136h2v1h-2zM175 136h2v1h-2zM182 136h4v1h-4zM190 136h2v1h-2zM170 137h4v1h-4zM172 138h2v1h-2zM165 140h2v1h-2zM179 140h2v1h-2zM165 141h2v1h-2zM179 141h2v1h-2zM164 142h2v1h-2zM164 143h2v1h-2zM177 144h2v1h-2zM177 145h2v1h-2z"/>
<path transform="translate(448 410) scale(0.5)" fill="#35bdbb" d="M143 139h2v1h-2zM143 140h2v1h-2zM125 143h2v1h-2zM125 144h2v1h-2zM74 147h2v1h-2zM74 148h2v1h-2zM162 148h2v1h-2zM133 149h2v1h-2zM162 149h2v1h-2zM112 150h2v1h-2zM133 150h2v1h-2zM162 150h2v1h-2zM112 151h2v1h-2zM119 151h2v1h-2zM162 151h2v1h-2zM119 152h2v1h-2zM152 153h2v1h-2zM136 154h3v1h-3zM152 154h2v1h-2zM156 154h2v1h-2zM136 155h3v1h-3zM156 155h2v1h-2zM88 156h2v1h-2zM103 156h2v1h-2zM107 156h2v1h-2zM129 156h2v1h-2zM144 156h2v1h-2zM88 157h2v1h-2zM103 157h2v1h-2zM107 157h2v1h-2zM123 157h2v1h-2zM129 157h5v1h-5zM144 157h2v1h-2zM49 158h2v1h-2zM123 158h2v1h-2zM130 158h4v1h-4zM49 159h2v1h-2zM77 159h2v1h-2zM121 159h2v1h-2zM149 159h2v1h-2zM53 160h2v1h-2zM77 160h2v1h-2zM110 160h2v1h-2zM121 160h2v1h-2zM138 160h2v1h-2zM149 160h2v1h-2zM53 161h2v1h-2zM110 161h2v1h-2zM138 161h2v1h-2zM150 161h2v1h-2zM90 162h2v1h-2zM94 162h2v1h-2zM137 162h2v1h-2zM150 162h2v1h-2zM81 163h2v1h-2zM90 163h2v1h-2zM94 163h2v1h-2zM137 163h2v1h-2zM144 163h2v1h-2zM151 163h2v1h-2zM45 164h2v1h-2zM52 164h2v1h-2zM81 164h2v1h-2zM86 164h2v1h-2zM96 164h2v1h-2zM114 164h2v1h-2zM144 164h2v1h-2zM151 164h2v1h-2zM45 165h2v1h-2zM52 165h2v1h-2zM86 165h2v1h-2zM96 165h2v1h-2zM114 165h2v1h-2zM132 165h2v1h-2zM43 166h2v1h-2zM66 166h2v1h-2zM77 166h2v1h-2zM132 166h2v1h-2zM140 166h2v1h-2zM43 167h2v1h-2zM58 167h2v1h-2zM66 167h2v1h-2zM77 167h2v1h-2zM93 167h2v1h-2zM140 167h2v1h-2zM58 168h2v1h-2zM93 168h2v1h-2zM104 168h2v1h-2zM110 168h2v1h-2zM114 168h2v1h-2zM60 169h2v1h-2zM68 169h2v1h-2zM104 169h2v1h-2zM110 169h2v1h-2zM114 169h2v1h-2zM36 170h2v1h-2zM60 170h2v1h-2zM68 170h2v1h-2zM99 170h2v1h-2zM36 171h2v1h-2zM39 171h2v1h-2zM60 171h3v1h-3zM92 171h2v1h-2zM99 171h4v1h-4zM163 171h2v1h-2zM31 172h2v1h-2zM38 172h3v1h-3zM53 172h3v1h-3zM57 172h2v1h-2zM61 172h5v1h-5zM76 172h5v1h-5zM85 172h3v1h-3zM92 172h2v1h-2zM101 172h2v1h-2zM163 172h2v1h-2zM31 173h2v1h-2zM38 173h2v1h-2zM49 173h7v1h-7zM57 173h4v1h-4zM62 173h4v1h-4zM72 173h3v1h-3zM76 173h5v1h-5zM85 173h4v1h-4zM140 173h3v1h-3zM31 174h2v1h-2zM40 174h2v1h-2zM44 174h2v1h-2zM48 174h8v1h-8zM57 174h9v1h-9zM67 174h4v1h-4zM72 174h10v1h-10zM83 174h2v1h-2zM87 174h4v1h-4zM92 174h2v1h-2zM140 174h3v1h-3zM31 175h2v1h-2zM37 175h18v1h-18zM59 175h7v1h-7zM67 175h5v1h-5zM73 175h12v1h-12zM87 175h7v1h-7zM32 176h2v1h-2zM37 176h28v1h-28zM67 176h17v1h-17zM85 176h8v1h-8zM100 176h2v1h-2zM108 176h2v1h-2zM112 176h2v1h-2zM32 177h6v1h-6zM40 177h10v1h-10zM51 177h16v1h-16zM68 177h20v1h-20zM90 177h2v1h-2zM93 177h2v1h-2zM100 177h2v1h-2zM108 177h2v1h-2zM112 177h2v1h-2zM33 178h5v1h-5zM41 178h4v1h-4zM47 178h3v1h-3zM51 178h4v1h-4zM56 178h11v1h-11zM68 178h15v1h-15zM84 178h2v1h-2zM93 178h2v1h-2zM39 179h2v1h-2zM45 179h5v1h-5zM53 179h2v1h-2zM57 179h2v1h-2zM61 179h4v1h-4zM69 179h6v1h-6zM76 179h2v1h-2zM39 180h2v1h-2zM45 180h2v1h-2zM52 180h7v1h-7zM63 180h2v1h-2zM50 181h4v1h-4zM55 181h2v1h-2zM63 181h2v1h-2zM97 181h2v1h-2zM37 182h2v1h-2zM50 182h2v1h-2zM97 182h2v1h-2zM37 183h2v1h-2zM55 188h2v1h-2zM55 189h2v1h-2z"/>
<path transform="translate(448 410) scale(0.5)" fill="#35bdbb" d="M208 2h2v1h-2zM208 3h2v1h-2zM208 5h2v1h-2zM208 6h2v1h-2zM208 8h2v1h-2zM208 9h2v1h-2zM208 13h2v1h-2zM208 14h2v1h-2zM208 22h2v1h-2zM208 23h2v1h-2zM208 24h2v1h-2zM208 27h2v1h-2zM208 28h2v1h-2zM208 32h2v1h-2zM208 33h2v1h-2zM208 34h2v1h-2zM207 39h2v1h-2zM206 40h4v1h-4zM206 41h4v1h-4zM206 42h4v1h-4zM206 43h4v1h-4zM206 44h4v1h-4zM206 45h4v1h-4zM207 46h3v1h-3zM207 47h2v1h-2zM206 48h3v1h-3zM206 49h3v1h-3zM206 50h3v1h-3zM206 51h3v1h-3zM207 52h2v1h-2zM207 53h2v1h-2zM206 54h2v1h-2zM206 55h2v1h-2zM206 56h2v1h-2z"/>
<path transform="translate(448 540) scale(0.5)" fill="#0a0a0a" d="M196 89h2v1h-2zM196 90h2v1h-2zM168 92h2v1h-2zM168 93h2v1h-2zM56 94h2v1h-2zM56 95h2v1h-2zM125 100h2v1h-2zM125 101h2v1h-2zM91 102h2v1h-2zM91 103h2v1h-2zM81 105h2v1h-2zM81 106h2v1h-2zM97 106h2v1h-2zM118 106h2v1h-2zM97 107h2v1h-2zM118 107h2v1h-2zM143 107h2v1h-2zM143 108h2v1h-2zM162 109h2v1h-2zM85 110h3v1h-3zM104 110h2v1h-2zM162 110h2v1h-2zM85 111h3v1h-3zM104 111h2v1h-2zM109 111h2v1h-2zM182 111h2v1h-2zM109 112h2v1h-2zM130 112h2v1h-2zM182 112h2v1h-2zM106 113h2v1h-2zM130 113h2v1h-2zM167 113h2v1h-2zM106 114h2v1h-2zM114 114h2v1h-2zM143 114h2v1h-2zM167 114h2v1h-2zM81 115h2v1h-2zM109 115h2v1h-2zM114 115h2v1h-2zM138 115h2v1h-2zM143 115h2v1h-2zM64 116h2v1h-2zM81 116h2v1h-2zM96 116h2v1h-2zM109 116h2v1h-2zM112 116h2v1h-2zM122 116h2v1h-2zM127 116h4v1h-4zM136 116h4v1h-4zM64 117h2v1h-2zM67 117h2v1h-2zM77 117h2v1h-2zM96 117h2v1h-2zM101 117h2v1h-2zM112 117h2v1h-2zM122 117h2v1h-2zM127 117h4v1h-4zM136 117h3v1h-3zM166 117h2v1h-2zM67 118h4v1h-4zM75 118h4v1h-4zM96 118h2v1h-2zM101 118h2v1h-2zM117 118h2v1h-2zM130 118h2v1h-2zM137 118h2v1h-2zM166 118h2v1h-2zM69 119h2v1h-2zM72 119h2v1h-2zM75 119h2v1h-2zM96 119h3v1h-3zM117 119h2v1h-2zM130 119h2v1h-2zM178 119h2v1h-2zM72 120h2v1h-2zM97 120h2v1h-2zM111 120h2v1h-2zM127 120h2v1h-2zM145 120h2v1h-2zM161 120h2v1h-2zM178 120h2v1h-2zM192 120h2v1h-2zM77 121h2v1h-2zM111 121h2v1h-2zM127 121h2v1h-2zM145 121h2v1h-2zM149 121h2v1h-2zM159 121h4v1h-4zM191 121h3v1h-3zM77 122h2v1h-2zM108 122h2v1h-2zM149 122h2v1h-2zM159 122h2v1h-2zM178 122h2v1h-2zM191 122h3v1h-3zM64 123h2v1h-2zM71 123h2v1h-2zM85 123h2v1h-2zM103 123h2v1h-2zM108 123h3v1h-3zM115 123h2v1h-2zM121 123h2v1h-2zM136 123h2v1h-2zM160 123h2v1h-2zM178 123h2v1h-2zM187 123h2v1h-2zM197 123h2v1h-2zM64 124h2v1h-2zM71 124h2v1h-2zM85 124h2v1h-2zM94 124h2v1h-2zM103 124h2v1h-2zM109 124h2v1h-2zM115 124h2v1h-2zM121 124h3v1h-3zM134 124h4v1h-4zM151 124h2v1h-2zM160 124h4v1h-4zM187 124h2v1h-2zM197 124h2v1h-2zM83 125h4v1h-4zM94 125h2v1h-2zM98 125h2v1h-2zM112 125h2v1h-2zM122 125h2v1h-2zM134 125h2v1h-2zM137 125h4v1h-4zM142 125h2v1h-2zM151 125h2v1h-2zM159 125h2v1h-2zM162 125h2v1h-2zM206 125h2v1h-2zM73 126h2v1h-2zM83 126h4v1h-4zM91 126h2v1h-2zM98 126h2v1h-2zM112 126h2v1h-2zM136 126h5v1h-5zM142 126h2v1h-2zM152 126h2v1h-2zM159 126h5v1h-5zM176 126h2v1h-2zM185 126h2v1h-2zM206 126h2v1h-2zM57 127h2v1h-2zM73 127h2v1h-2zM91 127h2v1h-2zM119 127h2v1h-2zM122 127h5v1h-5zM136 127h4v1h-4zM141 127h4v1h-4zM152 127h4v1h-4zM160 127h2v1h-2zM176 127h2v1h-2zM182 127h2v1h-2zM185 127h2v1h-2zM199 127h2v1h-2zM57 128h2v1h-2zM68 128h2v1h-2zM98 128h6v1h-6zM116 128h2v1h-2zM119 128h2v1h-2zM122 128h5v1h-5zM128 128h2v1h-2zM136 128h2v1h-2zM141 128h4v1h-4zM154 128h2v1h-2zM159 128h2v1h-2zM164 128h4v1h-4zM171 128h3v1h-3zM182 128h2v1h-2zM186 128h3v1h-3zM199 128h2v1h-2zM53 129h2v1h-2zM64 129h2v1h-2zM68 129h2v1h-2zM72 129h2v1h-2zM98 129h6v1h-6zM113 129h6v1h-6zM120 129h2v1h-2zM124 129h3v1h-3zM128 129h2v1h-2zM134 129h2v1h-2zM143 129h2v1h-2zM147 129h2v1h-2zM150 129h2v1h-2zM155 129h6v1h-6zM163 129h5v1h-5zM171 129h3v1h-3zM186 129h4v1h-4zM191 129h2v1h-2zM48 130h2v1h-2zM53 130h2v1h-2zM56 130h2v1h-2zM64 130h2v1h-2zM72 130h2v1h-2zM75 130h4v1h-4zM82 130h2v1h-2zM93 130h2v1h-2zM99 130h2v1h-2zM105 130h4v1h-4zM110 130h2v1h-2zM113 130h6v1h-6zM120 130h8v1h-8zM131 130h2v1h-2zM134 130h2v1h-2zM137 130h2v1h-2zM140 130h3v1h-3zM147 130h2v1h-2zM150 130h2v1h-2zM155 130h4v1h-4zM163 130h2v1h-2zM169 130h7v1h-7zM186 130h4v1h-4zM191 130h2v1h-2zM48 131h2v1h-2zM56 131h2v1h-2zM63 131h2v1h-2zM75 131h5v1h-5zM82 131h2v1h-2zM88 131h2v1h-2zM93 131h2v1h-2zM96 131h5v1h-5zM102 131h10v1h-10zM114 131h2v1h-2zM122 131h17v1h-17zM140 131h5v1h-5zM147 131h2v1h-2zM151 131h2v1h-2zM155 131h4v1h-4zM163 131h2v1h-2zM169 131h2v1h-2zM174 131h2v1h-2zM182 131h2v1h-2zM199 131h2v1h-2zM41 132h2v1h-2zM59 132h2v1h-2zM63 132h2v1h-2zM67 132h2v1h-2zM70 132h3v1h-3zM77 132h5v1h-5zM83 132h3v1h-3zM88 132h4v1h-4zM95 132h5v1h-5zM101 132h4v1h-4zM109 132h7v1h-7zM123 132h4v1h-4zM128 132h6v1h-6zM136 132h3v1h-3zM143 132h2v1h-2zM147 132h10v1h-10zM162 132h3v1h-3zM166 132h7v1h-7zM174 132h6v1h-6zM182 132h4v1h-4zM199 132h2v1h-2zM207 132h2v1h-2zM41 133h2v1h-2zM44 133h2v1h-2zM59 133h2v1h-2zM67 133h2v1h-2zM70 133h3v1h-3zM77 133h2v1h-2zM80 133h2v1h-2zM83 133h3v1h-3zM90 133h3v1h-3zM95 133h3v1h-3zM99 133h7v1h-7zM108 133h2v1h-2zM111 133h8v1h-8zM120 133h2v1h-2zM123 133h8v1h-8zM135 133h2v1h-2zM139 133h2v1h-2zM142 133h2v1h-2zM148 133h7v1h-7zM158 133h2v1h-2zM161 133h4v1h-4zM166 133h9v1h-9zM176 133h4v1h-4zM182 133h4v1h-4zM188 133h2v1h-2zM191 133h6v1h-6zM207 133h2v1h-2zM41 134h2v1h-2zM44 134h2v1h-2zM51 134h2v1h-2zM57 134h2v1h-2zM61 134h2v1h-2zM65 134h4v1h-4zM73 134h7v1h-7zM82 134h5v1h-5zM89 134h4v1h-4zM96 134h2v1h-2zM99 134h4v1h-4zM104 134h6v1h-6zM111 134h22v1h-22zM135 134h2v1h-2zM139 134h5v1h-5zM149 134h11v1h-11zM161 134h5v1h-5zM168 134h10v1h-10zM181 134h2v1h-2zM184 134h2v1h-2zM188 134h10v1h-10zM200 134h2v1h-2zM206 134h4v1h-4zM41 135h2v1h-2zM46 135h4v1h-4zM51 135h2v1h-2zM57 135h23v1h-23zM82 135h21v1h-21zM104 135h4v1h-4zM112 135h11v1h-11zM124 135h4v1h-4zM129 135h7v1h-7zM137 135h8v1h-8zM148 135h12v1h-12zM161 135h25v1h-25zM187 135h4v1h-4zM192 135h10v1h-10zM203 135h2v1h-2zM206 135h4v1h-4zM41 136h2v1h-2zM46 136h4v1h-4zM56 136h2v1h-2zM59 136h6v1h-6zM66 136h8v1h-8zM75 136h5v1h-5zM81 136h2v1h-2zM84 136h20v1h-20zM105 136h5v1h-5zM111 136h43v1h-43zM155 136h8v1h-8zM165 136h3v1h-3zM169 136h17v1h-17zM187 136h9v1h-9zM198 136h2v1h-2zM201 136h4v1h-4zM208 136h2v1h-2zM25 137h2v1h-2zM28 137h2v1h-2zM35 137h2v1h-2zM41 137h2v1h-2zM46 137h4v1h-4zM52 137h3v1h-3zM56 137h3v1h-3zM61 137h3v1h-3zM66 137h13v1h-13zM80 137h63v1h-63zM145 137h18v1h-18zM165 137h3v1h-3zM169 137h17v1h-17zM187 137h13v1h-13zM201 137h6v1h-6zM208 137h3v1h-3zM25 138h2v1h-2zM28 138h2v1h-2zM35 138h3v1h-3zM46 138h3v1h-3zM52 138h3v1h-3zM56 138h3v1h-3zM60 138h4v1h-4zM65 138h5v1h-5zM71 138h22v1h-22zM94 138h25v1h-25zM120 138h8v1h-8zM129 138h71v1h-71zM201 138h7v1h-7zM209 138h2v1h-2zM28 139h2v1h-2zM31 139h4v1h-4zM36 139h2v1h-2zM42 139h2v1h-2zM45 139h4v1h-4zM53 139h4v1h-4zM59 139h5v1h-5zM65 139h6v1h-6zM72 139h68v1h-68zM143 139h38v1h-38zM183 139h14v1h-14zM198 139h3v1h-3zM203 139h5v1h-5zM28 140h2v1h-2zM31 140h4v1h-4zM37 140h2v1h-2zM42 140h2v1h-2zM45 140h5v1h-5zM52 140h87v1h-87zM140 140h42v1h-42zM183 140h18v1h-18zM205 140h5v1h-5zM28 141h2v1h-2zM32 141h2v1h-2zM37 141h2v1h-2zM42 141h2v1h-2zM45 141h2v1h-2zM48 141h25v1h-25zM74 141h5v1h-5zM81 141h8v1h-8zM90 141h22v1h-22zM114 141h87v1h-87zM205 141h5v1h-5zM26 142h4v1h-4zM34 142h5v1h-5zM40 142h5v1h-5zM46 142h164v1h-164zM22 143h8v1h-8zM33 143h27v1h-27zM61 143h149v1h-149zM22 144h4v1h-4zM27 144h3v1h-3zM31 144h15v1h-15zM47 144h165v1h-165zM22 145h2v1h-2zM27 145h15v1h-15zM43 145h169v1h-169zM23 146h4v1h-4zM28 146h184v1h-184zM20 147h7v1h-7zM28 147h63v1h-63zM92 147h120v1h-120zM20 148h192v1h-192zM21 149h191v1h-191zM18 150h193v1h-193zM18 151h193v1h-193zM16 152h2v1h-2zM19 152h192v1h-192zM16 153h196v1h-196zM15 154h197v1h-197zM14 155h198v1h-198zM13 156h199v1h-199zM12 157h200v1h-200zM10 158h202v1h-202zM10 159h201v1h-201zM10 160h201v1h-201zM10 161h202v1h-202zM11 162h201v1h-201zM14 163h197v1h-197zM14 164h197v1h-197zM14 165h197v1h-197zM16 166h194v1h-194zM16 167h2v1h-2zM20 167h3v1h-3zM24 167h182v1h-182zM207 167h4v1h-4zM18 168h186v1h-186zM206 168h5v1h-5zM18 169h3v1h-3zM22 169h183v1h-183zM206 169h2v1h-2zM24 170h182v1h-182zM23 171h15v1h-15zM41 171h122v1h-122zM164 171h35v1h-35zM201 171h5v1h-5zM207 171h2v1h-2zM18 172h2v1h-2zM23 172h5v1h-5zM31 172h7v1h-7zM39 172h153v1h-153zM193 172h5v1h-5zM203 172h2v1h-2zM207 172h2v1h-2zM18 173h2v1h-2zM26 173h2v1h-2zM30 173h22v1h-22zM53 173h41v1h-41zM95 173h97v1h-97zM195 173h5v1h-5zM201 173h2v1h-2zM205 173h2v1h-2zM209 173h2v1h-2zM27 174h2v1h-2zM30 174h17v1h-17zM48 174h4v1h-4zM53 174h42v1h-42zM96 174h60v1h-60zM157 174h33v1h-33zM194 174h6v1h-6zM201 174h2v1h-2zM205 174h6v1h-6zM27 175h2v1h-2zM31 175h5v1h-5zM38 175h3v1h-3zM42 175h3v1h-3zM48 175h82v1h-82zM131 175h11v1h-11zM143 175h36v1h-36zM180 175h7v1h-7zM193 175h3v1h-3zM197 175h3v1h-3zM201 175h2v1h-2zM207 175h2v1h-2zM31 176h2v1h-2zM34 176h2v1h-2zM38 176h2v1h-2zM42 176h2v1h-2zM45 176h2v1h-2zM49 176h5v1h-5zM55 176h62v1h-62zM118 176h12v1h-12zM131 176h8v1h-8zM142 176h9v1h-9zM152 176h27v1h-27zM180 176h9v1h-9zM190 176h2v1h-2zM193 176h3v1h-3zM198 176h2v1h-2zM204 176h2v1h-2zM20 177h2v1h-2zM31 177h3v1h-3zM41 177h3v1h-3zM45 177h7v1h-7zM55 177h3v1h-3zM61 177h3v1h-3zM66 177h3v1h-3zM70 177h3v1h-3zM75 177h2v1h-2zM78 177h8v1h-8zM87 177h7v1h-7zM95 177h7v1h-7zM103 177h15v1h-15zM120 177h9v1h-9zM130 177h30v1h-30zM161 177h6v1h-6zM170 177h2v1h-2zM174 177h4v1h-4zM180 177h2v1h-2zM185 177h7v1h-7zM194 177h2v1h-2zM204 177h2v1h-2zM20 178h2v1h-2zM32 178h2v1h-2zM40 178h3v1h-3zM46 178h5v1h-5zM52 178h3v1h-3zM61 178h2v1h-2zM64 178h8v1h-8zM76 178h2v1h-2zM79 178h50v1h-50zM130 178h5v1h-5zM136 178h10v1h-10zM147 178h5v1h-5zM154 178h9v1h-9zM165 178h3v1h-3zM169 178h3v1h-3zM173 178h5v1h-5zM181 178h2v1h-2zM187 178h4v1h-4zM194 178h2v1h-2zM40 179h4v1h-4zM47 179h2v1h-2zM52 179h3v1h-3zM61 179h2v1h-2zM64 179h9v1h-9zM76 179h2v1h-2zM79 179h3v1h-3zM84 179h29v1h-29zM114 179h18v1h-18zM133 179h19v1h-19zM155 179h13v1h-13zM169 179h2v1h-2zM173 179h5v1h-5zM180 179h3v1h-3zM184 179h2v1h-2zM187 179h2v1h-2zM194 179h2v1h-2zM42 180h2v1h-2zM47 180h2v1h-2zM53 180h2v1h-2zM65 180h5v1h-5zM71 180h4v1h-4zM77 180h12v1h-12zM92 180h20v1h-20zM113 180h30v1h-30zM145 180h3v1h-3zM150 180h2v1h-2zM154 180h5v1h-5zM161 180h7v1h-7zM170 180h3v1h-3zM174 180h4v1h-4zM179 180h3v1h-3zM184 180h4v1h-4zM192 180h3v1h-3zM41 181h2v1h-2zM47 181h2v1h-2zM50 181h2v1h-2zM53 181h4v1h-4zM61 181h2v1h-2zM65 181h2v1h-2zM68 181h7v1h-7zM77 181h3v1h-3zM82 181h2v1h-2zM85 181h2v1h-2zM88 181h2v1h-2zM92 181h3v1h-3zM96 181h11v1h-11zM110 181h2v1h-2zM113 181h12v1h-12zM126 181h10v1h-10zM137 181h11v1h-11zM151 181h8v1h-8zM161 181h7v1h-7zM170 181h3v1h-3zM174 181h2v1h-2zM179 181h3v1h-3zM184 181h4v1h-4zM192 181h3v1h-3zM41 182h2v1h-2zM47 182h2v1h-2zM50 182h2v1h-2zM53 182h4v1h-4zM58 182h2v1h-2zM61 182h2v1h-2zM65 182h2v1h-2zM68 182h4v1h-4zM73 182h2v1h-2zM76 182h4v1h-4zM82 182h9v1h-9zM92 182h4v1h-4zM99 182h8v1h-8zM108 182h10v1h-10zM120 182h5v1h-5zM126 182h3v1h-3zM130 182h2v1h-2zM134 182h22v1h-22zM161 182h7v1h-7zM174 182h2v1h-2zM179 182h2v1h-2zM185 182h2v1h-2zM58 183h2v1h-2zM72 183h8v1h-8zM84 183h7v1h-7zM93 183h3v1h-3zM98 183h8v1h-8zM108 183h7v1h-7zM116 183h4v1h-4zM125 183h2v1h-2zM130 183h2v1h-2zM135 183h2v1h-2zM144 183h9v1h-9zM154 183h2v1h-2zM163 183h2v1h-2zM166 183h2v1h-2zM177 183h4v1h-4zM188 183h2v1h-2zM42 184h2v1h-2zM60 184h2v1h-2zM67 184h2v1h-2zM72 184h7v1h-7zM82 184h5v1h-5zM91 184h6v1h-6zM98 184h7v1h-7zM106 184h2v1h-2zM111 184h9v1h-9zM121 184h3v1h-3zM125 184h2v1h-2zM136 184h2v1h-2zM140 184h2v1h-2zM144 184h6v1h-6zM154 184h5v1h-5zM163 184h5v1h-5zM169 184h2v1h-2zM177 184h4v1h-4zM185 184h2v1h-2zM188 184h2v1h-2zM42 185h2v1h-2zM60 185h2v1h-2zM67 185h2v1h-2zM72 185h7v1h-7zM82 185h6v1h-6zM91 185h2v1h-2zM94 185h5v1h-5zM100 185h3v1h-3zM106 185h2v1h-2zM114 185h3v1h-3zM121 185h3v1h-3zM125 185h2v1h-2zM131 185h2v1h-2zM136 185h8v1h-8zM148 185h2v1h-2zM154 185h5v1h-5zM161 185h7v1h-7zM169 185h2v1h-2zM184 185h5v1h-5zM72 186h4v1h-4zM79 186h2v1h-2zM83 186h2v1h-2zM86 186h2v1h-2zM92 186h4v1h-4zM97 186h2v1h-2zM100 186h2v1h-2zM106 186h2v1h-2zM111 186h3v1h-3zM121 186h2v1h-2zM125 186h4v1h-4zM131 186h2v1h-2zM137 186h4v1h-4zM142 186h2v1h-2zM149 186h2v1h-2zM156 186h2v1h-2zM160 186h3v1h-3zM164 186h2v1h-2zM168 186h2v1h-2zM184 186h5v1h-5zM36 187h2v1h-2zM79 187h2v1h-2zM83 187h2v1h-2zM92 187h2v1h-2zM97 187h4v1h-4zM106 187h3v1h-3zM111 187h3v1h-3zM118 187h2v1h-2zM121 187h3v1h-3zM127 187h2v1h-2zM131 187h2v1h-2zM136 187h5v1h-5zM149 187h2v1h-2zM157 187h2v1h-2zM160 187h2v1h-2zM165 187h2v1h-2zM168 187h2v1h-2zM192 187h2v1h-2zM36 188h2v1h-2zM95 188h2v1h-2zM98 188h3v1h-3zM107 188h3v1h-3zM117 188h4v1h-4zM122 188h2v1h-2zM136 188h2v1h-2zM139 188h6v1h-6zM153 188h2v1h-2zM157 188h4v1h-4zM165 188h2v1h-2zM172 188h2v1h-2zM192 188h2v1h-2zM63 189h2v1h-2zM75 189h2v1h-2zM95 189h2v1h-2zM100 189h2v1h-2zM104 189h2v1h-2zM108 189h4v1h-4zM117 189h6v1h-6zM129 189h2v1h-2zM133 189h2v1h-2zM136 189h2v1h-2zM139 189h6v1h-6zM153 189h2v1h-2zM159 189h2v1h-2zM172 189h2v1h-2zM178 189h2v1h-2zM188 189h2v1h-2zM41 190h2v1h-2zM57 190h2v1h-2zM63 190h2v1h-2zM72 190h2v1h-2zM75 190h4v1h-4zM88 190h6v1h-6zM100 190h2v1h-2zM104 190h2v1h-2zM110 190h3v1h-3zM115 190h2v1h-2zM118 190h7v1h-7zM129 190h2v1h-2zM133 190h2v1h-2zM136 190h2v1h-2zM153 190h2v1h-2zM164 190h2v1h-2zM178 190h2v1h-2zM187 190h3v1h-3zM41 191h2v1h-2zM57 191h4v1h-4zM72 191h2v1h-2zM77 191h2v1h-2zM88 191h6v1h-6zM111 191h2v1h-2zM114 191h3v1h-3zM118 191h2v1h-2zM123 191h2v1h-2zM129 191h2v1h-2zM133 191h4v1h-4zM154 191h2v1h-2zM164 191h2v1h-2zM187 191h2v1h-2zM59 192h2v1h-2zM62 192h2v1h-2zM67 192h3v1h-3zM88 192h2v1h-2zM100 192h2v1h-2zM114 192h2v1h-2zM118 192h2v1h-2zM127 192h6v1h-6zM135 192h2v1h-2zM154 192h2v1h-2zM62 193h2v1h-2zM67 193h3v1h-3zM81 193h2v1h-2zM85 193h2v1h-2zM88 193h2v1h-2zM100 193h2v1h-2zM127 193h2v1h-2zM131 193h2v1h-2zM141 193h2v1h-2zM48 194h2v1h-2zM81 194h2v1h-2zM85 194h2v1h-2zM138 194h2v1h-2zM141 194h2v1h-2zM148 194h2v1h-2zM157 194h2v1h-2zM48 195h2v1h-2zM86 195h2v1h-2zM135 195h2v1h-2zM138 195h2v1h-2zM148 195h2v1h-2zM157 195h2v1h-2zM181 195h2v1h-2zM86 196h2v1h-2zM124 196h2v1h-2zM135 196h2v1h-2zM148 196h2v1h-2zM181 196h2v1h-2zM189 196h2v1h-2zM42 197h2v1h-2zM51 197h4v1h-4zM83 197h2v1h-2zM106 197h2v1h-2zM124 197h2v1h-2zM186 197h2v1h-2zM189 197h2v1h-2zM42 198h2v1h-2zM51 198h4v1h-4zM83 198h2v1h-2zM106 198h2v1h-2zM125 198h2v1h-2zM156 198h2v1h-2zM186 198h2v1h-2zM48 199h2v1h-2zM118 199h2v1h-2zM125 199h2v1h-2zM147 199h2v1h-2zM150 199h2v1h-2zM156 199h2v1h-2zM48 200h2v1h-2zM97 200h2v1h-2zM118 200h2v1h-2zM131 200h2v1h-2zM143 200h2v1h-2zM147 200h2v1h-2zM150 200h2v1h-2zM97 201h2v1h-2zM110 201h2v1h-2zM131 201h2v1h-2zM143 201h2v1h-2zM64 202h2v1h-2zM110 202h2v1h-2zM64 203h2v1h-2zM88 203h2v1h-2zM88 204h2v1h-2zM119 205h2v1h-2zM142 205h2v1h-2zM119 206h2v1h-2zM142 206h2v1h-2zM109 208h2v1h-2zM61 209h2v1h-2zM109 209h2v1h-2zM131 209h2v1h-2zM174 209h2v1h-2zM61 210h2v1h-2zM131 210h2v1h-2zM174 210h2v1h-2z"/>
<path transform="translate(448 540) scale(0.5)" fill="#e8191f" d="M209 15h2v1h-2zM209 16h2v1h-2zM209 23h2v1h-2zM209 24h2v1h-2zM209 32h2v1h-2zM209 33h2v1h-2zM208 34h3v1h-3zM208 35h2v1h-2zM209 36h2v1h-2zM209 37h2v1h-2zM209 38h2v1h-2zM209 41h2v1h-2zM209 42h2v1h-2zM209 43h2v1h-2zM209 44h2v1h-2zM206 45h2v1h-2zM209 45h2v1h-2zM206 46h2v1h-2zM209 46h2v1h-2zM204 48h4v1h-4zM209 48h2v1h-2zM204 49h4v1h-4zM209 49h2v1h-2zM208 50h2v1h-2zM208 51h2v1h-2zM207 52h3v1h-3zM207 53h2v1h-2zM205 54h2v1h-2zM205 55h2v1h-2zM209 55h2v1h-2zM208 56h3v1h-3zM206 57h4v1h-4zM206 58h4v1h-4zM207 59h2v1h-2zM207 60h3v1h-3zM207 61h3v1h-3zM208 62h2v1h-2zM206 66h4v1h-4zM206 67h4v1h-4zM201 68h2v1h-2zM206 68h2v1h-2zM201 69h2v1h-2zM205 69h3v1h-3zM205 70h3v1h-3zM205 71h4v1h-4zM204 72h5v1h-5zM204 73h6v1h-6zM204 74h6v1h-6zM202 75h2v1h-2zM205 75h3v1h-3zM202 76h2v1h-2zM205 76h2v1h-2zM202 77h2v1h-2zM202 78h2v1h-2zM206 78h2v1h-2zM201 79h2v1h-2zM206 79h2v1h-2zM201 80h2v1h-2zM205 81h3v1h-3zM205 82h4v1h-4zM206 83h5v1h-5zM204 84h2v1h-2zM209 84h2v1h-2zM199 85h2v1h-2zM202 85h4v1h-4zM199 86h2v1h-2zM202 86h4v1h-4zM200 87h3v1h-3zM206 87h3v1h-3zM200 88h5v1h-5zM206 88h3v1h-3zM197 89h2v1h-2zM202 89h8v1h-8zM197 90h13v1h-13zM199 91h10v1h-10zM198 92h2v1h-2zM201 92h8v1h-8zM197 93h12v1h-12zM197 94h14v1h-14zM195 95h2v1h-2zM200 95h3v1h-3zM204 95h4v1h-4zM209 95h2v1h-2zM195 96h2v1h-2zM201 96h10v1h-10zM199 97h11v1h-11zM197 98h6v1h-6zM205 98h6v1h-6zM197 99h14v1h-14zM198 100h13v1h-13zM198 101h13v1h-13zM198 102h3v1h-3zM202 102h9v1h-9zM198 103h3v1h-3zM203 103h3v1h-3zM207 103h4v1h-4zM197 104h4v1h-4zM203 104h8v1h-8zM197 105h14v1h-14zM198 106h13v1h-13zM195 107h16v1h-16zM195 108h16v1h-16zM194 109h17v1h-17zM194 110h6v1h-6zM201 110h10v1h-10zM192 111h2v1h-2zM196 111h15v1h-15zM192 112h19v1h-19zM193 113h16v1h-16zM192 114h19v1h-19zM191 115h20v1h-20zM191 116h19v1h-19zM191 117h20v1h-20zM189 118h22v1h-22zM185 119h2v1h-2zM189 119h22v1h-22zM185 120h2v1h-2zM189 120h22v1h-22zM189 121h22v1h-22zM185 122h26v1h-26zM185 123h26v1h-26zM188 124h23v1h-23zM189 125h22v1h-22zM184 126h2v1h-2zM188 126h22v1h-22zM184 127h26v1h-26zM184 128h27v1h-27zM184 129h27v1h-27zM184 130h26v1h-26zM185 131h25v1h-25zM183 132h23v1h-23zM207 132h4v1h-4zM183 133h28v1h-28zM184 134h5v1h-5zM192 134h17v1h-17zM186 135h5v1h-5zM193 135h16v1h-16zM187 136h5v1h-5zM195 136h6v1h-6zM202 136h7v1h-7zM188 137h4v1h-4zM193 137h7v1h-7zM202 137h5v1h-5zM188 138h4v1h-4zM193 138h7v1h-7zM201 138h6v1h-6zM208 138h2v1h-2zM190 139h2v1h-2zM194 139h3v1h-3zM198 139h2v1h-2zM201 139h9v1h-9zM201 140h2v1h-2zM204 140h6v1h-6zM196 141h2v1h-2zM204 141h4v1h-4zM196 142h4v1h-4zM201 142h2v1h-2zM205 142h3v1h-3zM194 143h2v1h-2zM197 143h3v1h-3zM201 143h2v1h-2zM205 143h2v1h-2zM194 144h2v1h-2zM198 144h2v1h-2zM201 144h2v1h-2zM208 144h2v1h-2zM194 145h2v1h-2zM201 145h2v1h-2zM208 145h2v1h-2zM203 146h2v1h-2zM203 147h2v1h-2zM205 150h2v1h-2zM205 151h2v1h-2zM204 155h2v1h-2zM204 156h2v1h-2z"/>
<path transform="translate(448 540) scale(0.5)" fill="#35bdbb" d="M209 145h2v1h-2zM209 146h2v1h-2zM208 147h3v1h-3zM208 148h3v1h-3zM208 149h2v1h-2zM208 150h3v1h-3zM208 151h3v1h-3zM208 152h3v1h-3zM208 153h3v1h-3zM207 154h4v1h-4zM207 155h4v1h-4zM208 156h2v1h-2zM208 158h2v1h-2zM208 159h2v1h-2z"/>
<path transform="translate(448 540) scale(0.5)" fill="#35bdbb" d="M210 12h2v1h-2zM210 13h2v1h-2zM210 16h2v1h-2zM210 17h2v1h-2zM209 18h3v1h-3zM209 19h3v1h-3zM209 20h3v1h-3zM209 21h3v1h-3zM209 22h3v1h-3zM209 23h3v1h-3zM209 24h3v1h-3zM209 25h3v1h-3zM209 26h3v1h-3zM209 27h3v1h-3zM210 29h2v1h-2zM210 30h2v1h-2z"/>
<line x1="166.7" y1="154.4" x2="166.7" y2="253.2" stroke="#808285" stroke-width="0.8"/>
<line x1="166.7" y1="253.2" x2="276.5" y2="253.2" stroke="#808285" stroke-width="0.8"/>
<line x1="164.1" y1="240.3" x2="166.7" y2="240.3" stroke="#808285" stroke-width="0.7"/>
<text x="162.4" y="242.6" font-size="6.55" text-anchor="end">0</text>
<line x1="164.1" y1="210.7" x2="166.7" y2="210.7" stroke="#808285" stroke-width="0.7"/>
<text x="162.4" y="213.0" font-size="6.55" text-anchor="end">1.0</text>
<line x1="164.1" y1="181.1" x2="166.7" y2="181.1" stroke="#808285" stroke-width="0.7"/>
<text x="162.4" y="183.4" font-size="6.55" text-anchor="end">2.0</text>
<line x1="164.1" y1="225.5" x2="166.7" y2="225.5" stroke="#808285" stroke-width="0.7"/>
<line x1="164.1" y1="195.9" x2="166.7" y2="195.9" stroke="#808285" stroke-width="0.7"/>
<line x1="164.1" y1="166.3" x2="166.7" y2="166.3" stroke="#808285" stroke-width="0.7"/>
<line x1="176.7" y1="253.2" x2="176.7" y2="255.8" stroke="#808285" stroke-width="0.7"/>
<text x="176.7" y="262.6" font-size="6.55" text-anchor="middle">−0.4</text>
<line x1="197.9" y1="253.2" x2="197.9" y2="255.8" stroke="#808285" stroke-width="0.7"/>
<text x="197.9" y="262.6" font-size="6.55" text-anchor="middle">−0.2</text>
<line x1="219.1" y1="253.2" x2="219.1" y2="255.8" stroke="#808285" stroke-width="0.7"/>
<text x="219.1" y="262.6" font-size="6.55" text-anchor="middle">0</text>
<line x1="240.3" y1="253.2" x2="240.3" y2="255.8" stroke="#808285" stroke-width="0.7"/>
<text x="240.3" y="262.6" font-size="6.55" text-anchor="middle">0.2</text>
<line x1="261.5" y1="253.2" x2="261.5" y2="255.8" stroke="#808285" stroke-width="0.7"/>
<text x="261.5" y="262.6" font-size="6.55" text-anchor="middle">0.4</text>
<text x="222.0" y="272.7" font-size="6.55" text-anchor="middle">uPBM E−score (all 8-mers)</text>
<text transform="translate(146.6 203.0) rotate(-90)" font-size="6.7" text-anchor="middle">log<tspan font-size="4.4" dy="1.8">2</tspan><tspan dy="-1.8">(HOXD13/no DBD)</tspan></text>
<line x1="164.7" y1="240.5" x2="276.4" y2="240.5" stroke="#cf3539" stroke-width="0.7"/>
<text x="219.7" y="162.8" font-size="6.55" text-anchor="middle">HOXD13</text>
<text x="219.7" y="171.0" font-size="6.55" text-anchor="middle">homeodomain</text>
<text x="219.7" y="180.3" font-size="6.55" text-anchor="middle"><tspan fill="#e31e24">Active/</tspan>Inactive</text>
<text x="219.7" y="188.7" font-size="6.55" text-anchor="middle"><tspan fill="#e31e24">1,780/</tspan>31,116</text>
<line x1="166.7" y1="283.2" x2="166.7" y2="381.7" stroke="#808285" stroke-width="0.8"/>
<line x1="166.7" y1="381.7" x2="277.0" y2="381.7" stroke="#808285" stroke-width="0.8"/>
<line x1="164.1" y1="367.3" x2="166.7" y2="367.3" stroke="#808285" stroke-width="0.7"/>
<text x="162.4" y="369.6" font-size="6.55" text-anchor="end">0</text>
<line x1="164.1" y1="346.0" x2="166.7" y2="346.0" stroke="#808285" stroke-width="0.7"/>
<text x="162.4" y="348.3" font-size="6.55" text-anchor="end">1.0</text>
<line x1="164.1" y1="324.7" x2="166.7" y2="324.7" stroke="#808285" stroke-width="0.7"/>
<text x="162.4" y="327.0" font-size="6.55" text-anchor="end">2.0</text>
<line x1="164.1" y1="303.4" x2="166.7" y2="303.4" stroke="#808285" stroke-width="0.7"/>
<text x="162.4" y="305.7" font-size="6.55" text-anchor="end">3.0</text>
<line x1="176.7" y1="381.7" x2="176.7" y2="384.3" stroke="#808285" stroke-width="0.7"/>
<text x="176.7" y="390.5" font-size="6.55" text-anchor="middle">−0.4</text>
<line x1="197.9" y1="381.7" x2="197.9" y2="384.3" stroke="#808285" stroke-width="0.7"/>
<text x="197.9" y="390.5" font-size="6.55" text-anchor="middle">−0.2</text>
<line x1="219.1" y1="381.7" x2="219.1" y2="384.3" stroke="#808285" stroke-width="0.7"/>
<text x="219.1" y="390.5" font-size="6.55" text-anchor="middle">0</text>
<line x1="240.3" y1="381.7" x2="240.3" y2="384.3" stroke="#808285" stroke-width="0.7"/>
<text x="240.3" y="390.5" font-size="6.55" text-anchor="middle">0.2</text>
<line x1="261.5" y1="381.7" x2="261.5" y2="384.3" stroke="#808285" stroke-width="0.7"/>
<text x="261.5" y="390.5" font-size="6.55" text-anchor="middle">0.4</text>
<text x="222.0" y="401.2" font-size="6.55" text-anchor="middle">uPBM E−score (all 8-mers)</text>
<text transform="translate(146.6 331.0) rotate(-90)" font-size="6.7" text-anchor="middle">log<tspan font-size="4.4" dy="1.8">2</tspan><tspan dy="-1.8">(NKX2.5/no DBD)</tspan></text>
<text x="220.4" y="293.9" font-size="6.55" text-anchor="middle">NKX2.5</text>
<text x="220.4" y="301.8" font-size="6.55" text-anchor="middle">homeodomain</text>
<text x="220.4" y="311.8" font-size="6.55" text-anchor="middle"><tspan fill="#e31e24">Active/</tspan>Inactive</text>
<text x="220.4" y="319.4" font-size="6.55" text-anchor="middle"><tspan fill="#e31e24">1,132/</tspan>31,764</text>
<line x1="26.5" y1="412.4" x2="26.5" y2="511.1" stroke="#808285" stroke-width="0.8"/>
<line x1="26.5" y1="511.1" x2="135.6" y2="511.1" stroke="#808285" stroke-width="0.8"/>
<line x1="23.9" y1="500.3" x2="26.5" y2="500.3" stroke="#808285" stroke-width="0.7"/>
<text x="22.2" y="502.6" font-size="6.55" text-anchor="end">0</text>
<line x1="23.9" y1="470.9" x2="26.5" y2="470.9" stroke="#808285" stroke-width="0.7"/>
<text x="22.2" y="473.2" font-size="6.55" text-anchor="end">2.0</text>
<line x1="23.9" y1="441.5" x2="26.5" y2="441.5" stroke="#808285" stroke-width="0.7"/>
<text x="22.2" y="443.8" font-size="6.55" text-anchor="end">4.0</text>
<line x1="23.9" y1="485.6" x2="26.5" y2="485.6" stroke="#808285" stroke-width="0.7"/>
<line x1="23.9" y1="456.2" x2="26.5" y2="456.2" stroke="#808285" stroke-width="0.7"/>
<line x1="23.9" y1="426.8" x2="26.5" y2="426.8" stroke="#808285" stroke-width="0.7"/>
<line x1="40.5" y1="511.1" x2="40.5" y2="513.7" stroke="#808285" stroke-width="0.7"/>
<text x="40.5" y="520.8" font-size="6.55" text-anchor="middle">−0.4</text>
<line x1="60.9" y1="511.1" x2="60.9" y2="513.7" stroke="#808285" stroke-width="0.7"/>
<text x="60.9" y="520.8" font-size="6.55" text-anchor="middle">−0.2</text>
<line x1="81.3" y1="511.1" x2="81.3" y2="513.7" stroke="#808285" stroke-width="0.7"/>
<text x="81.3" y="520.8" font-size="6.55" text-anchor="middle">0</text>
<line x1="101.7" y1="511.1" x2="101.7" y2="513.7" stroke="#808285" stroke-width="0.7"/>
<text x="101.7" y="520.8" font-size="6.55" text-anchor="middle">0.2</text>
<line x1="122.1" y1="511.1" x2="122.1" y2="513.7" stroke="#808285" stroke-width="0.7"/>
<text x="122.1" y="520.8" font-size="6.55" text-anchor="middle">0.4</text>
<text x="82.0" y="529.8" font-size="6.55" text-anchor="middle">uPBM E−score (all 8-mers)</text>
<text transform="translate(5.3 461.0) rotate(-90)" font-size="6.7" text-anchor="middle">log<tspan font-size="4.4" dy="1.8">2</tspan><tspan dy="-1.8">(Pho4/no DBD)</tspan></text>
<line x1="26.5" y1="500.5" x2="135.6" y2="500.5" stroke="#cf3539" stroke-width="0.7"/>
<text x="81.3" y="420.7" font-size="6.55" text-anchor="middle">Pho4</text>
<text x="81.3" y="428.9" font-size="6.55" text-anchor="middle">bHLH</text>
<text x="81.3" y="438.1" font-size="6.55" text-anchor="middle"><tspan fill="#e31e24">Active/</tspan>Inactive</text>
<text x="81.3" y="446.4" font-size="6.55" text-anchor="middle"><tspan fill="#e31e24">253/</tspan>32,643</text>
<line x1="166.9" y1="412.4" x2="166.9" y2="511.7" stroke="#808285" stroke-width="0.8"/>
<line x1="166.9" y1="511.7" x2="277.0" y2="511.7" stroke="#808285" stroke-width="0.8"/>
<line x1="164.3" y1="497.6" x2="166.9" y2="497.6" stroke="#808285" stroke-width="0.7"/>
<text x="162.6" y="499.9" font-size="6.55" text-anchor="end">0</text>
<line x1="164.3" y1="478.1" x2="166.9" y2="478.1" stroke="#808285" stroke-width="0.7"/>
<text x="162.6" y="480.4" font-size="6.55" text-anchor="end">1.0</text>
<line x1="164.3" y1="458.5" x2="166.9" y2="458.5" stroke="#808285" stroke-width="0.7"/>
<text x="162.6" y="460.8" font-size="6.55" text-anchor="end">2.0</text>
<line x1="164.3" y1="439.0" x2="166.9" y2="439.0" stroke="#808285" stroke-width="0.7"/>
<text x="162.6" y="441.3" font-size="6.55" text-anchor="end">3.0</text>
<line x1="164.3" y1="419.4" x2="166.9" y2="419.4" stroke="#808285" stroke-width="0.7"/>
<text x="162.6" y="421.7" font-size="6.55" text-anchor="end">4.0</text>
<line x1="176.7" y1="511.7" x2="176.7" y2="514.3" stroke="#808285" stroke-width="0.7"/>
<text x="176.7" y="520.8" font-size="6.55" text-anchor="middle">−0.4</text>
<line x1="197.9" y1="511.7" x2="197.9" y2="514.3" stroke="#808285" stroke-width="0.7"/>
<text x="197.9" y="520.8" font-size="6.55" text-anchor="middle">−0.2</text>
<line x1="219.1" y1="511.7" x2="219.1" y2="514.3" stroke="#808285" stroke-width="0.7"/>
<text x="219.1" y="520.8" font-size="6.55" text-anchor="middle">0</text>
<line x1="240.3" y1="511.7" x2="240.3" y2="514.3" stroke="#808285" stroke-width="0.7"/>
<text x="240.3" y="520.8" font-size="6.55" text-anchor="middle">0.2</text>
<line x1="261.5" y1="511.7" x2="261.5" y2="514.3" stroke="#808285" stroke-width="0.7"/>
<text x="261.5" y="520.8" font-size="6.55" text-anchor="middle">0.4</text>
<text x="222.0" y="530.3" font-size="6.55" text-anchor="middle">uPBM E−score (all 8-mers)</text>
<text transform="translate(146.6 461.0) rotate(-90)" font-size="6.7" text-anchor="middle">log<tspan font-size="4.4" dy="1.8">2</tspan><tspan dy="-1.8">(TBX5/no DBD)</tspan></text>
<line x1="165.0" y1="497.5" x2="277.0" y2="497.5" stroke="#cf3539" stroke-width="0.7"/>
<text x="220.5" y="421.2" font-size="6.55" text-anchor="middle">TBX5</text>
<text x="220.5" y="428.8" font-size="6.55" text-anchor="middle">T-box domain</text>
<text x="220.5" y="438.3" font-size="6.55" text-anchor="middle"><tspan fill="#e31e24">Active/</tspan>Inactive</text>
<text x="220.5" y="446.2" font-size="6.55" text-anchor="middle"><tspan fill="#e31e24">461/</tspan>32,435</text>
<line x1="26.5" y1="541.7" x2="26.5" y2="640.3" stroke="#808285" stroke-width="0.8"/>
<line x1="26.5" y1="640.3" x2="135.6" y2="640.3" stroke="#808285" stroke-width="0.8"/>
<line x1="23.9" y1="629.6" x2="26.5" y2="629.6" stroke="#808285" stroke-width="0.7"/>
<text x="22.2" y="631.9" font-size="6.55" text-anchor="end">0</text>
<line x1="23.9" y1="600.2" x2="26.5" y2="600.2" stroke="#808285" stroke-width="0.7"/>
<text x="22.2" y="602.5" font-size="6.55" text-anchor="end">2.0</text>
<line x1="23.9" y1="570.8" x2="26.5" y2="570.8" stroke="#808285" stroke-width="0.7"/>
<text x="22.2" y="573.1" font-size="6.55" text-anchor="end">4.0</text>
<line x1="23.9" y1="614.9" x2="26.5" y2="614.9" stroke="#808285" stroke-width="0.7"/>
<line x1="23.9" y1="585.5" x2="26.5" y2="585.5" stroke="#808285" stroke-width="0.7"/>
<line x1="23.9" y1="556.1" x2="26.5" y2="556.1" stroke="#808285" stroke-width="0.7"/>
<line x1="41.0" y1="640.3" x2="41.0" y2="642.9" stroke="#808285" stroke-width="0.7"/>
<text x="41.0" y="649.4" font-size="6.55" text-anchor="middle">−0.4</text>
<line x1="61.1" y1="640.3" x2="61.1" y2="642.9" stroke="#808285" stroke-width="0.7"/>
<text x="61.1" y="649.4" font-size="6.55" text-anchor="middle">−0.2</text>
<line x1="81.3" y1="640.3" x2="81.3" y2="642.9" stroke="#808285" stroke-width="0.7"/>
<text x="81.3" y="649.4" font-size="6.55" text-anchor="middle">0</text>
<line x1="101.5" y1="640.3" x2="101.5" y2="642.9" stroke="#808285" stroke-width="0.7"/>
<text x="101.5" y="649.4" font-size="6.55" text-anchor="middle">0.2</text>
<line x1="121.6" y1="640.3" x2="121.6" y2="642.9" stroke="#808285" stroke-width="0.7"/>
<text x="121.6" y="649.4" font-size="6.55" text-anchor="middle">0.4</text>
<text x="82.0" y="659.4" font-size="6.55" text-anchor="middle">uPBM E−score (all 8-mers)</text>
<text transform="translate(5.3 590.0) rotate(-90)" font-size="6.7" text-anchor="middle">log<tspan font-size="4.4" dy="1.8">2</tspan><tspan dy="-1.8">(Cbf1/no DBD)</tspan></text>
<line x1="26.5" y1="629.5" x2="135.6" y2="629.5" stroke="#cf3539" stroke-width="0.7"/>
<text x="81.4" y="551.8" font-size="6.55" text-anchor="middle">Cbf1</text>
<text x="81.4" y="560.0" font-size="6.55" text-anchor="middle">bHLH</text>
<text x="81.4" y="569.1" font-size="6.55" text-anchor="middle"><tspan fill="#e31e24">Active/</tspan>Inactive</text>
<text x="81.4" y="576.4" font-size="6.55" text-anchor="middle"><tspan fill="#e31e24">92/</tspan>32,804</text>
<line x1="166.5" y1="541.7" x2="166.5" y2="640.3" stroke="#808285" stroke-width="0.8"/>
<line x1="166.5" y1="640.3" x2="277.0" y2="640.3" stroke="#808285" stroke-width="0.8"/>
<line x1="163.9" y1="622.6" x2="166.5" y2="622.6" stroke="#808285" stroke-width="0.7"/>
<text x="162.2" y="624.9" font-size="6.55" text-anchor="end">0</text>
<line x1="163.9" y1="595.0" x2="166.5" y2="595.0" stroke="#808285" stroke-width="0.7"/>
<text x="162.2" y="597.3" font-size="6.55" text-anchor="end">1.0</text>
<line x1="163.9" y1="567.4" x2="166.5" y2="567.4" stroke="#808285" stroke-width="0.7"/>
<text x="162.2" y="569.7" font-size="6.55" text-anchor="end">2.0</text>
<line x1="163.9" y1="636.4" x2="166.5" y2="636.4" stroke="#808285" stroke-width="0.7"/>
<line x1="163.9" y1="608.8" x2="166.5" y2="608.8" stroke="#808285" stroke-width="0.7"/>
<line x1="163.9" y1="581.2" x2="166.5" y2="581.2" stroke="#808285" stroke-width="0.7"/>
<line x1="163.9" y1="553.6" x2="166.5" y2="553.6" stroke="#808285" stroke-width="0.7"/>
<line x1="181.0" y1="640.3" x2="181.0" y2="642.9" stroke="#808285" stroke-width="0.7"/>
<text x="181.0" y="649.4" font-size="6.55" text-anchor="middle">−0.4</text>
<line x1="201.2" y1="640.3" x2="201.2" y2="642.9" stroke="#808285" stroke-width="0.7"/>
<text x="201.2" y="649.4" font-size="6.55" text-anchor="middle">−0.2</text>
<line x1="221.3" y1="640.3" x2="221.3" y2="642.9" stroke="#808285" stroke-width="0.7"/>
<text x="221.3" y="649.4" font-size="6.55" text-anchor="middle">0</text>
<line x1="241.5" y1="640.3" x2="241.5" y2="642.9" stroke="#808285" stroke-width="0.7"/>
<text x="241.5" y="649.4" font-size="6.55" text-anchor="middle">0.2</text>
<line x1="261.6" y1="640.3" x2="261.6" y2="642.9" stroke="#808285" stroke-width="0.7"/>
<text x="261.6" y="649.4" font-size="6.55" text-anchor="middle">0.4</text>
<text x="216.8" y="659.3" font-size="6.55" text-anchor="middle">uPBM E−score (all 9-mers)</text>
<text transform="translate(146.6 590.0) rotate(-90)" font-size="6.7" text-anchor="middle">log<tspan font-size="4.4" dy="1.8">2</tspan><tspan dy="-1.8">(EGR1/no DBD)</tspan></text>
<text x="220.3" y="551.8" font-size="6.55" text-anchor="middle">EGR1</text>
<text x="220.3" y="559.6" font-size="6.55" text-anchor="middle">C2H2-type zinc-fingers</text>
<text x="220.3" y="569.1" font-size="6.55" text-anchor="middle"><tspan fill="#e31e24">Active/</tspan>Inactive</text>
<text x="220.3" y="576.6" font-size="6.55" text-anchor="middle"><tspan fill="#e31e24">554/</tspan>130,518</text>
<line x1="448.5" y1="153.7" x2="448.5" y2="253.2" stroke="#808285" stroke-width="0.8"/>
<line x1="448.5" y1="253.2" x2="558.5" y2="253.2" stroke="#808285" stroke-width="0.8"/>
<line x1="445.9" y1="240.0" x2="448.5" y2="240.0" stroke="#808285" stroke-width="0.7"/>
<text x="444.2" y="242.3" font-size="6.55" text-anchor="end">0</text>
<line x1="445.9" y1="210.4" x2="448.5" y2="210.4" stroke="#808285" stroke-width="0.7"/>
<text x="444.2" y="212.7" font-size="6.55" text-anchor="end">1.0</text>
<line x1="445.9" y1="180.8" x2="448.5" y2="180.8" stroke="#808285" stroke-width="0.7"/>
<text x="444.2" y="183.1" font-size="6.55" text-anchor="end">2.0</text>
<line x1="445.9" y1="225.2" x2="448.5" y2="225.2" stroke="#808285" stroke-width="0.7"/>
<line x1="445.9" y1="195.6" x2="448.5" y2="195.6" stroke="#808285" stroke-width="0.7"/>
<line x1="445.9" y1="166.0" x2="448.5" y2="166.0" stroke="#808285" stroke-width="0.7"/>
<line x1="457.5" y1="253.2" x2="457.5" y2="255.8" stroke="#808285" stroke-width="0.7"/>
<text x="457.5" y="262.6" font-size="6.55" text-anchor="middle">−0.4</text>
<line x1="478.9" y1="253.2" x2="478.9" y2="255.8" stroke="#808285" stroke-width="0.7"/>
<text x="478.9" y="262.6" font-size="6.55" text-anchor="middle">−0.2</text>
<line x1="500.4" y1="253.2" x2="500.4" y2="255.8" stroke="#808285" stroke-width="0.7"/>
<text x="500.4" y="262.6" font-size="6.55" text-anchor="middle">0</text>
<line x1="521.9" y1="253.2" x2="521.9" y2="255.8" stroke="#808285" stroke-width="0.7"/>
<text x="521.9" y="262.6" font-size="6.55" text-anchor="middle">0.2</text>
<line x1="543.3" y1="253.2" x2="543.3" y2="255.8" stroke="#808285" stroke-width="0.7"/>
<text x="543.3" y="262.6" font-size="6.55" text-anchor="middle">0.4</text>
<text x="503.0" y="272.9" font-size="6.55" text-anchor="middle">uPBM E−score (all 8-mers)</text>
<text transform="translate(429.3 201.0) rotate(-90)" font-size="6.7" text-anchor="middle">log<tspan font-size="4.4" dy="1.8">2</tspan><tspan dy="-1.8">(HOXD13/no DBD)</tspan></text>
<line x1="448.5" y1="240.5" x2="558.5" y2="240.5" stroke="#cf3539" stroke-width="0.7"/>
<line x1="448.5" y1="283.5" x2="448.5" y2="381.7" stroke="#808285" stroke-width="0.8"/>
<line x1="448.5" y1="381.7" x2="558.5" y2="381.7" stroke="#808285" stroke-width="0.8"/>
<line x1="445.9" y1="367.4" x2="448.5" y2="367.4" stroke="#808285" stroke-width="0.7"/>
<text x="444.2" y="369.7" font-size="6.55" text-anchor="end">0</text>
<line x1="445.9" y1="346.0" x2="448.5" y2="346.0" stroke="#808285" stroke-width="0.7"/>
<text x="444.2" y="348.3" font-size="6.55" text-anchor="end">1.0</text>
<line x1="445.9" y1="324.6" x2="448.5" y2="324.6" stroke="#808285" stroke-width="0.7"/>
<text x="444.2" y="326.9" font-size="6.55" text-anchor="end">2.0</text>
<line x1="445.9" y1="303.2" x2="448.5" y2="303.2" stroke="#808285" stroke-width="0.7"/>
<text x="444.2" y="305.5" font-size="6.55" text-anchor="end">3.0</text>
<line x1="457.5" y1="381.7" x2="457.5" y2="384.3" stroke="#808285" stroke-width="0.7"/>
<text x="457.5" y="390.5" font-size="6.55" text-anchor="middle">−0.4</text>
<line x1="478.9" y1="381.7" x2="478.9" y2="384.3" stroke="#808285" stroke-width="0.7"/>
<text x="478.9" y="390.5" font-size="6.55" text-anchor="middle">−0.2</text>
<line x1="500.4" y1="381.7" x2="500.4" y2="384.3" stroke="#808285" stroke-width="0.7"/>
<text x="500.4" y="390.5" font-size="6.55" text-anchor="middle">0</text>
<line x1="521.9" y1="381.7" x2="521.9" y2="384.3" stroke="#808285" stroke-width="0.7"/>
<text x="521.9" y="390.5" font-size="6.55" text-anchor="middle">0.2</text>
<line x1="543.3" y1="381.7" x2="543.3" y2="384.3" stroke="#808285" stroke-width="0.7"/>
<text x="543.3" y="390.5" font-size="6.55" text-anchor="middle">0.4</text>
<text x="503.0" y="401.5" font-size="6.55" text-anchor="middle">uPBM E−score (all 8-mers)</text>
<text transform="translate(429.3 330.0) rotate(-90)" font-size="6.7" text-anchor="middle">log<tspan font-size="4.4" dy="1.8">2</tspan><tspan dy="-1.8">(NKX2.5/no DBD)</tspan></text>
<line x1="448.5" y1="367.5" x2="558.5" y2="367.5" stroke="#cf3539" stroke-width="0.7"/>
<line x1="448.0" y1="412.2" x2="448.0" y2="511.7" stroke="#808285" stroke-width="0.8"/>
<line x1="448.0" y1="511.7" x2="558.5" y2="511.7" stroke="#808285" stroke-width="0.8"/>
<line x1="445.4" y1="497.6" x2="448.0" y2="497.6" stroke="#808285" stroke-width="0.7"/>
<text x="443.7" y="499.9" font-size="6.55" text-anchor="end">0</text>
<line x1="445.4" y1="478.0" x2="448.0" y2="478.0" stroke="#808285" stroke-width="0.7"/>
<text x="443.7" y="480.3" font-size="6.55" text-anchor="end">1.0</text>
<line x1="445.4" y1="458.4" x2="448.0" y2="458.4" stroke="#808285" stroke-width="0.7"/>
<text x="443.7" y="460.7" font-size="6.55" text-anchor="end">2.0</text>
<line x1="445.4" y1="438.8" x2="448.0" y2="438.8" stroke="#808285" stroke-width="0.7"/>
<text x="443.7" y="441.1" font-size="6.55" text-anchor="end">3.0</text>
<line x1="445.4" y1="419.2" x2="448.0" y2="419.2" stroke="#808285" stroke-width="0.7"/>
<text x="443.7" y="421.5" font-size="6.55" text-anchor="end">4.0</text>
<line x1="457.5" y1="511.7" x2="457.5" y2="514.3" stroke="#808285" stroke-width="0.7"/>
<text x="457.5" y="520.6" font-size="6.55" text-anchor="middle">−0.4</text>
<line x1="478.9" y1="511.7" x2="478.9" y2="514.3" stroke="#808285" stroke-width="0.7"/>
<text x="478.9" y="520.6" font-size="6.55" text-anchor="middle">−0.2</text>
<line x1="500.4" y1="511.7" x2="500.4" y2="514.3" stroke="#808285" stroke-width="0.7"/>
<text x="500.4" y="520.6" font-size="6.55" text-anchor="middle">0</text>
<line x1="521.9" y1="511.7" x2="521.9" y2="514.3" stroke="#808285" stroke-width="0.7"/>
<text x="521.9" y="520.6" font-size="6.55" text-anchor="middle">0.2</text>
<line x1="543.3" y1="511.7" x2="543.3" y2="514.3" stroke="#808285" stroke-width="0.7"/>
<text x="543.3" y="520.6" font-size="6.55" text-anchor="middle">0.4</text>
<text x="503.0" y="529.8" font-size="6.55" text-anchor="middle">uPBM E−score (all 8-mers)</text>
<text transform="translate(429.3 460.0) rotate(-90)" font-size="6.7" text-anchor="middle">log<tspan font-size="4.4" dy="1.8">2</tspan><tspan dy="-1.8">(TBX5/no DBD)</tspan></text>
<line x1="448.0" y1="497.5" x2="558.5" y2="497.5" stroke="#cf3539" stroke-width="0.7"/>
<line x1="448.6" y1="541.2" x2="448.6" y2="640.3" stroke="#808285" stroke-width="0.8"/>
<line x1="448.6" y1="640.3" x2="558.5" y2="640.3" stroke="#808285" stroke-width="0.8"/>
<line x1="446.0" y1="622.6" x2="448.6" y2="622.6" stroke="#808285" stroke-width="0.7"/>
<text x="444.3" y="624.9" font-size="6.55" text-anchor="end">0</text>
<line x1="446.0" y1="595.1" x2="448.6" y2="595.1" stroke="#808285" stroke-width="0.7"/>
<text x="444.3" y="597.4" font-size="6.55" text-anchor="end">1.0</text>
<line x1="446.0" y1="567.6" x2="448.6" y2="567.6" stroke="#808285" stroke-width="0.7"/>
<text x="444.3" y="569.9" font-size="6.55" text-anchor="end">2.0</text>
<line x1="446.0" y1="636.4" x2="448.6" y2="636.4" stroke="#808285" stroke-width="0.7"/>
<line x1="446.0" y1="608.9" x2="448.6" y2="608.9" stroke="#808285" stroke-width="0.7"/>
<line x1="446.0" y1="581.4" x2="448.6" y2="581.4" stroke="#808285" stroke-width="0.7"/>
<line x1="446.0" y1="553.9" x2="448.6" y2="553.9" stroke="#808285" stroke-width="0.7"/>
<line x1="462.6" y1="640.3" x2="462.6" y2="642.9" stroke="#808285" stroke-width="0.7"/>
<text x="462.6" y="649.4" font-size="6.55" text-anchor="middle">−0.4</text>
<line x1="482.8" y1="640.3" x2="482.8" y2="642.9" stroke="#808285" stroke-width="0.7"/>
<text x="482.8" y="649.4" font-size="6.55" text-anchor="middle">−0.2</text>
<line x1="503.0" y1="640.3" x2="503.0" y2="642.9" stroke="#808285" stroke-width="0.7"/>
<text x="503.0" y="649.4" font-size="6.55" text-anchor="middle">0</text>
<line x1="523.2" y1="640.3" x2="523.2" y2="642.9" stroke="#808285" stroke-width="0.7"/>
<text x="523.2" y="649.4" font-size="6.55" text-anchor="middle">0.2</text>
<line x1="543.4" y1="640.3" x2="543.4" y2="642.9" stroke="#808285" stroke-width="0.7"/>
<text x="543.4" y="649.4" font-size="6.55" text-anchor="middle">0.4</text>
<text x="497.8" y="659.3" font-size="6.55" text-anchor="middle">uPBM E−score (all 9-mers)</text>
<text transform="translate(429.3 590.0) rotate(-90)" font-size="6.7" text-anchor="middle">log<tspan font-size="4.4" dy="1.8">2</tspan><tspan dy="-1.8">(EGR1/no DBD)</tspan></text>
<line x1="448.6" y1="622.5" x2="558.5" y2="622.5" stroke="#cf3539" stroke-width="0.7"/>
<rect x="306.1" y="154.5" width="109.9" height="98.5" fill="none" stroke="#808285" stroke-width="0.8"/>
<line x1="310.2" y1="253.0" x2="310.2" y2="255.6" stroke="#808285" stroke-width="0.7"/>
<line x1="303.5" y1="249.4" x2="306.1" y2="249.4" stroke="#808285" stroke-width="0.7"/>
<line x1="330.5" y1="253.0" x2="330.5" y2="255.6" stroke="#808285" stroke-width="0.7"/>
<line x1="303.5" y1="231.1" x2="306.1" y2="231.1" stroke="#808285" stroke-width="0.7"/>
<line x1="350.9" y1="253.0" x2="350.9" y2="255.6" stroke="#808285" stroke-width="0.7"/>
<line x1="303.5" y1="212.9" x2="306.1" y2="212.9" stroke="#808285" stroke-width="0.7"/>
<line x1="371.2" y1="253.0" x2="371.2" y2="255.6" stroke="#808285" stroke-width="0.7"/>
<line x1="303.5" y1="194.6" x2="306.1" y2="194.6" stroke="#808285" stroke-width="0.7"/>
<line x1="391.6" y1="253.0" x2="391.6" y2="255.6" stroke="#808285" stroke-width="0.7"/>
<line x1="303.5" y1="176.4" x2="306.1" y2="176.4" stroke="#808285" stroke-width="0.7"/>
<line x1="411.9" y1="253.0" x2="411.9" y2="255.6" stroke="#808285" stroke-width="0.7"/>
<line x1="303.5" y1="158.1" x2="306.1" y2="158.1" stroke="#808285" stroke-width="0.7"/>
<text x="301.8" y="160.4" font-size="6.55" text-anchor="end">1.0</text>
<text x="301.8" y="251.7" font-size="6.55" text-anchor="end">0</text>
<text x="310.2" y="263.5" font-size="6.55" text-anchor="middle">0</text>
<text x="411.9" y="263.5" font-size="6.55" text-anchor="middle">1.0</text>
<text x="361.0" y="272.2" font-size="6.55" text-anchor="middle">False positive rate</text>
<text transform="translate(290.3 203.8) rotate(-90)" font-size="6.55" text-anchor="middle">True positive rate</text>
<polyline points="310.17,249.35 310.21,248.07 310.26,247.12 310.30,246.29 310.34,245.53 310.38,244.83 310.42,244.17 310.47,243.54 310.51,242.94 310.55,242.37 310.59,241.82 310.64,241.28 310.68,240.77 310.72,240.27 310.76,239.78 310.81,239.31 310.85,238.85 310.89,238.40 310.93,237.96 310.98,237.53 311.02,237.11 311.06,236.70 311.10,236.30 311.15,235.90 311.19,235.51 311.42,233.47 311.66,231.60 311.89,229.87 312.13,228.24 312.36,226.71 312.60,225.26 312.83,223.89 313.07,222.58 313.30,221.33 313.54,220.13 313.77,218.98 314.01,217.87 314.24,216.81 314.48,215.78 314.71,214.78 314.95,213.82 315.18,212.89 315.41,211.98 315.65,211.11 315.88,210.25 316.12,209.43 316.35,208.62 316.59,207.83 316.82,207.07 317.06,206.32 317.29,205.60 317.53,204.89 317.76,204.19 318.00,203.52 318.23,202.86 318.47,202.21 318.70,201.58 318.94,200.96 319.17,200.35 319.41,199.76 319.64,199.18 319.88,198.61 320.11,198.05 320.35,197.50 321.38,195.22 322.40,193.12 323.43,191.17 324.46,189.36 325.49,187.67 326.52,186.10 327.55,184.62 328.58,183.23 329.61,181.93 330.64,180.70 331.67,179.54 332.69,178.45 333.72,177.41 334.75,176.43 335.78,175.50 336.81,174.62 337.84,173.79 338.87,173.00 339.90,172.24 340.93,171.53 341.96,170.85 342.98,170.20 344.01,169.58 345.04,168.99 346.07,168.43 347.10,167.90 348.13,167.39 349.16,166.91 350.19,166.44 351.22,166.00 352.25,165.58 353.28,165.18 354.30,164.80 355.33,164.43 356.36,164.09 357.39,163.75 358.42,163.44 359.45,163.14 360.48,162.85 361.51,162.57 362.54,162.31 363.57,162.06 364.59,161.83 365.62,161.60 366.65,161.39 367.68,161.18 368.71,160.99 369.74,160.80 370.77,160.62 371.80,160.46 372.83,160.30 373.86,160.15 374.88,160.01 375.91,159.87 376.94,159.74 377.97,159.62 379.00,159.51 380.03,159.40 381.06,159.30 382.09,159.20 383.12,159.11 384.15,159.03 385.17,158.95 386.20,158.87 387.23,158.80 388.26,158.74 389.29,158.68 390.32,158.62 391.35,158.57 392.38,158.52 393.41,158.47 394.44,158.43 395.47,158.39 396.49,158.36 397.52,158.33 398.55,158.30 399.58,158.28 400.61,158.25 401.64,158.23 402.67,158.22 403.70,158.20 404.73,158.19 405.76,158.18 406.78,158.17 407.81,158.16 408.84,158.15 409.87,158.15 410.90,158.15 411.93,158.15" fill="none" stroke="#2fb5b3" stroke-width="1.25" stroke-linejoin="round"/>
<polyline points="310.17,249.33 310.21,240.72 310.26,238.03 310.30,236.12 310.34,234.60 310.38,233.32 310.42,232.20 310.47,231.20 310.51,230.29 310.55,229.45 310.59,228.68 310.64,227.96 310.68,227.28 310.72,226.64 310.76,226.04 310.81,225.46 310.85,224.92 310.89,224.39 310.93,223.89 310.98,223.40 311.02,222.94 311.06,222.49 311.10,222.05 311.15,221.63 311.19,221.22 311.42,219.17 311.66,217.37 311.89,215.78 312.13,214.34 312.36,213.02 312.60,211.81 312.83,210.69 313.07,209.63 313.30,208.65 313.54,207.72 313.77,206.83 314.01,206.00 314.24,205.20 314.48,204.44 314.71,203.71 314.95,203.01 315.18,202.34 315.41,201.69 315.65,201.07 315.88,200.47 316.12,199.88 316.35,199.32 316.59,198.78 316.82,198.25 317.06,197.73 317.29,197.23 317.53,196.75 317.76,196.28 318.00,195.82 318.23,195.37 318.47,194.93 318.70,194.50 318.94,194.09 319.17,193.68 319.41,193.28 319.64,192.89 319.88,192.51 320.11,192.14 320.35,191.77 321.38,190.25 322.40,188.85 323.43,187.56 324.46,186.35 325.49,185.22 326.52,184.16 327.55,183.17 328.58,182.22 329.61,181.33 330.64,180.48 331.67,179.68 332.69,178.91 333.72,178.18 334.75,177.48 335.78,176.81 336.81,176.16 337.84,175.55 338.87,174.95 339.90,174.38 340.93,173.83 341.96,173.30 342.98,172.79 344.01,172.30 345.04,171.83 346.07,171.37 347.10,170.92 348.13,170.49 349.16,170.07 350.19,169.67 351.22,169.28 352.25,168.90 353.28,168.53 354.30,168.17 355.33,167.82 356.36,167.49 357.39,167.16 358.42,166.84 359.45,166.53 360.48,166.23 361.51,165.94 362.54,165.65 363.57,165.37 364.59,165.10 365.62,164.84 366.65,164.59 367.68,164.34 368.71,164.09 369.74,163.86 370.77,163.63 371.80,163.40 372.83,163.19 373.86,162.97 374.88,162.77 375.91,162.56 376.94,162.37 377.97,162.17 379.00,161.99 380.03,161.81 381.06,161.63 382.09,161.46 383.12,161.29 384.15,161.12 385.17,160.96 386.20,160.81 387.23,160.66 388.26,160.51 389.29,160.37 390.32,160.23 391.35,160.09 392.38,159.96 393.41,159.83 394.44,159.71 395.47,159.59 396.49,159.47 397.52,159.36 398.55,159.24 399.58,159.14 400.61,159.04 401.64,158.94 402.67,158.84 403.70,158.75 404.73,158.66 405.76,158.57 406.78,158.49 407.81,158.41 408.84,158.34 409.87,158.27 410.90,158.21 411.93,158.15" fill="none" stroke="#2fb5b3" stroke-width="1.25" stroke-linejoin="round"/>
<polyline points="310.17,249.33 310.21,241.14 310.26,238.54 310.30,236.70 310.34,235.22 310.38,233.97 310.42,232.87 310.47,231.90 310.51,231.01 310.55,230.19 310.59,229.44 310.64,228.73 310.68,228.07 310.72,227.44 310.76,226.85 310.81,226.29 310.85,225.75 310.89,225.23 310.93,224.74 310.98,224.26 311.02,223.80 311.06,223.36 311.10,222.93 311.15,222.52 311.19,222.11 311.42,220.08 311.66,218.31 311.89,216.73 312.13,215.31 312.36,214.00 312.60,212.80 312.83,211.68 313.07,210.63 313.30,209.65 313.54,208.72 313.77,207.84 314.01,207.01 314.24,206.21 314.48,205.45 314.71,204.72 314.95,204.03 315.18,203.35 315.41,202.71 315.65,202.08 315.88,201.48 316.12,200.90 316.35,200.33 316.59,199.78 316.82,199.25 317.06,198.74 317.29,198.24 317.53,197.75 317.76,197.27 318.00,196.81 318.23,196.36 318.47,195.92 318.70,195.49 318.94,195.07 319.17,194.66 319.41,194.26 319.64,193.86 319.88,193.48 320.11,193.10 320.35,192.73 321.38,191.20 322.40,189.79 323.43,188.48 324.46,187.25 325.49,186.11 326.52,185.03 327.55,184.02 328.58,183.06 329.61,182.15 330.64,181.29 331.67,180.47 332.69,179.69 333.72,178.94 334.75,178.22 335.78,177.54 336.81,176.88 337.84,176.25 338.87,175.64 339.90,175.06 340.93,174.49 341.96,173.95 342.98,173.42 344.01,172.92 345.04,172.43 346.07,171.95 347.10,171.49 348.13,171.05 349.16,170.62 350.19,170.20 351.22,169.80 352.25,169.41 353.28,169.03 354.30,168.66 355.33,168.30 356.36,167.95 357.39,167.61 358.42,167.28 359.45,166.96 360.48,166.65 361.51,166.34 362.54,166.05 363.57,165.76 364.59,165.48 365.62,165.20 366.65,164.94 367.68,164.68 368.71,164.42 369.74,164.18 370.77,163.94 371.80,163.70 372.83,163.48 373.86,163.25 374.88,163.04 375.91,162.83 376.94,162.62 377.97,162.42 379.00,162.22 380.03,162.03 381.06,161.84 382.09,161.66 383.12,161.49 384.15,161.31 385.17,161.15 386.20,160.98 387.23,160.82 388.26,160.67 389.29,160.52 390.32,160.37 391.35,160.22 392.38,160.09 393.41,159.95 394.44,159.82 395.47,159.69 396.49,159.57 397.52,159.44 398.55,159.33 399.58,159.21 400.61,159.10 401.64,159.00 402.67,158.89 403.70,158.80 404.73,158.70 405.76,158.61 406.78,158.52 407.81,158.44 408.84,158.36 409.87,158.28 410.90,158.21 411.93,158.15" fill="none" stroke="#2fb5b3" stroke-width="1.25" stroke-linejoin="round"/>
<polyline points="310.17,249.32 310.21,240.57 310.26,237.92 310.30,236.05 310.34,234.57 310.38,233.31 310.42,232.22 310.47,231.24 310.51,230.36 310.55,229.55 310.59,228.80 310.64,228.10 310.68,227.44 310.72,226.82 310.76,226.23 310.81,225.68 310.85,225.14 310.89,224.63 310.93,224.15 310.98,223.68 311.02,223.22 311.06,222.79 311.10,222.37 311.15,221.96 311.19,221.56 311.42,219.57 311.66,217.83 311.89,216.28 312.13,214.88 312.36,213.61 312.60,212.43 312.83,211.34 313.07,210.32 313.30,209.36 313.54,208.45 313.77,207.59 314.01,206.78 314.24,206.00 314.48,205.26 314.71,204.55 314.95,203.87 315.18,203.21 315.41,202.58 315.65,201.97 315.88,201.39 316.12,200.82 316.35,200.27 316.59,199.73 316.82,199.22 317.06,198.71 317.29,198.22 317.53,197.75 317.76,197.28 318.00,196.83 318.23,196.39 318.47,195.96 318.70,195.54 318.94,195.13 319.17,194.73 319.41,194.34 319.64,193.96 319.88,193.58 320.11,193.22 320.35,192.86 321.38,191.36 322.40,189.98 323.43,188.70 324.46,187.50 325.49,186.38 326.52,185.33 327.55,184.34 328.58,183.40 329.61,182.50 330.64,181.66 331.67,180.85 332.69,180.08 333.72,179.34 334.75,178.64 335.78,177.96 336.81,177.31 337.84,176.68 338.87,176.08 339.90,175.50 340.93,174.94 341.96,174.41 342.98,173.88 344.01,173.38 345.04,172.89 346.07,172.42 347.10,171.96 348.13,171.52 349.16,171.09 350.19,170.67 351.22,170.27 352.25,169.88 353.28,169.49 354.30,169.12 355.33,168.76 356.36,168.41 357.39,168.07 358.42,167.73 359.45,167.41 360.48,167.09 361.51,166.78 362.54,166.48 363.57,166.19 364.59,165.91 365.62,165.63 366.65,165.36 367.68,165.09 368.71,164.83 369.74,164.58 370.77,164.33 371.80,164.09 372.83,163.86 373.86,163.63 374.88,163.41 375.91,163.19 376.94,162.97 377.97,162.77 379.00,162.56 380.03,162.36 381.06,162.17 382.09,161.98 383.12,161.79 384.15,161.61 385.17,161.44 386.20,161.26 387.23,161.10 388.26,160.93 389.29,160.77 390.32,160.61 391.35,160.46 392.38,160.31 393.41,160.17 394.44,160.02 395.47,159.89 396.49,159.75 397.52,159.62 398.55,159.49 399.58,159.37 400.61,159.25 401.64,159.13 402.67,159.02 403.70,158.91 404.73,158.80 405.76,158.70 406.78,158.60 407.81,158.50 408.84,158.41 409.87,158.32 410.90,158.23 411.93,158.15" fill="none" stroke="#2fb5b3" stroke-width="1.25" stroke-linejoin="round"/>
<polyline points="310.17,249.35 310.21,236.95 310.26,226.81 310.30,218.51 310.34,211.70 310.38,206.11 310.42,201.51 310.47,197.70 310.51,194.55 310.55,191.93 310.59,189.74 310.64,187.90 310.68,186.35 310.72,185.03 310.76,183.90 310.81,182.92 310.85,182.08 310.89,181.33 310.93,180.67 310.98,180.08 311.02,179.55 311.06,179.07 311.10,178.62 311.15,178.21 311.19,177.83 311.42,176.02 311.66,174.53 311.89,173.22 312.13,172.02 312.36,170.92 312.60,169.90 312.83,168.97 313.07,168.11 313.30,167.31 313.54,166.58 313.77,165.90 314.01,165.28 314.24,164.70 314.48,164.17 314.71,163.69 314.95,163.24 315.18,162.82 315.41,162.44 315.65,162.09 315.88,161.77 316.12,161.47 316.35,161.20 316.59,160.95 316.82,160.71 317.06,160.50 317.29,160.31 317.53,160.13 317.76,159.96 318.00,159.81 318.23,159.67 318.47,159.54 318.70,159.42 318.94,159.32 319.17,159.22 319.41,159.13 319.64,159.04 319.88,158.97 320.11,158.90 320.35,158.83 321.38,158.61 322.40,158.46 323.43,158.35 324.46,158.29 325.49,158.24 326.52,158.21 327.55,158.19 328.58,158.17 329.61,158.16 330.64,158.16 331.67,158.15 332.69,158.15 333.72,158.15 334.75,158.15 335.78,158.15 336.81,158.15 337.84,158.15 338.87,158.15 339.90,158.15 340.93,158.15 341.96,158.15 342.98,158.15 344.01,158.15 345.04,158.15 346.07,158.15 347.10,158.15 348.13,158.15 349.16,158.15 350.19,158.15 351.22,158.15 352.25,158.15 353.28,158.15 354.30,158.15 355.33,158.15 356.36,158.15 357.39,158.15 358.42,158.15 359.45,158.15 360.48,158.15 361.51,158.15 362.54,158.15 363.57,158.15 364.59,158.15 365.62,158.15 366.65,158.15 367.68,158.15 368.71,158.15 369.74,158.15 370.77,158.15 371.80,158.15 372.83,158.15 373.86,158.15 374.88,158.15 375.91,158.15 376.94,158.15 377.97,158.15 379.00,158.15 380.03,158.15 381.06,158.15 382.09,158.15 383.12,158.15 384.15,158.15 385.17,158.15 386.20,158.15 387.23,158.15 388.26,158.15 389.29,158.15 390.32,158.15 391.35,158.15 392.38,158.15 393.41,158.15 394.44,158.15 395.47,158.15 396.49,158.15 397.52,158.15 398.55,158.15 399.58,158.15 400.61,158.15 401.64,158.15 402.67,158.15 403.70,158.15 404.73,158.15 405.76,158.15 406.78,158.15 407.81,158.15 408.84,158.15 409.87,158.15 410.90,158.15 411.93,158.15" fill="none" stroke="#f7941d" stroke-width="1.3" stroke-linejoin="round"/>
<line x1="306.1" y1="253.0" x2="416.0" y2="154.5" stroke="#231f20" stroke-width="1.35"/>
<text x="412.9" y="213.0" font-size="5.25" text-anchor="end">AUROC:</text>
<text x="412.9" y="219.5" font-size="5.25" text-anchor="end" fill="#f7941d">uPBM E-score = 0.987</text>
<text x="412.9" y="226.0" font-size="5.25" text-anchor="end" fill="#2fb5b3">HT-SELEX cycle 1 = 0.860</text>
<text x="412.9" y="232.5" font-size="5.25" text-anchor="end" fill="#2fb5b3">HT-SELEX cycle 2 = 0.856</text>
<text x="412.9" y="239.0" font-size="5.25" text-anchor="end" fill="#2fb5b3">HT-SELEX cycle 3 = 0.851</text>
<text x="412.9" y="245.5" font-size="5.25" text-anchor="end" fill="#2fb5b3">HT-SELEX cycle 4 = 0.848</text>
<rect x="306.1" y="282.8" width="109.9" height="98.6" fill="none" stroke="#808285" stroke-width="0.8"/>
<line x1="310.2" y1="381.4" x2="310.2" y2="384.0" stroke="#808285" stroke-width="0.7"/>
<line x1="303.5" y1="377.7" x2="306.1" y2="377.7" stroke="#808285" stroke-width="0.7"/>
<line x1="330.5" y1="381.4" x2="330.5" y2="384.0" stroke="#808285" stroke-width="0.7"/>
<line x1="303.5" y1="359.5" x2="306.1" y2="359.5" stroke="#808285" stroke-width="0.7"/>
<line x1="350.9" y1="381.4" x2="350.9" y2="384.0" stroke="#808285" stroke-width="0.7"/>
<line x1="303.5" y1="341.2" x2="306.1" y2="341.2" stroke="#808285" stroke-width="0.7"/>
<line x1="371.2" y1="381.4" x2="371.2" y2="384.0" stroke="#808285" stroke-width="0.7"/>
<line x1="303.5" y1="323.0" x2="306.1" y2="323.0" stroke="#808285" stroke-width="0.7"/>
<line x1="391.6" y1="381.4" x2="391.6" y2="384.0" stroke="#808285" stroke-width="0.7"/>
<line x1="303.5" y1="304.7" x2="306.1" y2="304.7" stroke="#808285" stroke-width="0.7"/>
<line x1="411.9" y1="381.4" x2="411.9" y2="384.0" stroke="#808285" stroke-width="0.7"/>
<line x1="303.5" y1="286.5" x2="306.1" y2="286.5" stroke="#808285" stroke-width="0.7"/>
<text x="301.8" y="288.8" font-size="6.55" text-anchor="end">1.0</text>
<text x="301.8" y="380.0" font-size="6.55" text-anchor="end">0</text>
<text x="310.2" y="391.9" font-size="6.55" text-anchor="middle">0</text>
<text x="411.9" y="391.9" font-size="6.55" text-anchor="middle">1.0</text>
<text x="361.0" y="400.6" font-size="6.55" text-anchor="middle">False positive rate</text>
<text transform="translate(290.3 332.1) rotate(-90)" font-size="6.55" text-anchor="middle">True positive rate</text>
<polyline points="310.17,377.75 310.21,375.27 310.26,373.04 310.30,371.04 310.34,369.23 310.38,367.60 310.42,366.13 310.47,364.80 310.51,363.61 310.55,362.53 310.59,361.56 310.64,360.69 310.68,359.90 310.72,359.18 310.76,358.54 310.81,357.96 310.85,357.44 310.89,356.96 310.93,356.54 310.98,356.15 311.02,355.80 311.06,355.48 311.10,355.20 311.15,354.94 311.19,354.70 311.42,353.74 311.66,353.17 311.89,352.81 312.13,352.57 312.36,352.39 312.60,352.26 312.83,352.14 313.07,352.04 313.30,351.94 313.54,351.84 313.77,351.75 314.01,351.66 314.24,351.56 314.48,351.47 314.71,351.38 314.95,351.29 315.18,351.19 315.41,351.10 315.65,351.01 315.88,350.91 316.12,350.82 316.35,350.73 316.59,350.63 316.82,350.54 317.06,350.44 317.29,350.34 317.53,350.25 317.76,350.15 318.00,350.06 318.23,349.96 318.47,349.86 318.70,349.76 318.94,349.66 319.17,349.57 319.41,349.47 319.64,349.37 319.88,349.27 320.11,349.17 320.35,349.07 321.38,348.63 322.40,348.18 323.43,347.72 324.46,347.26 325.49,346.79 326.52,346.31 327.55,345.83 328.58,345.34 329.61,344.85 330.64,344.35 331.67,343.84 332.69,343.32 333.72,342.80 334.75,342.28 335.78,341.74 336.81,341.21 337.84,340.66 338.87,340.11 339.90,339.55 340.93,338.99 341.96,338.42 342.98,337.84 344.01,337.26 345.04,336.67 346.07,336.07 347.10,335.47 348.13,334.87 349.16,334.25 350.19,333.63 351.22,333.01 352.25,332.38 353.28,331.74 354.30,331.10 355.33,330.45 356.36,329.79 357.39,329.13 358.42,328.47 359.45,327.79 360.48,327.11 361.51,326.43 362.54,325.74 363.57,325.04 364.59,324.34 365.62,323.64 366.65,322.92 367.68,322.20 368.71,321.48 369.74,320.75 370.77,320.02 371.80,319.27 372.83,318.53 373.86,317.78 374.88,317.02 375.91,316.26 376.94,315.49 377.97,314.71 379.00,313.94 380.03,313.15 381.06,312.36 382.09,311.57 383.12,310.77 384.15,309.96 385.17,309.15 386.20,308.34 387.23,307.52 388.26,306.69 389.29,305.86 390.32,305.02 391.35,304.18 392.38,303.34 393.41,302.49 394.44,301.63 395.47,300.78 396.49,299.91 397.52,299.04 398.55,298.17 399.58,297.29 400.61,296.41 401.64,295.52 402.67,294.63 403.70,293.74 404.73,292.84 405.76,291.94 406.78,291.03 407.81,290.12 408.84,289.21 409.87,288.29 410.90,287.37 411.93,286.45" fill="none" stroke="#2fb5b3" stroke-width="1.25" stroke-linejoin="round"/>
<polyline points="310.17,377.75 310.21,376.45 310.26,375.27 310.30,374.21 310.34,373.26 310.38,372.39 310.42,371.61 310.47,370.90 310.51,370.27 310.55,369.69 310.59,369.17 310.64,368.69 310.68,368.26 310.72,367.87 310.76,367.52 310.81,367.20 310.85,366.91 310.89,366.65 310.93,366.40 310.98,366.18 311.02,365.98 311.06,365.80 311.10,365.63 311.15,365.48 311.19,365.34 311.42,364.73 311.66,364.32 311.89,364.03 312.13,363.80 312.36,363.60 312.60,363.42 312.83,363.26 313.07,363.10 313.30,362.94 313.54,362.78 313.77,362.63 314.01,362.47 314.24,362.32 314.48,362.16 314.71,362.01 314.95,361.85 315.18,361.70 315.41,361.54 315.65,361.39 315.88,361.24 316.12,361.08 316.35,360.92 316.59,360.77 316.82,360.61 317.06,360.46 317.29,360.30 317.53,360.15 317.76,359.99 318.00,359.83 318.23,359.68 318.47,359.52 318.70,359.37 318.94,359.21 319.17,359.05 319.41,358.89 319.64,358.74 319.88,358.58 320.11,358.42 320.35,358.27 321.38,357.57 322.40,356.88 323.43,356.18 324.46,355.48 325.49,354.78 326.52,354.08 327.55,353.37 328.58,352.66 329.61,351.94 330.64,351.23 331.67,350.51 332.69,349.79 333.72,349.07 334.75,348.34 335.78,347.61 336.81,346.88 337.84,346.15 338.87,345.41 339.90,344.67 340.93,343.93 341.96,343.19 342.98,342.44 344.01,341.69 345.04,340.94 346.07,340.18 347.10,339.43 348.13,338.67 349.16,337.90 350.19,337.14 351.22,336.37 352.25,335.60 353.28,334.83 354.30,334.05 355.33,333.28 356.36,332.49 357.39,331.71 358.42,330.93 359.45,330.14 360.48,329.35 361.51,328.55 362.54,327.76 363.57,326.96 364.59,326.15 365.62,325.35 366.65,324.54 367.68,323.73 368.71,322.92 369.74,322.11 370.77,321.29 371.80,320.47 372.83,319.65 373.86,318.82 374.88,317.99 375.91,317.16 376.94,316.33 377.97,315.49 379.00,314.66 380.03,313.82 381.06,312.97 382.09,312.13 383.12,311.28 384.15,310.43 385.17,309.57 386.20,308.72 387.23,307.86 388.26,306.99 389.29,306.13 390.32,305.26 391.35,304.39 392.38,303.52 393.41,302.65 394.44,301.77 395.47,300.89 396.49,300.01 397.52,299.12 398.55,298.23 399.58,297.34 400.61,296.45 401.64,295.55 402.67,294.65 403.70,293.75 404.73,292.85 405.76,291.94 406.78,291.04 407.81,290.12 408.84,289.21 409.87,288.29 410.90,287.37 411.93,286.45" fill="none" stroke="#2fb5b3" stroke-width="1.25" stroke-linejoin="round"/>
<polyline points="310.17,377.75 310.21,376.00 310.26,374.42 310.30,372.99 310.34,371.71 310.38,370.55 310.42,369.50 310.47,368.56 310.51,367.70 310.55,366.94 310.59,366.24 310.64,365.61 310.68,365.04 310.72,364.53 310.76,364.07 310.81,363.65 310.85,363.27 310.89,362.92 310.93,362.61 310.98,362.32 311.02,362.07 311.06,361.83 311.10,361.62 311.15,361.42 311.19,361.25 311.42,360.50 311.66,360.03 311.89,359.71 312.13,359.48 312.36,359.29 312.60,359.12 312.83,358.98 313.07,358.84 313.30,358.70 313.54,358.57 313.77,358.44 314.01,358.31 314.24,358.18 314.48,358.05 314.71,357.91 314.95,357.78 315.18,357.65 315.41,357.52 315.65,357.39 315.88,357.26 316.12,357.13 316.35,356.99 316.59,356.86 316.82,356.73 317.06,356.60 317.29,356.46 317.53,356.33 317.76,356.20 318.00,356.06 318.23,355.93 318.47,355.80 318.70,355.66 318.94,355.53 319.17,355.39 319.41,355.26 319.64,355.12 319.88,354.99 320.11,354.85 320.35,354.72 321.38,354.12 322.40,353.52 323.43,352.91 324.46,352.30 325.49,351.69 326.52,351.07 327.55,350.45 328.58,349.82 329.61,349.20 330.64,348.56 331.67,347.92 332.69,347.28 333.72,346.64 334.75,345.99 335.78,345.33 336.81,344.68 337.84,344.02 338.87,343.35 339.90,342.68 340.93,342.01 341.96,341.33 342.98,340.65 344.01,339.96 345.04,339.27 346.07,338.58 347.10,337.88 348.13,337.18 349.16,336.48 350.19,335.77 351.22,335.06 352.25,334.34 353.28,333.62 354.30,332.90 355.33,332.17 356.36,331.44 357.39,330.70 358.42,329.96 359.45,329.22 360.48,328.47 361.51,327.72 362.54,326.96 363.57,326.21 364.59,325.44 365.62,324.68 366.65,323.91 367.68,323.13 368.71,322.35 369.74,321.57 370.77,320.79 371.80,320.00 372.83,319.21 373.86,318.41 374.88,317.61 375.91,316.81 376.94,316.00 377.97,315.19 379.00,314.37 380.03,313.55 381.06,312.73 382.09,311.91 383.12,311.08 384.15,310.24 385.17,309.41 386.20,308.57 387.23,307.72 388.26,306.87 389.29,306.02 390.32,305.17 391.35,304.31 392.38,303.45 393.41,302.59 394.44,301.72 395.47,300.84 396.49,299.97 397.52,299.09 398.55,298.21 399.58,297.32 400.61,296.43 401.64,295.54 402.67,294.65 403.70,293.75 404.73,292.85 405.76,291.94 406.78,291.04 407.81,290.12 408.84,289.21 409.87,288.29 410.90,287.37 411.93,286.45" fill="none" stroke="#2fb5b3" stroke-width="1.25" stroke-linejoin="round"/>
<polyline points="310.17,377.75 310.21,375.63 310.26,373.73 310.30,372.01 310.34,370.47 310.38,369.07 310.42,367.81 310.47,366.68 310.51,365.66 310.55,364.73 310.59,363.90 310.64,363.15 310.68,362.47 310.72,361.86 310.76,361.30 310.81,360.80 310.85,360.35 310.89,359.94 310.93,359.57 310.98,359.24 311.02,358.93 311.06,358.66 311.10,358.41 311.15,358.18 311.19,357.97 311.42,357.12 311.66,356.60 311.89,356.26 312.13,356.02 312.36,355.84 312.60,355.69 312.83,355.55 313.07,355.43 313.30,355.31 313.54,355.20 313.77,355.09 314.01,354.98 314.24,354.86 314.48,354.75 314.71,354.64 314.95,354.53 315.18,354.42 315.41,354.30 315.65,354.19 315.88,354.08 316.12,353.96 316.35,353.85 316.59,353.74 316.82,353.62 317.06,353.51 317.29,353.39 317.53,353.28 317.76,353.16 318.00,353.05 318.23,352.93 318.47,352.82 318.70,352.70 318.94,352.58 319.17,352.47 319.41,352.35 319.64,352.23 319.88,352.11 320.11,351.99 320.35,351.88 321.38,351.36 322.40,350.83 323.43,350.30 324.46,349.76 325.49,349.22 326.52,348.67 327.55,348.12 328.58,347.56 329.61,347.00 330.64,346.43 331.67,345.86 332.69,345.28 333.72,344.69 334.75,344.11 335.78,343.51 336.81,342.91 337.84,342.31 338.87,341.70 339.90,341.09 340.93,340.47 341.96,339.84 342.98,339.22 344.01,338.58 345.04,337.94 346.07,337.30 347.10,336.65 348.13,336.00 349.16,335.34 350.19,334.67 351.22,334.00 352.25,333.33 353.28,332.65 354.30,331.97 355.33,331.28 356.36,330.59 357.39,329.89 358.42,329.19 359.45,328.48 360.48,327.77 361.51,327.05 362.54,326.33 363.57,325.60 364.59,324.87 365.62,324.13 366.65,323.39 367.68,322.65 368.71,321.90 369.74,321.14 370.77,320.38 371.80,319.62 372.83,318.85 373.86,318.07 374.88,317.30 375.91,316.51 376.94,315.73 377.97,314.93 379.00,314.14 380.03,313.34 381.06,312.53 382.09,311.72 383.12,310.91 384.15,310.09 385.17,309.27 386.20,308.44 387.23,307.61 388.26,306.77 389.29,305.93 390.32,305.09 391.35,304.24 392.38,303.39 393.41,302.53 394.44,301.67 395.47,300.81 396.49,299.94 397.52,299.06 398.55,298.19 399.58,297.31 400.61,296.42 401.64,295.53 402.67,294.64 403.70,293.74 404.73,292.84 405.76,291.94 406.78,291.03 407.81,290.12 408.84,289.21 409.87,288.29 410.90,287.37 411.93,286.45" fill="none" stroke="#2fb5b3" stroke-width="1.25" stroke-linejoin="round"/>
<polyline points="310.17,377.75 310.21,365.45 310.26,355.41 310.30,347.20 310.34,340.50 310.38,335.00 310.42,330.49 310.47,326.78 310.51,323.72 310.55,321.19 310.59,319.08 310.64,317.33 310.68,315.86 310.72,314.62 310.76,313.57 310.81,312.68 310.85,311.90 310.89,311.23 310.93,310.64 310.98,310.13 311.02,309.66 311.06,309.24 311.10,308.86 311.15,308.51 311.19,308.19 311.42,306.68 311.66,305.45 311.89,304.34 312.13,303.31 312.36,302.34 312.60,301.43 312.83,300.57 313.07,299.76 313.30,298.99 313.54,298.27 313.77,297.58 314.01,296.93 314.24,296.32 314.48,295.75 314.71,295.20 314.95,294.69 315.18,294.20 315.41,293.75 315.65,293.32 315.88,292.91 316.12,292.53 316.35,292.17 316.59,291.82 316.82,291.50 317.06,291.20 317.29,290.92 317.53,290.65 317.76,290.39 318.00,290.15 318.23,289.93 318.47,289.72 318.70,289.52 318.94,289.33 319.17,289.16 319.41,288.99 319.64,288.83 319.88,288.69 320.11,288.55 320.35,288.42 321.38,287.93 322.40,287.57 323.43,287.29 324.46,287.07 325.49,286.92 326.52,286.80 327.55,286.71 328.58,286.64 329.61,286.59 330.64,286.55 331.67,286.52 332.69,286.50 333.72,286.49 334.75,286.48 335.78,286.47 336.81,286.47 337.84,286.46 338.87,286.46 339.90,286.46 340.93,286.46 341.96,286.45 342.98,286.45 344.01,286.45 345.04,286.45 346.07,286.45 347.10,286.45 348.13,286.45 349.16,286.45 350.19,286.45 351.22,286.45 352.25,286.45 353.28,286.45 354.30,286.45 355.33,286.45 356.36,286.45 357.39,286.45 358.42,286.45 359.45,286.45 360.48,286.45 361.51,286.45 362.54,286.45 363.57,286.45 364.59,286.45 365.62,286.45 366.65,286.45 367.68,286.45 368.71,286.45 369.74,286.45 370.77,286.45 371.80,286.45 372.83,286.45 373.86,286.45 374.88,286.45 375.91,286.45 376.94,286.45 377.97,286.45 379.00,286.45 380.03,286.45 381.06,286.45 382.09,286.45 383.12,286.45 384.15,286.45 385.17,286.45 386.20,286.45 387.23,286.45 388.26,286.45 389.29,286.45 390.32,286.45 391.35,286.45 392.38,286.45 393.41,286.45 394.44,286.45 395.47,286.45 396.49,286.45 397.52,286.45 398.55,286.45 399.58,286.45 400.61,286.45 401.64,286.45 402.67,286.45 403.70,286.45 404.73,286.45 405.76,286.45 406.78,286.45 407.81,286.45 408.84,286.45 409.87,286.45 410.90,286.45 411.93,286.45" fill="none" stroke="#f7941d" stroke-width="1.3" stroke-linejoin="round"/>
<line x1="306.1" y1="381.4" x2="416.0" y2="282.8" stroke="#231f20" stroke-width="1.35"/>
<text x="412.9" y="342.4" font-size="5.25" text-anchor="end">AUROC:</text>
<text x="412.9" y="348.9" font-size="5.25" text-anchor="end" fill="#f7941d">uPBM E-score = 0.971</text>
<text x="412.9" y="355.4" font-size="5.25" text-anchor="end" fill="#2fb5b3">HT-SELEX cycle 1 = 0.610</text>
<text x="412.9" y="361.9" font-size="5.25" text-anchor="end" fill="#2fb5b3">HT-SELEX cycle 2 = 0.538</text>
<text x="412.9" y="368.4" font-size="5.25" text-anchor="end" fill="#2fb5b3">HT-SELEX cycle 3 = 0.562</text>
<text x="412.9" y="374.9" font-size="5.25" text-anchor="end" fill="#2fb5b3">HT-SELEX cycle 4 = 0.591</text>
<rect x="306.1" y="411.6" width="109.9" height="98.6" fill="none" stroke="#808285" stroke-width="0.8"/>
<line x1="310.2" y1="510.2" x2="310.2" y2="512.8" stroke="#808285" stroke-width="0.7"/>
<line x1="303.5" y1="506.5" x2="306.1" y2="506.5" stroke="#808285" stroke-width="0.7"/>
<line x1="330.5" y1="510.2" x2="330.5" y2="512.8" stroke="#808285" stroke-width="0.7"/>
<line x1="303.5" y1="488.3" x2="306.1" y2="488.3" stroke="#808285" stroke-width="0.7"/>
<line x1="350.9" y1="510.2" x2="350.9" y2="512.8" stroke="#808285" stroke-width="0.7"/>
<line x1="303.5" y1="470.0" x2="306.1" y2="470.0" stroke="#808285" stroke-width="0.7"/>
<line x1="371.2" y1="510.2" x2="371.2" y2="512.8" stroke="#808285" stroke-width="0.7"/>
<line x1="303.5" y1="451.8" x2="306.1" y2="451.8" stroke="#808285" stroke-width="0.7"/>
<line x1="391.6" y1="510.2" x2="391.6" y2="512.8" stroke="#808285" stroke-width="0.7"/>
<line x1="303.5" y1="433.5" x2="306.1" y2="433.5" stroke="#808285" stroke-width="0.7"/>
<line x1="411.9" y1="510.2" x2="411.9" y2="512.8" stroke="#808285" stroke-width="0.7"/>
<line x1="303.5" y1="415.3" x2="306.1" y2="415.3" stroke="#808285" stroke-width="0.7"/>
<text x="301.8" y="417.6" font-size="6.55" text-anchor="end">1.0</text>
<text x="301.8" y="508.8" font-size="6.55" text-anchor="end">0</text>
<text x="310.2" y="520.7" font-size="6.55" text-anchor="middle">0</text>
<text x="411.9" y="520.7" font-size="6.55" text-anchor="middle">1.0</text>
<text x="361.0" y="529.4" font-size="6.55" text-anchor="middle">False positive rate</text>
<text transform="translate(290.3 460.9) rotate(-90)" font-size="6.55" text-anchor="middle">True positive rate</text>
<polyline points="310.17,506.55 310.21,505.65 310.26,504.82 310.30,504.04 310.34,503.30 310.38,502.59 310.42,501.91 310.47,501.26 310.51,500.63 310.55,500.01 310.59,499.42 310.64,498.84 310.68,498.27 310.72,497.72 310.76,497.18 310.81,496.66 310.85,496.14 310.89,495.63 310.93,495.14 310.98,494.65 311.02,494.17 311.06,493.70 311.10,493.24 311.15,492.79 311.19,492.34 311.42,489.98 311.66,487.80 311.89,485.77 312.13,483.86 312.36,482.06 312.60,480.36 312.83,478.74 313.07,477.19 313.30,475.72 313.54,474.31 313.77,472.96 314.01,471.66 314.24,470.41 314.48,469.21 314.71,468.05 314.95,466.93 315.18,465.85 315.41,464.81 315.65,463.80 315.88,462.82 316.12,461.87 316.35,460.94 316.59,460.05 316.82,459.18 317.06,458.33 317.29,457.51 317.53,456.71 317.76,455.94 318.00,455.18 318.23,454.44 318.47,453.72 318.70,453.02 318.94,452.33 319.17,451.67 319.41,451.02 319.64,450.38 319.88,449.76 320.11,449.15 320.35,448.56 321.38,446.11 322.40,443.88 323.43,441.85 324.46,439.99 325.49,438.28 326.52,436.71 327.55,435.25 328.58,433.91 329.61,432.66 330.64,431.51 331.67,430.43 332.69,429.44 333.72,428.50 334.75,427.64 335.78,426.83 336.81,426.07 337.84,425.36 338.87,424.70 339.90,424.08 340.93,423.50 341.96,422.96 342.98,422.45 344.01,421.98 345.04,421.53 346.07,421.11 347.10,420.72 348.13,420.35 349.16,420.00 350.19,419.68 351.22,419.38 352.25,419.09 353.28,418.82 354.30,418.57 355.33,418.34 356.36,418.11 357.39,417.91 358.42,417.71 359.45,417.53 360.48,417.36 361.51,417.20 362.54,417.05 363.57,416.91 364.59,416.78 365.62,416.66 366.65,416.55 367.68,416.44 368.71,416.34 369.74,416.25 370.77,416.17 371.80,416.09 372.83,416.01 373.86,415.94 374.88,415.88 375.91,415.82 376.94,415.77 377.97,415.72 379.00,415.67 380.03,415.63 381.06,415.59 382.09,415.55 383.12,415.52 384.15,415.49 385.17,415.46 386.20,415.44 387.23,415.41 388.26,415.39 389.29,415.37 390.32,415.36 391.35,415.34 392.38,415.33 393.41,415.32 394.44,415.31 395.47,415.30 396.49,415.29 397.52,415.28 398.55,415.28 399.58,415.27 400.61,415.27 401.64,415.26 402.67,415.26 403.70,415.26 404.73,415.26 405.76,415.25 406.78,415.25 407.81,415.25 408.84,415.25 409.87,415.25 410.90,415.25 411.93,415.25" fill="none" stroke="#2fb5b3" stroke-width="1.25" stroke-linejoin="round"/>
<polyline points="310.17,506.31 310.21,483.63 310.26,478.81 310.30,475.65 310.34,473.26 310.38,471.33 310.42,469.69 310.47,468.27 310.51,467.01 310.55,465.88 310.59,464.85 310.64,463.91 310.68,463.04 310.72,462.23 310.76,461.47 310.81,460.76 310.85,460.09 310.89,459.46 310.93,458.86 310.98,458.29 311.02,457.75 311.06,457.22 311.10,456.73 311.15,456.25 311.19,455.79 311.42,453.52 311.66,451.62 311.89,449.98 312.13,448.55 312.36,447.27 312.60,446.11 312.83,445.07 313.07,444.11 313.30,443.22 313.54,442.40 313.77,441.64 314.01,440.92 314.24,440.25 314.48,439.62 314.71,439.02 314.95,438.45 315.18,437.92 315.41,437.40 315.65,436.92 315.88,436.45 316.12,436.01 316.35,435.58 316.59,435.17 316.82,434.78 317.06,434.40 317.29,434.04 317.53,433.68 317.76,433.35 318.00,433.02 318.23,432.70 318.47,432.40 318.70,432.10 318.94,431.81 319.17,431.53 319.41,431.26 319.64,431.00 319.88,430.75 320.11,430.50 320.35,430.26 321.38,429.27 322.40,428.39 323.43,427.60 324.46,426.87 325.49,426.21 326.52,425.61 327.55,425.05 328.58,424.53 329.61,424.05 330.64,423.60 331.67,423.18 332.69,422.79 333.72,422.43 334.75,422.08 335.78,421.76 336.81,421.45 337.84,421.16 338.87,420.89 339.90,420.63 340.93,420.38 341.96,420.15 342.98,419.93 344.01,419.72 345.04,419.51 346.07,419.32 347.10,419.14 348.13,418.97 349.16,418.80 350.19,418.64 351.22,418.49 352.25,418.34 353.28,418.20 354.30,418.07 355.33,417.94 356.36,417.82 357.39,417.70 358.42,417.59 359.45,417.48 360.48,417.38 361.51,417.28 362.54,417.18 363.57,417.09 364.59,417.00 365.62,416.91 366.65,416.83 367.68,416.75 368.71,416.68 369.74,416.61 370.77,416.54 371.80,416.47 372.83,416.41 373.86,416.34 374.88,416.28 375.91,416.23 376.94,416.17 377.97,416.12 379.00,416.07 380.03,416.02 381.06,415.97 382.09,415.93 383.12,415.88 384.15,415.84 385.17,415.80 386.20,415.77 387.23,415.73 388.26,415.69 389.29,415.66 390.32,415.63 391.35,415.60 392.38,415.57 393.41,415.54 394.44,415.52 395.47,415.49 396.49,415.47 397.52,415.44 398.55,415.42 399.58,415.40 400.61,415.38 401.64,415.37 402.67,415.35 403.70,415.33 404.73,415.32 405.76,415.31 406.78,415.29 407.81,415.28 408.84,415.27 409.87,415.26 410.90,415.26 411.93,415.25" fill="none" stroke="#2fb5b3" stroke-width="1.25" stroke-linejoin="round"/>
<polyline points="310.17,506.55 310.21,505.58 310.26,504.70 310.30,503.88 310.34,503.10 310.38,502.36 310.42,501.66 310.47,500.97 310.51,500.32 310.55,499.68 310.59,499.06 310.64,498.46 310.68,497.87 310.72,497.30 310.76,496.75 310.81,496.20 310.85,495.67 310.89,495.15 310.93,494.63 310.98,494.13 311.02,493.64 311.06,493.16 311.10,492.68 311.15,492.21 311.19,491.76 311.42,489.34 311.66,487.11 311.89,485.03 312.13,483.09 312.36,481.26 312.60,479.53 312.83,477.89 313.07,476.32 313.30,474.83 313.54,473.41 313.77,472.05 314.01,470.74 314.24,469.48 314.48,468.27 314.71,467.11 314.95,465.98 315.18,464.90 315.41,463.85 315.65,462.84 315.88,461.85 316.12,460.90 316.35,459.98 316.59,459.09 316.82,458.22 317.06,457.38 317.29,456.56 317.53,455.76 317.76,454.98 318.00,454.23 318.23,453.49 318.47,452.78 318.70,452.08 318.94,451.40 319.17,450.74 319.41,450.09 319.64,449.46 319.88,448.84 320.11,448.24 320.35,447.65 321.38,445.23 322.40,443.03 323.43,441.03 324.46,439.20 325.49,437.52 326.52,435.97 327.55,434.55 328.58,433.23 329.61,432.02 330.64,430.89 331.67,429.84 332.69,428.87 333.72,427.96 334.75,427.12 335.78,426.33 336.81,425.60 337.84,424.92 338.87,424.28 339.90,423.68 340.93,423.12 341.96,422.60 342.98,422.11 344.01,421.65 345.04,421.22 346.07,420.81 347.10,420.44 348.13,420.08 349.16,419.75 350.19,419.44 351.22,419.15 352.25,418.88 353.28,418.62 354.30,418.38 355.33,418.16 356.36,417.95 357.39,417.75 358.42,417.57 359.45,417.39 360.48,417.23 361.51,417.08 362.54,416.94 363.57,416.81 364.59,416.69 365.62,416.57 366.65,416.46 367.68,416.36 368.71,416.27 369.74,416.18 370.77,416.10 371.80,416.03 372.83,415.96 373.86,415.89 374.88,415.83 375.91,415.78 376.94,415.73 377.97,415.68 379.00,415.64 380.03,415.60 381.06,415.56 382.09,415.53 383.12,415.50 384.15,415.47 385.17,415.44 386.20,415.42 387.23,415.40 388.26,415.38 389.29,415.36 390.32,415.35 391.35,415.33 392.38,415.32 393.41,415.31 394.44,415.30 395.47,415.29 396.49,415.29 397.52,415.28 398.55,415.27 399.58,415.27 400.61,415.27 401.64,415.26 402.67,415.26 403.70,415.26 404.73,415.26 405.76,415.25 406.78,415.25 407.81,415.25 408.84,415.25 409.87,415.25 410.90,415.25 411.93,415.25" fill="none" stroke="#2fb5b3" stroke-width="1.25" stroke-linejoin="round"/>
<polyline points="310.17,506.50 310.21,491.98 310.26,487.95 310.30,485.19 310.34,483.03 310.38,481.25 310.42,479.71 310.47,478.36 310.51,477.15 310.55,476.05 310.59,475.04 310.64,474.10 310.68,473.23 310.72,472.42 310.76,471.65 310.81,470.93 310.85,470.24 310.89,469.59 310.93,468.97 310.98,468.38 311.02,467.81 311.06,467.26 311.10,466.74 311.15,466.23 311.19,465.74 311.42,463.31 311.66,461.24 311.89,459.43 312.13,457.82 312.36,456.38 312.60,455.06 312.83,453.86 313.07,452.75 313.30,451.72 313.54,450.75 313.77,449.85 314.01,449.00 314.24,448.20 314.48,447.45 314.71,446.73 314.95,446.04 315.18,445.39 315.41,444.77 315.65,444.17 315.88,443.60 316.12,443.05 316.35,442.53 316.59,442.02 316.82,441.53 317.06,441.06 317.29,440.61 317.53,440.17 317.76,439.74 318.00,439.33 318.23,438.93 318.47,438.54 318.70,438.17 318.94,437.80 319.17,437.45 319.41,437.10 319.64,436.77 319.88,436.44 320.11,436.12 320.35,435.81 321.38,434.54 322.40,433.39 323.43,432.35 324.46,431.40 325.49,430.52 326.52,429.71 327.55,428.96 328.58,428.27 329.61,427.62 330.64,427.01 331.67,426.44 332.69,425.91 333.72,425.40 334.75,424.93 335.78,424.48 336.81,424.06 337.84,423.66 338.87,423.28 339.90,422.92 340.93,422.57 341.96,422.25 342.98,421.93 344.01,421.64 345.04,421.35 346.07,421.08 347.10,420.83 348.13,420.58 349.16,420.34 350.19,420.12 351.22,419.90 352.25,419.69 353.28,419.49 354.30,419.30 355.33,419.12 356.36,418.94 357.39,418.77 358.42,418.61 359.45,418.46 360.48,418.31 361.51,418.16 362.54,418.03 363.57,417.89 364.59,417.77 365.62,417.64 366.65,417.52 367.68,417.41 368.71,417.30 369.74,417.20 370.77,417.10 371.80,417.00 372.83,416.91 373.86,416.82 374.88,416.73 375.91,416.65 376.94,416.57 377.97,416.49 379.00,416.42 380.03,416.35 381.06,416.28 382.09,416.21 383.12,416.15 384.15,416.09 385.17,416.04 386.20,415.98 387.23,415.93 388.26,415.88 389.29,415.83 390.32,415.78 391.35,415.74 392.38,415.70 393.41,415.66 394.44,415.62 395.47,415.58 396.49,415.55 397.52,415.52 398.55,415.49 399.58,415.46 400.61,415.43 401.64,415.41 402.67,415.38 403.70,415.36 404.73,415.34 405.76,415.32 406.78,415.31 407.81,415.29 408.84,415.28 409.87,415.27 410.90,415.26 411.93,415.25" fill="none" stroke="#2fb5b3" stroke-width="1.25" stroke-linejoin="round"/>
<polyline points="310.17,506.55 310.21,493.76 310.26,483.31 310.30,474.75 310.34,467.73 310.38,461.96 310.42,457.21 310.47,453.29 310.51,450.03 310.55,447.33 310.59,445.07 310.64,443.17 310.68,441.57 310.72,440.20 310.76,439.04 310.81,438.03 310.85,437.16 310.89,436.39 310.93,435.71 310.98,435.11 311.02,434.56 311.06,434.07 311.10,433.61 311.15,433.19 311.19,432.80 311.42,430.97 311.66,429.48 311.89,428.18 312.13,427.01 312.36,425.95 312.60,424.99 312.83,424.11 313.07,423.31 313.30,422.58 313.54,421.91 313.77,421.30 314.01,420.75 314.24,420.25 314.48,419.79 314.71,419.37 314.95,418.99 315.18,418.65 315.41,418.33 315.65,418.04 315.88,417.78 316.12,417.55 316.35,417.33 316.59,417.14 316.82,416.96 317.06,416.80 317.29,416.65 317.53,416.52 317.76,416.40 318.00,416.29 318.23,416.19 318.47,416.10 318.70,416.02 318.94,415.95 319.17,415.88 319.41,415.82 319.64,415.77 319.88,415.72 320.11,415.67 320.35,415.63 321.38,415.49 322.40,415.40 323.43,415.35 324.46,415.31 325.49,415.29 326.52,415.28 327.55,415.27 328.58,415.26 329.61,415.26 330.64,415.26 331.67,415.25 332.69,415.25 333.72,415.25 334.75,415.25 335.78,415.25 336.81,415.25 337.84,415.25 338.87,415.25 339.90,415.25 340.93,415.25 341.96,415.25 342.98,415.25 344.01,415.25 345.04,415.25 346.07,415.25 347.10,415.25 348.13,415.25 349.16,415.25 350.19,415.25 351.22,415.25 352.25,415.25 353.28,415.25 354.30,415.25 355.33,415.25 356.36,415.25 357.39,415.25 358.42,415.25 359.45,415.25 360.48,415.25 361.51,415.25 362.54,415.25 363.57,415.25 364.59,415.25 365.62,415.25 366.65,415.25 367.68,415.25 368.71,415.25 369.74,415.25 370.77,415.25 371.80,415.25 372.83,415.25 373.86,415.25 374.88,415.25 375.91,415.25 376.94,415.25 377.97,415.25 379.00,415.25 380.03,415.25 381.06,415.25 382.09,415.25 383.12,415.25 384.15,415.25 385.17,415.25 386.20,415.25 387.23,415.25 388.26,415.25 389.29,415.25 390.32,415.25 391.35,415.25 392.38,415.25 393.41,415.25 394.44,415.25 395.47,415.25 396.49,415.25 397.52,415.25 398.55,415.25 399.58,415.25 400.61,415.25 401.64,415.25 402.67,415.25 403.70,415.25 404.73,415.25 405.76,415.25 406.78,415.25 407.81,415.25 408.84,415.25 409.87,415.25 410.90,415.25 411.93,415.25" fill="none" stroke="#f7941d" stroke-width="1.3" stroke-linejoin="round"/>
<line x1="306.1" y1="510.2" x2="416.0" y2="411.6" stroke="#231f20" stroke-width="1.35"/>
<text x="412.9" y="471.2" font-size="5.25" text-anchor="end">AUROC:</text>
<text x="412.9" y="477.7" font-size="5.25" text-anchor="end" fill="#f7941d">uPBM E-score = 0.984</text>
<text x="412.9" y="484.2" font-size="5.25" text-anchor="end" fill="#2fb5b3">HT-SELEX cycle 1 = 0.890</text>
<text x="412.9" y="490.7" font-size="5.25" text-anchor="end" fill="#2fb5b3">HT-SELEX cycle 2 = 0.941</text>
<text x="412.9" y="497.2" font-size="5.25" text-anchor="end" fill="#2fb5b3">HT-SELEX cycle 3 = 0.893</text>
<text x="412.9" y="503.7" font-size="5.25" text-anchor="end" fill="#2fb5b3">HT-SELEX cycle 4 = 0.920</text>
<rect x="306.1" y="540.9" width="109.9" height="98.6" fill="none" stroke="#808285" stroke-width="0.8"/>
<line x1="310.2" y1="639.5" x2="310.2" y2="642.1" stroke="#808285" stroke-width="0.7"/>
<line x1="303.5" y1="635.8" x2="306.1" y2="635.8" stroke="#808285" stroke-width="0.7"/>
<line x1="330.5" y1="639.5" x2="330.5" y2="642.1" stroke="#808285" stroke-width="0.7"/>
<line x1="303.5" y1="617.6" x2="306.1" y2="617.6" stroke="#808285" stroke-width="0.7"/>
<line x1="350.9" y1="639.5" x2="350.9" y2="642.1" stroke="#808285" stroke-width="0.7"/>
<line x1="303.5" y1="599.3" x2="306.1" y2="599.3" stroke="#808285" stroke-width="0.7"/>
<line x1="371.2" y1="639.5" x2="371.2" y2="642.1" stroke="#808285" stroke-width="0.7"/>
<line x1="303.5" y1="581.1" x2="306.1" y2="581.1" stroke="#808285" stroke-width="0.7"/>
<line x1="391.6" y1="639.5" x2="391.6" y2="642.1" stroke="#808285" stroke-width="0.7"/>
<line x1="303.5" y1="562.8" x2="306.1" y2="562.8" stroke="#808285" stroke-width="0.7"/>
<line x1="411.9" y1="639.5" x2="411.9" y2="642.1" stroke="#808285" stroke-width="0.7"/>
<line x1="303.5" y1="544.6" x2="306.1" y2="544.6" stroke="#808285" stroke-width="0.7"/>
<text x="301.8" y="546.9" font-size="6.55" text-anchor="end">1.0</text>
<text x="301.8" y="638.1" font-size="6.55" text-anchor="end">0</text>
<text x="310.2" y="650.0" font-size="6.55" text-anchor="middle">0</text>
<text x="411.9" y="650.0" font-size="6.55" text-anchor="middle">1.0</text>
<text x="361.0" y="658.7" font-size="6.55" text-anchor="middle">False positive rate</text>
<text transform="translate(290.3 590.2) rotate(-90)" font-size="6.55" text-anchor="middle">True positive rate</text>
<polyline points="310.17,635.84 310.21,631.38 310.26,629.83 310.30,628.70 310.34,627.77 310.38,626.98 310.42,626.27 310.47,625.64 310.51,625.05 310.55,624.51 310.59,624.00 310.64,623.53 310.68,623.08 310.72,622.65 310.76,622.24 310.81,621.85 310.85,621.47 310.89,621.11 310.93,620.77 310.98,620.43 311.02,620.10 311.06,619.79 311.10,619.48 311.15,619.18 311.19,618.89 311.42,617.41 311.66,616.09 311.89,614.89 312.13,613.80 312.36,612.78 312.60,611.84 312.83,610.95 313.07,610.10 313.30,609.30 313.54,608.54 313.77,607.82 314.01,607.12 314.24,606.45 314.48,605.80 314.71,605.18 314.95,604.58 315.18,603.99 315.41,603.43 315.65,602.88 315.88,602.35 316.12,601.83 316.35,601.32 316.59,600.83 316.82,600.35 317.06,599.88 317.29,599.42 317.53,598.97 317.76,598.53 318.00,598.10 318.23,597.68 318.47,597.26 318.70,596.85 318.94,596.46 319.17,596.06 319.41,595.68 319.64,595.30 319.88,594.93 320.11,594.56 320.35,594.20 321.38,592.69 322.40,591.27 323.43,589.93 324.46,588.66 325.49,587.45 326.52,586.30 327.55,585.20 328.58,584.14 329.61,583.13 330.64,582.15 331.67,581.21 332.69,580.30 333.72,579.42 334.75,578.57 335.78,577.74 336.81,576.94 337.84,576.15 338.87,575.40 339.90,574.66 340.93,573.94 341.96,573.23 342.98,572.55 344.01,571.88 345.04,571.22 346.07,570.58 347.10,569.96 348.13,569.34 349.16,568.74 350.19,568.16 351.22,567.58 352.25,567.01 353.28,566.46 354.30,565.91 355.33,565.38 356.36,564.85 357.39,564.34 358.42,563.83 359.45,563.33 360.48,562.84 361.51,562.36 362.54,561.88 363.57,561.42 364.59,560.96 365.62,560.50 366.65,560.06 367.68,559.62 368.71,559.18 369.74,558.76 370.77,558.33 371.80,557.92 372.83,557.51 373.86,557.10 374.88,556.71 375.91,556.31 376.94,555.92 377.97,555.54 379.00,555.16 380.03,554.79 381.06,554.42 382.09,554.05 383.12,553.69 384.15,553.33 385.17,552.98 386.20,552.63 387.23,552.28 388.26,551.94 389.29,551.60 390.32,551.27 391.35,550.94 392.38,550.61 393.41,550.28 394.44,549.96 395.47,549.64 396.49,549.33 397.52,549.01 398.55,548.70 399.58,548.39 400.61,548.08 401.64,547.78 402.67,547.48 403.70,547.17 404.73,546.87 405.76,546.57 406.78,546.26 407.81,545.96 408.84,545.65 409.87,545.33 410.90,544.99 411.93,544.55" fill="none" stroke="#2fb5b3" stroke-width="1.25" stroke-linejoin="round"/>
<polyline points="310.17,635.84 310.21,629.01 310.26,626.40 310.30,624.50 310.34,622.94 310.38,621.61 310.42,620.44 310.47,619.38 310.51,618.41 310.55,617.52 310.59,616.69 310.64,615.91 310.68,615.18 310.72,614.49 310.76,613.83 310.81,613.20 310.85,612.60 310.89,612.02 310.93,611.47 310.98,610.93 311.02,610.42 311.06,609.92 311.10,609.44 311.15,608.97 311.19,608.52 311.42,606.23 311.66,604.22 311.89,602.43 312.13,600.81 312.36,599.33 312.60,597.96 312.83,596.69 313.07,595.50 313.30,594.39 313.54,593.34 313.77,592.34 314.01,591.40 314.24,590.50 314.48,589.64 314.71,588.82 314.95,588.03 315.18,587.28 315.41,586.55 315.65,585.85 315.88,585.18 316.12,584.53 316.35,583.90 316.59,583.29 316.82,582.70 317.06,582.13 317.29,581.57 317.53,581.03 317.76,580.51 318.00,580.00 318.23,579.50 318.47,579.01 318.70,578.54 318.94,578.08 319.17,577.63 319.41,577.20 319.64,576.77 319.88,576.35 320.11,575.94 320.35,575.54 321.38,573.89 322.40,572.37 323.43,570.97 324.46,569.68 325.49,568.48 326.52,567.36 327.55,566.32 328.58,565.33 329.61,564.41 330.64,563.54 331.67,562.71 332.69,561.93 333.72,561.19 334.75,560.49 335.78,559.82 336.81,559.18 337.84,558.58 338.87,558.00 339.90,557.44 340.93,556.91 341.96,556.41 342.98,555.92 344.01,555.45 345.04,555.01 346.07,554.58 347.10,554.17 348.13,553.77 349.16,553.39 350.19,553.02 351.22,552.67 352.25,552.33 353.28,552.01 354.30,551.69 355.33,551.39 356.36,551.10 357.39,550.82 358.42,550.54 359.45,550.28 360.48,550.03 361.51,549.79 362.54,549.55 363.57,549.32 364.59,549.11 365.62,548.89 366.65,548.69 367.68,548.49 368.71,548.30 369.74,548.12 370.77,547.94 371.80,547.77 372.83,547.61 373.86,547.45 374.88,547.29 375.91,547.15 376.94,547.00 377.97,546.87 379.00,546.73 380.03,546.61 381.06,546.48 382.09,546.36 383.12,546.25 384.15,546.14 385.17,546.03 386.20,545.93 387.23,545.84 388.26,545.74 389.29,545.65 390.32,545.57 391.35,545.49 392.38,545.41 393.41,545.33 394.44,545.26 395.47,545.19 396.49,545.13 397.52,545.07 398.55,545.01 399.58,544.95 400.61,544.90 401.64,544.85 402.67,544.81 403.70,544.77 404.73,544.73 405.76,544.69 406.78,544.66 407.81,544.63 408.84,544.60 409.87,544.58 410.90,544.56 411.93,544.55" fill="none" stroke="#2fb5b3" stroke-width="1.25" stroke-linejoin="round"/>
<polyline points="310.17,635.84 310.21,628.83 310.26,626.18 310.30,624.24 310.34,622.67 310.38,621.32 310.42,620.13 310.47,619.06 310.51,618.08 310.55,617.18 310.59,616.34 310.64,615.55 310.68,614.81 310.72,614.11 310.76,613.45 310.81,612.81 310.85,612.20 310.89,611.62 310.93,611.06 310.98,610.53 311.02,610.01 311.06,609.51 311.10,609.02 311.15,608.55 311.19,608.09 311.42,605.78 311.66,603.77 311.89,601.97 312.13,600.34 312.36,598.85 312.60,597.48 312.83,596.21 313.07,595.02 313.30,593.90 313.54,592.85 313.77,591.86 314.01,590.91 314.24,590.01 314.48,589.15 314.71,588.33 314.95,587.55 315.18,586.79 315.41,586.07 315.65,585.37 315.88,584.70 316.12,584.05 316.35,583.42 316.59,582.81 316.82,582.22 317.06,581.65 317.29,581.10 317.53,580.56 317.76,580.04 318.00,579.53 318.23,579.03 318.47,578.55 318.70,578.08 318.94,577.62 319.17,577.18 319.41,576.74 319.64,576.32 319.88,575.90 320.11,575.49 320.35,575.09 321.38,573.45 322.40,571.94 323.43,570.56 324.46,569.28 325.49,568.09 326.52,566.98 327.55,565.94 328.58,564.97 329.61,564.05 330.64,563.19 331.67,562.37 332.69,561.60 333.72,560.87 334.75,560.18 335.78,559.52 336.81,558.89 337.84,558.29 338.87,557.72 339.90,557.17 340.93,556.65 341.96,556.15 342.98,555.67 344.01,555.21 345.04,554.77 346.07,554.35 347.10,553.95 348.13,553.56 349.16,553.18 350.19,552.82 351.22,552.48 352.25,552.15 353.28,551.82 354.30,551.52 355.33,551.22 356.36,550.93 357.39,550.66 358.42,550.39 359.45,550.13 360.48,549.89 361.51,549.65 362.54,549.42 363.57,549.20 364.59,548.98 365.62,548.77 366.65,548.57 367.68,548.38 368.71,548.20 369.74,548.02 370.77,547.84 371.80,547.68 372.83,547.52 373.86,547.36 374.88,547.21 375.91,547.07 376.94,546.93 377.97,546.79 379.00,546.67 380.03,546.54 381.06,546.42 382.09,546.31 383.12,546.20 384.15,546.09 385.17,545.99 386.20,545.89 387.23,545.79 388.26,545.70 389.29,545.62 390.32,545.53 391.35,545.45 392.38,545.38 393.41,545.30 394.44,545.24 395.47,545.17 396.49,545.11 397.52,545.05 398.55,544.99 399.58,544.94 400.61,544.89 401.64,544.84 402.67,544.80 403.70,544.76 404.73,544.72 405.76,544.69 406.78,544.65 407.81,544.63 408.84,544.60 409.87,544.58 410.90,544.56 411.93,544.55" fill="none" stroke="#2fb5b3" stroke-width="1.25" stroke-linejoin="round"/>
<polyline points="310.17,635.84 310.21,628.23 310.26,625.49 310.30,623.50 310.34,621.90 310.38,620.53 310.42,619.33 310.47,618.25 310.51,617.26 310.55,616.36 310.59,615.52 310.64,614.73 310.68,613.99 310.72,613.29 310.76,612.63 310.81,612.00 310.85,611.39 310.89,610.81 310.93,610.26 310.98,609.72 311.02,609.21 311.06,608.71 311.10,608.23 311.15,607.77 311.19,607.31 311.42,605.03 311.66,603.04 311.89,601.27 312.13,599.67 312.36,598.21 312.60,596.86 312.83,595.61 313.07,594.45 313.30,593.36 313.54,592.32 313.77,591.35 314.01,590.43 314.24,589.55 314.48,588.71 314.71,587.91 314.95,587.14 315.18,586.40 315.41,585.69 315.65,585.01 315.88,584.36 316.12,583.72 316.35,583.11 316.59,582.51 316.82,581.94 317.06,581.38 317.29,580.84 317.53,580.32 317.76,579.81 318.00,579.31 318.23,578.83 318.47,578.36 318.70,577.90 318.94,577.45 319.17,577.02 319.41,576.59 319.64,576.17 319.88,575.77 320.11,575.37 320.35,574.98 321.38,573.38 322.40,571.91 323.43,570.55 324.46,569.30 325.49,568.13 326.52,567.05 327.55,566.03 328.58,565.08 329.61,564.18 330.64,563.33 331.67,562.53 332.69,561.77 333.72,561.05 334.75,560.37 335.78,559.72 336.81,559.10 337.84,558.51 338.87,557.94 339.90,557.40 340.93,556.88 341.96,556.39 342.98,555.91 344.01,555.46 345.04,555.02 346.07,554.60 347.10,554.20 348.13,553.81 349.16,553.44 350.19,553.08 351.22,552.73 352.25,552.40 353.28,552.08 354.30,551.77 355.33,551.47 356.36,551.18 357.39,550.90 358.42,550.63 359.45,550.37 360.48,550.12 361.51,549.88 362.54,549.65 363.57,549.42 364.59,549.21 365.62,549.00 366.65,548.79 367.68,548.60 368.71,548.41 369.74,548.22 370.77,548.04 371.80,547.87 372.83,547.71 373.86,547.55 374.88,547.39 375.91,547.24 376.94,547.10 377.97,546.96 379.00,546.83 380.03,546.70 381.06,546.57 382.09,546.45 383.12,546.34 384.15,546.22 385.17,546.12 386.20,546.01 387.23,545.91 388.26,545.82 389.29,545.72 390.32,545.64 391.35,545.55 392.38,545.47 393.41,545.39 394.44,545.32 395.47,545.25 396.49,545.18 397.52,545.11 398.55,545.05 399.58,544.99 400.61,544.94 401.64,544.89 402.67,544.84 403.70,544.79 404.73,544.75 405.76,544.71 406.78,544.67 407.81,544.64 408.84,544.61 409.87,544.59 410.90,544.57 411.93,544.55" fill="none" stroke="#2fb5b3" stroke-width="1.25" stroke-linejoin="round"/>
<polyline points="310.17,635.85 310.21,622.02 310.26,610.78 310.30,601.63 310.34,594.19 310.38,588.13 310.42,583.20 310.47,579.17 310.51,575.89 310.55,573.21 310.59,571.01 310.64,569.22 310.68,567.74 310.72,566.53 310.76,565.53 310.81,564.70 310.85,564.01 310.89,563.43 310.93,562.95 310.98,562.54 311.02,562.20 311.06,561.90 311.10,561.65 311.15,561.42 311.19,561.23 311.42,560.44 311.66,559.90 311.89,559.44 312.13,559.02 312.36,558.61 312.60,558.22 312.83,557.84 313.07,557.46 313.30,557.10 313.54,556.75 313.77,556.40 314.01,556.07 314.24,555.74 314.48,555.42 314.71,555.11 314.95,554.81 315.18,554.51 315.41,554.23 315.65,553.95 315.88,553.68 316.12,553.41 316.35,553.16 316.59,552.91 316.82,552.66 317.06,552.43 317.29,552.20 317.53,551.97 317.76,551.75 318.00,551.54 318.23,551.33 318.47,551.13 318.70,550.94 318.94,550.75 319.17,550.56 319.41,550.38 319.64,550.21 319.88,550.04 320.11,549.87 320.35,549.71 321.38,549.05 322.40,548.48 323.43,547.97 324.46,547.52 325.49,547.13 326.52,546.78 327.55,546.48 328.58,546.22 329.61,545.99 330.64,545.79 331.67,545.61 332.69,545.46 333.72,545.33 334.75,545.21 335.78,545.11 336.81,545.03 337.84,544.96 338.87,544.89 339.90,544.84 340.93,544.80 341.96,544.76 342.98,544.72 344.01,544.69 345.04,544.67 346.07,544.65 347.10,544.63 348.13,544.62 349.16,544.61 350.19,544.60 351.22,544.59 352.25,544.58 353.28,544.58 354.30,544.57 355.33,544.57 356.36,544.56 357.39,544.56 358.42,544.56 359.45,544.56 360.48,544.56 361.51,544.56 362.54,544.55 363.57,544.55 364.59,544.55 365.62,544.55 366.65,544.55 367.68,544.55 368.71,544.55 369.74,544.55 370.77,544.55 371.80,544.55 372.83,544.55 373.86,544.55 374.88,544.55 375.91,544.55 376.94,544.55 377.97,544.55 379.00,544.55 380.03,544.55 381.06,544.55 382.09,544.55 383.12,544.55 384.15,544.55 385.17,544.55 386.20,544.55 387.23,544.55 388.26,544.55 389.29,544.55 390.32,544.55 391.35,544.55 392.38,544.55 393.41,544.55 394.44,544.55 395.47,544.55 396.49,544.55 397.52,544.55 398.55,544.55 399.58,544.55 400.61,544.55 401.64,544.55 402.67,544.55 403.70,544.55 404.73,544.55 405.76,544.55 406.78,544.55 407.81,544.55 408.84,544.55 409.87,544.55 410.90,544.55 411.93,544.55" fill="none" stroke="#f7941d" stroke-width="1.3" stroke-linejoin="round"/>
<line x1="306.1" y1="639.5" x2="416.0" y2="540.9" stroke="#231f20" stroke-width="1.35"/>
<text x="412.9" y="600.3" font-size="5.25" text-anchor="end">AUROC:</text>
<text x="412.9" y="606.8" font-size="5.25" text-anchor="end" fill="#f7941d">uPBM E-score = 0.993</text>
<text x="412.9" y="613.3" font-size="5.25" text-anchor="end" fill="#2fb5b3">HT-SELEX cycle 1 = 0.752</text>
<text x="412.9" y="619.8" font-size="5.25" text-anchor="end" fill="#2fb5b3">HT-SELEX cycle 2 = 0.878</text>
<text x="412.9" y="626.3" font-size="5.25" text-anchor="end" fill="#2fb5b3">HT-SELEX cycle 3 = 0.880</text>
<text x="412.9" y="632.8" font-size="5.25" text-anchor="end" fill="#2fb5b3">HT-SELEX cycle 4 = 0.879</text>
<line x1="578.4" y1="153.6" x2="578.4" y2="241.2" stroke="#808285" stroke-width="0.8"/>
<line x1="578.4" y1="241.2" x2="615.8" y2="241.2" stroke="#808285" stroke-width="0.8"/>
<line x1="575.8" y1="235.7" x2="578.4" y2="235.7" stroke="#808285" stroke-width="0.7"/>
<text x="574.4" y="238.0" font-size="6.55" text-anchor="end">0.5</text>
<line x1="575.8" y1="208.0" x2="578.4" y2="208.0" stroke="#808285" stroke-width="0.7"/>
<text x="574.4" y="210.3" font-size="6.55" text-anchor="end">1.5</text>
<line x1="575.8" y1="180.4" x2="578.4" y2="180.4" stroke="#808285" stroke-width="0.7"/>
<text x="574.4" y="182.7" font-size="6.55" text-anchor="end">2.5</text>
<line x1="575.8" y1="221.8" x2="578.4" y2="221.8" stroke="#808285" stroke-width="0.7"/>
<line x1="575.8" y1="194.2" x2="578.4" y2="194.2" stroke="#808285" stroke-width="0.7"/>
<line x1="589.8" y1="193.0" x2="589.8" y2="212.4" stroke="#231f20" stroke-width="0.75" stroke-dasharray="3.2 2.2"/>
<line x1="589.8" y1="226.3" x2="589.8" y2="237.8" stroke="#231f20" stroke-width="0.75" stroke-dasharray="3.2 2.2"/>
<line x1="586.7" y1="193.0" x2="592.9" y2="193.0" stroke="#231f20" stroke-width="0.8"/>
<line x1="586.7" y1="237.8" x2="592.9" y2="237.8" stroke="#231f20" stroke-width="0.8"/>
<polygon points="583.7,212.4 595.9,212.4 595.9,218.3 595.1,220.3 595.9,222.3 595.9,226.3 583.7,226.3 583.7,222.3 584.5,220.3 583.7,218.3" fill="#e31e24" stroke="#8e1b1d" stroke-width="0.7"/>
<line x1="584.5" y1="220.3" x2="595.1" y2="220.3" stroke="#8e1b1d" stroke-width="1"/>
<line x1="605.3" y1="173.7" x2="605.3" y2="187.6" stroke="#231f20" stroke-width="0.75" stroke-dasharray="3.2 2.2"/>
<line x1="605.3" y1="211.7" x2="605.3" y2="230.0" stroke="#231f20" stroke-width="0.75" stroke-dasharray="3.2 2.2"/>
<line x1="602.2" y1="173.7" x2="608.4" y2="173.7" stroke="#231f20" stroke-width="0.8"/>
<line x1="602.2" y1="230.0" x2="608.4" y2="230.0" stroke="#231f20" stroke-width="0.8"/>
<polygon points="599.0,187.6 611.6,187.6 611.6,190.9 609.6,194.5 611.6,198.1 611.6,211.7 599.0,211.7 599.0,198.1 601.0,194.5 599.0,190.9" fill="#2fb5b3" stroke="#1c6f6e" stroke-width="0.7"/>
<line x1="601.0" y1="194.5" x2="609.6" y2="194.5" stroke="#1c6f6e" stroke-width="1"/>
<line x1="589.5" y1="241.2" x2="589.5" y2="243.8" stroke="#808285" stroke-width="0.7"/>
<line x1="603.5" y1="241.2" x2="603.5" y2="243.8" stroke="#808285" stroke-width="0.7"/>
<text x="596.8" y="160.8" font-size="6.55" text-anchor="middle"><tspan font-style="italic">P</tspan> =</text>
<text x="596.9" y="168.4" font-size="6.55" text-anchor="middle">4.49 × 10<tspan font-size="4.4" dy="-2.6">−60</tspan></text>
<line x1="593.7" y1="171.2" x2="601.6" y2="171.2" stroke="#9a9a9a" stroke-width="0.6"/>
<text transform="translate(591.3 248.4) rotate(-47)" font-size="6.55" text-anchor="end"><tspan font-style="italic">n</tspan> = 1,613</text>
<text transform="translate(605.3 248.4) rotate(-47)" font-size="6.55" text-anchor="end"><tspan font-style="italic">n</tspan> = 187</text>
<text x="633.6" y="177.6" font-size="6.55" text-anchor="middle">PADIT-seq</text>
<text x="633.6" y="185.4" font-size="6.55" text-anchor="middle">active?</text>
<text x="633.6" y="193.5" font-size="6.55" text-anchor="middle">(<tspan font-style="italic">n</tspan> = 1,780)</text>
<text x="633.6" y="210.2" font-size="6.55" text-anchor="middle">HT-SELEX</text>
<text x="633.6" y="218.0" font-size="6.55" text-anchor="middle">enriched in</text>
<text x="633.6" y="225.7" font-size="6.55" text-anchor="middle">cycle 4?</text>
<text x="633.6" y="233.6" font-size="6.55" text-anchor="middle">(<tspan font-style="italic">n</tspan> = 198)</text>
<text x="663.7" y="189.2" font-size="6.55" text-anchor="middle" fill="#2fb5b3">Yes</text>
<text x="681.0" y="189.2" font-size="6.55" text-anchor="middle" fill="#e31e24">Yes</text>
<text x="663.7" y="217.1" font-size="6.55" text-anchor="middle" fill="#2fb5b3">Yes</text>
<text x="681.0" y="217.1" font-size="6.55" text-anchor="middle" fill="#e31e24">No</text>
<line x1="664.2" y1="192.4" x2="664.2" y2="210.9" stroke="#6d6e71" stroke-width="0.8"/>
<line x1="680.7" y1="192.4" x2="680.7" y2="210.9" stroke="#6d6e71" stroke-width="0.8"/>
<path d="M664.2 220.1 C664.2 254.5 634.8 258.5 604.8 258.5" fill="none" stroke="#231f20" stroke-width="0.8"/>
<path d="M680.7 220.1 C680.7 264.5 625.0 270.5 575.0 270.5" fill="none" stroke="#231f20" stroke-width="0.8"/>
<line x1="578.5" y1="282.2" x2="578.5" y2="374.2" stroke="#808285" stroke-width="0.8"/>
<line x1="578.5" y1="374.2" x2="615.8" y2="374.2" stroke="#808285" stroke-width="0.8"/>
<line x1="575.9" y1="361.1" x2="578.5" y2="361.1" stroke="#808285" stroke-width="0.7"/>
<text x="574.5" y="363.4" font-size="6.55" text-anchor="end">1.0</text>
<line x1="575.9" y1="317.0" x2="578.5" y2="317.0" stroke="#808285" stroke-width="0.7"/>
<text x="574.5" y="319.3" font-size="6.55" text-anchor="end">3.0</text>
<line x1="575.9" y1="350.1" x2="578.5" y2="350.1" stroke="#808285" stroke-width="0.7"/>
<line x1="575.9" y1="339.0" x2="578.5" y2="339.0" stroke="#808285" stroke-width="0.7"/>
<line x1="575.9" y1="328.0" x2="578.5" y2="328.0" stroke="#808285" stroke-width="0.7"/>
<line x1="575.9" y1="306.0" x2="578.5" y2="306.0" stroke="#808285" stroke-width="0.7"/>
<line x1="588.0" y1="332.9" x2="588.0" y2="349.3" stroke="#231f20" stroke-width="0.75" stroke-dasharray="3.2 2.2"/>
<line x1="588.0" y1="360.7" x2="588.0" y2="371.8" stroke="#231f20" stroke-width="0.75" stroke-dasharray="3.2 2.2"/>
<line x1="584.9" y1="332.9" x2="591.1" y2="332.9" stroke="#231f20" stroke-width="0.8"/>
<line x1="584.9" y1="371.8" x2="591.1" y2="371.8" stroke="#231f20" stroke-width="0.8"/>
<polygon points="581.2,349.3 594.8,349.3 594.8,353.2 593.8,355.2 594.8,357.2 594.8,360.7 581.2,360.7 581.2,357.2 582.2,355.2 581.2,353.2" fill="#e31e24" stroke="#8e1b1d" stroke-width="0.7"/>
<line x1="582.2" y1="355.2" x2="593.8" y2="355.2" stroke="#8e1b1d" stroke-width="1"/>
<line x1="604.0" y1="306.6" x2="604.0" y2="332.1" stroke="#231f20" stroke-width="0.75" stroke-dasharray="3.2 2.2"/>
<line x1="604.0" y1="350.3" x2="604.0" y2="368.5" stroke="#231f20" stroke-width="0.75" stroke-dasharray="3.2 2.2"/>
<line x1="600.9" y1="306.6" x2="607.1" y2="306.6" stroke="#231f20" stroke-width="0.8"/>
<line x1="600.9" y1="368.5" x2="607.1" y2="368.5" stroke="#231f20" stroke-width="0.8"/>
<polygon points="597.0,332.1 611.1,332.1 611.1,337.0 609.1,340.4 611.1,343.8 611.1,350.3 597.0,350.3 597.0,343.8 599.0,340.4 597.0,337.0" fill="#2fb5b3" stroke="#1c6f6e" stroke-width="0.7"/>
<line x1="599.0" y1="340.4" x2="609.1" y2="340.4" stroke="#1c6f6e" stroke-width="1"/>
<line x1="587.7" y1="374.2" x2="587.7" y2="376.8" stroke="#808285" stroke-width="0.7"/>
<line x1="604.3" y1="374.2" x2="604.3" y2="376.8" stroke="#808285" stroke-width="0.7"/>
<text x="596.8" y="291.1" font-size="6.55" text-anchor="middle"><tspan font-style="italic">P</tspan> =</text>
<text x="596.9" y="299.2" font-size="6.55" text-anchor="middle">5.55 × 10<tspan font-size="4.4" dy="-2.6">−40</tspan></text>
<line x1="591.8" y1="302.2" x2="600.3" y2="302.2" stroke="#9a9a9a" stroke-width="0.6"/>
<text transform="translate(589.5 381.4) rotate(-47)" font-size="6.55" text-anchor="end"><tspan font-style="italic">n</tspan> = 848</text>
<text transform="translate(606.1 381.4) rotate(-47)" font-size="6.55" text-anchor="end"><tspan font-style="italic">n</tspan> = 284</text>
<text x="633.6" y="310.6" font-size="6.55" text-anchor="middle">PADIT-seq</text>
<text x="633.6" y="318.1" font-size="6.55" text-anchor="middle">active?</text>
<text x="633.6" y="326.0" font-size="6.55" text-anchor="middle">(<tspan font-style="italic">n</tspan> = 1,132)</text>
<text x="633.6" y="343.0" font-size="6.55" text-anchor="middle">HT-SELEX</text>
<text x="633.6" y="350.9" font-size="6.55" text-anchor="middle">enriched in</text>
<text x="633.6" y="358.4" font-size="6.55" text-anchor="middle">cycle 4?</text>
<text x="633.6" y="366.5" font-size="6.55" text-anchor="middle">(<tspan font-style="italic">n</tspan> = 1,870)</text>
<text x="662.8" y="322.2" font-size="6.55" text-anchor="middle" fill="#2fb5b3">Yes</text>
<text x="679.9" y="322.2" font-size="6.55" text-anchor="middle" fill="#e31e24">Yes</text>
<text x="662.8" y="349.7" font-size="6.55" text-anchor="middle" fill="#2fb5b3">Yes</text>
<text x="679.9" y="349.7" font-size="6.55" text-anchor="middle" fill="#e31e24">No</text>
<line x1="663.3" y1="325.4" x2="663.3" y2="343.5" stroke="#6d6e71" stroke-width="0.8"/>
<line x1="679.6" y1="325.4" x2="679.6" y2="343.5" stroke="#6d6e71" stroke-width="0.8"/>
<path d="M663.3 352.7 C663.3 387.5 641.5 391.5 611.5 391.5" fill="none" stroke="#231f20" stroke-width="0.8"/>
<path d="M679.6 352.7 C679.6 394.4 631.3 400.4 581.3 400.4" fill="none" stroke="#231f20" stroke-width="0.8"/>
<line x1="578.4" y1="411.8" x2="578.4" y2="500.2" stroke="#808285" stroke-width="0.8"/>
<line x1="578.4" y1="500.2" x2="614.0" y2="500.2" stroke="#808285" stroke-width="0.8"/>
<line x1="575.8" y1="492.3" x2="578.4" y2="492.3" stroke="#808285" stroke-width="0.7"/>
<text x="574.4" y="494.6" font-size="6.55" text-anchor="end">1.0</text>
<line x1="575.8" y1="435.2" x2="578.4" y2="435.2" stroke="#808285" stroke-width="0.7"/>
<text x="574.4" y="437.5" font-size="6.55" text-anchor="end">4.0</text>
<line x1="575.8" y1="473.3" x2="578.4" y2="473.3" stroke="#808285" stroke-width="0.7"/>
<line x1="575.8" y1="454.2" x2="578.4" y2="454.2" stroke="#808285" stroke-width="0.7"/>
<line x1="586.9" y1="462.1" x2="586.9" y2="477.2" stroke="#231f20" stroke-width="0.75" stroke-dasharray="3.2 2.2"/>
<line x1="586.9" y1="488.4" x2="586.9" y2="497.4" stroke="#231f20" stroke-width="0.75" stroke-dasharray="3.2 2.2"/>
<line x1="583.8" y1="462.1" x2="590.0" y2="462.1" stroke="#231f20" stroke-width="0.8"/>
<line x1="583.8" y1="497.4" x2="590.0" y2="497.4" stroke="#231f20" stroke-width="0.8"/>
<polygon points="580.4,477.2 593.5,477.2 593.5,480.2 591.5,483.2 593.5,486.2 593.5,488.4 580.4,488.4 580.4,486.2 582.4,483.2 580.4,480.2" fill="#e31e24" stroke="#8e1b1d" stroke-width="0.7"/>
<line x1="582.4" y1="483.2" x2="591.5" y2="483.2" stroke="#8e1b1d" stroke-width="1"/>
<line x1="603.4" y1="432.9" x2="603.4" y2="454.1" stroke="#231f20" stroke-width="0.75" stroke-dasharray="3.2 2.2"/>
<line x1="603.4" y1="478.6" x2="603.4" y2="492.9" stroke="#231f20" stroke-width="0.75" stroke-dasharray="3.2 2.2"/>
<line x1="600.3" y1="432.9" x2="606.5" y2="432.9" stroke="#231f20" stroke-width="0.8"/>
<line x1="600.3" y1="492.9" x2="606.5" y2="492.9" stroke="#231f20" stroke-width="0.8"/>
<polygon points="596.6,454.1 610.2,454.1 610.2,458.6 607.2,466.2 610.2,473.8 610.2,478.6 596.6,478.6 596.6,473.8 599.6,466.2 596.6,458.6" fill="#2fb5b3" stroke="#1c6f6e" stroke-width="0.7"/>
<line x1="599.6" y1="466.2" x2="607.2" y2="466.2" stroke="#1c6f6e" stroke-width="1"/>
<line x1="587.0" y1="500.2" x2="587.0" y2="502.8" stroke="#808285" stroke-width="0.7"/>
<line x1="603.6" y1="500.2" x2="603.6" y2="502.8" stroke="#808285" stroke-width="0.7"/>
<text x="596.8" y="419.4" font-size="6.55" text-anchor="middle"><tspan font-style="italic">P</tspan> =</text>
<text x="596.9" y="427.7" font-size="6.55" text-anchor="middle">5.75 × 10<tspan font-size="4.4" dy="-2.6">−21</tspan></text>
<line x1="590.2" y1="430.0" x2="594.6" y2="430.0" stroke="#9a9a9a" stroke-width="0.6"/>
<text transform="translate(588.8 507.4) rotate(-47)" font-size="6.55" text-anchor="end"><tspan font-style="italic">n</tspan> = 387</text>
<text transform="translate(605.4 507.4) rotate(-47)" font-size="6.55" text-anchor="end"><tspan font-style="italic">n</tspan> = 74</text>
<text x="633.6" y="437.1" font-size="6.55" text-anchor="middle">PADIT-seq</text>
<text x="633.6" y="444.6" font-size="6.55" text-anchor="middle">active?</text>
<text x="633.6" y="452.6" font-size="6.55" text-anchor="middle">(<tspan font-style="italic">n</tspan> = 461)</text>
<text x="633.6" y="469.3" font-size="6.55" text-anchor="middle">HT-SELEX</text>
<text x="633.6" y="477.1" font-size="6.55" text-anchor="middle">enriched in</text>
<text x="633.6" y="484.7" font-size="6.55" text-anchor="middle">cycle 3?</text>
<text x="633.6" y="492.7" font-size="6.55" text-anchor="middle">(<tspan font-style="italic">n</tspan> = 365)</text>
<text x="663.6" y="448.0" font-size="6.55" text-anchor="middle" fill="#2fb5b3">Yes</text>
<text x="681.0" y="448.0" font-size="6.55" text-anchor="middle" fill="#e31e24">Yes</text>
<text x="663.6" y="475.3" font-size="6.55" text-anchor="middle" fill="#2fb5b3">Yes</text>
<text x="681.0" y="475.3" font-size="6.55" text-anchor="middle" fill="#e31e24">No</text>
<line x1="664.1" y1="451.2" x2="664.1" y2="469.1" stroke="#6d6e71" stroke-width="0.8"/>
<line x1="680.7" y1="451.2" x2="680.7" y2="469.1" stroke="#6d6e71" stroke-width="0.8"/>
<path d="M664.1 478.3 C664.1 516.3 626.2 520.3 596.2 520.3" fill="none" stroke="#231f20" stroke-width="0.8"/>
<path d="M680.7 478.3 C680.7 524.2 625.2 530.2 575.2 530.2" fill="none" stroke="#231f20" stroke-width="0.8"/>
<line x1="578.5" y1="541.9" x2="578.5" y2="634.9" stroke="#808285" stroke-width="0.8"/>
<line x1="578.5" y1="634.9" x2="614.5" y2="634.9" stroke="#808285" stroke-width="0.8"/>
<line x1="575.9" y1="628.9" x2="578.5" y2="628.9" stroke="#808285" stroke-width="0.7"/>
<text x="574.5" y="631.2" font-size="6.55" text-anchor="end">0.5</text>
<line x1="575.9" y1="601.7" x2="578.5" y2="601.7" stroke="#808285" stroke-width="0.7"/>
<text x="574.5" y="604.0" font-size="6.55" text-anchor="end">1.5</text>
<line x1="575.9" y1="574.5" x2="578.5" y2="574.5" stroke="#808285" stroke-width="0.7"/>
<text x="574.5" y="576.8" font-size="6.55" text-anchor="end">2.5</text>
<line x1="575.9" y1="615.3" x2="578.5" y2="615.3" stroke="#808285" stroke-width="0.7"/>
<line x1="575.9" y1="588.1" x2="578.5" y2="588.1" stroke="#808285" stroke-width="0.7"/>
<line x1="588.1" y1="591.2" x2="588.1" y2="611.2" stroke="#231f20" stroke-width="0.75" stroke-dasharray="3.2 2.2"/>
<line x1="588.1" y1="625.4" x2="588.1" y2="632.2" stroke="#231f20" stroke-width="0.75" stroke-dasharray="3.2 2.2"/>
<line x1="585.0" y1="591.2" x2="591.2" y2="591.2" stroke="#231f20" stroke-width="0.8"/>
<line x1="585.0" y1="632.2" x2="591.2" y2="632.2" stroke="#231f20" stroke-width="0.8"/>
<polygon points="581.6,611.2 594.7,611.2 594.7,617.4 592.7,620.4 594.7,623.4 594.7,625.4 581.6,625.4 581.6,623.4 583.6,620.4 581.6,617.4" fill="#e31e24" stroke="#8e1b1d" stroke-width="0.7"/>
<line x1="583.6" y1="620.4" x2="592.7" y2="620.4" stroke="#8e1b1d" stroke-width="1"/>
<line x1="604.1" y1="566.2" x2="604.1" y2="583.9" stroke="#231f20" stroke-width="0.75" stroke-dasharray="3.2 2.2"/>
<line x1="604.1" y1="613.8" x2="604.1" y2="630.1" stroke="#231f20" stroke-width="0.75" stroke-dasharray="3.2 2.2"/>
<line x1="601.0" y1="566.2" x2="607.2" y2="566.2" stroke="#231f20" stroke-width="0.8"/>
<line x1="601.0" y1="630.1" x2="607.2" y2="630.1" stroke="#231f20" stroke-width="0.8"/>
<polygon points="597.4,583.9 610.8,583.9 610.8,592.1 607.3,598.6 610.8,605.1 610.8,613.8 597.4,613.8 597.4,605.1 600.9,598.6 597.4,592.1" fill="#2fb5b3" stroke="#1c6f6e" stroke-width="0.7"/>
<line x1="600.9" y1="598.6" x2="607.3" y2="598.6" stroke="#1c6f6e" stroke-width="1"/>
<line x1="588.0" y1="634.9" x2="588.0" y2="637.5" stroke="#808285" stroke-width="0.7"/>
<line x1="604.1" y1="634.9" x2="604.1" y2="637.5" stroke="#808285" stroke-width="0.7"/>
<text x="596.8" y="549.1" font-size="6.55" text-anchor="middle"><tspan font-style="italic">P</tspan> =</text>
<text x="596.9" y="557.3" font-size="6.55" text-anchor="middle">4.70 × 10<tspan font-size="4.4" dy="-2.6">−17</tspan></text>
<line x1="592.4" y1="559.6" x2="600.8" y2="559.6" stroke="#9a9a9a" stroke-width="0.6"/>
<text transform="translate(589.8 642.1) rotate(-47)" font-size="6.55" text-anchor="end"><tspan font-style="italic">n</tspan> = 462</text>
<text transform="translate(605.9 642.1) rotate(-47)" font-size="6.55" text-anchor="end"><tspan font-style="italic">n</tspan> = 72</text>
<text x="633.6" y="571.6" font-size="6.55" text-anchor="middle">PADIT-seq</text>
<text x="633.6" y="579.7" font-size="6.55" text-anchor="middle">active?</text>
<text x="633.6" y="588.0" font-size="6.55" text-anchor="middle">(<tspan font-style="italic">n</tspan> = 554)</text>
<text x="633.6" y="603.9" font-size="6.55" text-anchor="middle">HT-SELEX</text>
<text x="633.6" y="611.6" font-size="6.55" text-anchor="middle">enriched in</text>
<text x="633.6" y="619.8" font-size="6.55" text-anchor="middle">cycle 2?</text>
<text x="633.6" y="628.3" font-size="6.55" text-anchor="middle">(<tspan font-style="italic">n</tspan> = 83)</text>
<text x="661.8" y="582.3" font-size="6.55" text-anchor="middle" fill="#2fb5b3">Yes</text>
<text x="678.8" y="582.3" font-size="6.55" text-anchor="middle" fill="#e31e24">Yes</text>
<text x="661.8" y="610.1" font-size="6.55" text-anchor="middle" fill="#2fb5b3">Yes</text>
<text x="678.8" y="610.1" font-size="6.55" text-anchor="middle" fill="#e31e24">No</text>
<line x1="662.3" y1="585.5" x2="662.3" y2="603.9" stroke="#6d6e71" stroke-width="0.8"/>
<line x1="678.5" y1="585.5" x2="678.5" y2="603.9" stroke="#6d6e71" stroke-width="0.8"/>
<path d="M662.3 613.1 C662.3 646.0 632.6 650.0 602.6 650.0" fill="none" stroke="#231f20" stroke-width="0.8"/>
<path d="M678.5 613.1 C678.5 652.5 627.8 658.5 577.8 658.5" fill="none" stroke="#231f20" stroke-width="0.8"/>
<text x="141.0" y="155.6" font-size="10.5" font-weight="bold">c</text>
<text x="283.0" y="154.8" font-size="10.5" font-weight="bold">d</text>
<text x="423.0" y="155.6" font-size="10.5" font-weight="bold">e</text>
</svg></body></html>
